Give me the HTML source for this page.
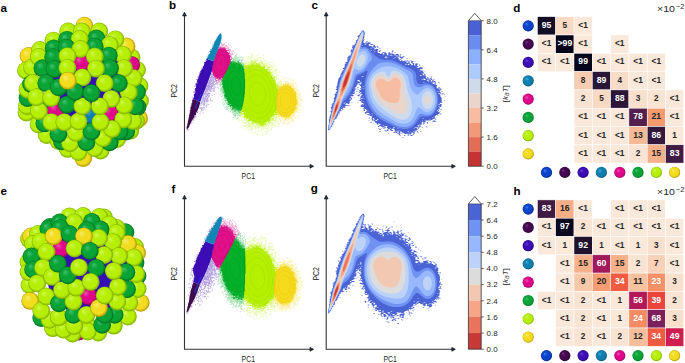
<!DOCTYPE html><html><head><meta charset="utf-8"><style>html,body{margin:0;padding:0;background:#fff;}svg{display:block;}</style></head><body><svg width="685" height="363" viewBox="0 0 685 363" font-family='"Liberation Sans", sans-serif'><defs><radialGradient id="gbl" cx="0.5" cy="0.5" r="0.5" fx="0.33" fy="0.3"><stop offset="0" stop-color="#4a78e8"/><stop offset="0.4" stop-color="#0a44cc"/><stop offset="0.78" stop-color="#0a44cc"/><stop offset="0.97" stop-color="#062a8a"/><stop offset="1" stop-color="#062a8a"/></radialGradient><radialGradient id="gdp" cx="0.5" cy="0.5" r="0.5" fx="0.33" fy="0.3"><stop offset="0" stop-color="#6a3078"/><stop offset="0.4" stop-color="#44074f"/><stop offset="0.78" stop-color="#44074f"/><stop offset="0.97" stop-color="#2a0432"/><stop offset="1" stop-color="#2a0432"/></radialGradient><radialGradient id="gin" cx="0.5" cy="0.5" r="0.5" fx="0.33" fy="0.3"><stop offset="0" stop-color="#6440d8"/><stop offset="0.4" stop-color="#3c0cb4"/><stop offset="0.78" stop-color="#3c0cb4"/><stop offset="0.97" stop-color="#24077a"/><stop offset="1" stop-color="#24077a"/></radialGradient><radialGradient id="gte" cx="0.5" cy="0.5" r="0.5" fx="0.33" fy="0.3"><stop offset="0" stop-color="#48a8d4"/><stop offset="0.4" stop-color="#0e80b0"/><stop offset="0.78" stop-color="#0e80b0"/><stop offset="0.97" stop-color="#0a5a80"/><stop offset="1" stop-color="#0a5a80"/></radialGradient><radialGradient id="gma" cx="0.5" cy="0.5" r="0.5" fx="0.33" fy="0.3"><stop offset="0" stop-color="#f050b0"/><stop offset="0.4" stop-color="#e0088a"/><stop offset="0.78" stop-color="#e0088a"/><stop offset="0.97" stop-color="#a00062"/><stop offset="1" stop-color="#a00062"/></radialGradient><radialGradient id="ggr" cx="0.5" cy="0.5" r="0.5" fx="0.33" fy="0.3"><stop offset="0" stop-color="#40c070"/><stop offset="0.4" stop-color="#0aa436"/><stop offset="0.78" stop-color="#0aa436"/><stop offset="0.97" stop-color="#067424"/><stop offset="1" stop-color="#067424"/></radialGradient><radialGradient id="gli" cx="0.5" cy="0.5" r="0.5" fx="0.33" fy="0.3"><stop offset="0" stop-color="#d0f850"/><stop offset="0.4" stop-color="#b6ee08"/><stop offset="0.78" stop-color="#b6ee08"/><stop offset="0.97" stop-color="#84b400"/><stop offset="1" stop-color="#84b400"/></radialGradient><radialGradient id="gye" cx="0.5" cy="0.5" r="0.5" fx="0.33" fy="0.3"><stop offset="0" stop-color="#f8ec70"/><stop offset="0.4" stop-color="#f2dc20"/><stop offset="0.78" stop-color="#f2dc20"/><stop offset="0.97" stop-color="#b89c00"/><stop offset="1" stop-color="#b89c00"/></radialGradient><marker id="arr" viewBox="0 0 10 10" refX="10" refY="5" markerWidth="4" markerHeight="4" orient="auto" markerUnits="userSpaceOnUse"><path d="M0,0 L10,5 L0,10 z" fill="#1d3a5c" stroke="#111" stroke-width="1.5"/></marker></defs><rect width="685" height="363" fill="#fff"/><path d="M184.5,13.3 L184.5,166.3 L312.6,166.3" fill="none" stroke="#333" stroke-width="1.1"/><path d="M182.6,15.9 L184.5,12.3 L186.4,15.9 z" fill="#1d3a5c" stroke="#111" stroke-width="0.7" stroke-linejoin="miter"/><path d="M310.0,164.4 L313.6,166.3 L310.0,168.20000000000002 z" fill="#1d3a5c" stroke="#111" stroke-width="0.7"/><path d="M326.2,13.3 L326.2,166.3 L454.4,166.3" fill="none" stroke="#333" stroke-width="1.1"/><path d="M324.3,15.9 L326.2,12.3 L328.09999999999997,15.9 z" fill="#1d3a5c" stroke="#111" stroke-width="0.7" stroke-linejoin="miter"/><path d="M451.79999999999995,164.4 L455.4,166.3 L451.79999999999995,168.20000000000002 z" fill="#1d3a5c" stroke="#111" stroke-width="0.7"/><text transform="translate(177.2,90.8) rotate(-90)" font-size="8.3" text-anchor="middle" fill="#262626" textLength="13.4" lengthAdjust="spacingAndGlyphs">PC2</text><text transform="translate(319.0,90.8) rotate(-90)" font-size="8.3" text-anchor="middle" fill="#262626" textLength="13.4" lengthAdjust="spacingAndGlyphs">PC2</text><text x="248.3" y="178.8" font-size="8.3" text-anchor="middle" fill="#262626" textLength="13.4" lengthAdjust="spacingAndGlyphs">PC1</text><text x="390.1" y="178.8" font-size="8.3" text-anchor="middle" fill="#262626" textLength="13.4" lengthAdjust="spacingAndGlyphs">PC1</text><text transform="translate(507.6,93.7) rotate(-90)" font-size="8" text-anchor="middle" fill="#262626">[<tspan font-style="italic">k</tspan><tspan font-style="italic" font-size="5.5" dy="1.5">B</tspan><tspan font-style="italic" dy="-1.5">T</tspan>]</text><text x="657" y="12" font-size="9.6" fill="#262626" textLength="18" lengthAdjust="spacingAndGlyphs">×10</text><text x="675.8" y="8.9" font-size="7" fill="#262626" textLength="8.6" lengthAdjust="spacingAndGlyphs">−2</text><path d="M184.5,196.3 L184.5,349.3 L312.6,349.3" fill="none" stroke="#333" stroke-width="1.1"/><path d="M182.6,198.9 L184.5,195.3 L186.4,198.9 z" fill="#1d3a5c" stroke="#111" stroke-width="0.7" stroke-linejoin="miter"/><path d="M310.0,347.40000000000003 L313.6,349.3 L310.0,351.2 z" fill="#1d3a5c" stroke="#111" stroke-width="0.7"/><path d="M326.2,196.3 L326.2,349.3 L454.4,349.3" fill="none" stroke="#333" stroke-width="1.1"/><path d="M324.3,198.9 L326.2,195.3 L328.09999999999997,198.9 z" fill="#1d3a5c" stroke="#111" stroke-width="0.7" stroke-linejoin="miter"/><path d="M451.79999999999995,347.40000000000003 L455.4,349.3 L451.79999999999995,351.2 z" fill="#1d3a5c" stroke="#111" stroke-width="0.7"/><text transform="translate(177.2,273.8) rotate(-90)" font-size="8.3" text-anchor="middle" fill="#262626" textLength="13.4" lengthAdjust="spacingAndGlyphs">PC2</text><text transform="translate(319.0,273.8) rotate(-90)" font-size="8.3" text-anchor="middle" fill="#262626" textLength="13.4" lengthAdjust="spacingAndGlyphs">PC2</text><text x="248.3" y="361.8" font-size="8.3" text-anchor="middle" fill="#262626" textLength="13.4" lengthAdjust="spacingAndGlyphs">PC1</text><text x="390.1" y="361.8" font-size="8.3" text-anchor="middle" fill="#262626" textLength="13.4" lengthAdjust="spacingAndGlyphs">PC1</text><text transform="translate(507.6,276.7) rotate(-90)" font-size="8" text-anchor="middle" fill="#262626">[<tspan font-style="italic">k</tspan><tspan font-style="italic" font-size="5.5" dy="1.5">B</tspan><tspan font-style="italic" dy="-1.5">T</tspan>]</text><text x="657" y="195" font-size="9.6" fill="#262626" textLength="18" lengthAdjust="spacingAndGlyphs">×10</text><text x="675.8" y="191.9" font-size="7" fill="#262626" textLength="8.6" lengthAdjust="spacingAndGlyphs">−2</text><rect x="468.4" y="20.70" width="12.800000000000011" height="14.60" fill="#4961d2"/><rect x="468.4" y="35.25" width="12.800000000000011" height="14.60" fill="#6a8bef"/><rect x="468.4" y="49.80" width="12.800000000000011" height="14.60" fill="#8db0fe"/><rect x="468.4" y="64.35" width="12.800000000000011" height="14.60" fill="#afcafc"/><rect x="468.4" y="78.90" width="12.800000000000011" height="14.60" fill="#cfdaea"/><rect x="468.4" y="93.45" width="12.800000000000011" height="14.60" fill="#e9d5cb"/><rect x="468.4" y="108.00" width="12.800000000000011" height="14.60" fill="#f6bda2"/><rect x="468.4" y="122.55" width="12.800000000000011" height="14.60" fill="#f4987a"/><rect x="468.4" y="137.10" width="12.800000000000011" height="14.60" fill="#e36c55"/><rect x="468.4" y="151.65" width="12.800000000000011" height="14.60" fill="#c53334"/><path d="M468.4,166.2 L468.4,20.7 L474.79999999999995,13.299999999999999 L481.2,20.7 L481.2,166.2 z" fill="none" stroke="#333" stroke-width="0.8"/><path d="M468.4,20.7 L481.2,20.7" stroke="#333" stroke-width="0.5"/><path d="M481.2,166.20 L483.7,166.20" stroke="#333" stroke-width="0.8"/><text x="486.59999999999997" y="169.00" font-size="8" fill="#262626" textLength="11" lengthAdjust="spacingAndGlyphs">0.0</text><path d="M481.2,137.10 L483.7,137.10" stroke="#333" stroke-width="0.8"/><text x="486.59999999999997" y="139.90" font-size="8" fill="#262626" textLength="11" lengthAdjust="spacingAndGlyphs">1.6</text><path d="M481.2,108.00 L483.7,108.00" stroke="#333" stroke-width="0.8"/><text x="486.59999999999997" y="110.80" font-size="8" fill="#262626" textLength="11" lengthAdjust="spacingAndGlyphs">3.2</text><path d="M481.2,78.90 L483.7,78.90" stroke="#333" stroke-width="0.8"/><text x="486.59999999999997" y="81.70" font-size="8" fill="#262626" textLength="11" lengthAdjust="spacingAndGlyphs">4.8</text><path d="M481.2,49.80 L483.7,49.80" stroke="#333" stroke-width="0.8"/><text x="486.59999999999997" y="52.60" font-size="8" fill="#262626" textLength="11" lengthAdjust="spacingAndGlyphs">6.4</text><path d="M481.2,20.70 L483.7,20.70" stroke="#333" stroke-width="0.8"/><text x="486.59999999999997" y="23.50" font-size="8" fill="#262626" textLength="11" lengthAdjust="spacingAndGlyphs">8.0</text><rect x="468.4" y="203.90" width="12.800000000000011" height="16.19" fill="#4b64d5"/><rect x="468.4" y="220.04" width="12.800000000000011" height="16.19" fill="#6f92f3"/><rect x="468.4" y="236.19" width="12.800000000000011" height="16.19" fill="#97b8ff"/><rect x="468.4" y="252.33" width="12.800000000000011" height="16.19" fill="#bcd2f7"/><rect x="468.4" y="268.48" width="12.800000000000011" height="16.19" fill="#dddcdc"/><rect x="468.4" y="284.62" width="12.800000000000011" height="16.19" fill="#f3c8b2"/><rect x="468.4" y="300.77" width="12.800000000000011" height="16.19" fill="#f6a586"/><rect x="468.4" y="316.91" width="12.800000000000011" height="16.19" fill="#e7745b"/><rect x="468.4" y="333.06" width="12.800000000000011" height="16.19" fill="#c83836"/><path d="M468.4,349.2 L468.4,203.9 L474.79999999999995,196.5 L481.2,203.9 L481.2,349.2 z" fill="none" stroke="#333" stroke-width="0.8"/><path d="M468.4,203.9 L481.2,203.9" stroke="#333" stroke-width="0.5"/><path d="M481.2,349.20 L483.7,349.20" stroke="#333" stroke-width="0.8"/><text x="486.59999999999997" y="352.00" font-size="8" fill="#262626" textLength="11" lengthAdjust="spacingAndGlyphs">0.0</text><path d="M481.2,333.06 L483.7,333.06" stroke="#333" stroke-width="0.8"/><text x="486.59999999999997" y="335.86" font-size="8" fill="#262626" textLength="11" lengthAdjust="spacingAndGlyphs">0.8</text><path d="M481.2,316.91 L483.7,316.91" stroke="#333" stroke-width="0.8"/><text x="486.59999999999997" y="319.71" font-size="8" fill="#262626" textLength="11" lengthAdjust="spacingAndGlyphs">1.6</text><path d="M481.2,300.77 L483.7,300.77" stroke="#333" stroke-width="0.8"/><text x="486.59999999999997" y="303.57" font-size="8" fill="#262626" textLength="11" lengthAdjust="spacingAndGlyphs">2.4</text><path d="M481.2,284.62 L483.7,284.62" stroke="#333" stroke-width="0.8"/><text x="486.59999999999997" y="287.42" font-size="8" fill="#262626" textLength="11" lengthAdjust="spacingAndGlyphs">3.2</text><path d="M481.2,268.48 L483.7,268.48" stroke="#333" stroke-width="0.8"/><text x="486.59999999999997" y="271.28" font-size="8" fill="#262626" textLength="11" lengthAdjust="spacingAndGlyphs">4.0</text><path d="M481.2,252.33 L483.7,252.33" stroke="#333" stroke-width="0.8"/><text x="486.59999999999997" y="255.13" font-size="8" fill="#262626" textLength="11" lengthAdjust="spacingAndGlyphs">4.8</text><path d="M481.2,236.19 L483.7,236.19" stroke="#333" stroke-width="0.8"/><text x="486.59999999999997" y="238.99" font-size="8" fill="#262626" textLength="11" lengthAdjust="spacingAndGlyphs">5.6</text><path d="M481.2,220.04 L483.7,220.04" stroke="#333" stroke-width="0.8"/><text x="486.59999999999997" y="222.84" font-size="8" fill="#262626" textLength="11" lengthAdjust="spacingAndGlyphs">6.4</text><path d="M481.2,203.90 L483.7,203.90" stroke="#333" stroke-width="0.8"/><text x="486.59999999999997" y="206.70" font-size="8" fill="#262626" textLength="11" lengthAdjust="spacingAndGlyphs">7.2</text><ellipse cx="88" cy="92" rx="42" ry="44" fill="#3410b4"/><circle cx="83.2" cy="158.0" r="8.9" fill="url(#gye)"/><circle cx="28.5" cy="56.0" r="8.9" fill="url(#gye)"/><circle cx="84.4" cy="25.7" r="8.9" fill="url(#gye)"/><circle cx="26.5" cy="112.5" r="8.9" fill="url(#gli)"/><circle cx="100.6" cy="150.5" r="8.9" fill="url(#gli)"/><circle cx="26.0" cy="70.5" r="8.9" fill="url(#gli)"/><circle cx="67.8" cy="148.9" r="8.9" fill="url(#gli)"/><circle cx="139.0" cy="118.5" r="8.9" fill="url(#gye)"/><circle cx="130.3" cy="130.7" r="8.9" fill="url(#gli)"/><circle cx="40.0" cy="50.0" r="8.9" fill="url(#gli)"/><circle cx="27.0" cy="106.0" r="8.9" fill="url(#gli)"/><circle cx="136.0" cy="121.0" r="8.9" fill="url(#gli)"/><circle cx="46.7" cy="135.0" r="8.9" fill="url(#gli)"/><circle cx="117.1" cy="139.0" r="8.9" fill="url(#gli)"/><circle cx="126.2" cy="131.5" r="8.9" fill="url(#ggr)"/><circle cx="27.5" cy="98.0" r="8.9" fill="url(#ggr)"/><circle cx="38.6" cy="124.5" r="8.9" fill="url(#gli)"/><circle cx="27.5" cy="89.5" r="8.9" fill="url(#gli)"/><circle cx="58.4" cy="140.9" r="8.9" fill="url(#gli)"/><circle cx="131.5" cy="57.5" r="8.9" fill="url(#gli)"/><circle cx="140.0" cy="101.0" r="8.9" fill="url(#gli)"/><circle cx="137.0" cy="70.0" r="8.9" fill="url(#gli)"/><circle cx="137.5" cy="107.0" r="8.9" fill="url(#ggr)"/><circle cx="139.5" cy="86.0" r="8.9" fill="url(#gli)"/><circle cx="31.0" cy="84.0" r="8.9" fill="url(#ggr)"/><circle cx="131.2" cy="64.9" r="8.9" fill="url(#gma)"/><circle cx="137.0" cy="92.0" r="8.9" fill="url(#ggr)"/><circle cx="45.5" cy="103.0" r="8.9" fill="url(#ggr)"/><circle cx="55.6" cy="110.2" r="8.9" fill="url(#gma)"/><circle cx="109.8" cy="113.0" r="8.9" fill="url(#gma)"/><circle cx="81.3" cy="63.0" r="8.9" fill="url(#gma)"/><circle cx="90.7" cy="115.0" r="8.9" fill="url(#gte)"/><circle cx="78.5" cy="152.0" r="8.9" fill="url(#gli)"/><circle cx="68.2" cy="31.5" r="8.9" fill="url(#gli)"/><circle cx="99.3" cy="31.5" r="8.9" fill="url(#gli)"/><circle cx="126.5" cy="46.5" r="8.9" fill="url(#gye)"/><circle cx="115.4" cy="39.4" r="8.9" fill="url(#gli)"/><circle cx="94.8" cy="148.1" r="8.9" fill="url(#gli)"/><circle cx="53.5" cy="40.6" r="8.9" fill="url(#gli)"/><circle cx="81.9" cy="31.5" r="8.9" fill="url(#gli)"/><circle cx="109.7" cy="142.3" r="8.9" fill="url(#ggr)"/><circle cx="32.0" cy="67.5" r="8.9" fill="url(#gli)"/><circle cx="133.0" cy="121.0" r="8.9" fill="url(#gli)"/><circle cx="38.8" cy="57.0" r="8.9" fill="url(#gli)"/><circle cx="62.0" cy="141.4" r="8.9" fill="url(#ggr)"/><circle cx="70.1" cy="143.2" r="8.9" fill="url(#gli)"/><circle cx="119.6" cy="131.5" r="8.9" fill="url(#ggr)"/><circle cx="67.0" cy="39.8" r="8.9" fill="url(#ggr)"/><circle cx="135.3" cy="106.3" r="8.9" fill="url(#ggr)"/><circle cx="96.4" cy="38.5" r="8.9" fill="url(#ggr)"/><circle cx="44.4" cy="123.4" r="8.9" fill="url(#ggr)"/><circle cx="33.0" cy="83.2" r="8.9" fill="url(#gli)"/><circle cx="86.5" cy="142.3" r="8.9" fill="url(#ggr)"/><circle cx="53.7" cy="48.4" r="8.9" fill="url(#ggr)"/><circle cx="122.9" cy="54.8" r="8.9" fill="url(#gli)"/><circle cx="103.0" cy="138.1" r="8.9" fill="url(#gli)"/><circle cx="58.4" cy="133.9" r="8.9" fill="url(#ggr)"/><circle cx="79.7" cy="39.0" r="8.9" fill="url(#gli)"/><circle cx="109.7" cy="45.1" r="8.9" fill="url(#gli)"/><circle cx="38.9" cy="111.1" r="8.9" fill="url(#gli)"/><circle cx="133.6" cy="78.2" r="8.9" fill="url(#gli)"/><circle cx="36.4" cy="97.2" r="8.9" fill="url(#gli)"/><circle cx="123.3" cy="119.5" r="8.9" fill="url(#gli)"/><circle cx="42.5" cy="68.2" r="8.9" fill="url(#ggr)"/><circle cx="112.1" cy="129.0" r="8.9" fill="url(#gli)"/><circle cx="51.4" cy="122.2" r="8.9" fill="url(#gli)"/><circle cx="66.7" cy="47.7" r="8.9" fill="url(#ggr)"/><circle cx="53.2" cy="57.2" r="8.9" fill="url(#ggr)"/><circle cx="124.1" cy="68.2" r="8.9" fill="url(#gli)"/><circle cx="94.8" cy="46.7" r="8.9" fill="url(#ggr)"/><circle cx="128.7" cy="92.3" r="8.9" fill="url(#gli)"/><circle cx="75.9" cy="132.7" r="8.9" fill="url(#gli)"/><circle cx="124.5" cy="105.5" r="8.9" fill="url(#gli)"/><circle cx="91.5" cy="131.5" r="8.9" fill="url(#ggr)"/><circle cx="108.8" cy="55.6" r="8.9" fill="url(#ggr)"/><circle cx="80.5" cy="49.0" r="8.9" fill="url(#gli)"/><circle cx="46.3" cy="83.2" r="8.9" fill="url(#ggr)"/><circle cx="64.3" cy="122.2" r="8.9" fill="url(#gli)"/><circle cx="67.5" cy="56.1" r="8.9" fill="url(#gli)"/><circle cx="54.5" cy="69.0" r="8.9" fill="url(#ggr)"/><circle cx="100.6" cy="122.0" r="8.9" fill="url(#gli)"/><circle cx="94.8" cy="56.5" r="8.9" fill="url(#gli)"/><circle cx="51.2" cy="98.0" r="8.9" fill="url(#gli)"/><circle cx="118.8" cy="83.2" r="8.9" fill="url(#ggr)"/><circle cx="110.0" cy="68.2" r="8.9" fill="url(#ggr)"/><circle cx="78.5" cy="121.5" r="8.9" fill="url(#gli)"/><circle cx="67.4" cy="67.8" r="8.9" fill="url(#gli)"/><circle cx="111.3" cy="98.9" r="8.9" fill="url(#gli)"/><circle cx="58.7" cy="87.3" r="8.9" fill="url(#ggr)"/><circle cx="96.0" cy="68.6" r="8.9" fill="url(#gli)"/><circle cx="67.0" cy="104.7" r="8.9" fill="url(#ggr)"/><circle cx="99.8" cy="106.3" r="8.9" fill="url(#gli)"/><circle cx="104.7" cy="83.2" r="8.9" fill="url(#gli)"/><circle cx="82.4" cy="106.3" r="8.9" fill="url(#gli)"/><circle cx="82.4" cy="77.4" r="8.9" fill="url(#gli)"/><circle cx="75.1" cy="91.8" r="8.9" fill="url(#ggr)"/><circle cx="91.5" cy="93.1" r="8.9" fill="url(#ggr)"/><circle cx="67.8" cy="80.7" r="8.9" fill="url(#gye)"/><ellipse cx="88" cy="272" rx="42" ry="44" fill="#3410b4"/><circle cx="29.0" cy="239.0" r="8.9" fill="url(#gli)"/><circle cx="52.9" cy="328.1" r="8.9" fill="url(#gli)"/><circle cx="31.0" cy="236.5" r="8.9" fill="url(#gye)"/><circle cx="41.3" cy="318.0" r="8.9" fill="url(#ggr)"/><circle cx="38.0" cy="234.0" r="8.9" fill="url(#gli)"/><circle cx="79.0" cy="331.5" r="8.9" fill="url(#gma)"/><circle cx="49.6" cy="319.8" r="8.9" fill="url(#gli)"/><circle cx="33.0" cy="244.0" r="8.9" fill="url(#gli)"/><circle cx="104.0" cy="217.5" r="8.9" fill="url(#gli)"/><circle cx="28.5" cy="262.0" r="8.9" fill="url(#gli)"/><circle cx="50.0" cy="227.0" r="8.9" fill="url(#ggr)"/><circle cx="29.5" cy="285.0" r="8.9" fill="url(#gli)"/><circle cx="125.4" cy="232.2" r="8.9" fill="url(#ggr)"/><circle cx="28.5" cy="272.0" r="8.9" fill="url(#gli)"/><circle cx="48.4" cy="229.0" r="8.9" fill="url(#ggr)"/><circle cx="135.0" cy="247.0" r="8.9" fill="url(#gli)"/><circle cx="137.0" cy="253.0" r="8.9" fill="url(#gye)"/><circle cx="116.6" cy="228.0" r="8.9" fill="url(#gli)"/><circle cx="87.4" cy="325.6" r="8.9" fill="url(#gli)"/><circle cx="137.5" cy="276.0" r="8.9" fill="url(#ggr)"/><circle cx="135.5" cy="263.0" r="8.9" fill="url(#ggr)"/><circle cx="38.8" cy="254.6" r="8.9" fill="url(#ggr)"/><circle cx="61.0" cy="248.8" r="8.9" fill="url(#gma)"/><circle cx="88.2" cy="296.0" r="8.9" fill="url(#gma)"/><circle cx="140.7" cy="302.8" r="8.9" fill="url(#gye)"/><circle cx="72.5" cy="333.5" r="8.9" fill="url(#gli)"/><circle cx="30.2" cy="300.9" r="8.9" fill="url(#gye)"/><circle cx="98.3" cy="332.5" r="8.9" fill="url(#gli)"/><circle cx="127.9" cy="316.5" r="8.9" fill="url(#gli)"/><circle cx="63.6" cy="329.7" r="8.9" fill="url(#gli)"/><circle cx="113.8" cy="325.6" r="8.9" fill="url(#gli)"/><circle cx="87.8" cy="331.5" r="8.9" fill="url(#gli)"/><circle cx="41.3" cy="310.7" r="8.9" fill="url(#gli)"/><circle cx="69.5" cy="216.5" r="8.9" fill="url(#gli)"/><circle cx="99.3" cy="217.0" r="8.9" fill="url(#gli)"/><circle cx="83.1" cy="216.0" r="8.9" fill="url(#gli)"/><circle cx="31.5" cy="256.5" r="8.9" fill="url(#ggr)"/><circle cx="59.6" cy="222.5" r="8.9" fill="url(#ggr)"/><circle cx="102.2" cy="324.8" r="8.9" fill="url(#ggr)"/><circle cx="137.6" cy="289.0" r="8.9" fill="url(#gli)"/><circle cx="74.2" cy="326.0" r="8.9" fill="url(#gli)"/><circle cx="40.5" cy="241.5" r="8.9" fill="url(#gli)"/><circle cx="129.3" cy="302.5" r="8.9" fill="url(#gli)"/><circle cx="109.2" cy="224.5" r="8.9" fill="url(#gli)"/><circle cx="58.7" cy="317.3" r="8.9" fill="url(#gli)"/><circle cx="114.6" cy="314.8" r="8.9" fill="url(#ggr)"/><circle cx="33.1" cy="269.5" r="8.9" fill="url(#ggr)"/><circle cx="128.0" cy="244.0" r="8.9" fill="url(#gye)"/><circle cx="136.2" cy="274.0" r="8.9" fill="url(#gli)"/><circle cx="134.0" cy="257.5" r="8.9" fill="url(#gli)"/><circle cx="91.8" cy="221.8" r="8.9" fill="url(#ggr)"/><circle cx="74.4" cy="222.5" r="8.9" fill="url(#gli)"/><circle cx="60.3" cy="228.1" r="8.9" fill="url(#ggr)"/><circle cx="116.6" cy="233.0" r="8.9" fill="url(#gli)"/><circle cx="37.2" cy="283.5" r="8.9" fill="url(#gli)"/><circle cx="53.7" cy="236.3" r="8.9" fill="url(#gye)"/><circle cx="104.7" cy="314.8" r="8.9" fill="url(#ggr)"/><circle cx="46.3" cy="296.5" r="8.9" fill="url(#gli)"/><circle cx="127.0" cy="289.3" r="8.9" fill="url(#ggr)"/><circle cx="100.5" cy="229.5" r="8.9" fill="url(#ggr)"/><circle cx="73.4" cy="314.8" r="8.9" fill="url(#ggr)"/><circle cx="117.3" cy="301.5" r="8.9" fill="url(#gli)"/><circle cx="46.5" cy="252.0" r="8.9" fill="url(#gli)"/><circle cx="86.5" cy="314.8" r="8.9" fill="url(#gli)"/><circle cx="43.0" cy="267.8" r="8.9" fill="url(#gli)"/><circle cx="86.8" cy="230.2" r="8.9" fill="url(#ggr)"/><circle cx="126.4" cy="272.2" r="8.9" fill="url(#ggr)"/><circle cx="69.5" cy="234.0" r="8.9" fill="url(#ggr)"/><circle cx="113.0" cy="242.1" r="8.9" fill="url(#gli)"/><circle cx="59.0" cy="303.3" r="8.9" fill="url(#ggr)"/><circle cx="98.9" cy="308.0" r="8.9" fill="url(#gye)"/><circle cx="119.0" cy="256.0" r="8.9" fill="url(#gli)"/><circle cx="98.9" cy="238.0" r="8.9" fill="url(#gli)"/><circle cx="117.9" cy="286.8" r="8.9" fill="url(#gli)"/><circle cx="84.0" cy="236.3" r="8.9" fill="url(#gye)"/><circle cx="52.1" cy="276.9" r="8.9" fill="url(#gli)"/><circle cx="73.5" cy="301.5" r="8.9" fill="url(#gli)"/><circle cx="104.7" cy="295.5" r="8.9" fill="url(#gli)"/><circle cx="62.0" cy="290.1" r="8.9" fill="url(#gli)"/><circle cx="113.8" cy="271.1" r="8.9" fill="url(#gli)"/><circle cx="57.9" cy="263.7" r="8.9" fill="url(#ggr)"/><circle cx="74.6" cy="248.5" r="8.9" fill="url(#gli)"/><circle cx="104.2" cy="255.0" r="8.9" fill="url(#gli)"/><circle cx="89.8" cy="250.8" r="8.9" fill="url(#ggr)"/><circle cx="76.3" cy="287.7" r="8.9" fill="url(#gli)"/><circle cx="67.8" cy="275.3" r="8.9" fill="url(#ggr)"/><circle cx="96.4" cy="267.8" r="8.9" fill="url(#ggr)"/><circle cx="90.7" cy="281.9" r="8.9" fill="url(#gli)"/><circle cx="79.0" cy="267.4" r="8.9" fill="url(#gli)"/><path d="M410.2,136l.9-.3.9.2.6-.3.3-.8.7-.1.6-.5.3-.4-.1-.9.3-.8.6-.1 0-.9.7-.4.5-.2.5-.5.4-.2.4-.8.7-.1.3-.6.6-.3 0-1 .7-.3.9-.1.4-.4 0-.1-.8 0-.5-.9.9-.3.6-.1 0-.9.2-.9 0-.9.6-.3.8-.1.2.9 0 .8-.2.8-.5.2.1.5.5-.1.4-.7.8-.2 0-.9 0-.9.5-.2.6-.3.4-.7.5-.1.3-.7.7.2.3.9.6-.4.2-.9.8.4.2.6.8-.1.2-.5.8-.2.8-.2.1-.5.9-.4.8 0 .5-.5.5.5.6.4.2.7.8-.3-.3-.6-.9-.2.1-1-.5-.1-.3-.7.2-1 .5 0 .3-.8.5-.5.1 0 .9.2.4.7.5 0 .1-.4-.6-.3 0-.7.5-.3.9-.1.4-.4.1-.5.1-.9.8-.4.1-.5-.6-.1-.1.6-.8.2-.9-.2 0-.5.5-.3.6-.2-.2-.5-.5-.3 0-1 .5-.2.7.2.1 1 .6 0 .2-.5-.2-.5-.8-.4-.1-.9.4-.8.9.1.6-.2-.1-.9.3-.9.1-.8 0-.1-.9-.1-.9-.1-.2-.7.7-.4.8 0 1 .2.3-.7-.8-.2-.3-.7.7-.4 0-1-.7-.4.2-.9-.2-.9-.2-.7-.7-.2 0-.9-.1-.9-.5-.3-.2-.6.5-.4.2-.5 0 .5.8 0 .4.8.6.2 0-.6.8-.3.9.3.1.5.8 0 .1-.5-.4 0-.1 0-.8-.4-.1-.6-.9-.1-.2.7-.7.3-.4-.8-.5-.4 0-.5-.9-.3-.3-.6.3-.7.6-.2.3-.7.6-.2.3-.9.5 0-.2-.4-.3 0-.5.8-.7-.4-.1-.9-.4-.5-.6-.1-.8-.1-.3.7-.7.3-.4.3-.4-.3-.2-.8-.1-.8.3-.7.5-.3-.1-.5-.9 0-.7-.3.1-.9 0-.9-.1-1-.2-.7-.4-.2-1-.2-.7-.2.3-.7.9 0 .1-.6-.6-.1-.6.1-.2.7-.9-.3-.4-.4-.3-.5-.1-.9-.1-.9.8-.3.1-.6-.5-.1-.1.5-.8.5-.1.5-.3.8-.5.1-.4-.1-.2.5-.8 0 0-.5-.2-.8-.2-.7-.8.2-.1.9.1.9-.6.2 0-.7-.8-.4-.1-.4.1-.8.6-.2-.2-.4-.9-.4-.1-.5.2-.5-.1-.5-.9-.1-.3-.7-.1-.5-.7-.4-.3-.9-.4-.5.6-.4-.2-.6-.6.2-.2.6-.9-.2-.1-.5-.8-.1-1-.3 0-.5.5-.1.9-.2.9.2.7-.3 0-.9-.2-.9-.5-.2-.4.6-.1 0-.4-.4-.9-.3-.6.3-.3.9-.9-.1-.9-.3-.4-.2 0-.4.8-.2.6-.1-.1-.6-.9-.2-.6-.2.2-.5.7-.3-.2-.9 0-.9-.5-.1-.4.5-.6 0-.4-.1-.3.6-.1.9.2.8-.7.2-.1-.6-.3-.9-.5-.3 0-.2.6-.4-.2-.6-.8-.1-.9-.2.4-.8.6-.1-.1-.5-1-.2-.8 0-.4-.7-.6 0-.1.5.6.2.2.7-.2.9.9.4.5.1-.5.2-.5.2.5 0 .9.5-.1.9-.8.3-.8-.3-.1-.9-.5-.1-.8-.4-.2-.4-.1-1 .1-.8-.2-1-.6 0-.3.5.1.9-.2.8-.5.1-.9.2-.6-.2.2-.8.9 0 0-.5.3-1-.8-.1-.5.1 0 1-.3.5-.6-.1-.2-.9-.2-.7-.6.2-.2.7-1 .2-.8-.1-.3-.8-.2-.8-.5-.4-.2.8 0 .9-.6.1-1 0-.1-.6.6-.1.4-.7-.4-.9-.7.4-.1.9-.5.1-.2-.5-.1-1-.2-.8-.9 0-.1-.5.5-.1.9-.4-.1-.8-.1-1-.1-.8-.6-.2-.8-.1-1 0-.7.3 0 .8-.1 1-.5 0-.1-.5-.2-.9-.2-.5-.8 0-1-.1-.1-.8-.3-.4-.5 0-.3.9 0 .9-.6.1 0-.5-.1-1-.7-.4-.2-.4-.8-.3-.5.3 0 .8-.2 1 0 .8-.1.5-.5 0-.5-.6-.6-.3.2-.9.5 0-.5-.3-.4-.4-.7-.2-.3-.6-.8 0-1 .1-.8-.3-.2.8-.8.2-.3.7-.5.2-.6-.2-.8-.4-.4-.3-1-.1-.6-.1.2-.9-.1-.9-.2-.9.7-.2.2-.7-.6-.2-.7-.2-.2 0-.9.3-.6.1-.3.6-.7-.2.1-.8.1-.8 1-.1.8-.1-.4-.4-.5-.4-.1-1-.4-.4-.4-.5-.8 0-.5-.9-.5 0-.8-.2-1 0-.6-.2-.1-.9.3-.9 0-.2-.4.4-1 .2-.8-.1-.9-.3-.1-.7-.8-.1-.5.6-.7.2.1.9-.7.4-1-.2-.4-.7.2-.8.2-.9.2-.5.4-.4-.1-.7-.7-.3.2-.4.5-.9 0-.5-.1-.4.1-.7 0-.7.3-.8.3-.5-.1-.7-.1-.6-.4-.9-.1-.5-.4-.4-.4-.5-.4.1-1 .3-.3.5-.5.4 0 .7-.5.7-.5.2-.4.5-.2.7-.2.6-.9.2-.2.5-.7.3-.2.6.6.3.5.1-.2.5-.3.9-.2.4-.3.5-.4.6-.9.3-.1.5.2.4-.1.5-.4.6-.2.7-.2.9-.6.4-.4.1 0 .6 0 .6-.4.2-.2-.5-.8-.1-.4.1-.1.8 0 1-.6.4.2.9-.2.9-.2.4-.9.5-.1.5.1.8 0 .2-.4.7-.4.5.5 0 .3-.8.7.4-.1.8-.2.5-.6.5-.1.8-.1 1-.5.3-.3-.8-.2-.5-.4.4-.2.6-.3.4-.4.8-.4.6-.1 0-.4-.6-.4.4 0 .2.7.4 0 .9-.1.9.1.9-.1.9-.6.3-1 0-.2.6.3.5-.1.4-.8.3-.2.6 0 .9-.1.9-.2.8-.4.5-.5.3-.7.2-.2.5 0 .5.9.1.8.2-.4.6-.8.2-.3.6-.6.4-.2.5-.3.5-.4.7-.5.2-.1.9-.1.8-.5.5-.2.5.4.3 0 .4-.4.3-.5.3-.1.9-.8.2-.2.7-.1.9-.1.5-.1.9-.3.5-.3.8 0 .9-.2.8-.2.6.4.4-.2.5-.7.4-.1.9.1.9.3.5-.1.4-.8.2-.3.7.7.3.9.1 0 .5-.5.2-.2.7-.2.6-.7.3-.2.8-.2.6-.7.2-.2.6.6.4.2.6-.2.5-.3.8-.4.5-.1.6-.6.2.1.7.6.3-.1.7-.3.6-.2.5-.2.9 0 .9-.7.2-.2.6-.7.4-.3.6.3.8 0 .5-.1.5-.4.6-.7.2.3.8.2.6.4.4-.1 1 0 .8-.5.2-.7.3.3.7.6.2-.2.9 0 .5-.4.8-.2.5-.2.9-.4.4-.2.6-.2.8.3.4-.1.5-.4.7-.4.6.2 1 .3.4-.1.5-.3.9.1.8-.2 1-.1.4-.4.9 0 .8-.1.5-.1 1 0 .9-.2.9.6.4.7 0 .4-.4.4-.5.2-.4.3-.9.3-.5.2-.5.4-.5.5.2.5-.3 0-.3-.6-.4.1-.6.2-.7.4 0 .2.8.3 0 .3-.4-.1-.8 0-.3 0-.3-.1-.8.5 0 .3 0 .3-.5.3-.9-.6-.4.3-.6.5-.4.3-.5.7-.3.3-.6.4-.8.4 0 .4-.9.3-.5 0-.8.7-.5.2-.5.1-.8.1-.7.8.2.2.8.4-.5 0-.4-.7-.4.2-.8.2-.5.6-.5.3 0 .3.6.5-.2.3-.8-.8-.3-.1-.6.1-.5.9 0 .1 0 .4 0 .2 1 .7 0 .1-.5-.1-.7-.7-.2.2-.7.9-.1.9-.1.9.1.2-.6-.6-.1-.2-.7.6-.3.9 0 .9 0 .6-.2.3 0 .9.2.6-.2-.2-.6-.8-.1-1 .2-.8-.3-1 .1-.6-.2.3-.4.3-.7.6-.3.4-.7.6.3.2.6 1 .1.8-.1.2-.6 0-.9 0-.9.7-.4.3-.5.3-.5.3-.8.5.5.5-.5 0-.1-.2-.9-.6-.4-.2-.6-.7-.3.3-.7.9 0 .9.1.9-.1.1-.6-.1-.7-.9-.1-.2-.6.6-.2 1 .1.6-.3.1-.9-.2-.9 0-1 .5-.4.3-.5.1-.9.8-.3.4-.5-.8-.5-.3.9-.7.1-.1-.5.1-1 .5-.1.8-.3.1-.4.4-1 .1-.4.8-.4.2-.5-.2-.4.1-.6.8-.1 1 .2.8-.1.3-.8.2-.6.7.1 0 1-.2.9-.5 0-.4.9-.5.3-.1-.8-.8-.4-.4.9.9.1.4.7.4.2.7.3 0 .9.3.4 0 .5-1 .4 0 .5.5.4.6 0-.1.7-1 0-.8.2-.3.5.5.4 0 1-.7.3-.1.6.6 0 .2-.5.6-.1 1-.2.2.8-.7.2-.2.7-.7.3-.2.5-.7.2-.9.2-.5.1 0 .9.5.1.9.3.7-.4 0-.9.6-.3.3-.6.7-.2.8.1.6.1-.1.5-.9.1-.3.8-.1.7-.7.1-.1 1-.2.6-.5.2.1.6.8.4-.4.7-.8.1.1 1 .7 0 1 .2.3.7-.2.9.7.2 1 0 .5.2 0 .9 0 .9-.5.3-.4-.7-.1-.6-.9.1 0 .4.2.5-.6.3-.6.1.1.8.2.6.7.1.9 0 .9 0 .4.5.5.3.2.9-.7.2-.2-.6-.6-.2-.3.6.7.1.2.8 0 .9.2.8 1-.2.5-.2-.1-.6-.6-.2.1-1 .5 0 .8 0 .1.5.5.8.8.1.2.4-.6.3-.7.2-.2.6-.9 0-.7.3.3.6.5.3.1.9.7.3.2-.7.3-.9.8.1 1 .2.8 0 .1.6-.1.5-.8.2-1 .1-.5 0 .3.5.7 0 .9.3.7.2.2.4.9.2.9.1.2.6.2.9-.2.9 0 .9.1.9.2.6.7-.1.1-.9.6.4.4.7.7.2.2.4.6.5.1.9.6.1.8.3.1.5.8.5.1.5.6-.1-.1-.9.4-.6.6.1.3.7.9.1.1.6-.6.1-.8.3 0 .8-1 .1-.5.1.1.4.9.4.5.3 0-.7-.6 0 .6 0 .4-.7.9 0 .4.7.5.2.9 0 .2.7.3.5.8.4 0 .6.7-.1.3-.7.8 0 .3-.7-.3-.7-.8 0-.2-.6.6-.2.9-.1.9 0 .7.3-.3.7-.6.1.2.6.5.4.4.6.5.3-.5 0-.3.9-.6.2-.1.6-.8.3-.1-.7-.8-.1-.6.1.2.6.8 0 .4.8.1.5.5-.1 0-.9.8-.4 1 .3.3-.8-.2-.9.7-.3.7.3.3.6.6.3.2.6 1 .1.8 0 .5-.3 0-.7-.9 0-.8-.1.4-.7.7-.2.1-.6.7.1.3.6.8.1.1.7.3.8-.1 1-.3.7-.8 0-.3.6.7.2.7-.2.2-.7.7.2.2.6.9 0 .8.4.1.5.9 0 .3.8.6.3.2.6.7.3.4-.7-.9-.4 0-.6.5 0 .3-.8-.8-.3 0-.7.5 0 .3-.8.2-.9.5.4 0 .9.8.4.5.3.8.1.5.5.5.1.4.6.9 0 .9-.2.4-.1.5.1.3.9 0 .9.2.6.4-.2.4-.8-.3-1 .3-.7.6.3.3.9.5.1.4.8-.8.4 0 .3.4-.3zM358.9,36.6l-.1-.4.3 0-.2.4zM363.4,40.2l-.5-.4.1-.5.6 0-.2.9zM367.4,43.2l-.8 0-.4-.8.8-.3.7.3-.3.8zM362.5,43.8l-.1-.4.2 0-.1.4zM365.2,44.8l-.6-.1.2-.8.7-.1.1-.6.7.2-.1.8-.6.2-.4.4zM372.4,47.4l-.7-.4 0-1-.7-.2-.8.1-1-.2-.4-.1 0-.9 0-.6.9 0 .7.1.2.8.9-.1.9.1.9-.2.3.8-.3.9-.2 0-.3 0-.4.9zM362.5,45.7l-.8-.1.3-.5.7.1-.2.5zM378.5,47.8l-.2-.8-.4-.5-.3-.5-.7 0-.2.5.2.6.8.3.1.7.7-.3zM354,47.9l-.2-.5.4 0-.2.5zM374.2,48.2l-.8-.4.4-.7.8.3-.4.8zM352.6,50.6l-.1-.5-.2-.9-.1-.9.8 0 0 .9-.2.9-.2.5zM371.5,48.8l-.8 0-.2-.5.5-.2.7.2-.2.5zM380.6,48.8l-.1-.7-.9-.1-.1.8.5 0 .6 0zM388.2,48.8l0-.6-.6.1.1.5.5 0zM371.5,51l-.5-.3-.4-.6.9-.1 0 .6 0 .4zM373.3,50.6l-.5-.4 0-.1.7 0-.2.5zM379.7,51.9l-.3-.5.6 0 .7-.4-.1-.9-.6-.1-.5.1-.1.9-.7.4-.3.5.8.1.5-.1zM393.2,51.9l.1-.9-.1-.9-.6-.1 0 .6-.4.8-.5 0 .1.8.8-.1.6-.2zM351.7,52.2l-.3-.8.8 0 0 .5-.5.3zM375.1,52.1l-.6-.2.1-.6.8.1-.3.7zM374.2,53l-.5-.2.1-.6.6.2-.2.6zM395.5,52.8l-.1-.7-.7.3.2.6.6-.2zM384.1,54.7l-.5-.1-.4-.6-.7-.3.3-.7.8-.1.9.3-.3 1-.1.5zM402.5,58.6l.1-.7.8-.1 0-.3 0-.3 1-.2.1-.6-.6-.2-.9.1-.6.1-.2.9-.3 0-.7-.2-.5-.3-.1-.8-.2-1 .8-.2.1-.6-.5-.2-.3.6-.7.3-.1.6-.2.9.1.9.2.8 1-.2.5.3.3.9.9-.5zM383.2,55.4l-.9-.3 0-.1.9 0 0 .4zM390.4,56l-.5 0-.2-1 .7 0 .1.5-.1.5zM392.2,56.2l-.7-.2 0-1 .7-.2.1.7-.1.7zM397.2,57l-.6-.2 0-.8-.1-1 .7-.1.2.6 0 .9-.2.6zM386.4,58.5l-.5-.3-.7-.4-.6-.1 0-.4.8 0 .4-.9.6-.3.3.7-.3 1 0 .7zM388.2,57.8l-.6 0 .1-.7.7.2-.2.5zM395.4,57.9l-.7-.1.2-.6.9.1-.4.6zM396.2,57.4l0-.1 0 .1zM349,58.7l-.6-.1.2-.7.7.3-.3.5zM394.4,58.7l-.8 0-.1-.5.5-.2.6.2-.2.5zM407.6,58.6l-.1-.5-.9 0-.2.5.6.2.6-.2zM410.3,58.6l-.1-.4-.5 0 .1.6.5-.2zM415.4,61.8l-.2-.5-.5.1 0 .5.7-.1zM347.6,62.5l0-.3 0 .3zM403.4,62.6l-.5-.4.5-.1 0 .5zM347.2,63.6l-.7 0 .3-.7.5.3-.1.4zM406.2,65.3l-.7-.3-.1-.9.8-.3.3.7-.3.8zM409.3,65l-.9 0-.6 0-.1-.9.7-.4.9.2.1.6-.1.5zM420.2,65.8l0-.8-.1-.7-.5-.3 0 .5-.1.9.1.7.6-.3zM416.5,66.8l-.5-.2-.4-.3.4-.1.6.1-.1.5zM345,67.3l0-.1 0 .1zM414.2,67.4l0-.2 0 .2zM424.2,67.6l-.2-.4-.3 0 0 .5.5-.1zM415.2,68.3l0-.2 0 .2zM420.1,71.8l-.6-.1.1-.6.8.1-.3.6zM425.5,71.7l-.5-.5-.5 0 .1.6.9-.1zM341.8,74l-.1-.5.1-.8.5.4-.2.4-.3.5zM424.2,75.8l-.5-.3-.5-.4-.5-.3-.1-.8 0-.9.6-.2.4.6.1.7.7.2-.1.9-.1.5zM341.4,76l-.8-.2.3-.9.7.4-.2.7zM421.4,76.1l-.8-.2-.6-.1.1-.5.9-.2.6.2-.2.8zM363.4,76.8l-.9-.1-.9 0 0-.5.4 0 1-.1.5.1-.1.6zM425.5,76.7l-.5-.4 0-.1.7 0-.2.5zM339.6,78.9l0-.5 0 .5zM425.5,80l-.9-.1-.9 0-.2-.5 0-1 .7-.2.3.7.5.1.6.4-.1.6zM422.4,80l-.7-.2.2-.7.8.3-.3.6zM429.1,81.8l-.7-.2-.6-.3-.4-.6-.6-.3 0-.2.7-.4.3-.6.6.2.1.8.1.8.7.2-.2.6zM430.4,80.1l-.8-.1-.2-.6.6-.4.7.4-.3.7zM360.2,81.7l-.8.1-.6-.2-.4-.7-.8 0-.3-.7.7-.3.9.2.6.1.3.7.5.3-.1.5zM431.4,81.7l-.7-.1.1-.9.1-.6.9-.2.8.3-.4.9-.5.1-.3.5zM424.2,83l-.5 0-.2-1 .7 0 .1.5-.1.5zM432.2,83.1l-.4-.3-.1-.8.5-.2.3.7-.3.6zM434.5,84.8l-.5-.5-.4-.2-.9 0-.4-.7.9-.4 0-.5.4-.7.9 0 .2.7 0 .9-.1.9-.1.5zM439.5,83l-.1-.5-.4-.5-.5 0-.1 1 .6 0 .5 0zM429.1,83.6l-.5-.2.5-.1 0 .3zM363.4,87l-.5 0-.1-.9.6 0 0 .5 0 .4zM358.6,87.9l-.2-.6-.8 0-.2.6.6.4.6-.4zM361.6,88.9l0-.5.4 0-.4.5zM363.4,88.9l-.8-.1.4-.7.5.3-.1.5zM364.8,88.9l-.1-.5.3 0-.2.5zM440.4,89.8l-.5-.5-.5.5-.4-.6-.4 0-.2-.8.6-.2.7.2.2.8.5 0 0 .6zM358.6,89.7l-.2-.8-.8.1-.1.7.5.1.6-.1zM357.3,92l.1-1-.8-.2-.1.7.1.6.7-.1zM438.1,92.1l-.5-.1 0-1 .5-.2.2.7-.2.6zM442.4,92l0-1-.7-.2-.1.7.1.6.7-.1zM353.5,93.1l-.7-.2.2-.5.6 0-.1.7zM336,93.9l-.4-.6.8 0 0 .4-.4.2zM439.4,94.2l-.8-.2-.3-.7.7-.3.9.3-.5.9zM351.2,94.8l-.6-.2.2-.6.7.2-.3.6zM356.5,94.6l-.3-.6-.6.2.2.8.7-.4zM438.1,95.5l0-.4 0 .4zM363.4,97l-.6-.1.2-.6.5.1-.1.6zM442.9,96.9l-.3-.5-.1.5.4 0zM445.4,96.9l-.1-.6-.6.1.1.6.6-.1zM354.5,97.8l-.1-.7-.6.3.2.4.5 0zM334.6,98.4l0-.2 0 .2zM350.4,100l-.6-.4-.2-.9.3-.7.7.2.1 1-.3.8zM362.5,98.8l-.9 0-.9.1-.2-.7.7-.1.8 0 .9.1-.4.6zM364.3,98.8l-.8-.1.3-.7.7.2-.2.6zM357.1,99.6l0-.5-.3.5.3 0zM358.5,101l.1-1-.4 0 .2 1 .1 0zM362,101l-.4 0 0-1 .2 0 .2.9 0 .1zM441.2,101l-.2-.5.2-.5.2.5-.2.5zM444.4,101l0-1-.4-.1-.2.6.2.6.4-.1zM363.4,102l-.7-.1.3-.6.5.1-.1.6zM345.4,103.1l-.7-.3.3-.5.5 0-.1.8zM352.2,102.8l0-.6-.8.1.3.6.5-.1zM358.6,102.8l-.2-.6-.8.1-.1.5.5 0 .6 0zM439.4,102.8l-.1-.5.3 0-.2.5zM445.1,102.8l-.3-.5 0 .5.3 0zM344.5,103.9l-.9-.1 0-.6.4-.2.8.2-.3.7zM345.4,103.7l0-.1 0 .1zM332.8,105.2l-.1-.6.1-.7.5.2-.1.5-.4.6zM439.4,105.2l-.8-.2.1-.9.7-.1.3.6-.3.6zM366.1,105.9l-.6 0 .1-.5.5.2 0 .3zM343.2,107.1l-.6-.3.1-.4.5 0 0 .7zM439.4,107.2l-.8-.3-.1-.5.5-.1.7.1-.3.8zM342.2,107.9l-.5-.2.2-.5.5 0-.2.7zM442.2,110l0-1-.5 0-.3.5.3.6.5-.1zM438.1,111.3l-.9-.3-.5-.2.3-.4.6-.1.8.1-.3.9zM362.5,111.3l-.1 0 .1 0zM368.4,111.8l-.7 0 .2-.6.5.1 0 .5zM372.4,114.2l-.6-.2.1-.9.1 0 .4.5 0 .6zM440.4,114.9l.4-.8.6-.1 0-.9-.6-.1-.2.6-.2.8-.6 0 .1.6.5-.1zM437.2,114l0-.1 0 .1zM370.2,115.1l-.6-.2.1-.6.5.1 0 .7zM372.4,115.9l-.6-.1.1-.9.2 0 .4.5-.1.5zM434.5,115l0-.2 0 .2zM434.5,115.9l0-.3 0 .3zM369.4,119l0-1 .8-.3 0-.5-.5-.1 0 .5-.9.3-.1.6.1.5.6 0zM433.2,117.9l-.9-.3.4-.7.6.3-.1.7zM437.2,117.6l0-.6-.6.2.2.5.4-.1zM336.9,119l.4-.7 0-.3-.8 0 .3 1 .1 0zM374.2,120.2l-.9-.4 0-.7-.6-.1.1-1 .4 0 .3 0 .3 0 .4.5.3.9-.3.8zM423.2,119l-.7 0 .3-1 .4 0 .1.5-.1.5zM429.1,119.1l-.5-.1.5-.3 0 .4zM329.6,119.9l-.1-.5.3 0-.2.5zM378.2,120.1l-.8.1-.6-.4.1-.5.9 0 .6.1-.2.7zM430.4,120l-.8-.1 0-.3.4-.2.5 0-.1.6zM369.4,120.8l-.2-.6-.6.1.2.6.6-.1zM377.4,120.8l-1 .3-.8 0-.3-.8.7-.2.9.2.5.4 0 .1zM422.4,120.9l-.5-.1.2-.5.3 0 0 .6zM425.5,120.8l-.9 0 0-.3.5-.2.4 0 0 .5zM432.3,122.1l.9-.4.8 0 1 0 .8 0 .5-.1 0-.5-.9 0-.8-.3-.1-.6-.9 0-.1.6-.8.2-.1.6-.8.5 0 .3.5-.3zM381.8,121.7l0-.2 0 .2zM371.6,123l.1-.9-.7-.2-.5.2 0 .9.5.2.6-.2zM428.2,123.9l0-.6-.7-.3.3-.6.4-.3-.4-.1-1-.1-.1.7.1.5.9.3.1.6.4-.1zM419.2,123l-.5 0 .4-.4.1 0 0 .4zM373.6,123.9l-.3-.7-.6.2.1.6.8-.1zM426.3,123.4l-.4 0 .4 0zM433.2,123.4l-.5 0 0 .5.5-.5zM377.8,124l0-.3 0 .3zM420.1,125.2l-.7-.4.2-.6.8.2-.3.8zM383.6,125.7l-.8.2-.2-.7.6-.1.4.6zM419.2,126.7l-.8-.1-.1-.6-.8-.3.3-.6 1 .1.6 0 0 1-.2.5zM422.9,126.2l-.1 0 .1 0zM427.1,128l.2-.5 0-.5-.8-.4-.1-.8-.6.4.2.5.8.3 0 1 .3 0zM384.1,128.3l-.8-.3.1-1 .7-.2.3.7-.3.8zM394.4,128.2l-.8.1-.2-.8.2-.5.8 0 .2.5-.2.7zM416.5,128.1l-.9-.1-.9 0 0-.3.5-.4.4.4.4-.5.5-.2.3.5-.3.6zM417.4,129.2l-.6-.3.2-.9.4-.3.1-.7.8-.3.1.8-.1.7-.7.2-.2.8zM422.4,128l.2-1-.7-.1-.2.6.2.5.5 0zM380.7,129.8l.3-.9.5 0-.1-.7-.5.2-.4.7-.9 0-.3-.7-.6-.3-.1.8.6.2.1.7.7.2.7-.2zM390.4,129.2l-.8-.3.4-.8.6.3-.2.8zM398.5,128.9l-.9 0-.1-.5.5 0 .5 0 0 .5zM414.2,129.2l-.6-.3.2-.7.7.2-.3.8zM420.8,128.4l-.3 0 .3 0zM420.8,129.8l.4-.5-.6-.4-.1.9.3 0zM396.7,129.8l0-.1 0 .1zM399.4,130.7l-.9-.1.5-.5.4.1 0 .5zM415.2,130.7l-.6-.1.1-.4.6 0-.1.5zM398.5,133.2l-.9 0-.3-.8.2-.8.1-1 .4 0 .5.4.1.6.1.8-.2.8zM380.5,132l.1-.9-.6-.1-.5.1.1.9.4 0 .5 0zM396.2,132.2l-.6-.2.1-.9.5-.3.2.8-.2.6zM408.4,132.2l-.7-.2.1-.9.6-.1.2.6-.2.6zM414.2,132.1l-.7-.1.2-.9.5-.1.2.6-.2.5zM418.3,132.9l0-.6-.7-.3.1-.9-.7-.3-.2.8.2.5.8.3 0 .6.5-.1zM420.8,132l.5-.4.2-.5-.5 0-.5 0 0 .9.3 0zM389.9,133.4l-.9-.1-.8-.4 0-.6-.5.1 0 .5.9.5.4.1.9-.1zM391.4,132.4l-.6 0 0 .3.6-.3zM410.2,133.1l-.6-.2.2-.6.5.1-.1.7zM412.4,135l-.8 0-1 0-.3-.8.8-.3.2-.5.2-1 .5 0 .6 0 .3.6.7.4-.2.8-.6 0-.4.8zM390.4,133.4l-.4 0 .4 0zM399.4,134l-.7-.2.3-.6.6.2-.2.6zM402.3,133.8l-.2-.8-.8.4.3.7.7-.3zM396.3,134.7l-.1-.5-.4 0 .4.5.1 0zM401.4,135.2l-.6 0 .6 0zM405.5,135.6l-.3-.7-.8.2-.8.1.3.5.9.1.7-.2zM403.5,137.9l-.1-.6-.8 0-.1.6.5 0 .5 0zM409.9,137.4l-.2 0 .2 0z" fill="#4961d2" fill-rule="evenodd"/><path d="M328.8,129.8l.6-.5.4-.4.3-.6.4-.8.3-.5.2-.4.4-.9.2-.5.3-.6.4-.7.2-.5.3-.7.3-.6.2-.5.4-.7.3-.6.2-.5.4-.7.3-.6.3-.5.3-.6.4-.7.2-.5.3-.5.4-.8.3-.5.2-.4.5-.8.2-.6.3-.4.3-.7.4-.7.2-.4.4-.6.3-.8.2-.4.3-.8.3-.6.2-.5.3-.8.2-.5.4-.8.2-.5.2-.5.5-.8.2-.5.3-.4.4-.6.4-.5.5-.5.5-.4.4-.4.4-.4.5-.5.5-.5.4-.5.4-.6.5-.6.3-.4.3-.4.3-.5.4-.7.4-.6.3-.5.3-.5.4-.8.2-.5.3-.5.4-.8.2-.5.3-.6.3-.7.2-.5.3-.9.2-.4.3-.9.2-.5.3-.8.1-.5.3-.9.1-.5.3-.9.2-.4.2-1 .2-.4.3-.9.1-.5.4-.8.2-.5.3-.5.4-.4.5-.5.5-.4.8-.4.5-.3.4-.2.9-.4.5-.2.6-.3.7-.4.5-.2.4-.3.8-.4.6-.4.4-.3.4-.3.8-.4.6-.2.4.6-.2 1-.2.9-.1.4-.2.9-.2.4-.2 1-.2.7-.2.6-.2.9-.1.4-.2 1-.2.8 0 .5-.2.9-.1.9-.1.9 0 .6-.1.8-.1.8 0 1 0 .8 0 1 .1.8 0 1 .1.6 0 .7.1.9.1.9.1.9.1.5.1.9.2.8.1.6.2.8.3.9.1.5.3.8.1.5.3.9.2.5.3.9.2.4.3.6.3.8.2.4.4.8.3.6.2.4.4.7.4.7.3.4.3.4.3.7.5.6.4.5.3.5.3.5.4.4.4.5.5.5.4.5.4.5.5.5.5.4.4.5.4.4.5.4.5.4.4.4.6.4.6.4.6.5.4.3.5.3.5.3.8.4.5.4.5.2.5.4.8.4.5.2.5.2.8.5.5.2.5.3.8.4.5.2.5.2.8.4.5.3.5.3.8.3.5.2.6.3.7.4.5.2.6.4.7.3.5.2.8.3.5.2.6.3.7.3.6.2.8.2.6.2.8.2.8.2.5.1.9.1.9.1.9 0 .9 0 .9-.1.8-.1.6-.2.8-.2.5-.2.9-.3.4-.3.5-.2.8-.5.5-.4.5-.3.5-.4.4-.4.4-.4.5-.5.5-.5.4-.5.4-.6.4-.4.3-.5.3-.5.4-.5.4-.7.4-.6.4-.4.3-.4.3-.5.4-.5.5-.4.5-.4.8-.5.5-.2.9-.1.9 0 .9.1.9.1.9 0 .9-.1.9-.1.8-.2.6-.1.6-.3.7-.3.5-.3.4-.3.6-.5.5-.4.4-.4.4-.5.4-.5.4-.5.5-.7.3-.6.2-.4.3-.6.4-.8.2-.4.3-.9.2-.5.2-.8.1-.5.2-.9.2-.9.1-.5.1-.8.1-.9 0-.9 0-1 0-.8 0-1-.1-.8-.1-1-.1-.4-.1-.9-.2-.9-.2-.4-.2-.9-.2-.5-.3-.9-.2-.5-.4-.8-.2-.5-.2-.5-.4-.6-.5-.7-.3-.5-.4-.4-.4-.4-.4-.5-.5-.5-.6-.4-.5-.4-.5-.3-.5-.2-.8-.4-.5-.1-.9-.2-.9-.1-.9 0-.9 0-.9.1-.9.2-.5.1-.8.1-1 .2-.8 0-1-.2-.5-.1-.8-.5-.5-.4-.4-.5-.3-.5-.2-.4-.3-.9-.1-.7-.1-.6 0-1-.1-.8 0-1-.1-.8-.1-1-.1-.4-.3-.9-.2-.4-.3-.9-.4-.5-.3-.5-.4-.4-.5-.4-.5-.5-.7-.4-.4-.3-.4-.2-1-.4-.4-.2-.7-.3-.7-.2-.6-.3-.7-.2-.6-.2-.7-.3-.5-.2-.9-.4-.4-.2-.6-.3-.8-.4-.4-.2-.5-.2-.8-.5-.5-.3-.5-.3-.6-.3-.7-.4-.5-.2-.5-.3-.8-.4-.5-.2-.6-.3-.7-.3-.5-.2-.9-.3-.4-.1-1-.3-.5-.2-.8-.1-.9-.2-.7-.1-.7-.1-.8-.1-1 0-.8-.1-1 0-.8 0-1-.1-.7 0-.6-.1-.9-.2-.9-.2-.5-.1-.7-.4-.6-.3-.5-.3-.4-.3-.5-.4-.6-.5-.6-.4-.5-.4-.5-.4-.5-.4-.4-.4-.4-.3-.5-.4-.5-.4-.5-.5-.4-.4-.4-.4-.5-.5-.4-.6-.4-.5-.5-.6-.4-.6-.4-.4-.5-.4-.5-.5-.5-.4-.4-.2-.5-.3-.9-.3-.8-.1-1 0-.8.1-1 .1-.6-.2-.3-.5.1-.5.1-.8.2-1 .1-.5.2-.8.2-.9.2-.4.2-.9.1-.5.3-.9.2-.7.1-.6.2-1 .1-.4.2-.9.2-.9 0-.6.1-.8.1-.8-.1-1-.2-.4-.7-.2-.5.2-.5.4-.4.6-.4.7-.3.5-.3.5-.4.6-.3.7-.3.5-.2.6-.4.7-.2.5-.4.8-.2.5-.2.6-.3.8-.2.5-.4.8-.2.5-.3.6-.3.8-.2.4-.3.9-.3.5-.2.5-.3.8-.2.5-.4.8-.2.5-.2.6-.4.7-.1.5-.4.9-.2.4-.3.8-.2.6-.2.5-.4.9-.2.4-.3.9-.2.5-.3.6-.3.7-.2.5-.3.8-.2.5-.4.8-.2.5-.2.5-.4.9-.2.4-.3.7-.3.7-.3.5-.3.7-.3.6-.2.4-.4.8-.3.6-.2.4-.4.8-.3.6-.2.4-.4.9-.3.5-.2.4-.4.9-.2.5-.2.5-.5.9-.2.4-.3.6-.3.8-.2.4-.3.9-.3.5-.2.5-.3.8-.2.5-.4.8-.1.5-.3.9-.1.4-.2 1-.2.6-.2.7-.2.9-.1.4-.1 1-.2.8-.1.6-.1.8-.2.9-.1.9-.1.4-.2 1-.2.8-.1.5-.2.9-.2.7-.1.7-.2.8-.2.5-.2.9-.2.4-.3 1-.2.4-.3.9-.2.5-.3.8-.2.5-.2.6-.3.7-.2.5-.3.9-.2.4-.3 1-.1.5-.2.8-.2.9-.1.4-.2 1-.1.8-.1.5-.2.9-.2.9-.1.5-.2.8-.2 1 0 .4-.2.9-.2.9-.1.4-.2 1-.2.8-.1.5-.2.9-.2.8-.1.6-.2.8-.1.5-.2.9-.2.9-.2.5-.1.8-.2.9 0 .5 0 .9.4.5.1 0z" fill="#6a8bef" fill-rule="evenodd"/><path d="M329,129.3l.6-.4.3-.5.3-.4.4-.8.2-.6.3-.4.3-.9.3-.5.2-.5.4-.9.2-.4.3-.6.4-.8.2-.4.3-.7.3-.7.2-.4.4-.7.3-.7.2-.4.4-.8.3-.6.2-.4.4-.8.3-.6.2-.4.4-.8.3-.6.2-.4.4-.7.3-.7.3-.4.3-.7.3-.7.2-.4.4-.9.1-.5.3-.8.2-.5.3-.8.2-.5.3-.8.2-.6.2-.6.3-.7.2-.5.4-.9.2-.5.3-.4.4-.8.4-.6.4-.4.4-.4.4-.5.4-.5.4-.4.5-.4.4-.5.3-.5.4-.5.5-.6.4-.6.3-.5.3-.4.3-.7.4-.7.3-.4.3-.6.3-.8.2-.4.3-.8.3-.6.2-.5.3-.9.2-.4.3-.9.1-.4.3-.9.1-.5.3-.9.2-.8.1-.6.2-.8.2-.5.2-.9.2-.8.1-.6.3-.8.3-.5.2-.5.5-.5.4-.3.9-.5.5-.1.8-.3.5-.2.9-.3.4-.2.6-.2.8-.5.4-.2.5-.4.5-.3.5-.4.5-.5.4-.5.5-.4.3-.4.4-.6.5-.6.4-.6.3-.5.3-.5.3-.5.5-.8.3-.4.3-.5.3-.5.4-.7.5-.6.4-.4.4-.5.4-.5.3-.4.3-.4.4-1 0-.8-.3-1-.2-.4-.4-.8-.2-.6-.3-.4-.3-.6-.4-.8-.3-.4-.3-.4-.4-.7-.4-.7-.4-.4-.4-.5-.5-.5-.5-.4-.5-.2-.5-.2-.8-.3-1 0-.8.1-.8.2-.6.1-.9.2-.3-.8.1-.9.1-.9.1-.5.3-.8.2-.8.1-.6.3-.9.1-.5.2-.8.2-.5.2-.9.2-.7.2-.7.2-.8.1-.5.2-.9.2-.8.1-.6.1-.8.2-1 0-.8-.2-1-.6-.3-.6.3-.4.5-.4.5-.4.7-.4.6-.2.5-.4.5-.3.8-.3.5-.2.6-.4.7-.2.5-.4.8-.1.5-.3.6-.3.8-.2.4-.4.9-.2.4-.3.7-.2.7-.2.4-.4 1-.2.4-.3.7-.3.7-.2.4-.3.9-.2.5-.3.8-.2.5-.3.7-.3.6-.2.5-.3.9-.2.4-.3 1-.2.4-.3.7-.3.7-.2.4-.3.9-.2.5-.3.8-.2.5-.3.7-.3.6-.2.5-.4.9-.2.4-.2.7-.4.7-.2.5-.4.8-.2.5-.2.5-.4.9-.2.4-.3.6-.4.8-.2.4-.3.7-.3.7-.2.4-.4.8-.3.6-.2.4-.4.8-.3.6-.2.4-.4.9-.2.5-.3.6-.3.7-.2.5-.3.8-.2.5-.3.6-.3.7-.2.6-.2.8-.2.8-.1.6-.2.9-.1.5-.2.8-.2.9-.1.5-.2.8-.2 1-.1.4-.2.9-.2.9-.1.4-.2 1-.1.7-.2.6-.2.9-.1.4-.3 1-.2.7-.1.6-.3.9-.1.4-.3 1-.2.4-.3.9-.2.5-.3.8-.2.5-.2.7-.3.6-.1.5-.4.9-.1.4-.3 1-.2.4-.2.9-.2.8-.1.5-.2 1-.1.7-.2.6-.2.9-.1.6-.2.8-.2.8-.1.5-.2.9-.2.9-.1.5-.2.8-.1.9-.2.5-.2.9-.1.5-.2.8-.2 1-.2.4-.2.9-.1.5-.2.8-.2 1-.1.4-.2.9-.1.9.3.9.3 0zM405.1,127l.6 0 .9-.1.9-.2.5-.2.8-.3.5-.2.7-.3.6-.4.5-.3.5-.3.4-.4.5-.4.5-.5.4-.4.4-.5.4-.5.5-.6.4-.6.3-.5.3-.5.3-.5.5-.7.3-.6.3-.4.3-.5.4-.8.4-.5.3-.4.4-.5.5-.5.7-.4.5-.1.8-.1 1 .1.4.1.9.3.6.1.7.2 1 .2.8.1 1-.1.8-.1.9-.3.5-.1.5-.3.8-.4.5-.4.4-.4.5-.5.5-.5.4-.5.3-.5.3-.4.3-.5.5-.8.2-.5.2-.5.3-.9.2-.4.2-.9.2-.6.2-.7.1-1 .2-.7 0-.6.1-.9 0-.9 0-.9 0-.9-.1-.9 0-.7-.1-.7-.2-.8-.2-.9-.1-.5-.3-.9-.1-.4-.4-.9-.2-.5-.2-.6-.5-.7-.2-.5-.3-.5-.4-.5-.4-.5-.5-.5-.5-.5-.4-.4-.4-.3-.7-.4-.7-.4-.4-.1-1-.3-.6-.1-.7 0-.9 0-.4 0-1 .2-.7.2-.6.3-.6.2-.7.3-.5.2-.9.4-.4.1-1 .2-.8.1-1-.1-.7-.3-.6-.3-.5-.3-.4-.4-.4-.4-.5-.6-.4-.7-.2-.4-.3-.9-.1-.5-.2-.9-.1-.9 0-.9-.1-.4 0-1 0-.8-.1-1-.2-.8-.1-.6-.3-.8-.2-.4-.4-.7-.4-.6-.5-.4-.5-.4-.4-.4-.4-.3-.8-.4-.6-.3-.4-.2-.8-.4-.6-.3-.4-.2-.9-.4-.5-.3-.4-.2-.8-.4-.6-.3-.4-.3-.7-.3-.7-.4-.4-.3-.5-.2-.8-.5-.5-.2-.5-.3-.8-.3-.5-.3-.5-.2-.9-.4-.4-.2-.8-.3-.6-.2-.8-.2-.6-.2-.8-.2-.5-.1-.9-.2-.9-.1-.9-.1-.7-.1-.7 0-.8 0-.8 0-.6.1-.9 0-.9.1-.9.2-.7.1-.6.1-1 .3-.4.1-.9.4-.5.2-.4.3-.6.4-.5.5-.5.4-.4.4-.4.5-.5.5-.4.4-.4.4-.4.5-.4.5-.5.4-.4.6-.4.5-.5.6-.4.5-.4.5-.3.5-.3.4-.4.7-.4.7-.2.4-.3.5-.4.9-.2.4-.3.8-.2.6-.3.7-.1.6-.3.9-.1.4-.2 1-.1.8-.1.5-.1.9-.1.9 0 .9 0 .9 0 .9 0 .9 0 .9.1.9.1.9.1.8 0 .6.1.9.1.9.2.8.1.5.2.9.1.9.2.5.2.8.1.5.3.9.2.4.3 1 .2.4.3.9.3.5.2.5.4.8.2.5.3.5.4.8.3.5.3.4.4.6.4.7.3.5.3.4.4.5.4.5.4.6.4.5.5.6.5.5.4.4.4.5.5.5.5.4.4.4.4.4.5.4.5.3.4.4.5.3.7.5.6.4.4.3.5.3.5.3.8.5.5.3.5.2.6.4.7.4.5.2.5.3.8.4.5.3.4.2.8.4.6.3.4.3.7.4.7.3.4.2.6.3.8.4.4.2.6.4.8.3.4.2.8.3.6.3.5.2.8.3.5.2.8.2.8.2.6.1.9.2.9.1.6 0 .8.1.7-.1z" fill="#8db0fe" fill-rule="evenodd"/><path d="M329.5,128.4l.3-.4.3-.5.5-.8.2-.5.2-.5.4-.8.3-.5.2-.5.4-.9.2-.4.3-.7.3-.7.3-.4.3-.8.3-.6.2-.4.4-.9.2-.5.2-.5.5-.9.2-.4.3-.6.3-.8.2-.4.3-.8.3-.6.2-.4.4-.9.3-.5.2-.5.4-.8.2-.5.3-.7.3-.6.2-.6.2-.7.2-.6.3-.8.2-.4.3-1 .2-.4.3-.9.2-.4.3-.9.2-.5.2-.7.3-.6.2-.5.5-.9.2-.4.2-.5.4-.9.3-.4.2-.5.5-.9.2-.4.3-.5.3-.7.4-.6.3-.5.3-.5.4-.7.4-.6.3-.5.2-.4.5-.8.3-.6.2-.4.3-.7.3-.7.2-.4.4-.9.2-.4.2-.9.2-.5.2-.9.1-.6.2-.8.2-.8.1-.5.2-.9.2-.9.1-.5.2-.8.1-1 .1-.4.2-.9.2-.9.1-.4.3-1 .1-.5.3-.8.2-.5.4-.6.9.1.5.3.4.4.7.3.7.2.8.1 1-.1.7-.2.6-.3.5-.2.6-.4.6-.4.5-.5.4-.5.4-.4.4-.4.3-.5.4-.5.4-.7.3-.6.3-.4.3-.7.3-.7.2-.5.4-.8.1-.5.3-.9.1-.4.2-1 .1-.8 0-1 0-.8-.2-1-.2-.4-.3-.9-.2-.5-.3-.5-.5-.5-.5-.4-.4-.4-.9-.3-.5-.1-.8 0-.5.1-.9.3-.4.2-.7.3-.7.4-.4.3-.5-.2 0-.5.2-.9.2-.9.1-.5.2-.8.2-.8.2-.6.2-.9.1-.5.3-.8.1-.5.3-.9.2-.7.1-.7.3-.8.1-.5.3-.9.1-.4.3-1 .1-.4.2-.9.2-.9.1-.4.2-1 .1-.8.1-.5 0-.9 0-.5-.4-.5-.5.1-.5.5-.4.5-.4.8-.3.5-.3.4-.4.8-.2.6-.3.4-.3.9-.2.5-.3.5-.3.8-.2.5-.4.9-.2.4-.2.7-.3.6-.2.5-.4.9-.2.4-.3.8-.2.6-.2.5-.4.9-.2.4-.3.9-.2.5-.3.7-.2.6-.2.5-.4.8-.2.5-.3.9-.2.4-.3.9-.2.5-.2.6-.4.8-.1.4-.4.9-.2.5-.3.8-.2.5-.2.7-.3.6-.2.5-.4.9-.2.4-.3.8-.3.6-.1.5-.4.9-.2.4-.4.8-.2.6-.2.4-.4.9-.2.5-.3.7-.3.6-.2.5-.4.8-.2.5-.2.6-.4.8-.2.4-.4.8-.2.5-.2.5-.4.9-.2.4-.3.8-.3.6-.2.4-.3 1-.2.4-.3.9-.2.5-.2.8-.2.5-.2.9-.2.6-.1.8-.3.8-.1.5-.2.9-.1.5-.3.9-.2.8-.1.5-.2.9-.2.5-.2.9-.2.8-.1.5-.3.9-.1.4-.2 1-.2.7-.2.6-.2.9-.2.4-.3 1-.1.4-.3.9-.2.5-.3.8-.2.5-.3.8-.2.5-.2.8-.2.6-.2.7-.3.7-.2.7-.2.6-.2.9-.1.4-.2 1-.2.7-.2.6-.2.9-.1.4-.2 1-.2.7-.2.6-.2.9-.1.4-.2 1-.2.7-.1.6-.3.9-.1.4-.2 1-.2.8-.1.5-.2.9-.2.4-.2 1-.2.8-.1.5-.2.9-.1.8-.1.6.1.4.7 0zM406.1,123.4l.5-.1.9-.3.5-.2.4-.2.8-.5.6-.4.4-.4.4-.4.5-.4.5-.5.4-.6.3-.4.3-.5.3-.5.5-.7.3-.6.2-.5.3-.7.3-.6.2-.5.3-.8.2-.5.4-.9.1-.4.3-.9.3-.5.2-.6.4-.8.3-.4.3-.4.5-.5.8-.2.6.2.7.4.5.4.4.3.4.4.5.4.5.4.5.4.6.4.7.4.4.3.6.3.8.2.8.2.5 0 .5 0 .8-.1 1-.3.4-.2.5-.3.6-.5.5-.4.5-.4.3-.5.4-.5.4-.5.4-.8.2-.5.2-.5.4-.8.1-.5.3-.8.2-.8.1-.6.1-.9.1-.9 0-.9 0-.9 0-.9-.1-.9-.1-.9-.1-.7-.2-.6-.3-1-.1-.4-.3-.9-.2-.4-.3-.6-.4-.8-.3-.5-.4-.4-.3-.4-.5-.5-.5-.5-.6-.4-.6-.4-.4-.2-1-.3-.4-.1-.9 0-.8.1-.5.1-.9.4-.5.2-.4.2-.7.4-.6.5-.5.5-.5.4-.4.4-.5.5-.4.5-.4.4-.4.5-.5.4-.4.5-.6.4-.5.3-.8.1-1-.2-.4-.3-.5-.3-.5-.5-.5-.4-.4-.5-.4-.4-.4-.6-.5-.6-.4-.6-.2-.5-.3-.5-.4-.8-.2-.5-.3-.5-.3-.8-.1-.5-.3-.9-.1-.7-.2-.6-.2-.9-.1-.8-.1-.6-.2-.9-.1-.9-.1-.4-.3-1-.1-.4-.3-.9-.2-.5-.4-.6-.4-.7-.3-.5-.4-.4-.4-.4-.5-.5-.4-.4-.6-.5-.5-.4-.6-.5-.4-.3-.4-.3-.5-.3-.7-.4-.6-.5-.5-.2-.5-.3-.8-.4-.5-.3-.5-.2-.8-.3-.5-.2-.9-.3-.4-.2-1-.3-.4-.1-.9-.2-.6-.1-.7-.2-1-.1-.8-.2-.6 0-.8 0-.9-.1-.9.1-.6 0-.8.1-.8.1-1 .2-.4.1-.9.3-.5.2-.8.3-.5.2-.5.3-.8.4-.5.3-.5.2-.6.4-.7.5-.5.4-.4.3-.4.3-.5.4-.5.4-.4.5-.5.4-.5.5-.4.4-.4.5-.4.6-.5.6-.4.6-.2.4-.3.5-.4.9-.3.4-.2.6-.3.8-.2.5-.2.8-.2.9-.1.4-.1 1-.1.9 0 .9 0 .8 0 1 .1.8.1 1 .1.8 0 .5.2.9.1.9.1.7.2.7.2.9.1.7.1.6.2.9.2.4.2 1 .2.5.3.8.1.5.4.8.2.5.4.7.3.7.2.4.3.7.4.6.3.5.3.5.4.6.4.6.4.6.3.4.4.4.3.5.4.5.5.6.5.5.4.5.4.4.5.5.5.4.4.4.4.4.5.4.5.3.5.5.6.5.7.4.4.3.4.3.5.3.7.5.6.3.5.3.5.3.6.4.7.4.5.3.4.2.7.4.7.4.4.3.4.3.8.4.6.4.4.2.6.3.8.5.4.2.5.2.8.4.5.3.5.2.9.4.4.2 1 .3.4.1.9.2.5.2.8.1 1 .1.8.1 1-.1.8-.1.9-.2z" fill="#afcafc" fill-rule="evenodd"/><path d="M329.7,127.5l.4-.5.5-.8.2-.5.2-.5.4-.8.2-.5.3-.5.4-.8.2-.5.3-.7.3-.6.2-.5.4-.8.3-.5.2-.5.4-.9.2-.4.2-.6.4-.8.2-.4.4-.9.2-.5.2-.5.4-.9.2-.4.3-.7.3-.7.2-.4.4-.9.2-.5.2-.6.3-.7.2-.5.3-.8.2-.5.3-.9.2-.4.3-1 .1-.4.4-.9.1-.4.3-.9.2-.5.3-.8.2-.5.2-.7.4-.7.2-.4.4-.9.2-.5.2-.4.4-1 .3-.4.2-.5.4-.8.2-.5.3-.7.3-.7.2-.4.4-.9.2-.5.3-.5.3-.8.2-.5.3-.7.3-.6.2-.5.4-.8.2-.5.3-.8.2-.5.2-.9.2-.5.3-.9.1-.5.3-.8.1-.5.2-.9.2-.7.2-.7.2-.8.1-.5.3-.9.1-.5.3-.8.2-.8.1-.6.3-.9.1-.4.3-1 .1-.4.3-.9.1-.5.3-.8.2-.6.2-.8.2-.6.3-.7.1-.7.3-.7.2-.7.3-.6.2-.7.2-.7.2-.7.2-.7.2-.8.2-.5.2-.9.2-.4.2-1 .2-.6.2-.7.2-.9.2-.4.2-1 .1-.4.3-.9.1-.5.3-.8.2-.6.2-.8.2-.7.2-.7.2-.8.2-.5.2-.9.1-.4.3-1 .2-.5.2-.8.2-.7.2-.6.2-1 .1-.4.3-.9.1-.5.2-.8.1-1 .2-.8 0-.5 0-.6-.5-.4-.5.4-.4.6-.3.5-.2.4-.4.6-.4.8-.2.4-.3.7-.3.7-.2.4-.4.9-.1.5-.4.7-.2.6-.2.5-.4.8-.2.5-.3.8-.2.5-.3.6-.3.8-.2.4-.3 1-.2.4-.3.7-.3.7-.2.4-.3.9-.2.5-.3.8-.2.5-.3.8-.2.5-.3.7-.2.7-.2.4-.4 1-.1.4-.4.9-.2.5-.3.7-.2.6-.2.5-.3.8-.2.5-.4.9-.2.4-.3.7-.2.7-.2.5-.4.9-.2.4-.3.7-.3.7-.2.4-.3.9-.2.5-.3.7-.3.6-.2.5-.4.8-.2.5-.3.8-.2.6-.2.5-.4.8-.2.4-.4.9-.2.5-.2.6-.3.8-.2.4-.4.9-.1.5-.4.8-.2.5-.2.8-.2.5-.2.9-.2.5-.2.9-.2.5-.2.8-.2.5-.2.9-.2.7-.2.7-.2.8-.1.5-.3.9-.1.5-.2.9-.3.8-.1.5-.2.9-.1.4-.2 1-.2.7-.2.6-.3.9-.2.4-.3.9-.1.5-.3.7-.2.7-.2.6-.3.7-.2.6-.3.7-.2.6-.2.8-.2.5-.3.9-.1.5-.3.8-.2.8-.2.5-.2 1-.1.4-.3.9-.1.6-.2.7-.2 1-.2.4-.2.9-.1.5-.3.8-.2.8-.1.6-.2.9-.1.5-.2.8-.2.8-.2.6-.2.9-.1.5-.2.8-.3.9 0 .5-.2.9-.2.7-.1.6.1.7.5-.2zM359.9,66.8l.8-.3.5-.2.6-.5.5-.4.4-.4.3-.5.4-.5.4-.8.3-.5.2-.5.4-.8.1-.5.2-.9.2-.9 0-.5.1-.8-.1-.7-.1-.7-.3-.8-.4-.6-.5-.4-.5-.3-.9-.1-.9.2-.5.2-.6.4-.5.5-.5.5-.3.4-.4.4-.4.6-.4.8-.2.4-.2.7-.3.7-.2.9-.1.5-.1.8 0 1 .1.9.1.4.4.9.3.4.4.5.7.4.5.1.5 0zM404.9,119.4l.8-.3.5-.2.7-.4.6-.4.5-.4.4-.4.4-.5.5-.6.3-.4.3-.4.3-.7.3-.7.2-.4.4-1 .1-.4.2-.9.2-.5.1-.8.2-1 0-.8.1-1 0-.4 0-.9 0-.5-.1-.8-.1-1-.1-.8-.1-.8-.2-.6-.2-.9-.2-.5-.2-.8-.2-.5-.3-.9-.2-.4-.3-1-.2-.4-.3-.7-.2-.7-.3-.5-.3-.8-.1-.4-.4-.9-.1-.5-.3-.9-.1-.4-.3-1-.2-.7-.1-.6-.1-.9-.2-.9 0-.5-.1-.8-.2-.9-.1-.9-.1-.5-.2-.9-.2-.9-.1-.5-.3-.8-.2-.5-.3-.8-.3-.5-.2-.5-.4-.6-.5-.7-.4-.5-.4-.5-.4-.4-.5-.4-.5-.5-.4-.3-.5-.3-.5-.3-.7-.4-.6-.3-.5-.2-.8-.4-.5-.1-.9-.2-.9-.2-.5 0-.8-.1-.7.1-.7.2-.6.2-.5.5-.3.5-.3.9-.1.4-.3.9-.1.5-.5.8-.4.5-.5.2-.9 0-.5-.4-.4-.6-.3-.6-.2-.4-.3-.9-.1-.4-.5-.9-.4-.4-.4-.3-1-.1-.8 0-1 .1-.7.2-.6.2-.8.3-.5.1-.7.3-.7.3-.4.3-.6.3-.7.5-.5.4-.5.3-.5.4-.4.5-.4.4-.5.6-.4.5-.3.5-.3.4-.3.7-.4.7-.1.4-.4.9-.1.5-.2.8-.1 1-.1.6 0 .7 0 .9 0 .7.1.7.1.8.2 1 0 .4.3.9.2.9.1.4.3 1 .1.4.3.9.1.5.2.8.2.8.2.6.3.8.2.6.3.6.3.7.2.5.3.6.4.7.3.5.3.4.4.6.4.6.5.6.4.4.4.5.3.5.4.4.5.4.4.5.4.5.5.4.4.4.5.5.5.5.5.4.6.4.5.5.4.3.5.4.5.3.4.4.6.4.6.5.6.3.4.3.5.4.5.3.7.5.6.4.5.3.4.3.5.3.7.5.6.3.4.3.5.3.7.4.6.4.5.2.5.3.8.4.5.3.6.2.7.3.5.2.9.3.5.1.9.2.8.1 1 0 .8 0 1-.2.5-.1zM429.4,108.6l.6-.4.4-.3.5-.5.5-.5.3-.5.3-.5.2-.5.4-.8.2-.5.2-.9.2-.7.1-.6 0-.9.1-1-.1-.8 0-1-.1-.7-.2-.6-.2-.9-.2-.4-.3-1-.3-.4-.2-.4-.4-.7-.5-.5-.5-.5-.4-.3-.4-.3-1-.4-.4-.1-.9 0-.5.1-.8.3-.5.3-.5.3-.4.4-.5.5-.4.5-.5.6-.3.6-.2.5-.3.8-.3.5-.2.9-.1.5-.1.9-.1.9 0 .9.1.9.1.9.1.5.2.8.3.6.3.8.2.4.3.6.5.7.5.5.4.5.4.3.5.3.5.3.8.3 1 .1.8-.1.8-.3z" fill="#cfdaea" fill-rule="evenodd"/><path d="M330.3,125.7l.3-.5.4-.6.3-.7.3-.5.3-.6.3-.7.2-.5.4-.7.3-.6.2-.5.4-.8.2-.5.3-.5.3-.8.2-.5.3-.7.3-.6.2-.5.4-.9.2-.4.3-.7.3-.7.2-.4.4-1 .2-.4.3-.6.3-.8.1-.4.4-.9.2-.5.3-.8.2-.5.3-.9.1-.4.3-.9.2-.5.2-.8.2-.5.3-.9.1-.5.3-.9.2-.4.3-.9.2-.5.2-.6.4-.8.2-.4.4-.7.3-.7.2-.4.3-.8.3-.5.2-.5.4-.9.2-.5.3-.5.3-.8.2-.5.4-.8.2-.5.3-.5.3-.8.2-.5.3-.9.2-.4.3-.8.2-.6.3-.6.2-.8.2-.6.2-.7.2-.8.2-.5.3-1 .1-.4.3-.9.1-.5.3-.8.1-.5.3-.9.1-.6.3-.7.2-.9.2-.5.2-.9.1-.4.3-1 .1-.4.3-.9.1-.5.3-.8.2-.8.2-.6.2-.9.2-.4.2-.9.2-.5.3-.9.1-.4.3-1 .1-.4.3-.9.2-.5.2-.8.2-.6.2-.8.2-.7.3-.7.2-.7.2-.6.2-.9.2-.4.3-1 .1-.4.3-.9.1-.5.3-.8.1-.5.3-.9.2-.5.2-.9.2-.7.2-.6.2-.9.1-.4.3-1 .1-.4.3-.9.2-.6.1-.7.3-1 .1-.4.2-.9.1-.7.1-.6.1-1-.2-.5-.4.4-.4.6-.3.5-.3.4-.4.8-.2.6-.2.4-.4.9-.2.5-.3.6-.3.7-.2.5-.4.8-.1.5-.3.7-.3.6-.2.5-.4.9-.2.4-.3.8-.2.6-.2.5-.4.9-.1.4-.4.9-.2.5-.3.8-.2.5-.2.7-.3.6-.2.5-.3.9-.2.4-.4 1-.1.4-.3.8-.3.6-.2.5-.3.8-.2.5-.3.8-.2.5-.3.8-.3.5-.2.6-.3.8-.2.5-.4.8-.2.5-.2.6-.4.8-.2.4-.3.9-.2.5-.3.6-.3.7-.2.5-.3.8-.2.5-.4.8-.2.6-.2.5-.3.8-.2.4-.4 1-.2.4-.3.7-.2.7-.2.4-.4.9-.1.5-.4.8-.2.5-.3.9-.1.4-.3 1-.1.4-.3.9-.1.5-.3.8-.1.5-.3.9-.2.6-.1.8-.3.8-.1.5-.2.9-.1.5-.3.9-.2.9-.1.4-.2.9-.2.5-.1.9-.3.8-.1.5-.3.9-.2.4-.3.8-.2.6-.3.6-.2.8-.2.4-.3.9-.2.5-.3.8-.2.5-.3.9-.2.4-.3 1-.1.4-.3.9-.1.5-.3.8-.1.5-.2.9-.3.8-.1.6-.3.8-.1.5-.2.9-.1.5-.3.9-.2.7-.1.6-.3.9-.1.4-.2 1-.2.8-.1.5-.2.9-.2.4-.1 1-.3.8-.1.5-.1.9-.1.9.5 0zM402.5,114l.5-.2.6-.2.7-.5.5-.4.4-.5.4-.4.3-.5.3-.6.3-.7.1-.5.2-.9.1-.9.1-.9 0-.9 0-.9-.1-.9-.2-.9-.1-.7-.1-.6-.2-.9-.2-.5-.2-.9-.2-.8-.2-.6-.2-.8-.1-.5-.3-.9-.1-.5-.2-.9-.2-.8-.1-.5-.2-.9-.1-.9-.1-.5-.1-.8 0-1 0-.8 0-1 0-.8 0-1-.1-.8 0-.9-.2-.9-.1-.6-.1-.8-.3-.9-.1-.5-.3-.7-.3-.6-.3-.5-.4-.6-.4-.6-.4-.5-.5-.4-.5-.4-.4-.4-.4-.3-.7-.4-.7-.3-.4-.1-1-.2-.8-.1-1 0-.8.2-.5.2-.5.3-.5.5-.4.5-.4.4-.5.6-.4.5-.4.4-.5.3-.9.4-.9 0-.9-.4-.4-.3-.5-.4-.5-.4-.4-.4-.4-.4-.5-.3-.9-.5-.4-.1-1-.1-.8 0-1 .2-.4.1-.9.2-.5.2-.7.4-.6.3-.5.4-.4.3-.4.4-.5.5-.5.6-.4.6-.3.5-.2.4-.4 1-.1.4-.2.9-.2.7 0 .7 0 .9 0 .8.1.5.2.9.2.9.1.5.3.8.2.5.3.7.3.6.2.5.3.9.2.5.4.8.1.5.3.8.2.6.2.6.4.7.2.5.4.7.3.6.3.5.4.4.3.4.5.5.4.5.4.5.5.4.5.4.5.5.6.4.6.4.5.4.4.4.5.3.5.3.6.4.7.5.5.3.4.3.4.3.7.4.6.5.5.4.5.3.5.3.4.4.6.4.6.5.6.4.4.3.5.3.5.3.7.5.6.3.5.3.4.2.9.5.5.2.6.3.7.2.8.2.5.1 1 .1.8-.1.9-.1zM428.7,103.6l.5-.4.4-.5.4-.8.1-.5.1-.9 0-.9-.1-.9-.1-.5-.4-.8-.3-.5-.5-.5-.6-.2-.9 0-.5.2-.5.5-.3.5-.4.8-.1.5-.1.9 0 .9.1.9.1.5.4.7.4.6.4.4.5.2.9 0 .5-.2z" fill="#e9d5cb" fill-rule="evenodd"/><path d="M331,123.4l.4-.6.4-.7.3-.5.3-.4.4-.9.2-.5.2-.5.4-.8.2-.5.4-.6.3-.7.2-.5.3-.8.2-.5.3-.6.3-.7.2-.5.4-.8.2-.5.2-.6.4-.8.2-.4.4-.9.2-.5.2-.6.3-.8.1-.5.3-.8.2-.5.3-.8.2-.6.2-.8.2-.7.2-.6.2-.9.1-.5.3-.9.1-.5.2-.9.3-.4.3-.9.2-.5.3-.6.4-.7.2-.5.4-.6.3-.7.2-.4.3-.7.4-.7.2-.5.4-.7.2-.6.2-.5.4-.8.2-.5.3-.6.3-.7.2-.5.4-.9.1-.4.3-.8.3-.6.2-.7.2-.7.3-.6.2-.7.2-.8.2-.5.2-.9.2-.5.3-.9.1-.5.3-.8.1-.5.2-.9.2-.5.2-.8.2-.8.2-.6.3-.9.1-.4.3-1 .1-.4.3-.9.1-.5.2-.8.2-.8.2-.6.3-.9.1-.4.3-.9.1-.5.3-.9.1-.5.3-.9.1-.5.3-.8.2-.7.2-.6.3-.8.1-.6.3-.8.1-.6.3-.8.2-.5.2-.9.2-.4.3-1 .1-.4.3-.9.1-.5.3-.8.1-.6.3-.8.2-.7.1-.7.3-.8.1-.5.2-.9.2-.6.2-.8.2-.8.1-.5.1-.9-.2-.7-.4.7-.2.5-.3.4-.4.8-.2.5-.3.5-.4.9-.1.4-.3.7-.4.7-.2.4-.3 1-.2.4-.3.7-.3.7-.2.4-.3.9-.2.5-.3.8-.2.5-.3.7-.2.6-.2.6-.4.8-.1.4-.4 1-.2.4-.3.8-.2.6-.2.6-.3.7-.2.5-.4.8-.2.5-.3.8-.2.5-.2.6-.4.8-.2.5-.4.8-.2.5-.2.6-.3.8-.2.4-.4.9-.2.5-.3.5-.3.8-.2.5-.3.8-.2.5-.3.7-.3.7-.2.4-.3.9-.2.4-.3.8-.3.6-.2.6-.3.8-.2.4-.3.9-.2.5-.3.8-.2.5-.3.8-.2.5-.3.9-.1.5-.3.9-.1.5-.3.8-.1.5-.2.9-.2.6-.2.8-.2.8-.1.5-.2.9-.2.7-.1.7-.2.9-.1.4-.2.9-.2.9-.1.5-.3.8-.2.7-.2.7-.2.5-.4.9-.2.4-.3.6-.3.8-.2.4-.4.9-.2.5-.2.7-.3.6-.2.6-.3.7-.2.6-.2.8-.2.5-.2.9-.2.7-.2.6-.3.9-.1.4-.2 1-.2.4-.2.9-.2.6-.2.7-.2 1-.2.4-.2.9-.1.5-.2.8-.2 1-.1.4-.2.9-.2.8-.1.5-.1 1 0 .8.2 0zM397,102.8l.6-.4.4-.4.5-.6.2-.4.3-.6.2-.8.2-.8.1-.6.1-.8.1-1 0-.8 0-1 0-.8 0-.9 0-.9.1-1 .1-.4.2-.9.1-.9.1-.4.2-1 .2-.8.1-.8 0-.6 0-.9 0-.7-.1-.6-.3-1-.1-.4-.4-.9-.2-.5-.3-.4-.4-.5-.5-.5-.5-.4-.8-.4-.5-.2-.9-.2-.9.1-.9.2-.4.2-.7.3-.5.5-.6.5-.4.4-.5.4-.5.5-.4.4-.5.4-.5.2-.8.3-1-.1-.5-.3-.7-.4-.6-.5-.4-.3-.4-.4-.5-.3-.6-.3-.7-.4-.5-.2-.9-.1-.9 0-.9.1-.4.2-.9.4-.5.3-.4.4-.5.5-.4.6-.3.4-.2.5-.3.9-.1.9 0 .9.1.8.2 1 .2.4.3.8.4.6.2.4.4.5.4.6.4.7.4.4.3.5.3.6.3.8.1.4.3.9.2.4.3 1 .2.4.4.6.4.7.4.5.4.4.4.5.5.5.5.3.5.3.5.3.6.4.7.3.5.2.8.4.5.1.9.3.4.2 1 .2.4.1.9.2.9.2.4.1 1 .2.8.1 1 0 .8-.1.8-.2z" fill="#f6bda2" fill-rule="evenodd"/><path d="M340.6,96.4l.4-.4.4-.4.4-.7.4-.7.3-.4.2-.5.5-.7.3-.6.2-.5.3-.6.4-.7.3-.5.3-.6.3-.7.2-.5.3-.8.3-.5.2-.5.4-.9.2-.4.3-.9.2-.5.2-.7.3-.7.2-.6.2-.7.3-.7.1-.6.3-.9.2-.5.2-.9.2-.5.2-.8.2-.5.2-.9.2-.5.2-.8.2-.8.2-.6.2-.9.1-.4.3-1 .1-.4.3-.9.2-.7.1-.6.3-1 .1-.4.2-.9.2-.4.2-.9.2-.8.1-.6.3-.9.1-.5.3-.8.1-.5.3-.9.2-.4.2-1 .2-.6.2-.7.3-.8.1-.5.3-1 .1-.4.2-.9.2-.5.2-.8.2-.8.1-.6-.1-.7-.4.7-.2.4-.3.6-.3.8-.2.4-.4.9-.2.5-.3.6-.3.8-.2.4-.3.9-.2.5-.3.6-.2.7-.3.5-.3.8-.2.5-.3.8-.2.5-.3.6-.3.8-.2.4-.4.8-.2.6-.2.5-.4.9-.2.4-.4.7-.2.7-.2.4-.4.9-.2.5-.3.6-.3.7-.2.5-.4.8-.2.5-.2.7-.3.7-.2.4-.4.9-.2.4-.3.8-.2.6-.2.5-.4.9-.2.4-.3.9-.2.5-.3.8-.2.5-.2.7-.3.6-.2.8-.2.6-.2.9-.2.5-.2.8-.1.5-.2.9-.2.8-.2.6-.2.8-.1.6-.1.8-.2.9-.2.9 0 .5-.1.9-.1.8-.1 1 .1.8.4 0zM332.2,120.3l.3-.5.3-.4.4-.9.3-.5.2-.4.5-.9.1-.5.3-.5.3-.8.2-.5.4-.8.2-.5.3-.5.3-.8.2-.5.3-.8.3-.5.2-.5.3-.9.2-.4.3-1 .2-.4.3-.9.1-.5.3-.8.1-.5.3-.9.2-.7.1-.6.1-.9.1-1 0-.8-.3-1-.1 0-.5.5-.4.5-.4.6-.4.7-.3.5-.2.4-.5.9-.1.5-.3.5-.3.8-.2.5-.3.8-.2.5-.3.9-.2.4-.3 1-.1.4-.2.9-.2.5-.2.8-.2.7-.2.7-.2.9-.1.5-.3.8-.1.5-.2.9-.2.8-.2.6-.2.8-.1.7-.1.7 0 .9.4 0z" fill="#f4987a" fill-rule="evenodd"/><path d="M342.5,91.5l.4-.5.4-.4.3-.4.4-.8.4-.6.2-.4.4-.6.3-.8.2-.4.3-.7.3-.7.2-.4.4-.9.2-.5.3-.7.2-.7.2-.7.2-.6.3-.8.2-.5.3-.9.1-.5.3-.9.1-.5.2-.8.2-.5.2-.9.2-.7.2-.6.2-.9.1-.5.2-.9.2-.6.2-.8.2-.8.1-.5.2-.9.2-.9.1-.5.1-.8 0-.9-.4 0-.4.4-.3.5-.4.8-.3.5-.2.5-.4.8-.2.5-.3.5-.4.8-.2.5-.3.7-.3.6-.2.5-.4.8-.2.6-.2.5-.4.8-.2.4-.4.9-.2.5-.2.6-.3.8-.2.4-.3.9-.2.5-.4.8-.1.5-.3.8-.2.5-.2.9-.2.5-.2.9-.1.5-.2.8-.3.9-.1.5-.1.9-.2.9 0 .4-.1 1 0 .8.1.5.7 0zM332.8,117.6l.5-.4.4-.6.4-.8.2-.4.3-.6.3-.8.2-.4.4-.8.2-.6.3-.4.3-1 .2-.4.3-.7.3-.7.2-.4.3-.9.2-.5.2-.8.2-.5.2-.9.2-.9.1-.5.1-.8 0-.9-.2-.6-.4.1-.4.5-.5.7-.3.6-.2.4-.4.8-.2.6-.2.5-.4.9-.2.4-.3.9-.1.5-.3.8-.1.5-.2.9-.2.7-.2.7-.2.8-.2.5-.2.9-.2.6-.1.8-.2.8-.1.5 0 .9z" fill="#e36c55" fill-rule="evenodd"/><path d="M343.9,87.4l.4-.4.3-.4.4-.6.4-.8.2-.4.3-.5.4-.9.2-.4.3-.8.2-.6.2-.7.2-.7.2-.7.2-.6.3-.9.1-.4.3-1 .1-.4.2-.9.2-.8.1-.5.1-.9.2-.9-.1-1-.3 0-.4.5-.5.8-.3.6-.2.4-.4.7-.3.6-.2.5-.4.8-.2.5-.3.6-.3.8-.2.4-.3 1-.2.4-.3.8-.2.6-.3.7-.1.6-.2.9-.1.5-.2.9-.1.8-.1 1-.1.4.2.4.6 0zM334.7,112.6l.4-.4.4-.7.3-.7.2-.4.4-.8.2-.6.2-.5.3-.8.2-.5.2-.8.1-1-.2-.8-.1 0-.5.4-.4.8-.2.6-.3.4-.3.9-.1.5-.3.8-.2.6-.1.8-.2.9-.1.5-.1.8.2 0z" fill="#c53334" fill-rule="evenodd"/><path d="M280.3 119.3h.9M288.6 78.0h.9M289.3 85.4h.9M279.2 119.5h.9M298.6 94.4h.9M284.5 79.9h.9M297.3 106.9h.9M287.0 78.5h.9M297.5 109.9h.9M277.4 114.0h.9M278.0 114.5h.9M287.8 121.4h.9M284.8 117.2h.9M285.1 81.6h.9M287.1 123.4h.9M280.1 120.5h.9M287.0 84.1h.9M282.5 123.9h.9M285.4 83.8h.9M300.1 109.9h.9M290.8 117.1h.9M300.3 100.6h.9M288.1 84.1h.9M289.6 85.1h.9M294.3 118.2h.9M299.2 91.1h.9M298.8 97.5h.9M290.9 87.5h.9M295.7 84.2h.9M291.2 84.9h.9M296.6 101.9h.9M296.8 109.5h.9M299.4 95.9h.9M300.0 104.2h.9M293.9 90.7h.9M291.8 88.3h.9M298.0 94.0h.9M283.6 122.6h.9M289.3 80.0h.9M299.5 103.0h.9M289.8 117.4h.9M297.4 107.5h.9M296.1 93.3h.9M296.9 96.5h.9M293.1 89.0h.9M284.3 119.0h.9M291.5 119.0h.9M291.3 116.4h.9M282.2 84.5h.9M293.9 87.0h.9M296.8 105.0h.9M295.4 82.9h.9M287.1 85.2h.9M292.7 85.6h.9M281.2 81.9h.9M283.2 117.7h.9M294.8 110.1h.9M288.7 82.7h.9M291.6 120.2h.9M278.7 116.4h.9M292.2 80.1h.9M281.3 85.6h.9M290.8 81.9h.9M300.9 100.7h.9M297.5 108.9h.9M285.0 118.3h.9M297.3 94.5h.9M280.6 84.7h.9M294.7 88.3h.9M286.3 84.0h.9M295.9 108.0h.9M295.9 96.9h.9M283.1 85.6h.9M284.1 121.1h.9M276.9 114.2h.9M285.7 119.1h.9M281.1 84.1h.9M298.0 91.4h.9M298.4 104.7h.9M283.3 117.4h.9M290.5 117.0h.9M294.6 88.9h.9M300.7 106.9h.9M295.8 94.0h.9M289.8 79.9h.9M298.4 104.9h.9M286.9 83.8h.9M298.5 101.1h.9M279.5 116.0h.9M284.5 120.2h.9M278.8 117.6h.9M280.0 116.1h.9M296.7 109.5h.9M278.5 115.1h.9M294.0 113.9h.9M292.3 118.9h.9M288.4 118.5h.9M296.1 105.3h.9M298.2 109.8h.9M281.8 116.4h.9M279.5 115.8h.9M285.2 84.4h.9M292.4 80.8h.9M283.0 121.1h.9M291.5 83.9h.9M291.7 120.8h.9M290.1 82.4h.9M280.6 86.3h.9M287.4 84.1h.9M294.9 90.2h.9M280.5 121.4h.9M295.3 92.3h.9M289.7 122.3h.9M279.9 116.3h.9M294.9 83.6h.9M296.9 107.5h.9M296.8 95.1h.9M281.7 119.8h.9M299.9 98.3h.9M296.4 109.2h.9M287.3 82.5h.9M288.0 83.2h.9M299.0 105.2h.9M293.1 88.8h.9M280.9 84.6h.9M296.6 103.8h.9M284.6 84.1h.9M299.1 106.9h.9M297.0 116.7h.9M293.8 85.9h.9M296.5 100.8h.9M293.1 114.5h.9M296.6 85.1h.9M293.9 116.8h.9M293.6 90.0h.9M288.1 122.5h.9M279.0 85.7h.9M296.6 90.1h.9M284.6 118.6h.9M286.9 82.0h.9M296.7 111.0h.9M292.9 86.7h.9M297.1 95.8h.9M299.6 105.5h.9M290.5 87.0h.9M291.1 117.5h.9M289.6 118.5h.9M289.2 84.5h.9M281.0 120.5h.9M290.6 84.4h.9M284.4 120.6h.9M287.4 123.9h.9M295.8 105.5h.9M280.1 83.1h.9M290.2 84.8h.9M296.4 102.3h.9M297.7 109.0h.9M282.2 118.0h.9M293.1 115.6h.9M292.7 83.4h.9M298.0 102.8h.9M285.3 82.1h.9M290.2 85.5h.9M296.5 94.3h.9M288.5 118.7h.9M298.5 98.7h.9M289.0 117.8h.9M297.7 90.0h.9M280.8 85.8h.9M295.9 90.8h.9M298.9 112.6h.9M296.3 104.0h.9M289.4 85.1h.9M279.8 86.4h.9M298.2 97.1h.9M299.7 92.6h.9M297.5 102.8h.9M294.8 112.7h.9M293.7 121.5h.9M278.5 115.5h.9M292.7 87.4h.9M291.2 87.0h.9M277.7 116.9h.9M285.7 118.8h.9M287.7 118.7h.9M295.8 108.8h.9M297.4 104.3h.9M300.5 96.6h.9M287.6 83.1h.9M297.5 105.5h.9M289.6 85.8h.9M295.4 88.4h.9M285.5 117.3h.9M292.7 84.9h.9M283.5 78.0h.9M279.6 117.5h.9M293.5 88.0h.9M296.5 92.0h.9M295.8 107.6h.9M279.7 120.4h.9M298.9 98.3h.9M292.7 87.7h.9M296.3 89.9h.9M301.6 99.9h.9M296.7 109.7h.9M297.4 102.1h.9M296.6 103.5h.9M292.6 85.6h.9M295.0 93.1h.9M287.2 117.9h.9M282.9 123.8h.9M297.6 95.0h.9M296.2 109.1h.9M297.7 94.1h.9M294.1 90.1h.9M286.9 118.1h.9M294.7 113.2h.9M292.5 121.0h.9M293.0 112.6h.9M296.3 87.7h.9M288.0 119.3h.9M284.6 123.0h.9M278.0 113.7h.9M297.1 97.8h.9M289.7 122.7h.9M291.6 116.9h.9M297.8 105.4h.9M287.7 123.2h.9M287.6 81.2h.9M296.4 99.5h.9M287.5 117.5h.9M290.7 118.9h.9M296.7 106.9h.9M281.2 86.4h.9M293.5 83.8h.9M295.8 109.2h.9M292.4 86.0h.9M292.9 120.6h.9M278.2 116.8h.9M298.2 99.0h.9M292.0 118.9h.9M287.7 119.5h.9M284.9 118.9h.9M292.9 85.9h.9M290.5 116.5h.9M297.7 108.2h.9M297.5 103.6h.9M286.4 120.4h.9M291.9 115.7h.9M283.9 85.2h.9M296.9 102.6h.9M293.5 89.0h.9M281.1 116.8h.9M280.4 122.5h.9M277.6 113.4h.9M282.1 83.9h.9M291.8 87.8h.9M292.2 88.0h.9M293.7 116.1h.9M280.9 81.6h.9M288.3 123.7h.9M298.4 115.6h.9M296.2 95.5h.9M294.1 86.6h.9M292.7 83.7h.9M279.3 116.3h.9M281.3 86.1h.9M296.2 110.6h.9M288.1 83.6h.9M296.6 106.8h.9M297.4 95.4h.9M284.8 78.6h.9M290.4 85.2h.9M281.8 117.6h.9M296.8 118.1h.9M285.0 78.6h.9M286.8 120.7h.9M294.2 88.3h.9M289.3 86.6h.9M290.3 121.5h.9M299.6 93.5h.9M291.3 120.7h.9M287.5 119.7h.9M283.4 85.0h.9M282.5 117.2h.9M284.2 85.1h.9M289.6 83.8h.9M292.9 80.8h.9M295.5 111.4h.9M298.0 97.8h.9M294.0 115.2h.9M284.1 123.7h.9M277.4 114.3h.9M291.0 86.1h.9M293.2 82.3h.9M282.8 84.3h.9M287.6 84.9h.9M298.9 95.3h.9M287.3 83.1h.9M299.2 95.2h.9M296.7 107.7h.9M284.1 85.4h.9M294.9 93.1h.9M285.1 117.7h.9M296.7 110.4h.9M300.1 92.8h.9M290.8 117.5h.9M282.0 118.7h.9M279.0 87.2h.9M281.1 85.5h.9M280.9 82.9h.9M284.2 78.1h.9M282.8 118.2h.9M284.2 123.1h.9M280.1 116.7h.9M299.2 102.4h.9M281.7 121.2h.9M285.4 117.7h.9M298.1 105.1h.9M300.6 109.4h.9M295.9 95.5h.9M287.2 83.2h.9M294.8 88.3h.9M289.3 117.3h.9M281.5 86.5h.9M290.9 120.7h.9M296.1 111.6h.9M292.1 120.2h.9M295.6 92.6h.9M278.4 116.9h.9M295.6 112.5h.9M292.2 115.3h.9M289.2 119.1h.9M280.2 85.7h.9M294.2 89.8h.9M299.3 99.9h.9M298.5 96.6h.9M292.1 118.6h.9M296.2 108.8h.9M290.0 84.7h.9M287.1 84.8h.9M297.8 98.9h.9M281.1 85.9h.9M286.1 84.5h.9M283.7 118.1h.9M286.7 123.9h.9M298.6 102.9h.9M281.9 117.5h.9M280.4 121.9h.9M288.5 116.7h.9M297.8 112.1h.9M281.0 84.3h.9M298.2 101.0h.9M280.8 85.6h.9M296.2 104.3h.9M280.9 83.3h.9M292.9 85.3h.9M290.6 79.1h.9M292.5 87.1h.9M279.6 118.6h.9M292.9 87.8h.9M297.3 109.0h.9M295.1 83.2h.9M300.6 99.5h.9M285.4 118.3h.9M279.6 87.0h.9M297.3 94.3h.9M297.5 94.0h.9M297.2 89.4h.9M284.7 119.1h.9M300.4 100.2h.9M295.7 117.7h.9M295.3 112.2h.9M295.4 90.9h.9" stroke="#f6da1c" stroke-width=".9" opacity="0.4"/><path d="M248.5 63.8h.9M248.4 56.5h.9M263.1 124.9h.9M262.3 125.5h.9M264.5 124.4h.9M270.7 74.3h.9M248.6 58.7h.9M243.9 122.6h.9M248.0 124.8h.9M274.8 125.5h.9M243.6 59.7h.9M261.1 62.7h.9M249.8 60.9h.9M273.6 71.4h.9M243.6 123.3h.9M255.0 128.9h.9M270.9 130.1h.9M254.0 124.0h.9M257.7 128.9h.9M245.8 125.2h.9M270.3 126.1h.9M246.4 57.5h.9M274.7 77.7h.9M276.1 85.4h.9M248.3 126.4h.9M265.2 67.2h.9M261.9 66.3h.9M272.3 75.4h.9M249.7 131.1h.9M258.3 131.2h.9M247.0 122.5h.9M267.2 122.8h.9M265.0 61.4h.9M251.3 126.8h.9M269.8 64.6h.9M275.0 114.9h.9M274.2 115.9h.9M256.5 58.3h.9M274.1 65.1h.9M275.9 118.7h.9M271.5 127.8h.9M254.0 57.9h.9M245.2 122.2h.9M256.2 134.6h.9M265.9 65.2h.9M250.5 59.5h.9M252.2 127.2h.9M272.7 78.9h.9M273.2 116.4h.9M265.8 64.7h.9M244.2 125.7h.9M245.9 65.4h.9M267.0 66.7h.9M275.8 126.2h.9M266.1 66.9h.9M278.1 123.8h.9M258.9 57.4h.9M271.0 73.2h.9M271.5 73.1h.9M264.9 66.1h.9M256.0 61.7h.9M264.9 123.5h.9M247.9 56.7h.9M268.2 122.2h.9M266.4 123.7h.9M258.9 127.2h.9M246.6 63.7h.9M264.5 64.2h.9M269.6 72.1h.9M273.9 122.6h.9M242.0 125.3h.9M265.0 126.1h.9M251.7 123.7h.9M276.1 78.7h.9M269.5 71.4h.9M265.3 63.0h.9M272.6 123.9h.9M275.0 80.9h.9M250.1 58.2h.9M270.4 72.2h.9M243.7 67.0h.9M266.1 62.9h.9M252.1 129.6h.9M238.7 120.6h.9M253.7 126.6h.9M266.0 68.5h.9M272.7 76.5h.9M243.4 114.7h.9M244.8 128.7h.9M279.8 81.5h.9M252.5 128.1h.9M255.0 60.4h.9M245.1 123.0h.9M244.6 115.7h.9M265.9 64.7h.9M259.8 59.6h.9M273.8 118.0h.9M266.4 128.8h.9M243.3 117.4h.9M277.8 86.6h.9M277.4 86.1h.9M271.6 68.4h.9M243.6 64.5h.9M258.5 62.6h.9M264.5 127.2h.9M249.4 125.5h.9M270.5 72.6h.9M251.4 122.4h.9M242.9 116.3h.9M242.3 121.6h.9M244.3 66.5h.9M254.2 127.7h.9M245.3 116.3h.9M245.3 117.8h.9M253.8 125.2h.9M260.2 130.7h.9M250.4 124.0h.9M264.1 66.4h.9M274.4 73.8h.9M256.8 60.0h.9M263.9 63.5h.9M238.5 119.4h.9M272.4 73.8h.9M258.2 54.5h.9M276.8 121.9h.9M272.3 125.1h.9M272.9 125.3h.9M250.9 65.0h.9M270.7 69.8h.9M253.9 60.3h.9M265.1 128.5h.9M265.0 124.7h.9M276.0 70.0h.9M247.0 64.1h.9M268.7 121.8h.9M274.2 116.5h.9M271.0 69.3h.9M272.1 119.8h.9M275.4 121.5h.9M245.5 117.0h.9M247.9 125.4h.9M273.2 71.2h.9M271.2 123.0h.9M240.8 117.3h.9M251.9 55.8h.9M251.4 57.9h.9M243.7 114.1h.9M273.4 118.1h.9M256.7 56.0h.9M272.2 74.4h.9M244.6 119.9h.9M272.3 124.3h.9M251.7 53.5h.9M242.9 114.5h.9M273.2 76.8h.9M276.1 84.0h.9M240.2 116.6h.9M266.8 61.8h.9M269.3 69.9h.9M269.8 66.6h.9M268.3 67.4h.9M272.4 119.7h.9M251.1 122.5h.9M272.5 120.4h.9M249.2 123.9h.9M257.8 63.1h.9M259.4 63.3h.9M272.6 118.6h.9M256.2 124.3h.9M274.1 116.4h.9M251.9 61.3h.9M271.3 65.7h.9M276.5 112.9h.9M272.0 127.7h.9M275.9 76.3h.9M250.9 61.1h.9M275.4 120.8h.9M249.2 63.1h.9M275.2 125.1h.9M269.0 120.9h.9M258.6 127.5h.9M248.5 58.1h.9M244.1 65.8h.9M272.8 117.6h.9M242.4 116.2h.9M253.0 60.7h.9M272.8 63.8h.9M243.1 114.0h.9M276.1 70.8h.9M262.7 134.8h.9M272.2 118.2h.9M255.7 125.5h.9M281.7 77.4h.9M270.6 69.5h.9M247.8 130.1h.9M252.6 125.2h.9M261.6 61.7h.9M261.2 128.2h.9M277.1 72.8h.9M272.3 120.5h.9M249.7 124.8h.9M277.0 113.8h.9M263.7 66.7h.9M245.2 126.2h.9M262.8 55.4h.9M264.7 134.3h.9M278.1 77.8h.9M261.5 130.1h.9M274.0 70.4h.9M263.5 58.2h.9M257.7 63.5h.9M256.7 64.3h.9M271.0 122.2h.9M263.1 128.0h.9M264.6 65.3h.9M243.2 57.3h.9M254.3 60.0h.9M241.7 114.6h.9M253.0 125.8h.9M267.8 125.9h.9M277.0 85.7h.9M238.1 121.8h.9M257.1 131.2h.9M273.1 117.0h.9M258.4 64.8h.9M244.1 126.1h.9M254.2 62.4h.9M266.5 63.9h.9M261.7 125.6h.9M264.2 64.7h.9M238.5 119.0h.9M240.3 112.9h.9M275.2 113.3h.9M263.8 64.5h.9M268.5 71.2h.9M255.7 125.8h.9M278.9 86.2h.9M246.8 59.9h.9M250.0 127.0h.9M248.7 127.1h.9M267.7 68.3h.9M262.6 65.5h.9M251.2 127.4h.9M270.6 65.8h.9M250.2 56.8h.9M269.2 127.2h.9M267.6 128.1h.9M256.6 63.7h.9M266.6 128.4h.9M271.5 70.2h.9M270.6 125.0h.9M252.3 128.8h.9M270.3 120.0h.9M264.6 125.1h.9M252.2 56.1h.9M255.8 62.7h.9M251.8 123.8h.9M272.7 116.6h.9M266.3 130.4h.9M273.4 123.6h.9M255.6 128.4h.9M249.1 125.4h.9M245.1 116.2h.9M241.4 120.5h.9M262.0 62.7h.9M275.0 120.6h.9M254.0 61.9h.9M266.0 132.2h.9M249.9 125.9h.9M274.9 120.1h.9M263.5 125.4h.9M263.1 65.9h.9M271.5 67.3h.9M256.7 60.5h.9M262.4 63.7h.9M248.5 62.1h.9M276.1 73.5h.9M269.9 71.8h.9M251.0 128.8h.9M262.8 128.2h.9M280.9 79.6h.9M277.8 75.6h.9M278.0 87.9h.9M264.6 124.2h.9M247.9 124.0h.9M278.1 84.3h.9M246.6 122.5h.9M248.3 122.0h.9M269.3 64.4h.9M274.0 120.5h.9M251.4 54.0h.9M246.2 67.5h.9M247.5 58.2h.9M271.6 61.3h.9M267.5 127.3h.9M250.3 57.8h.9M262.1 62.1h.9M260.8 60.8h.9M271.9 75.3h.9M266.9 65.6h.9M253.5 63.5h.9M271.5 66.4h.9M250.6 63.6h.9M243.3 120.9h.9M249.0 63.3h.9M268.8 64.9h.9M244.4 119.6h.9M267.3 68.6h.9M272.3 74.2h.9M267.3 124.8h.9M274.2 115.3h.9M246.8 61.3h.9M277.9 79.6h.9M275.0 69.8h.9M273.4 123.1h.9M254.8 64.0h.9M274.0 120.2h.9M264.0 66.7h.9M247.6 125.3h.9M272.9 72.5h.9M272.6 120.3h.9M252.8 60.0h.9M251.3 124.0h.9M267.5 131.8h.9M242.7 113.9h.9M274.6 70.6h.9M278.5 82.4h.9M276.2 86.0h.9M250.6 128.4h.9M261.0 125.3h.9M250.7 129.8h.9M252.1 61.3h.9M277.5 84.1h.9M261.8 62.3h.9M279.9 82.3h.9M245.8 124.0h.9M246.0 124.1h.9M271.5 123.0h.9M266.0 125.0h.9M276.6 69.9h.9M272.9 77.2h.9M248.4 123.3h.9M274.5 124.0h.9M251.1 126.4h.9M251.3 124.4h.9M240.7 120.5h.9M264.2 63.7h.9M258.0 127.5h.9M278.8 124.0h.9M246.2 62.2h.9M239.5 115.8h.9M261.8 65.5h.9M261.8 63.7h.9M260.6 62.6h.9M277.0 122.8h.9M262.0 61.5h.9M274.4 77.4h.9M244.1 63.0h.9M253.7 63.7h.9M275.7 77.4h.9M255.0 126.9h.9M272.4 72.4h.9M265.0 60.3h.9M272.1 122.9h.9M249.4 53.6h.9M270.4 119.5h.9M246.3 66.3h.9M258.9 65.2h.9M268.3 62.5h.9M261.3 128.6h.9M277.6 83.3h.9M263.7 60.6h.9M247.6 123.7h.9M269.4 122.8h.9M243.9 118.7h.9M273.7 77.2h.9M244.0 117.7h.9M266.1 131.6h.9M264.6 67.2h.9M274.5 122.2h.9M271.2 128.8h.9M247.0 67.0h.9M277.0 75.3h.9M244.3 66.1h.9M240.9 115.6h.9M244.9 67.1h.9M245.5 62.8h.9M248.4 126.9h.9M266.1 125.6h.9M276.5 121.8h.9M244.1 60.3h.9M244.0 67.5h.9M244.1 126.3h.9M251.5 132.7h.9M241.0 115.0h.9M272.8 77.1h.9M278.1 118.5h.9M262.3 66.6h.9M274.5 78.5h.9M246.6 117.8h.9M245.9 65.5h.9M244.3 66.3h.9M251.1 122.9h.9M244.1 115.8h.9M261.9 135.7h.9M253.1 125.1h.9M280.3 81.7h.9M254.8 126.6h.9M258.3 64.4h.9M240.8 113.2h.9M262.4 66.5h.9M267.7 70.8h.9M255.6 59.5h.9M262.9 65.9h.9M254.7 56.1h.9M245.1 66.9h.9M261.9 64.8h.9M250.7 64.9h.9M274.2 76.6h.9M264.8 132.6h.9M252.0 132.3h.9M258.5 62.4h.9M260.8 125.0h.9M263.5 63.8h.9M241.8 113.9h.9M249.7 126.8h.9M255.5 127.2h.9M262.3 125.4h.9M252.4 63.8h.9M275.9 118.4h.9M262.7 126.9h.9M243.1 113.5h.9M268.5 66.5h.9M251.8 55.9h.9M240.8 115.5h.9M248.3 123.4h.9M258.4 57.4h.9M246.5 121.5h.9M276.5 84.3h.9M275.8 117.3h.9M254.6 131.6h.9M249.1 129.2h.9M248.3 66.0h.9M263.3 125.7h.9M254.5 133.3h.9M269.1 70.2h.9M240.2 115.1h.9M264.5 126.1h.9M247.3 62.0h.9M273.9 117.9h.9M278.0 85.8h.9M245.2 61.3h.9M245.5 66.8h.9M269.3 122.5h.9M269.9 120.5h.9M245.1 63.3h.9M265.7 125.8h.9M253.6 123.5h.9M262.0 125.4h.9M272.1 71.0h.9M261.1 129.7h.9M247.4 124.5h.9M267.5 123.0h.9M270.4 73.6h.9M269.0 122.2h.9M268.2 66.1h.9M247.2 127.8h.9M272.4 76.8h.9M251.3 57.7h.9M241.3 119.1h.9M243.9 118.0h.9M275.0 117.9h.9M270.4 121.9h.9M241.0 114.1h.9M243.7 120.2h.9M279.6 81.1h.9M257.1 125.7h.9M245.9 119.1h.9M267.1 123.2h.9M277.0 86.6h.9M275.1 76.8h.9M276.9 119.4h.9M273.1 76.7h.9M266.1 123.8h.9M278.9 72.0h.9M261.2 63.3h.9M266.2 122.8h.9M252.5 54.3h.9M243.4 123.6h.9M263.1 64.9h.9M272.8 118.5h.9M251.3 62.5h.9M240.3 116.7h.9M256.2 60.9h.9M269.2 130.1h.9M267.6 66.4h.9M244.8 65.7h.9M244.2 114.7h.9M262.0 126.7h.9M278.0 86.4h.9M244.1 64.1h.9M266.4 122.7h.9M271.4 65.6h.9M273.2 66.5h.9M267.0 128.5h.9M277.5 78.9h.9M260.4 62.8h.9M255.4 127.1h.9M246.6 65.8h.9M272.4 75.9h.9M258.4 64.8h.9M259.6 61.4h.9M255.4 125.6h.9M255.0 126.6h.9M251.4 61.5h.9M249.8 132.1h.9M250.0 125.5h.9M272.1 68.0h.9M276.1 78.2h.9M274.1 126.8h.9M275.0 115.8h.9M268.3 130.1h.9M245.8 63.2h.9M277.2 120.5h.9M248.1 64.3h.9M264.9 126.3h.9M265.1 125.0h.9M262.9 65.5h.9M253.6 61.7h.9M254.0 133.5h.9M260.8 133.8h.9M275.8 69.6h.9M251.7 62.7h.9M264.5 124.3h.9M267.7 69.9h.9M275.5 118.7h.9M260.2 125.7h.9M274.4 72.9h.9M268.5 63.3h.9M263.1 127.1h.9M269.7 66.8h.9M267.8 67.0h.9M261.0 126.2h.9M258.8 60.9h.9M276.2 115.2h.9M279.0 83.0h.9M266.2 134.3h.9M244.8 122.5h.9M271.1 120.6h.9M269.7 125.3h.9M248.7 123.3h.9M273.9 120.2h.9M277.8 81.1h.9M258.2 126.6h.9M264.5 127.2h.9M246.3 63.9h.9M245.8 120.5h.9M244.3 125.5h.9M260.7 125.4h.9M244.6 118.0h.9M269.0 122.0h.9M257.0 134.7h.9M250.2 123.6h.9M270.4 121.0h.9M250.2 63.4h.9M242.8 122.6h.9M252.3 126.3h.9M260.3 57.4h.9M276.8 116.7h.9M258.3 125.0h.9M271.6 74.7h.9M249.0 62.7h.9M242.2 116.6h.9M255.0 63.4h.9M268.9 71.3h.9M254.3 133.0h.9M275.3 71.6h.9M245.0 63.3h.9M246.5 56.3h.9M264.6 126.4h.9M269.6 123.3h.9M246.9 118.6h.9M252.6 124.5h.9M280.0 80.9h.9M263.6 124.6h.9M246.7 65.0h.9M263.5 126.0h.9M257.7 63.5h.9M243.4 63.0h.9M274.3 77.8h.9M244.6 119.3h.9M244.0 67.7h.9M276.3 86.0h.9M275.8 74.9h.9M269.7 68.2h.9M245.5 65.7h.9M276.9 84.8h.9M246.6 65.8h.9M274.9 69.8h.9M250.2 64.2h.9" stroke="#b6f000" stroke-width=".9" opacity="0.4"/><path d="M220.5 82.7h.9M240.1 64.6h.9M224.5 94.3h.9M234.5 113.2h.9M238.3 60.0h.9M238.3 59.0h.9M237.9 117.3h.9M232.0 58.4h.9M228.6 104.0h.9M232.2 110.8h.9M221.4 94.3h.9M219.9 83.4h.9M230.1 105.6h.9M230.0 106.2h.9M221.8 89.8h.9M234.8 60.5h.9M222.4 89.2h.9M228.7 105.1h.9M223.8 91.5h.9M222.1 96.0h.9M226.2 109.1h.9M224.2 100.1h.9M241.0 62.9h.9M232.7 60.0h.9M241.0 64.7h.9M233.6 110.6h.9M235.7 112.3h.9M235.2 109.7h.9M236.1 118.8h.9M235.7 62.8h.9M235.7 114.0h.9M242.9 64.2h.9M234.7 58.8h.9M239.0 59.2h.9M236.3 57.1h.9M228.4 103.8h.9M236.9 57.9h.9M235.7 55.6h.9M220.9 88.0h.9M222.2 87.2h.9M233.8 110.5h.9M238.9 60.4h.9M220.3 83.2h.9M234.6 110.8h.9M240.2 113.2h.9M222.6 86.7h.9M233.2 111.6h.9M233.6 59.0h.9M233.3 109.0h.9M237.4 63.5h.9M231.3 59.6h.9M222.3 81.4h.9M226.9 102.9h.9M234.4 114.0h.9M241.7 66.1h.9M242.0 57.8h.9M239.0 115.4h.9M237.6 63.0h.9M237.2 111.3h.9M241.4 64.9h.9M220.8 81.6h.9M226.6 109.1h.9M235.2 60.6h.9M229.9 107.8h.9M224.4 95.4h.9M234.9 59.3h.9M235.1 117.9h.9M236.7 57.9h.9M235.9 112.9h.9M231.7 110.0h.9M243.6 65.7h.9M231.8 57.8h.9M220.6 93.4h.9M220.7 80.8h.9M220.8 88.9h.9M237.1 118.7h.9M241.9 66.3h.9M233.7 61.9h.9M242.0 63.9h.9M219.9 94.9h.9M233.4 112.8h.9M222.7 100.3h.9M225.3 97.3h.9M229.0 104.3h.9M223.1 98.6h.9M221.0 96.7h.9M221.6 89.9h.9M222.6 85.0h.9M231.7 61.2h.9M233.7 62.0h.9M226.3 99.6h.9M235.0 55.5h.9M234.6 57.6h.9M237.6 114.1h.9M227.8 106.4h.9M228.1 106.2h.9M238.3 114.0h.9M237.8 115.5h.9M234.8 115.7h.9M239.9 115.3h.9M240.2 63.9h.9M238.7 62.7h.9M228.2 110.9h.9M221.8 85.6h.9M223.8 96.9h.9M223.1 86.3h.9M220.3 89.0h.9M238.1 57.1h.9M241.7 65.3h.9M235.5 111.4h.9M242.4 60.0h.9M223.9 103.8h.9M224.1 96.9h.9M236.7 62.6h.9M230.9 110.6h.9M226.7 104.0h.9M225.7 103.1h.9M235.1 114.3h.9M235.4 56.7h.9M218.9 84.4h.9M233.2 117.5h.9M241.8 60.8h.9M234.6 110.2h.9M239.3 113.1h.9M222.3 86.1h.9M230.2 111.8h.9M235.5 115.0h.9M235.6 60.4h.9M224.5 104.2h.9M234.4 116.6h.9M223.0 92.4h.9M242.8 64.9h.9M237.1 59.0h.9M226.6 103.2h.9M241.9 64.0h.9M235.7 112.6h.9M240.1 64.4h.9M233.6 58.4h.9M233.4 111.8h.9M232.2 61.5h.9M224.3 100.8h.9M222.3 84.1h.9M218.8 84.2h.9M231.9 61.8h.9M221.8 89.6h.9M224.8 96.5h.9M234.3 61.1h.9M241.2 61.0h.9M233.2 109.1h.9M220.4 84.0h.9M222.0 92.0h.9M230.1 108.8h.9M220.6 91.0h.9M236.1 113.1h.9M237.0 57.8h.9M224.2 92.4h.9M238.3 112.7h.9M231.1 106.9h.9M233.4 59.7h.9M232.5 109.6h.9M232.6 60.0h.9M220.3 85.5h.9M232.9 114.3h.9M222.5 84.8h.9M235.5 60.9h.9M227.1 102.9h.9M232.6 58.8h.9M238.9 111.8h.9M222.1 103.1h.9M231.4 109.2h.9M221.1 91.0h.9M238.7 111.6h.9M230.6 109.0h.9M232.2 108.4h.9M236.5 60.3h.9M227.0 103.5h.9M225.0 98.7h.9M221.0 88.4h.9M236.4 112.4h.9M234.2 60.8h.9M240.7 60.7h.9M220.9 82.3h.9M239.8 63.0h.9M237.4 112.3h.9M220.6 88.8h.9M233.1 59.3h.9M225.4 97.2h.9M236.6 113.1h.9M221.9 99.0h.9M225.8 100.5h.9M222.6 87.8h.9M237.2 61.1h.9M243.1 64.5h.9M234.3 115.4h.9M222.5 91.1h.9M222.9 89.3h.9M224.5 93.1h.9M224.1 98.8h.9M219.9 84.3h.9M236.3 54.6h.9M219.9 86.2h.9M223.7 95.5h.9M219.3 85.4h.9M223.2 105.2h.9M239.1 63.0h.9M224.2 91.6h.9M227.6 106.2h.9M242.3 63.6h.9M237.6 113.1h.9M235.0 114.1h.9M243.2 66.8h.9M225.6 97.3h.9M237.1 113.7h.9M233.9 113.6h.9M220.3 90.2h.9M239.6 113.7h.9M238.3 113.7h.9M239.6 57.0h.9M220.4 84.3h.9M228.1 104.8h.9M240.8 61.6h.9M237.0 118.4h.9M227.0 107.9h.9M222.3 91.3h.9M231.7 62.1h.9M238.6 63.4h.9M233.0 54.7h.9M233.6 115.6h.9M223.4 104.9h.9M237.5 113.7h.9M226.3 108.0h.9M234.0 115.1h.9M224.5 96.3h.9M235.9 58.6h.9M231.9 109.0h.9M240.7 59.6h.9M234.8 61.3h.9M230.2 109.9h.9M234.3 57.0h.9M222.5 81.8h.9M234.5 114.5h.9M239.4 60.0h.9M241.3 64.9h.9M217.9 88.7h.9M223.0 92.0h.9M237.2 62.0h.9M232.2 112.0h.9M238.6 60.4h.9M232.5 112.0h.9M234.9 115.3h.9M225.9 106.6h.9M229.0 104.5h.9M234.8 110.9h.9M222.2 82.0h.9M231.1 109.3h.9M241.1 57.0h.9M230.1 112.0h.9M222.7 85.4h.9M235.9 111.8h.9M241.9 63.0h.9M226.5 104.1h.9M221.9 93.2h.9M230.9 106.8h.9M243.8 67.4h.9M238.0 111.9h.9M223.2 102.1h.9M233.1 61.3h.9M232.5 114.1h.9M239.7 64.3h.9M233.2 110.3h.9M237.9 62.0h.9M235.4 56.7h.9M223.6 92.8h.9M232.3 112.5h.9M234.6 60.9h.9M227.8 102.6h.9M228.2 108.2h.9M240.9 63.1h.9M220.3 90.7h.9M222.3 90.7h.9M234.4 52.6h.9M221.0 82.6h.9M225.0 100.7h.9M227.0 104.9h.9M224.7 102.2h.9M224.6 97.3h.9M224.9 107.1h.9M232.1 108.9h.9M238.9 115.8h.9M229.1 108.8h.9M224.6 98.0h.9M243.1 65.5h.9M229.0 105.3h.9M223.9 92.1h.9M226.7 109.5h.9M241.1 65.2h.9M232.9 59.3h.9M221.6 89.2h.9M239.5 57.2h.9M225.0 99.7h.9M226.6 103.4h.9M233.0 59.0h.9M228.8 104.9h.9M227.3 106.9h.9M221.6 92.3h.9M235.2 58.6h.9M238.0 111.4h.9M242.7 64.1h.9M234.6 112.7h.9M236.4 61.7h.9M232.9 108.1h.9M224.3 97.5h.9M237.3 115.3h.9M220.7 88.3h.9M242.4 63.0h.9M234.0 61.5h.9M236.4 62.6h.9M240.3 112.4h.9M241.6 60.1h.9M234.2 111.2h.9M239.4 112.7h.9M232.8 110.0h.9M233.6 59.7h.9M240.2 64.1h.9M224.0 93.1h.9M236.3 59.9h.9" stroke="#04b02a" stroke-width=".9" opacity="0.4"/><path d="M228.0 44.2h.9M229.2 49.6h.9M218.2 79.0h.9M216.7 83.8h.9M230.5 54.2h.9M218.9 80.0h.9M230.6 47.2h.9M227.4 50.4h.9M230.0 53.4h.9M232.4 50.9h.9M223.3 44.1h.9M226.4 45.9h.9M229.7 45.1h.9M219.5 48.7h.9M230.5 59.3h.9M228.1 47.9h.9M218.6 80.1h.9M225.5 48.3h.9M220.9 44.1h.9M217.2 83.9h.9M219.4 81.9h.9M223.7 44.4h.9M229.1 54.2h.9M221.7 45.3h.9M231.9 54.3h.9M223.3 44.8h.9M231.2 55.7h.9M225.0 45.5h.9M221.2 47.7h.9M223.9 47.0h.9M227.7 50.7h.9M231.1 57.3h.9M225.4 48.6h.9M227.4 49.3h.9M222.9 45.3h.9M224.2 49.1h.9M220.7 79.3h.9M218.4 80.2h.9M219.4 80.6h.9M220.1 47.1h.9M232.1 53.5h.9M225.5 47.2h.9M231.9 52.5h.9M230.7 56.5h.9M229.8 54.8h.9M230.8 57.3h.9M224.3 47.7h.9M218.6 80.1h.9M225.8 46.2h.9M230.1 55.7h.9M227.6 49.9h.9M230.5 54.3h.9M219.9 47.3h.9M219.4 48.7h.9M228.3 50.5h.9M222.1 44.3h.9M219.3 49.1h.9M230.8 51.9h.9M220.6 47.2h.9M215.1 79.6h.9M231.2 58.5h.9M233.3 50.9h.9M219.9 80.3h.9M230.4 58.9h.9M226.7 50.6h.9M231.1 59.5h.9M217.1 82.7h.9M230.4 57.0h.9M230.9 58.1h.9M218.1 82.7h.9M221.0 45.3h.9M230.1 50.8h.9M230.1 56.2h.9M220.8 47.3h.9M218.5 48.3h.9M217.9 81.6h.9M227.2 47.0h.9M225.3 46.9h.9M229.6 54.0h.9M225.8 42.6h.9M216.2 78.9h.9M219.8 48.3h.9M219.7 46.8h.9M219.8 46.8h.9M221.1 81.1h.9M218.9 79.5h.9M230.6 56.2h.9M218.8 80.3h.9M229.0 50.5h.9M231.6 54.3h.9M229.1 49.4h.9M220.2 47.9h.9M227.9 49.7h.9M231.8 53.5h.9M230.9 58.4h.9M222.6 45.2h.9M229.9 49.8h.9M230.4 57.7h.9M228.9 51.4h.9M218.8 81.4h.9M225.7 45.7h.9M219.9 47.3h.9M222.5 44.9h.9M228.2 50.6h.9M222.2 47.8h.9M219.5 82.4h.9M224.2 43.1h.9M222.7 44.0h.9M232.3 54.3h.9M228.8 52.0h.9M220.7 80.6h.9M229.0 53.5h.9M217.8 79.8h.9M218.9 80.6h.9M221.9 46.8h.9M221.2 47.2h.9M230.2 50.7h.9M218.5 78.9h.9M221.3 48.0h.9M218.5 78.9h.9M217.7 80.8h.9" stroke="#e0108a" stroke-width=".9" opacity="0.4"/><path d="M212.0 77.2h.9M209.7 91.8h.9M207.3 93.2h.9M205.1 93.1h.9M210.0 83.9h.9M202.2 101.9h.9M207.4 83.9h.9M201.6 107.5h.9M213.6 82.5h.9M202.7 104.7h.9M211.2 87.2h.9M203.6 100.2h.9M212.0 77.4h.9M216.5 84.0h.9M212.8 80.5h.9M201.5 100.8h.9M208.8 86.6h.9M195.5 89.2h.9M207.8 94.8h.9M204.4 100.8h.9M210.3 84.3h.9M212.1 71.8h.9M208.8 89.8h.9M214.4 86.4h.9M206.4 60.3h.9M212.8 75.4h.9M204.5 109.0h.9M210.1 80.1h.9M207.2 94.9h.9M209.2 80.5h.9M196.1 79.5h.9M194.4 92.5h.9M203.1 94.9h.9M211.1 87.1h.9M201.4 71.6h.9M210.1 79.1h.9M211.3 76.4h.9M208.0 83.4h.9M211.8 88.6h.9M203.7 107.1h.9M205.9 91.0h.9M206.8 89.6h.9M213.4 74.0h.9M200.8 101.1h.9M212.1 83.7h.9M197.7 79.9h.9M211.9 74.0h.9M205.3 88.9h.9M211.2 80.7h.9M211.8 74.8h.9M201.1 71.1h.9M211.1 78.4h.9M215.6 80.5h.9M204.0 101.4h.9M212.6 76.9h.9M206.0 88.2h.9M201.2 110.5h.9M206.8 101.4h.9M198.6 108.0h.9M193.0 92.0h.9M206.8 90.5h.9M208.6 85.9h.9M203.4 95.9h.9M212.6 84.5h.9M210.3 98.0h.9M210.2 79.1h.9M200.8 71.1h.9M199.6 104.1h.9M211.7 85.7h.9M200.2 108.6h.9M204.3 97.9h.9M212.8 91.5h.9M208.7 96.8h.9M201.4 102.5h.9M211.5 71.4h.9M208.4 93.9h.9M202.9 99.5h.9M197.2 112.7h.9M202.6 112.8h.9M211.1 74.9h.9M210.1 77.4h.9M208.7 87.0h.9M211.1 74.5h.9M207.4 97.4h.9M211.1 73.3h.9M202.5 98.1h.9M211.4 86.3h.9M212.8 75.2h.9M211.1 87.8h.9M213.7 90.8h.9M212.8 77.5h.9M215.9 81.8h.9M208.4 87.7h.9M192.4 98.7h.9M200.8 103.8h.9M213.1 88.4h.9M204.8 92.5h.9M194.0 86.4h.9M207.7 92.9h.9M198.6 76.5h.9M201.5 109.0h.9M209.1 84.1h.9M205.1 99.7h.9M210.1 79.8h.9M204.0 105.0h.9M212.9 75.6h.9M213.8 94.5h.9M213.8 76.9h.9M209.8 80.8h.9M209.7 82.6h.9M200.0 74.0h.9M210.0 90.8h.9M206.4 98.9h.9M204.6 96.3h.9M203.0 98.3h.9M206.1 62.3h.9M208.3 85.9h.9M209.7 83.2h.9M204.5 94.2h.9M202.5 110.7h.9M211.4 83.1h.9M210.7 101.1h.9M215.0 83.7h.9M207.7 86.9h.9M202.0 101.6h.9M206.0 91.7h.9M212.4 74.3h.9M212.7 81.5h.9M214.9 79.3h.9M207.6 89.5h.9M211.1 81.3h.9M207.1 85.4h.9M205.5 88.2h.9M214.2 78.8h.9M208.4 93.7h.9M207.8 94.9h.9M205.1 89.6h.9M208.7 80.4h.9M206.7 90.7h.9M216.1 82.9h.9M209.6 86.4h.9M213.1 83.1h.9M202.6 96.3h.9M211.6 75.3h.9M204.8 90.9h.9M212.6 80.6h.9M210.3 86.7h.9M211.7 100.6h.9M207.5 96.4h.9M210.5 86.5h.9M210.7 88.8h.9M204.8 97.1h.9M208.8 86.3h.9M202.8 99.2h.9M205.9 100.9h.9M209.9 99.4h.9M206.5 100.3h.9M211.2 80.7h.9M208.1 96.6h.9M206.3 86.4h.9M213.7 77.6h.9M207.8 84.3h.9M212.8 90.1h.9M206.5 86.5h.9M202.5 97.4h.9M214.7 81.5h.9M214.7 84.7h.9M210.5 76.1h.9M209.8 90.4h.9M206.0 89.5h.9M206.0 105.8h.9M205.9 96.9h.9M211.8 95.6h.9M212.9 75.5h.9M211.9 77.4h.9M211.2 83.2h.9M212.7 74.0h.9M213.3 85.1h.9M195.5 117.4h.9M208.8 81.1h.9M213.3 80.1h.9M203.6 103.8h.9M208.0 89.0h.9M200.6 105.3h.9M205.0 95.1h.9M205.3 93.2h.9M205.6 96.3h.9M210.1 88.0h.9M210.3 79.2h.9M204.6 91.0h.9M203.3 97.6h.9M207.2 86.6h.9M202.4 95.7h.9M204.1 104.5h.9M200.6 103.7h.9M206.2 99.8h.9M206.2 101.3h.9M203.9 99.9h.9M209.2 90.0h.9M208.9 88.3h.9M205.4 98.2h.9M206.1 91.8h.9M210.3 83.4h.9M207.4 98.2h.9M207.3 101.6h.9M208.6 84.9h.9M203.6 102.7h.9M211.9 86.2h.9M200.5 111.8h.9M206.5 91.3h.9M206.9 88.5h.9M208.0 89.3h.9M207.2 59.8h.9M214.9 80.4h.9M205.2 88.9h.9M209.4 83.2h.9M207.7 85.7h.9M196.9 77.2h.9M201.5 68.0h.9M215.3 87.6h.9M204.3 62.8h.9M209.0 95.7h.9M206.2 107.1h.9M204.0 101.0h.9M201.1 109.5h.9M193.3 92.4h.9M203.4 107.9h.9M203.1 93.2h.9M208.9 80.2h.9M212.5 77.7h.9M213.0 84.9h.9M206.6 100.5h.9M201.9 108.9h.9M207.8 100.9h.9M209.0 87.0h.9M203.3 99.9h.9M212.1 77.7h.9M195.2 84.0h.9M204.4 103.5h.9M200.9 69.1h.9M211.3 88.9h.9M214.1 81.4h.9M200.8 70.9h.9M201.5 108.2h.9M207.7 85.4h.9M206.4 93.5h.9M213.6 76.2h.9M207.6 87.9h.9M207.3 83.0h.9M212.9 75.2h.9M209.4 90.9h.9M205.9 89.3h.9M211.2 79.3h.9M213.2 83.1h.9M202.4 103.1h.9M204.5 93.7h.9M213.8 81.3h.9M199.5 75.2h.9M200.9 103.4h.9M207.8 93.8h.9M208.7 81.2h.9M208.4 87.0h.9M209.4 93.7h.9M212.6 79.3h.9M208.2 81.9h.9M209.7 100.3h.9M210.0 77.6h.9M208.7 85.2h.9M202.9 104.7h.9M212.2 84.0h.9M206.1 96.7h.9M205.7 98.9h.9M210.1 81.7h.9M207.6 87.9h.9M208.0 82.6h.9M203.2 98.5h.9M208.1 104.4h.9M212.0 82.4h.9M205.1 98.7h.9M212.6 81.0h.9M207.2 98.5h.9M205.0 96.7h.9M208.3 85.7h.9M194.2 92.2h.9M206.6 94.7h.9M203.9 102.4h.9M211.5 84.1h.9M194.4 96.6h.9M214.8 79.4h.9M210.8 91.5h.9M213.9 77.1h.9M211.9 77.1h.9M207.7 93.3h.9M206.1 90.8h.9M203.2 107.4h.9M208.0 85.9h.9M210.9 85.0h.9M200.6 108.2h.9M207.8 86.4h.9M209.6 84.9h.9M204.1 93.6h.9M209.5 89.6h.9M211.6 90.1h.9M204.4 93.5h.9M198.4 76.7h.9M208.0 86.9h.9M209.2 83.0h.9M209.1 82.1h.9M207.5 91.3h.9M213.2 80.0h.9M211.3 77.7h.9M213.5 82.2h.9M199.7 107.2h.9M211.5 83.5h.9M206.2 102.0h.9M207.1 95.4h.9M210.1 86.9h.9M212.9 86.0h.9M213.7 88.2h.9M207.0 86.0h.9M209.2 87.2h.9M206.7 104.0h.9M201.3 69.9h.9M209.0 83.0h.9M214.1 89.1h.9M208.7 89.2h.9M202.8 109.8h.9M209.5 85.4h.9M204.6 101.5h.9M212.2 76.9h.9M211.4 78.7h.9M212.0 79.7h.9M207.4 85.9h.9M206.4 87.1h.9M199.1 72.5h.9M211.1 76.5h.9M198.2 78.3h.9M203.9 93.7h.9M208.6 93.7h.9M210.7 86.7h.9M208.6 89.7h.9M206.8 87.2h.9M214.1 84.5h.9M207.3 89.9h.9M206.3 95.9h.9M214.1 91.1h.9M204.3 100.7h.9M206.8 105.0h.9M210.8 85.8h.9M207.3 98.5h.9M203.8 98.2h.9M204.4 103.0h.9M210.6 77.7h.9M203.0 100.1h.9M206.0 94.1h.9M208.0 84.9h.9M199.6 113.6h.9M210.0 86.1h.9M209.3 93.5h.9M198.3 78.1h.9M208.1 88.2h.9M208.2 87.1h.9M212.3 86.6h.9M199.3 108.3h.9M208.0 86.3h.9M202.4 100.2h.9M213.5 84.8h.9M201.4 102.3h.9M210.8 81.7h.9M210.1 88.6h.9M209.5 89.2h.9M213.8 87.9h.9M192.5 97.3h.9M203.5 101.3h.9M210.6 84.2h.9M202.8 104.0h.9M193.8 92.9h.9M203.4 94.8h.9M206.0 89.1h.9M212.4 74.8h.9M204.2 93.3h.9M213.3 78.0h.9M206.7 95.2h.9M205.2 106.2h.9M209.8 82.9h.9M207.3 95.3h.9M208.2 87.2h.9M212.0 82.2h.9M207.8 100.2h.9M205.0 91.3h.9M208.0 86.2h.9M217.5 87.4h.9M204.3 92.0h.9M211.5 85.2h.9M204.4 94.7h.9M207.0 99.3h.9M208.6 87.2h.9M208.1 83.9h.9M209.0 82.2h.9M208.3 93.1h.9M209.9 80.7h.9M216.3 82.1h.9M213.1 78.7h.9M204.8 99.5h.9M201.9 99.0h.9M201.4 98.2h.9M212.3 75.7h.9" stroke="#3c0cb4" stroke-width=".9" opacity="0.4"/><path d="M211.9 45.2h.9M220.4 34.2h.9M207.7 56.9h.9M213.2 45.7h.9M209.6 54.2h.9M212.7 48.2h.9M211.9 47.6h.9M219.3 34.2h.9M212.4 45.6h.9M214.3 43.7h.9M220.8 43.6h.9M210.8 48.8h.9M212.7 43.3h.9M206.8 59.2h.9M220.4 33.3h.9M219.7 34.1h.9M209.9 51.5h.9M206.0 58.3h.9M216.6 40.3h.9M215.8 39.5h.9M221.0 42.9h.9M207.9 53.0h.9M212.4 46.5h.9M211.4 50.1h.9M208.7 54.5h.9M213.4 45.6h.9M213.1 45.5h.9M211.1 51.0h.9M210.1 50.0h.9M216.2 39.8h.9M216.6 37.9h.9M214.6 42.9h.9M209.1 55.6h.9M208.2 54.7h.9M212.6 44.7h.9M209.6 51.9h.9M208.6 54.9h.9M207.6 55.1h.9M212.4 48.1h.9M213.6 41.8h.9M207.6 55.8h.9M209.6 51.9h.9M206.8 56.7h.9M205.8 58.9h.9M215.1 40.6h.9M221.6 40.1h.9M212.0 48.3h.9" stroke="#1186b6" stroke-width=".9" opacity="0.4"/><path d="M191.6 103.5h.9M188.1 122.1h.9M187.8 121.5h.9M187.2 129.4h.9M191.0 107.7h.9M195.1 116.3h.9M189.8 114.1h.9M189.6 116.5h.9M188.2 122.8h.9M193.7 118.7h.9M197.4 111.0h.9M193.9 117.5h.9M186.8 129.8h.9M190.8 123.1h.9M188.3 120.8h.9M190.3 107.3h.9M190.9 103.9h.9M193.5 99.5h.9M197.1 112.4h.9M191.4 103.9h.9M187.4 129.7h.9M188.3 118.1h.9M192.6 101.2h.9M190.7 108.9h.9M196.9 112.4h.9M193.1 119.6h.9M192.9 120.4h.9M194.3 115.8h.9M191.7 122.3h.9M188.2 122.1h.9M196.9 112.3h.9M193.6 118.0h.9M196.8 112.1h.9M190.8 106.5h.9M194.3 116.5h.9M186.5 130.2h.9M187.6 129.7h.9M193.9 117.3h.9M188.9 115.9h.9M194.4 116.2h.9M192.1 100.3h.9M190.7 105.8h.9M195.2 115.2h.9M187.5 123.8h.9" stroke="#3f0a50" stroke-width=".9" opacity="0.4"/><path d="M287.2,82.4l-.7 0-.5-.2.2-.5.5.1.5.2 0 .4zM287.9,119.5l-.2-.5-.1-.6-.8 0-.3-.3-.7 0-.5-.2.5-.2.2-.5-.6-.2-.5.2-.1.5-.6-.1-.3 0-.5.1-.2-.5-.2-.5-.5-.2-.4 0 0 .7-.5.2-.2-.6 0-.6-.5-.2-.5.2-.2.5-.5-.2 0-.7 0-.7-.5-.2-.6.2 0 .7-.5.2-.5-.2-.4-.4 0-.6-.2-.6 0-.3.6-.2-.2-.5-.5-.2 0-.7 0-.7-.4-.4 0-.6 0-.8-.3-.3 0-.7 0-.7 0-.7 0-.7 0-.7 0-.7-.4-.3 0-.8 0-.6 0-.8 0-.7 0-.7.2-.5.2-.5 0-.7 0-.7 0-.7 0-.7 0-.7.2-.5.1-.6 0-.7 0-.7.2-.5.2-.5 0-.7.1-.5.2-.6 0-.7.2-.5.2-.5 0-.7.3-.4 0-.7.2-.5.2-.5.3-.3 0-.8.2-.5.4-.3.5.2.1.5.4-.4.4.4.5-.2.3 0-.2.5-.6 0-.2.6.3 0 .5-.2.4-.4.7 0 .7 0 .2-.5-.2-.5-.7 0-.2-.6.5-.1.4-.4.4-.3.5.1 0 .7.5.2.5-.2 0-.7.2-.5.7 0 .2.5 0 .7 0 .8.5.1.2-.5 0-.7.1-.5.8 0 .1.5.5.2.8 0 .5.1.1.6.6.2 0 .6-.6.2-.1.6.5.1.2-.5.5-.2.5-.2 0-.6.6-.2.5.2.1.5 0 .3-.1.6-.5.1-.6.2.4.3.3.4.4 0 .3 0 0 .7.4 0 .2-.5.5.1.1.6.2.5 0 .7.2.5.4.4.6 0 .2.5.4.3 0 .8.5.1.7 0 .5.2-.1.5-.8 0-.6 0-.2.6.2.5.5.1-.2.6-.2.5.2.5.7 0 .5.2 0 .7-.5.2-.7 0-.2.5.5.2.6.1 0 .7-.6.2-.1.6.5.1.5.2 0 .7 0 .7 0 .7.2.5.2.5-.2.6-.2.5-.3.3 0 .8-.6.1-.1.5 0 .8.1.5 0 .3-.1.6 0 .6-.5.2-.2.6-.2.5-.2.5.4.4-.4.3-.2.5-.3.4-.3-.4-.2.6-.4 0-.2-.6-.6 0-.2.6.5.1.5.2 0 .7-.5.2-.5.2-.2.5-.5-.2-.2-.5-.5.2-.4.3.6.2.5.1-.2.6-.3.3-.6.2 0 .7-.5.2-.5.2-.2.5-.5.1 0 .8-.5.1-.6.2 0 .7-.2.5-.3.4zM280.4,89.6l0-.8-.6-.1-.1-.6-.5-.1-.6.1.2.6.7 0 .2.5.1.5.6-.1zM294.2,88.7l0-.4 0 .4zM294.9,89.7l0-.3 0 .3zM294.7,92.4l0-.8-.5-.1-.2.5.4.4.3 0zM296.6,94.3l0-.4 0 .4zM298,98.8l-.5-.2 0-.7.5-.1.2.5-.2.5zM298.8,102.3l-.2-.5.2-.5.1.5-.1.5zM296.5,103.2l-.2-.5-.2.5.4 0zM295.8,106.7l0-.7-.4 0-.2.5 0 .4.6-.2zM297.7,106.5l-.2-.5.4 0-.2.5zM295.8,107.4l-.4 0 .4 0zM294.9,113.9l-.2-.5.4 0-.2.5zM294.2,114.6l-.2-.6.4 0-.2.6zM292.4,116.3l-.1-.5 0-.7.5-.2.7 0 0 .4-.3.3-.4.4-.4.3zM283.5,115.8l-.3 0 .3 0zM291.8,116.3l-.6-.1.6-.2 0 .3zM291,117.7l-.6 0-.2-.5.2-.5.6 0 .2.5-.2.5zM287.7,117.6l-.1-.6-.4.4-.5.2.5.1.5-.1zM281.2,118.1l0-.4 0 .4zM283,118.1l-.5-.2.5-.2 0 .4zM290,118.8l-.5-.2 0-.7.5-.2.2.5-.2.6zM285.8,119.5l-.7 0-.2-.5.2-.6.7 0 .2.6-.2.5zM286.5,120.2l-.5-.2.2-.5.5.1-.2.6z" fill="#f9e560"/><path d="M285.8,84.5l-.7 0-.2-.6.5-.1.6.1-.2.6zM288.2,117.7l-.5-.1 0-.8 0-.6 0-.8-.1-.5-.8 0-.1.5 0 .8-.5.1-.4.4-.7 0-.7 0-.4-.4-.1.5-.2.6-.5-.2 0-.7.2-.5.5-.2 0-.7-.5-.2-.2.5-.2.6-.7 0-.2.5-.5.2-.2-.5.4-.4-.4-.4-.3-.3.5-.2 0-.3-.7 0-.3-.4-.4.4-.4-.4-.3-.3-.7 0-.2-.5-.5-.2-.7 0-.5-.2 0-.7.5-.2.2-.5-.6-.2-.5-.2 0-.6 0-.8-.3-.3 0-.7 0-.7 0-.7 0-.7 0-.7 0-.7-.4-.3 0-.8 0-.6 0-.8 0-.7 0-.7.2-.5.2-.5 0-.7 0-.7 0-.7 0-.7 0-.7.2-.5.1-.6 0-.7 0-.7.2-.5.2-.5 0-.7.1-.5.2-.6 0-.7.2-.5.2-.5 0-.7.3-.4.5-.1.8 0 .5.1 0 .8 0 .6.1.6.6-.2 0-.7 0-.7-.2-.5-.5-.2.1-.5.6.1.3 0-.3-.3 0-.7.5-.2.5-.1.2-.6.5.2.2.5.3-.3.6-.2 0-.7.2-.5.6 0 .8 0 .1.5.2.5.7 0 .7 0 .2-.5 0-.7.1-.5.8 0 .6 0 .8 0 .5.1-.2.6-.7 0-.7 0-.5.2.3.3.5.2.6.1.5.2.2.6.5.1.2-.5.5-.2.5.2 0 .7 0 .7.6.2.5.1.1.6.6.1.3.4.4.4 0 .6.3.4.2.5 0 .4-.7 0-.2.5.4.4.5.1.5-.1 0-.8.5-.1.6.1 0 .8-.6.1-.1.5.5.2.2.6.2.5.1.5-.5.2-.5.1 0 .7.5.2.2.6.3.3-.3.3.2.6.1.5.2.5.2.6.5.1.2.5.3.4-.5.2-.7 0-.2.5.5.2.6.1 0 .7-.4.4 0 .7.6.2 0 .3-.4.4-.5-.2 0-.7 0-.7-.5-.2-.2.5.2.6.1.5.4.3 0 .8 0 .6-.4.4-.1.5-.2-.5-.6-.2-.5.2 0 .7 0 .7.5.2.6-.2.2-.5.5.1 0 .8 0 .6-.5.2-.6.2-.2.5-.3.4-.3-.4-.4.4-.2.5.6.2.1.5-.1.5-.8 0-.6 0-.2.6.5.1.5.2 0 .7-.5.2-.7 0-.4.3-.3-.3-.7 0-.7 0-.3.3 0 .4.6 0 .2.5-.2.5-.3.4-.7 0-.4.3-.3.4-.7 0-.2.5.6.2.5.1-.5.2-.4.4-.4.3zM290,86.2l-.5-.2.5-.1 0 .3zM291.4,86.2l0-.3 0 .3zM280.2,86.9l-.5-.1.3-.4.4 0-.2.5zM278.4,88l-.5-.2.4-.4.1-.5.2.5-.2.6zM282.1,88.1l-.5-.1 0 .3.5-.2zM296,93.2l-.2-.5.3 0-.1.5zM296.6,93.2l-.1-.5.3 0-.2.5zM294.7,94.8l0-.7 0-.7-.5-.2 0 .4.2.5-.4.3.2.6.5-.2zM294.7,96.9l0-.7-.5-.2-.2.6.2.5.5-.2zM296.6,97.1l0-.4 0 .4zM294,99l-.3 0 .3 0zM295.8,100.4l0-.7-.4 0 0 .7.4 0zM277.9,110.2l-.3 0 .3 0zM280,112l-.3 0 .3 0zM292.4,115.3l0-.4 0 .4zM286,115.8l-.6-.2-.5.2.5.2.6-.2zM290,116.7l-.5-.2.1-.5.6.2-.2.5zM286.5,117.7l-.5-.1 0-.8.5-.1.2.5-.2.5zM290.4,117l0-.3 0 .3zM289.6,118.4l-.1-.5.5-.2 0 .4-.4.3zM285.8,119.5l-.7 0-.2-.5.2-.6.7 0 .2.6-.2.5z" fill="#f6da1c"/><path d="M286.9,109.2l.8-.4.6-.4.7-.6.3-.4.5-.7.4-.7.3-.7.3-.7.2-.9.2-.9.1-1 0-1 0-1.1-.2-1.1-.1-.7-.3-.8-.3-.9-.4-.6-.4-.6-.4-.6-.6-.6-.5-.4-.7-.4-.9-.3-.7 0-.7 0-1 .3-.6.4-.5.4-.7.6-.3.5-.4.6-.4.7-.3.7-.3 1-.2.7-.2 1.1 0 .7 0 1 0 .7.2 1.1.2.8.3 1 .2.6.4.8.5.6.3.5.6.6.5.4.6.4.8.3 1 .1 1-.1M287.2,113l1-.4.6-.3.6-.3.6-.6.5-.5.5-.6.4-.5.4-.6.4-.8.4-.6.3-.8.3-.8.2-.9.2-.7.1-1 .1-.9.1-.9 0-1 0-1.1-.1-.7-.1-1.1-.2-.8-.2-.9-.2-.7-.3-.7-.4-.8-.3-.7-.3-.6-.5-.7-.6-.7-.3-.4-.8-.6-.4-.4-.6-.3-.8-.4-1-.3-.6-.1-1.1 0-.7.2-.7.2-.8.4-.6.3-.7.5-.6.5-.4.5-.5.6-.5.7-.4.6-.4.6-.4.7-.3.7-.3.8-.3.8-.2.7-.2 1-.1.8-.1 1 0 1 .1.9.2.9.2.9.2.9.3.6.2.8.3.7.4.7.4.6.4.8.5.6.5.7.4.4.6.6.6.5.5.3.7.3.9.4.8.2 1.1 0 1-.2M287.8,115.8l.8-.3.7-.3.7-.4.4-.4.6-.5.4-.5.7-.6.4-.5.3-.7.6-.7.4-.7.3-.7.3-.7.3-.7.2-.7.3-1 .2-.8.2-1 .1-.7.1-1.1.1-1 0-1-.1-1.1-.1-1.1-.1-1-.1-.7-.2-1.1-.2-.7-.2-.7-.3-.9-.4-.8-.3-.7-.4-.7-.3-.6-.4-.5-.4-.6-.6-.8-.4-.3-.7-.7-.5-.4-.6-.3-.6-.4-.8-.3-1-.4-.7-.1-1.1 0-1 .1-.7.2-.7.2-.8.4-.6.3-.7.4-.7.5-.4.5-.8.3-.6.4-.7.4-.3 1 0 .7-.4 1 0 .7-.3 1.1 0 .7 0 1-.4.8 0 1 0 1 0 1.1 0 1.1-.3.6 0 1.1 0 1.1 0 1 .3.7 0 1.1 0 1 0 1 0 1.1.4.7.3.4.7.6.4.5.6.6.5.5.5.6.5.4.7.5.6.5.6.3.7.3.9.4.7.2 1 .1 1.1 0 1.1-.2M280.2,89.9l-.7-.7.7-.7.3 1.1" fill="none" stroke="#e4c410" stroke-width="0.45"/><path d="M251.5,61l-.7 0-.7 0 0-.3.3-.4.4.4.5-.2.4 0-.2.5zM255,61l-.5-.2.1-.5.6.2-.2.5zM257.8,61l-.7 0-.2-.5.5-.2.6.2-.2.5zM263,126.5l-.6 0-.8 0-.1-.5-.2-.6-.5.2-.6.2-.5-.2-.1-.5-.8 0-.1.5 0 .7-.4 0-.3-.3 0-.8.2-.5.5-.1 0-.8-.5-.1-.2.5-.2.5-.7 0-.7 0-.2-.5.6-.2 0-.3-.4-.4-.2.5-.5.2-.5-.2 0-.6-.6-.2-.1-.6-.5-.1-.6.1 0 .8 0 .6-.5.2-.5-.2 0-.6-.6-.2-.1-.6.5-.1.2-.5-.2-.6-.7 0-.7 0-.2.6-.2.5-.5-.2-.1-.5-.4-.4-.5.2-.4 0-.5-.2-.7 0-.2-.5.2-.5.7 0 .2-.6.3-.3-.3 0-.4 0-.3-.3-.4 0 0 .6-.3 0-.6-.1-.1-.5 0-.8-.4-.3-.3 0-.2.5-.4-.3-.3-.4-.7 0-.2-.5 0-.7.2-.5.5-.2 0-.7-.5-.2-.4-.3-.3-.4-.3-.3-.2.5 0 .7 0 .7-.4 0-.3-.4 0-.6 0-.8-.4-.3-.5-.2-.2.5 0 .8-.3 0-.4-.4-.3-.4.3-.3.2-.5.2-.6.1-.5.2-.5 0-.7.4-.3 0-.8.3-.3 0-.7.4-.4 0-.6.1-.6.2-.5 0-.7.2-.5.2-.5 0-.8.3-.3 0-.7 0-.7.2-.5.2-.6 0-.6 0-.8.3-.3 0-.7 0-.7 0-.7.4-.4 0-.6 0-.8 0-.7 0-.7.2-.5.1-.5 0-.7 0-.7 0-.7 0-.7 0-.7 0-.7.2-.5.2-.6 0-.7 0-.6 0-.8 0-.6 0-.8 0-.7 0-.7 0-.6 0-.8 0-.7 0-.7 0-.6 0-.8-.2-.5-.2-.5 0-.7 0-.7 0-.7 0-.7 0-.7 0-.7 0-.7-.1-.5-.2-.6 0-.6 0-.8 0-.7 0-.7-.2-.5-.2-.5 0-.7 0-.7.6-.2.1-.5 0-.7 0-.7 0-.7.2-.5.7 0 .2.5 0 .7 0 .7.5.2.3-.4.6-.2.3 0 .2.6.7 0 .2-.6.2-.5.6 0 .8 0 .3.4 0-.4-.2-.5 0-.7.2-.5.5.2 0 .6.6.2.6 0 .6-.2-.6-.1-.1-.5-.5-.2-.6-.2 0-.7.6-.2.5-.1.1-.6.8 0 .6 0 .2.6-.5.1-.5.2 0 .7.5.2.3-.4.4-.3.7 0 .3-.4.6-.1.2-.6.6 0 .2.6 0 .6-.2.6-.6 0-.2.5.2.5.6 0 .2-.5.2-.5.7 0 .7 0 .2.5-.6.2-.5.1 0 .8.5.1.8 0 .5-.1 0-.8 0-.6.5-.2.5.2 0 .6 0 .8.5.1.6-.1 0-.8 0-.6 0-.8 0-.6.2-.6.3.4.2.5 0 .7 0 .7 0 .7 0 .7.1.5 0 .4-.6 0-.2.5.5.2.7 0 .5.1.2.6.3.3.2-.5 0-.7.6-.2.3.4.2-.5-.5-.2-.6-.2 0-.7.6-.2.5.2.1.5.6.2.5.2.3.3.4-.3.7 0 .2.5-.5.2-.8 0-.6 0-.2.5 0 .7.3.3-.3.4 0 .7.5.2.5-.2.4 0 .5.2.2-.5.1-.6.6.2.3.4.4.3-.4.3.4.4.3.3 0 .7-.5.2 0 .4.3.3.2-.5.6-.2.3.4.3.3 0 .4-.5.1.2.6.7 0 .2-.6.5-.1.7 0 .2.5-.6.2-.1.5-.2.5-.5.2.2.5.5.2 0 .7.5.2.7 0 .7 0 .2.5-.6.2-.5.1 0 .7.4.4.1.5.4.4.2-.6 0-.7 0-.7.3 0 .4.4.3.3.6.2.1.5-.1.6-.8 0-.1.5-.5.2-.2.5.3.4.4 0 0-.8.5-.1.5.1 0 .8.5.1.2.5-.5.2-.2.5.2.6.5.1.2.6.4.3.1.5-.5.2-.2.5.2.6.7 0 .2-.6.1-.5.6.2 0 .7 0 .7-.6.2-.1.5.3.3.2.6.4.3.5.2-.2.5-.2.5 0 .7-.3.4 0 .7-.2.5-.2.5 0 .7-.2.6-.1.5 0 .7-.2.5-.2.5 0 .7 0 .7-.1.6-.2.5 0 .7 0 .7 0 .7 0 .7 0 .7-.2.5-.2.5 0 .7 0 .7 0 .8 0 .6 0 .8.4.3 0 .7 0 .7 0 .7 0 .7 0 .7 0 .7.3.3 0 .8 0 .6-.5.2-.2.6.6.1.5.2 0 .7 0 .7.1.5.2.6 0 .6-.3 0-.2-.5-.7 0-.7 0-.7 0-.5.2 0 .7-.4.4-.3.3-.6.2-.3.3-.2.6-.5.1-.5-.1-.4 0 .4.3.1.5.6.2-.4.4.2.5 0 .3-.4.4-.1-.6-.5-.1-.2-.5-.2-.6-.7 0-.2.6.2.5.7 0 .2.5.3.4-.3.3-.2.5-.4.4-.3.3-.3.4-.8 0-.6 0-.2-.5-.2-.6-.5-.2-.4 0 .4.4 0 .7-.5.2-.6.1 0 .8 0 .6 0 .8-.5.1-.7 0-.5.2 0 .7-.5.2-.6-.2 0-.7-.5-.2-.2.5.2.6.5.2-.2.5zM249.8,61.7l0-.3 0 .3zM248.7,62.8l-.5-.2 0-.7.5-.2.2.5-.2.6zM254.1,64.4l.4-.4-.2-.5-.7 0-.2.5.2.5.5-.1zM263,64.5l-.5-.1 0-.8.5-.1.2.5-.2.5zM256.2,65.4l0-.7-.5-.2-.5.2 0 .7.5.2.5-.2zM262.7,65.6l0-.4 0 .4zM250.6,66.1l-.2-.5-.5.2.2.5.5-.2zM253.8,66.1l.5-.2 0-.3-.7 0-.2.5.4 0zM246.1,67.2l0-.8-.5-.1-.2.5.2.5.5-.1zM268.6,68l-.6 0-.2-.5.5-.2.5.2-.2.5zM270.4,68l-.7 0-.2-.5.5-.2.6.2-.2.5zM246.1,68.9l0-.7-.5-.2-.2.6.2.5.5-.2zM269.4,69.8l-.6-.2 0-.7 0-.7.6-.2.1.6 0 .6-.1.6zM267.8,69.9l-.4 0 .4 0zM270.4,70.8l-.7 0-.2-.5.2-.5.7 0 .2.5-.2.5zM272.5,74.3l0-.3 0 .3zM276,78.2l-.2-.6.4 0-.2.6zM276.4,79.9l-.6-.1 0-.8.4 0 .3.4-.1.5zM276,81.7l-.2-.6.4 0-.2.6zM277.4,82.4l-.5-.2.1-.5.6.1-.2.6zM278.1,83.4l-.5-.2.2-.5.3.4 0 .3zM279.5,83.4l-.7 0-.2-.5.4 0 .5.2 0 .3zM278.4,86.2l-.6 0-.2-.5.2-.5.6 0 .6.2-.4.3-.2.5zM244.3,111.2l0-.6-.5-.2-.2.5.2.5.5-.2zM243.6,113l0-.7-.5-.2-.7 0-.5.2 0 .7.5.2.7 0 .5-.2zM275.1,113.7l0-.7-.3 0-.6.2-.1.5.5.2.5-.2zM276.7,117.7l-.7 0-.2-.5 0-.7.2-.5.7 0 0 .3-.5.2.5.2.2.5-.2.5zM273.9,117.7l-.5-.1 0-.8.5-.1.5.1-.3.4-.2.5zM248.9,118.2l-.2-.5-.5.2.2.5.5-.2zM273.2,119.5l-.7 0-.2-.5.2-.6.7 0 .2.6-.2.5zM272.5,121.2l-.2-.5.2-.5.7 0 0 .3-.4.4-.3.3zM270.8,121.6l0-.4 0 .4zM248.7,123l-.3-.4 0-.3.5.1-.2.6zM270.4,123l-.7 0-.2-.6.5-.1.6.1-.2.6zM269.4,124l-.6-.2 0-.6.6-.2.1.5-.1.5zM254.3,124.4l-.5-.2.5-.2 0 .4zM261.5,124.6l-.2-.6-.5.2.2.5.5-.1zM267.6,125.8l-.5-.2 0-.7 0-.7.5-.2.7 0 0 .4-.7 0 0 .3.2.5-.2.6zM257.8,127.5l-.7 0-.2-.5.2-.5.7 0 .2.5-.2.5zM261.3,127.2l-.7 0-.7 0-.2-.6.5-.1.8 0 .5.1-.2.6zM258.5,128.9l-.5-.1.5-.2 0 .3z" fill="#ccf44c"/><path d="M253.2,61.7l-.6 0 0-.3.6 0 0 .3zM256.8,64.5l-.6-.1 0-.8.2-.5.5.2 0 .7-.1.5zM258.8,63.5l0-.4 0 .4zM253.2,124l-.3-.3-.5-.2.2-.5.5-.2-.5-.2 0-.3.5-.2-.5-.2-.2-.5.5-.2.7 0 .5-.2-.5-.1-.5-.2-.5-.2-.2.5-.6.2-.1-.5.1-.5.6-.2-.2-.5-.5.1-.2.6-.7 0-.2-.6 0-.6-.2-.6-.3-.3-.2.5 0 .7 0 .7 0 .7-.3 0-.4-.3-.2-.6 0-.3 0-.4-.1-.5 0-.7 0-.7-.2-.5-.5.1 0 .8 0 .6-.6.2-.5-.2-.1-.5-.8 0-.1-.5-.2-.5-.5.1 0 .8-.6.1-.5-.1 0-.8-.3-.3-.4-.3.6-.2.6 0 0-.4-.3-.3-.2-.5 0-.8.4-.3-.4-.3 0-.8.2-.5 0-.3-.3.3-.8 0-.6 0-.8 0-.1.5-.2.6-.7 0-.2-.6 0-.6.2-.6.7 0 .2-.5.1-.5.6-.2-.2-.5-.5.1-.2.6-.3-.4 0-.3.1-.5.2-.6.2-.5 0-.7.3-.4 0-.6 0-.8.4-.3 0-.7.2-.5.1-.5 0-.8 0-.7.4-.3 0-.7 0-.7.1-.5.2-.5 0-.8 0-.7.2-.5.2-.5 0-.7 0-.7 0-.7 0-.7.3-.3 0-.8 0-.6 0-.8 0-.7 0-.7 0-.6 0-.8.4-.3 0-.7 0-.7 0-.7 0-.7 0-.7 0-.7 0-.7 0-.7 0-.7 0-.7 0-.7 0-.7 0-.7 0-.7-.4-.3 0-.8 0-.7 0-.7 0-.6 0-.8 0-.6 0-.8 0-.6-.3-.4 0-.7 0-.7 0-.7 0-.7 0-.7-.4-.3.6-.2.1.5.2.5.7 0 .4-.3.6 0 .8 0 .3-.4.3-.3.6-.2-.6-.2-.6 0-.8 0-.6 0-.8 0-.6 0-.6-.2.6-.1.1-.5 0-.8.2-.5.7 0 .4-.3.6 0 .8 0 .6 0 .6.2.3 0-.3-.4 0-.7.5-.2.2.5 0 .8-.2.5-.7 0-.7 0-.7 0-.7 0-.5.1 0 .8.5.1.7 0 .4-.3.3.3.7 0 .4-.3.5-.2.1-.5.8 0 .6 0 .2.5.2.5.4-.3.5-.2-.2-.5-.7 0-.2-.5 0-.8.2-.5.7 0 .3.4.6-.2 0-.7.2-.5.6 0 .2.5 0 .7.2.5.7 0 .2-.5 0-.7.5-.2.2.6 0 .6.2.6.6 0 .8 0 .3.3.7 0 .5.2.4 0 .3 0 .6.2.6 0 .6.1 0 .8.5.1.7 0 .5.2 0 .7.5.2.2-.6 0-.6.2-.6.5.2.4 0 .3 0 .4.4 0 .6-.6.2-.5.2.4.4.1.5.6.1.3.4.5.2.2-.6.6-.1.5.1.3.4-.3.3 0 .7-.4.4.4.4.3.3.6.2.6 0 .8 0 .1.5-.3.4.2.5.1-.5.5-.2.6.2.2.5 0 .3-.2.6-.6.1-.5-.1-.1-.6-.6.2.2.5.4.4.1.5 0 .7.5.2.6-.2 0-.7 0-.7.5-.2.2.5.1.6.4.3 0 .4-.2.5.4.3.3.4 0 .7 0 .7.5.2.4.3.2.6.5.1.5.2 0 .7.4.3-.2.6-.2.5.6.2.1.5.4.3.3.4 0 .7-.3.3.3.4.6.2.3.3.2.5-.5.2-.6.2 0 .7.4.3.2.6.5.1.1.6.8 0 0 .3-.2.6 0 .6-.4.4 0 .7 0 .7-.3.4 0 .6 0 .8-.4.3 0 .7 0 .7 0 .7-.3.4 0 .6 0 .7 0 .7 0 .8 0 .6 0 .8-.4.3 0 .7 0 .7 0 .7 0 .7 0 .7.2.5.2.5 0 .8 0 .6 0 .8 0 .6 0 .8.2.5.1.5 0 .7-.1.5-.6.2.2.5.7 0 .2.5-.2.6-.5.2-.4.3-.5.2-.2-.5 0-.8-.1-.5-.8 0-.1.5 0 .8.1.5.8 0 .1.5-.1.5-.8 0-.6 0-.2.5-.2.6-.7 0-.2-.6-.1-.5-.8 0-.3.4-.3.3 0 .4.6 0 .8 0 .1.5-.5.2-.7 0-.5-.2-.4 0 .4.3 0 .8-.4.3-.2.5-.5.2 0 .7.5.2.6.1-.2.6-.7 0-.3-.4 0 .4.1.5-.1.5-.6.2 0 .7-.5.2-.5-.2 0-.7-.6-.2-.1-.5-.2-.5-.7 0-.2.5.2.5.7 0 .2.6-.2.5-.7 0-.4-.4-.5.2.4.3-.5.2-.4-.3-.5.1-.2.6-.7 0-.7 0-.2-.6-.5-.1-.5-.2 0-.7-.5-.2-.2.6-.6.1-.5.2-.5.2-.7 0-.5-.2 0-.7-.6-.2-.5.2 0 .7-.5.2-.7 0-.5-.2 0-.7-.6-.2-.1.6-.2.5-.7 0-.2.5 0 .7-.2.5zM259.6,65.6l-.8 0-.6 0-.8 0-.5-.2 0-.7.5-.2.8 0 .5-.1.5-.2.5.2 0 .6-.1.6zM261,64.5l0-.3 0 .3zM245.2,65.6l-.7 0-.2-.6.5-.1.6.1-.2.6zM254.5,67.2l0-.8 0-.6-.5-.2-.6.2 0 .6 0 .8.6.1.5-.1zM256.2,67.2l0-.8-.5-.1-.5.1 0 .8.5.1.5-.1zM258.7,68.9l0-.7-.5-.2-.2-.5-.6-.2-.5.2.5.2.4.3.2.6.2.5.5-.2zM264.3,67.5l-.4 0 .4 0zM268.6,68l-.6 0-.2-.5.5-.2.5.2-.2.5zM270,68l-.5-.2.2-.5.3.4 0 .3zM253.1,68.6l.3-.4-.5-.2-.5.2.2.5.5-.1zM269.4,69.8l-.6-.2.2-.5.5.1-.1.6zM268,70.8l0-.3 0 .3zM269.7,70.8l0-.3 0 .3zM271.1,72.6l-.5-.2.2-.5.5.1-.2.6zM272.5,76.1l0-.4 0 .4zM273.9,78.9l-.5-.2 0-.7 0-.7.5-.2.2.5.3.4-.3.4-.2.5zM275.6,80.6l-.5-.2.2-.5.5.2-.2.5zM275.6,82.4l-.5-.2.2-.5.5.1-.2.6zM273.4,83.2l0-.6-.6-.2-.1.5.3.3.4 0zM274.1,82.9l-.2-.5-.2.5.4 0zM277,85.2l0-.4 0 .4zM278.4,86.2l-.6 0-.2-.5.2-.5.5.2.3.3-.2.5zM277.8,88l-.8 0 0-.4.6-.2.2-.5.5.2-.2.5-.3.4zM274.1,105.6l-.2-.5-.2.5.4 0zM275.8,110.2l-.2-.5-.5.1.2.6.5-.2zM244.3,111.2l0-.6-.5-.2-.2.5.2.5.5-.2zM273.4,112l-.4 0 .4 0zM275.8,113l-.3 0 .3 0zM243.4,113.9l-.6 0-.2-.5.5-.2.5.2-.2.5zM273.4,113.7l-.2-.5-.5.2-.4.3.5.2.6-.2zM276.7,114.9l-.7 0-.2-.5.2-.5.7 0 .2.5-.2.5zM251,117.6l-.4 0 .4 0zM253.4,118.2l-.2-.5-.6 0-.2.5.5.2.5-.2zM247,119.5l-.6-.2-.3-.3.1-.6.8 0 .1.6-.1.5zM270.8,119.1l-.2-.5.5-.2 0 .4-.3.3zM273.2,119.5l-.7 0-.2-.5.2-.6.7 0 .2.6-.2.5zM248.7,121.2l-.5-.2 0-.6.5-.2.2.5-.2.5zM255,123l-.5-.2.1-.5.6.1-.2.6zM257.8,123l-.7 0-.2-.6.5-.1.6.1-.2.6zM262.4,125.8l-.8 0-.1-.6 0-.6-.2-.6-.7 0-.7 0-.3-.3-.8 0-.1-.5.5-.2.5-.2.2-.5.7 0 .7 0 .2.5.5.2.5.2 0 .6.5.2.8 0 .5.2 0 .7-.5.2-.4.3-.2-.5-.5-.2-.2.5-.1.6zM269.7,122.6l0-.3 0 .3zM264.8,124l-.5-.2 0-.6.5-.2.2.5-.2.5zM269.4,124l-.6-.2 0-.6.6-.2.1.5-.1.5zM259.6,124.7l-.8 0-.1-.5.5-.2.5.2-.1.5zM265.8,124.7l-.6 0-.2-.5.5-.2.5.2-.2.5zM260.6,125.8l-.7 0-.2-.6.2-.5.7 0 .2.5-.2.6z" fill="#b6f000"/><path d="M259.5,105.6l.7-.2.8-.3.6-.4.5-.5.6-.5.4-.5.5-.7.4-.7.3-.7.3-.7.2-.7.3-1.1.1-.7.1-1 .1-1.1 0-1-.1-1-.1-1.1-.1-.7-.3-1.1-.2-.7-.2-.6-.3-.9-.3-.8-.4-.6-.4-.6-.3-.7-.6-.6-.5-.6-.4-.5-.6-.5-.7-.5-.7-.4-.7-.3-.7-.2-1-.2-1.1.1-.9.3-.8.3-.5.3-.6.5-.6.6-.5.5-.4.6-.4.6-.3.8-.3.6-.3.7-.3 1.1-.1.7-.2 1-.1 1.1 0 1 .1 1.1.1 1 .2.7.2 1.1.2.7.3.7.3.9.4.7.3.7.3.6.4.6.5.7.5.6.5.5.6.5.6.5.6.4.7.3.9.3.7.1 1 0M261.3,112.6l1-.3.7-.3.6-.4.5-.4.7-.5.6-.5.4-.5.5-.5.6-.8.3-.5.4-.6.4-.7.3-.7.3-.8.4-.9.2-.6.2-.8.3-1 .1-.7.2-1.1.1-.6.1-1.1.1-1.1 0-1-.1-1.1 0-1-.1-1.1-.1-.6-.2-1.1-.1-.7-.2-1-.2-.8-.3-1-.2-.7-.3-.7-.3-.7-.2-.7-.4-.8-.4-.7-.3-.6-.4-.7-.4-.7-.5-.7-.4-.6-.4-.4-.7-.8-.3-.4-.7-.6-.4-.4-.7-.5-.7-.4-.7-.5-.7-.3-.7-.3-.7-.2-.7-.2-1-.2-1.1 0-1.1.1-.6.2-1 .3-.8.3-.6.3-.6.4-.6.4-.6.5-.6.5-.5.4-.7.6-.4.4-.6.5-.8.4-1-.1-.4-.1 0 1 0 1.1 0 1 0 1.1 0 1.1 0 1 0 1 0 1.1-.3.7 0 1 0 1.1 0 1.1 0 1-.4.7 0 1 0 1.1 0 1-.3.7 0 1.1-.4 1 .4.2.7.3.7.6.4.4.4.6.5.7.4.8.4.5.3.6.4.6.5.7.5.7.4.5.4.6.6.6.4.5.6.6.4.4.8.6.4.4.6.4.7.4.7.4.7.3.9.2.8.2 1.1.2 1.1 0 1-.2.7-.2M261.6,117.9l.8-.2.6-.2.8-.3.7-.4.7-.3.6-.5.8-.5.4-.4.6-.6.5-.5.5-.6.4-.5.5-.6.4-.7.4-.7.4-.7.4-.7.3-.7.3-.7.3-.7.3-.7.2-.7.3-.9.3-.9.2-.6.3-1.1.1-.7.2-1 .1-.8.1-1 0-1.1 0-1-.1-1.1-.1-1-.1-.7-.1-1.1-.1-.7-.2-1-.2-.9-.2-.8-.2-.8-.2-1-.2-.7-.2-.9-.3-.8-.3-.8-.2-.7-.3-.7-.3-.7-.4-.8-.4-.7-.3-.7-.3-.6-.4-.7-.5-.6-.4-.8-.5-.6-.4-.5-.5-.6-.5-.6-.4-.5-.6-.6-.5-.4-.6-.6-.6-.4-.5-.4-.6-.4-.8-.5-.6-.3-.8-.3-.6-.3-.9-.3-.9-.2-.8-.2-1 0-1 0-.8 0-1 .2-.6.2-1.1.3-.7.4-.7.3-.7.4-.5.3-.6.4-.7.4-.6.4-.8.2-1 .1-.7-.1 0 .8 0 1 0 1 0 1.1 0 1.1.3.6 0 1.1 0 1 0 1.1 0 1 0 1.1 0 1.1 0 1 0 1 0 1.1-.3.7 0 1 0 1.1 0 1.1 0 1-.4.7 0 1 0 1.1 0 1-.3.7 0 1.1-.4 1 0 .8 0 1-.3.7 0 1.1-.4.6 0 1.1-.3.7.4.4.6.4.8.5.4.5.6.6.4.4.5.7.5.7.4.4.5.6.5.7.4.4.6.7.4.4.7.6.4.4.7.6.6.4.5.4.6.4.7.4.7.3.7.4.8.3 1 .2.6.2 1.1.1 1.1 0 1 0 1-.2M262.3,122.1l.7-.2.8-.2.8-.3.7-.4.7-.3.6-.3.6-.5.8-.5.5-.4.5-.5.6-.6.4-.5.5-.6.6-.6.3-.5.4-.6.5-.7.4-.7.5-.7.4-.6.3-.6.4-.6.5-.6.5-.4 1.1 0-.4-.7 0-1.1 0-1 0-1 0-1.1-.3-.7 0-1 0-1.1 0-1.1.3-.6 0-1.1 0-1.1 0-1 0-1 .4-.8 0-1 .3-1 0-.8.3-1 .1-.7.3-1 0-.7-.7-.4-.3-.4-.4-.7-.4-.7-.3-1-.2-.7-.3-.7-.2-.7-.4-.9-.3-.8-.2-.8-.3-.7-.3-.7-.3-.6-.4-.8-.3-.6-.4-.8-.4-.7-.4-.7-.5-.6-.4-.6-.3-.5-.5-.7-.5-.7-.4-.4-.5-.7-.6-.5-.4-.5-.6-.6-.5-.5-.5-.4-.8-.5-.5-.4-.5-.4-.7-.4-.7-.4-.7-.4-.7-.3-.7-.3-1.1-.3-.6-.1-1.1-.2-.7-.1-1 0-.8.1-.7.3-.7-.3-1 .2-.7.2-.7.2-.9.4-.8.4-.7.3-.6.3-.7.4-.9.3-.3.7-.7-.4-1-.2-.4 0 .3.6 0 1.1 0 1.1 0 1 .4.7 0 1.1 0 1 0 1 0 1.1 0 1.1.3.6 0 1.1 0 1 0 1.1 0 1 0 1.1 0 1.1 0 1 0 1 0 1.1-.3.7 0 1 0 1.1 0 1.1 0 1-.4.7 0 1 0 1.1 0 1-.3.7 0 1.1-.4 1 0 .8 0 1-.3.7 0 1.1-.4.6 0 1.1-.3.7 0 1-.4.8-.3 1 0 .7-.4.7.4.4.7.4.7.5.4.5.7.6.3.4.7.7.4.4.5.7.5.5.4.5.6.7.4.3.7.7.5.4.6.5.6.6.5.3.6.4.7.4.7.4.7.4.7.3.7.3.7.3 1.1.2.6.2 1.1.1 1.1.1 1-.1 1-.1M244.2,111.6l-.7-.7.7-.7.3 1" fill="none" stroke="#a0d800" stroke-width="0.45"/><path d="M231.6,60l-.6-.2.4-.4.3 0-.1.6zM236.1,60l-.5-.2.5-.2 0 .4zM239.6,111.8l-.4-.4-.6 0-.6-.2 0-.6-.5-.2-.2.5-.3 0-.6-.2-.1-.5-.2-.5-.5.1 0 .8 0 .6-.2.6-.4-.4-.5-.2 0-.6 0-.8-.3-.3-.4-.3-.3 0-.2.5-.7 0-.7 0-.2-.5.2-.6 0-.3-.2-.5 0-.8 0-.6-.3-.4-.4 0 0 .7 0 .7-.5.2-.3-.4-.2-.5-.4-.3-.3-.4 0-.7-.5-.2-.8 0-.5-.1-.1-.6 0-.3.6 0 .2-.5-.5-.2-.2-.6-.5-.1 0-.4.7 0 .5-.2 0-.7-.5-.1-.5-.2-.2-.5-.5-.2 0-.7.3-.3-.2-.6-.1.6-.4 0-.1-.6-.8 0-.5-.2 0-.7 0-.7 0-.6-.1-.6-.8 0-.1-.5 0-.7.1-.5.8 0 0-.4-.2-.5.3-.4-.1-.5-.8 0-.1.5 0 .8-.2.5-.3-.4-.2-.5.3-.4-.1-.5-.2-.5.2-.5.5-.2.1-.5 0-.4-.3.4-.5-.2 0-.7.3-.3-.1-.6-.4.4-.2-.6 0-.7-.2-.5-.1-.5-.4-.3.2-.6.7 0 .2-.5-.2-.5-.5-.2-.4 0-.5.2-.5-.2.1-.5.8 0 .1-.6 0-.7 0-.6.4-.4-.4 0-.3 0 .2-.5.1-.6-.1-.5-.6-.2 0-.6.4-.4.2-.5.3-.4.2-.5.3-.4.2-.5.4-.3.1-.6.4-.3.1-.5.2-.6.4-.3.3-.3.2-.6.2-.5.3-.3.2-.6.2-.5.3-.3.2-.6.2-.5.3-.4.2-.5.2-.5.3-.3.2-.6.2-.5.3-.3.2-.6.2-.5.2-.5.1-.6.4-.3.1-.5.2-.6.2-.5.2-.5.3-.4 0-.6.4-.4.3 0 .2.5.5-.1.2-.6.7 0 .2-.5.2-.5.3.3.2.5.1.6.8 0 .3.3.7 0 .2.5.5.2.3.4.8 0 .6 0 .2-.6-.2-.5-.5-.1.2-.6.5-.2.6-.1.3.3.2.6 0 .6.5.2.5.2.5.2.4.3.5.2-.5.2 0 .3.5.2.4.4.5.1.2.5.2.6.3.3.5.2 0 .7 0 .7 0 .7.2.5.2.5 0 .7 0 .7 0 .8 0 .6.2.6.1.5 0 .7 0 .7 0 .7 0 .7 0 .7 0 .7 0 .7.2.5.2.5 0 .8 0 .6 0 .7 0 .7 0 .8 0 .6 0 .7 0 .7 0 .8 0 .6 0 .8 0 .6 0 .7-.2.6-.2.5 0 .7 0 .7 0 .7 0 .7 0 .7 0 .7-.1.5-.2.5 0 .7 0 .7 0 .8 0 .6-.4.4 0 .7 0 .7 0 .7-.3.3 0 .8 0 .6-.2.6-.2.5 0 .7 0 .7-.3.3 0 .8-.2.5-.2.5 0 .7-.2.5-.1.6 0 .6-.4.4 0 .7-.3.3 0 .8-.4.3-.2.5-.6 0-.4.4zM232.8,63.3l-.2-.5-.7 0-.2.5.5.2.6-.2zM235.6,63.3l-.2-.5-.7 0-.2.5.5.2.6-.2zM239.8,63.3l-.2-.5-.5.2.1.5.6-.2zM223.3,82.2l-.1-.5-.2.5.3 0zM223.3,88.5l-.1-.5-.2.5.3 0zM222.8,91.5l-.5-.2.1-.5.6.1-.2.6zM226.1,97.6l-.1-.5-.6.1.2.6.5-.2zM226.3,101.3l-.7 0-.2-.5.6-.2.5.2-.2.5zM231,105l-.2-.6-.3-.3-.5.1 0 .8.5.1.5-.1zM230.8,109l0-.4 0 .4zM239.8,110.2l-.2-.5-.5.1.1.6.6-.2zM239.6,113.2l-.5-.2 0-.7.5-.2.7 0 .2.5-.5.2-.4.4zM240,113.9l-.2-.5.3 0-.1.5z" fill="#4fc86a"/><path d="M231.2,60l0-.4 0 .4zM241,110l-.2-.5 0-.7-.5-.2-.5.2 0 .7-.6.2-.6 0-.8 0-.5-.2 0-.7-.5-.2-.7 0-.5-.2 0-.6.5-.2.2-.6-.5-.1-.2.5-.6.2-.5.2 0 .6-.5.2-.7 0-.5-.2 0-.6.5-.2 0-.4-.3-.3-.2-.5-.4-.4-.5-.2-.7 0-.2.6-.2.5-.6 0-.2-.5 0-.8.2-.5.6 0 .6-.1-.4-.4-.2-.5-.6 0-.4.3-.4-.3-.1-.5.3-.4-.3 0-.5.2-.4-.4-.2-.5 0-.7-.2-.5-.6 0-.2-.5 0-.8 0-.6-.2-.6-.5-.2-.4-.3.2-.5.2-.6-.5-.1-.6.1-.2.6-.5-.2 0-.7 0-.7-.3-.4 0-.7 0-.7.3 0 .2.6.5-.2-.2-.5-.1-.5.1-.6 0-.3-.3-.4-.3-.3-.2-.6 0-.7.3-.3 0-.7-.5-.2-.5-.1 0-.8 0-.7-.5-.1-.2-.6-.2-.5-.2-.5.4-.4 0-.6.5-.2.2-.6-.5-.1-.8 0-.5-.2 0-.7.5-.2.2-.5.2-.5.7 0 .2-.6-.5-.1-.8 0-.5-.2 0-.7 0-.7.5-.2.6.2.2.5.1-.5-.3-.3-.2-.6 0-.3.2-.5-.6-.2 0-.4.2-.5.4-.4.3-.3.2-.5.2-.5.3-.4.2-.5.4-.4.1-.5.4-.4.1-.5.2-.5.4-.4.2-.5.1-.5.4-.4.1-.5.2-.5.4-.4.2-.5.1-.5.4-.4.1-.5.2-.5.4-.4 0-.6.3-.4.2-.5.2-.5.3-.4 0-.7.4-.3.2-.6.1-.5.2-.5.3-.4.2.6.6.1.6 0 .6.2 0 .7-.6.2-.5.2.2.5.7 0 .4-.4.5.2.5.2.7 0 .7 0 .2-.5.5-.2.7 0 .7 0 .7 0 .7 0 .2.5-.5.2-.8 0-.5.1 0 .8 0 .6-.1.6 0 .3.3-.3.5-.2 0-.7 0-.7.6-.2.3.4.2-.6.5-.1.4-.4.1.5.5.2.2.6-.5.1-.5.2.3.3.4.4.3 0 0-.7.6-.2.5.2 0 .7 0 .7.1.5.6-.2.5-.1.5.1 0 .8-.5.1-.5.2.2.5.6 0 .2.6.4.3 0 .7 0 .7 0 .7 0 .7 0 .7.3.4 0 .6 0 .8 0 .6 0 .8 0 .6 0 .7 0 .7 0 .8.4.3 0 .7 0 .7 0 .7 0 .7 0 .7 0 .7 0 .7 0 .7 0 .7 0 .7 0 .7 0 .7 0 .7 0 .7-.4.3 0 .8 0 .6 0 .7 0 .7 0 .8 0 .6 0 .8-.3.3 0 .7 0 .7 0 .7 0 .7-.2.5-.2.5 0 .7 0 .8-.2.5-.1.5 0 .7 0 .7-.4.3 0 .7 0 .8-.1.5-.2.5 0 .7-.4.3 0 .8 0 .6-.3.4 0 .7-.2.5-.2.6-.1.5-.4.3zM233.3,61.7l-.5-.1.2-.6.5.2-.2.5zM237.8,61.7l-.5-.1.2-.6.5.2-.2.5zM235.4,62.8l-.7 0-.7 0-.5-.2 0-.7.5-.2.7 0 .7 0 .2.5-.2.6zM237.3,67.2l0-.8-.5-.1-.5.1 0 .8.5.1.5-.1zM241.9,67.8l-.2-.5-.7 0 0 .4.4.3.5-.2zM221.8,79.9l-.6-.1.4-.4.2-.5.1.5-.1.5zM224.4,79.8l0-.8-.6-.1-.1.5.1.5.6-.1zM224,83.2l-.3 0 .3 0zM221.8,85.2l-.2-.6.3 0-.1.6zM223.5,92.2l-.2-.6.4 0-.2.6zM227.9,97.6l-.2-.5-.5.1.2.6.5-.2zM226.3,101.3l-.7 0-.2-.5.6-.2.5.2-.2.5zM229.1,105.1l-.7 0-.2-.5.2-.5.7 0 .2.5-.2.5zM232.6,107.6l-.4-.4 0-.3.6.1-.2.6zM238.7,108.4l-.5-.1 0 .3.5-.2zM232.6,109.7l-.5-.2-.4-.3.2-.6.7 0 .2.6-.2.5zM237.2,110.4l-.8 0-.1-.6.5-.1.5.1-.1.6zM235.4,111.4l-.7 0-.2-.5.2-.5.7 0 .2.5-.2.5zM238.9,111.4l-.5-.2-.4-.3.2-.5.7 0 .7 0 .7 0 .5.2-.2.5-.5-.2-.5-.2-.5.2-.2.5z" fill="#04b02a"/><path d="M238,94.8l.8-.4.4-.3.7-.7.4-.6.3-.7.4-.8.2-.7.2-1 0-.8 0-1 0-1-.1-.8-.2-1-.2-.7-.3-.9-.2-.8-.3-.8-.4-.7-.4-.7-.4-.6-.3-.5-.6-.6-.5-.5-.7-.5-.7-.3-.7-.2-.8.1-.8.3-.5.4-.6.7-.5.7-.3.7-.2.7-.2.7-.2 1.1-.1 1 0 .7 0 .9.1.8.1 1.1.2.7.2 1 .2.8.3.6.3.8.4.7.4.7.5.6.5.6.5.5.5.3.8.4 1 .1.8-.1M239.5,101.1l.8-.2.7-.2 1-.3.8-.2.6-.5.1-.7 0-1.1.3-.7 0-1 0-1.1 0-1 .4-.7 0-1 0-1.1 0-1.1 0-1 .3-.7 0-1.1 0-1 0-1 0-1.1 0-1.1 0-1 0-1.1 0-1-.3-.6-.4-.5-.6-.6-.4-.7-.4-.5-.5-.6-.5-.7-.4-.6-.4-.5-.6-.6-.4-.5-.6-.6-.4-.4-.8-.5-.6-.4-.8-.3-.6-.3-1.1-.1-1.1.1-.6.2-.8.3-.6.5-.6.6-.5.5-.4.5-.4.7-.4.7-.3.7-.2.8-.3.9-.2.8-.2 1-.1.7-.1 1-.1 1.1 0 1 0 1.1.1 1.1.1 1 0 .7.2 1 .2 1 .2.8.2.7.3 1 .2.8.3.6.3.8.3.6.3.7.4.7.4.8.5.6.4.6.4.5.7.7.4.4.7.5.6.4.8.4.6.3.8.1 1 .1 1-.1M242.1,106l.3-.7 0-1.1.4-.6 0-1.1.3-.7 0-1 .3-1.1.1-.7 0-1.1.3-.7 0-1 0-1.1 0-1 .4-.7 0-1 0-1.1 0-1.1 0-1 .3-.7 0-1.1 0-1 0-1 0-1.1 0-1.1 0-1 0-1.1 0-1 0-1.1-.3-.6 0-1.1 0-1.1 0-1 0-1 0-1-.7-.4-.4-.4-.7-.6-.5-.4-.5-.6-.5-.5-.6-.5-.6-.6-.5-.3-.6-.5-.8-.5-.6-.4-.8-.3-.6-.2-1.1-.2-.7 0-.7 0-1.1.3-.6.2-.8.3-.6.4-.8.4-.6.3-.9-.1-.2-.4-.4.7-.3.7-.4.7-.3.7-.4.7-.3.7.5.4 0 1-.1 1-.1.8-.1 1-.1 1-.1.9-.1.9 0 1-.1 1.1 0 1.1 0 1 .1 1 .1 1.1 0 .7.2 1 .1 1.1.2.7.2 1 .1.7.2.9.3.9.2.7.3.7.3.9.3.8.4.8.3.6.3.7.4.7.4.7.4.5.3.6.6.7.5.6.4.4.6.7.4.4.6.5.8.5.6.4.7.4.7.2.8.2 1 .2.7.1 1.1.1 1 .1.7.1M241,109.8l.4-.6.3-.8 0-1 .4-.7 0-1.1.3-.6.4-1.1 0-.7 0-1.1.3-.7 0-1 .4-.7 0-1.1 0-1 .3-.7 0-1.1 0-1 .4-1 0-.8 0-1 0-1.1 0-1 0-1.1.3-.7 0-1 0-1.1 0-1 0-1.1 0-1 0-1.1 0-1 0-1 0-1.1-.3-.7 0-1.1 0-1 0-1.1 0-1 0-1-.4-.8 0-1 0-1.1 0-1-.4-.6-.6-.4-.7-.4-.4-.3-.7-.6-.7-.5-.4-.3-.7-.5-.6-.5-.8-.4-.6-.3-.8-.3-.6-.2-1.1 0-.7-.3-1-.1-.8.4-.6-.5-.8-.3-.6-.2-.4.7 0 .7-.4.7-.3.7-.4.7-.3.7-.4.7-.3.7-.4.7-.3.7-.4.7-.3.7-.4.7-.3.7-.4.7-.3.7-.4.7-.3.7-.4.7-.3.7-.7.7 0 .7.3.7.2.7.1 1 0 1.1.1 1.1 0 .7.1 1 0 1.1.1 1 .1.9.2.8.1 1.1.2.7.2 1 .2.7.2 1 .2.8.2.7.3.9.3.8.3.8.2.6.3.7.4.7.3.8.3.6.4.8.4.6.5.7.4.7.4.5.4.6.6.4.4.8.6.5.4.5.8.6.4.3.6.5.7.4.7.4.7.3.7.3.8.3 1 .2.6.1.9.3.9.4" fill="none" stroke="#029a22" stroke-width="0.45"/><path d="M216.5,81.7l-.3-.4-.2-.5-.2-.5 0-.4.7 0 .7 0 .7 0 .5-.1-.2-.6-.6 0-.4-.3-.7 0-.7 0-.2.5-.3 0 0-.7-.4-.3-.1-.6-.2-.5-.2-.5-.2-.6-.3-.3 0-.7-.4-.4-.1-.5-.2-.5-.2-.5-.2-.5-.2-.6-.1-.5-.2-.5-.2-.6 0-.7 0-.7 0-.6.4-.4 0-.7 0-.7.1-.5.2-.5 0-.8.4-.3 0-.7 0-.7.3-.3 0-.8.4-.3 0-.7.1-.5.2-.5.2-.6.2-.5 0-.7.3-.4 0-.6.4-.4 0-.7.3-.3 0-.8.4-.3 0-.7.3-.4.2-.5.2-.5.1-.5.2-.5.2-.6.2-.5.3-.4 0-.7.4-.3.1-.5.4.3.5-.2-.1-.5-.6-.2.2-.5.2-.5.3 0 .5.2.6-.2.2-.5.6 0 .8 0 .1.5-.5.2-.5.2 0 .6.5.2.5-.2 0-.6.5-.2.6.2.2.5.5-.2-.2-.5-.5-.2.2-.5.6 0 .8 0 .1.5-.3.4.5.1.5.2 0 .7.6.2 0 .3 0 .4.3.3.5.2.4 0 .3 0 .5.2.8 0 .5.1-.2.6-.7 0-.7 0-.7 0-.5.1.3.4.4.4.5.1.5.2 0 .7.6.2.5-.2 0-.7.1-.5.4.3.2.5 0 .8-.2.5-.5.1 0 .8-.4.3.2.5.2-.5.5-.2.2.5.5.2.3.4.2.5 0 .7-.5.2-.5.2 0 .6 0 .8.2.5.6 0 .4-.4.2.5-.4.4-.3.4 0 .6-.2.6-.2.5-.1.5-.2.6-.4.3 0 .7-.3.4-.2.5-.2.5-.3.4 0 .6-.4.4-.2.5-.1.5-.4.4-.1.5-.2.5-.4.4-.2.5-.1.5-.4.4-.1.5-.2.5-.4.4-.2.5-.1.5-.4.4-.1.5-.4.4-.2.5-.3.4-.2.5-.2.5-.3.3-.4.4-.2.5-.1.6-.4 0-.5-.2-.5.2.1.5.6.1-.2.6-.4.3-.3-.3-.5.2-.6.1-.5.2-.5.2-.4.3-.6 0-.8 0-.1.5-.2.6zM228,48.4l-.6 0-.2-.5.2-.5.3.3.3.4 0 .3zM227,49.1l-.5-.2 0-.7.3 0 .2.6 0 .3zM228.8,49.1l-.6-.2.2-.5.5.2-.1.5zM231.2,58.2l-.2-.5.2-.5.2.5-.2.5zM214.9,75.9l-.3 0 .3 0zM221.9,75.9l-.5-.2-.5.2.5.2.5-.2zM216.7,78l-.5-.2-.6.2.6.2.5-.2zM219.1,78.7l-.5-.2 0 .4.5-.2z" fill="#e958ad"/><path d="M223.5,47.4l-.5-.2.5-.2 0 .4zM220.7,48.4l-.5-.2.2-.5.3-.3.2.5-.2.5zM219,48.4l-.6-.2.2-.5.5.2-.1.5zM220,79.2l-.7 0 0-.3.5-.2-.5-.2-.2-.5 0-.7.5-.2.6-.2-.2-.5-.7 0-.2.5-.5.2-.2.5 0 .8-.5.1-.5-.1-.6-.2-.1-.6-.2-.5-.7 0-.4-.3-.5-.2-.3 0-.4 0 .2-.5.7 0 .5-.2-.2-.5-.6 0-.4.3-.5-.1-.2-.6-.2-.5-.3-.3 0-.8-.4-.3 0-.7-.3-.4 0-.6-.4-.4 0-.7 0-.7 0-.7.2-.5.2-.6 0-.6 0-.8.3-.3 0-.7.2-.5.2-.5 0-.8.2-.5.1-.5.2-.5.2-.5 0-.8.3-.3 0-.7.4-.4 0-.6.2-.6.1-.5.2-.5.2-.6.1-.5.2-.5.2-.5.2-.5.2-.6.1-.5.4-.3 0-.8.3-.3 0-.7.4-.4.2-.5.1-.5.2-.5.2.5.3 0 0-.7.6-.2.3-.3.5-.2.4 0 .2.5.3-.3.3-.4.8 0 .6 0 .6.2.5.2.3-.4.8 0 .6 0 .2.5 0 .7.2.6.7 0 .7 0 .2.5-.6.2-.1.5.1.5.8 0 .5.2.3.3.2.6.7 0 .2.5-.5.2-.2.5-.2.5-.2.5.6.2.5-.2.3 0 .4.4.2.5.1.5-.1.6-.2.5 0 .7 0 .7.5.2.5.1-.2.6-.6 0-.2.5.2.5.5.2-.4.4 0 .6-.3.4-.2.5-.2.5-.2.6-.1.5-.4.3-.1.6-.2.5-.2.5-.2.6-.3.3-.2.5-.2.6-.3.3-.2.5-.2.5-.3.4-.2.5-.2.6-.3.3-.2.5-.2.6-.3.3-.2.5-.2.6-.3.3-.4.3-.2.6-.1.5-.4.3-.1.6-.4.3-.2.5-.3.4-.5.2-.8 0-.1-.6-.5-.1-.2.5.5.2.2.5-.5.2-.4.3zM218.2,49.1l0-.3 0 .3zM224.7,49.3l-.5-.2-.5.2.5.2.5-.2zM228.4,50.9l0-.4 0 .4zM229.4,53l0-.4 0 .4zM221.9,75.9l-.1-.5-.8 0-.1.5.5.2.5-.2zM221.9,76.9l-.1-.5-.8 0-.1.5.5.2.5-.2zM215.4,78.5l-.5-.1.5-.2 0 .3zM221,79.9l-.1-.5.1-.5.6.1-.2.6-.4.3zM216.5,81l-.5-.2.5-.2 0 .4z" fill="#e0108a"/><path d="M221.1,65l.6-.6.3-.8.1-.6 0-.9-.3-.9-.5-.4-.6.1-.7.6-.4.7-.1.8 0 1 .3.7.6.5.7-.2M220.7,71.4l.7-.3.7-.4.5-.4.6-.5.4-.6.5-.6.4-.8.3-.6.3-.8.3-.6.2-1 .2-.8.1-1 .1-.8 0-1-.1-.7-.1-1.1-.2-.8-.3-.9-.3-.7-.4-.7-.4-.5-.6-.6-.5-.3-1-.3-1.1.1-.6.2-.8.4-.6.6-.5.4-.6.7-.3.6-.4.6-.4.7-.3.8-.3.8-.2.7-.2 1-.1.8-.1 1 0 1 .1 1.1.1.8.2.9.3.8.3.6.5.7.5.6.6.5.8.3.6.1 1.1 0M221.3,74.5l.8-.3.7-.3.7-.4.7-.4.7-.3.4-.4.3-.7.4-.7.3-.7.4-.7.3-.7.4-.7.3-.7.2-1.1 0-1 .1-1 .1-.8 0-1 0-1-.1-1 0-.8-.1-1-.2-1-.2-.8-.2-.7-.3-.9-.4-.8-.3-.6-.3-.5-.6-.7-.5-.5-.7-.4-.7-.4-.7-.1-1-.1-.8.1-.8.4-.7.3-.6.3-.7.6-.5.5-.5.4-.5.3-.6 0-.3 1 0 .8-.4.6-.3.8-.3 1-.1.7-.3.7-.4 1 0 .8-.3.6-.3 1.1-.1.7-.3 1 0 .8-.4.6 0 .8.5 0 .3.9.2.8.2.7.2.8.4.7.4.7.4.6.6.7.4.4.6.5.8.4.6.2 1.1.2 1.1-.1.9-.2M222.5,77.6l.3-.7.4-.7.3-.6.4-.8.7-.6.3-.7.3-.7.4-.7.4-.7.3-.7.3-.7.4-.7.4-.7.3-.7.3-.7.4-.7 0-.7.4-.8.3-.6.4-.8.3-.6.4-.8 0-.8-.3-.9-.1-.8-.2-.9-.1-1.1-.2-.7-.2-1-.3-.8-.1-.6-.3-.8-.4-.7-.3-.7-.7-.6-.4-.4-.3-.9-.5-.5-.6-.4-.6-.4-.8-.3-1-.1-1 0-.8.1-1 .4-.7.3-.7.2-.7-.2 0 .7-.4.7-.3.8-.4.6-.3 1.1-.3.7-.1.7-.3.7-.4.7-.3 1 0 .7-.4.8-.3 1 0 .7-.4.7-.3 1 0 .8-.4.6 0 1.1-.3.7-.4 1 0 .8 0 1-.3.7 0 1 0 1.1.3.7.4.7 0 .7.3 1.1.4.6.3.8.4.6.7.2.7.3.8.2 1 .3.6.1 1.1.1 1.1 0 1 0 1 .2M221.8,76.2l-1.1-.3 1.1-.3" fill="none" stroke="#c00c76" stroke-width="0.45"/><path d="M200.4,101.6l-.7 0-.3-.3-.8 0-.3-.4-.7 0-.4-.3-.5-.2-.5-.2-.5-.2-.5-.1-.6-.2-.5-.2-.5-.1-.4-.4 0-.7.2-.5.5-.2 0-.7.4-.3-.2-.6-.2-.5-.1-.5-.2-.6.5-.1.3-.4.2-.5.4 0 .3 0-.3-.4.2-.5.3-.3.2-.6-.5-.1-.8 0-.1-.6.5-.1.2-.6.2-.5.1-.5-.1-.5-.2-.6.5-.1.5-.2 0-.7-.3-.3.1-.6.4-.3.2-.5-.6-.2-.1-.6 0-.7.1-.5.6-.2.3 0 .5.2.2-.5.4-.3-.6-.2-.5-.2 0-.7.4-.4 0-.7.3-.3-.3-.3.3-.4.2-.5.4.3.1-.5.2-.5.2-.6.1-.5.2-.5-.2-.5 0-.4.4-.3.5-.2 0-.7-.3-.3.2-.6.5-.2.1-.5.4-.3.2-.6-.4-.3.2-.5.4-.4.3-.3.2-.6.5-.1.2-.6.3-.3.2-.5.2-.6.3-.3-.3-.3.1-.6.4-.3.5-.2 0-.7.4-.4 0-.6 0-.8.5-.1.2-.5-.6-.2 0-.4.2-.5.4 0 .3 0 .5-.2.2-.5.6-.2.1-.5.4-.3-.5-.2-.2-.6.3-.3.5-.2.6.2.5.2.5.1.6.2.5.2.5.2.4.3.6 0 .4.4.7 0 .3.3.8 0 .3.4.2.5-.4.3 0 .8-.3.3 0 .7 0 .7-.4.3 0 .8-.2.5-.1.5 0 .7 0 .7-.4.4 0 .6 0 .7 0 .7-.3.4 0 .7-.4.3 0 .8-.3.3 0 .7-.4.4 0 .6-.3.4-.2.5-.2.5-.2.6-.1.5-.2.5-.2.6-.1.5-.2.5-.4.4 0 .6-.3.4-.2.5-.2.5-.1.6-.2.5-.4.3 0 .7-.3.4 0 .7-.4.4-.1.5-.2.5-.2.5-.2.5-.2.6-.1.5-.4.3-.1.6-.2.5-.2.5-.2.5-.3.4 0 .7-.4.4-.1.5-.2.5-.2.5-.2.5-.3.4 0 .7-.4.3-.1.6-.2.5-.2.5-.2.5-.2.6-.1.5-.2.5-.2.5-.1.6-.2.5-.2.5zM205.6,61l-.5-.2.4-.3.1-.5.2.5-.2.5zM201.8,69.1l-.2-.5.4 0-.2.5zM195.5,86.2l-.5-.2.3-.3.2-.5.2.5-.2.5zM194.8,89.7l-.2-.5.2-.5.2.5-.2.5zM196,90.2l-.2-.5-.1.5.3 0zM194.8,92.5l0-.3 0 .3zM193,96l-.1-.5.3 0-.2.5z" fill="#3c0cb4"/><path d="M213.7,61.4l-.3-.4-.8 0-.3-.3-.7 0-.4-.4-.6 0-.4-.3-.5-.2-.5-.2-.6-.2-.5-.1-.5-.2-.6-.2-.5-.1.4-.4.3-.4.2-.5.2-.5.2-.5.5-.2 0-.7.1-.5.4-.4.5-.1 0-.8.5-.1.2-.5.2-.6.2-.5-.6-.2-.5-.1.4-.4.1-.5.8 0 .1-.6-.3-.3 0-.7.5-.2.2.5 0 .7.1.6.2-.6 0-.7.4-.3.2-.5 0-.4 0-.3.5-.2 0-.7.3-.4.4-.3.2-.5 0-.4 0-.3.1-.5.4-.4 0-.7.3-.4 0-.7.4-.3 0-.7.3-.4.4-.3.3-.3.2-.6.2-.5.3-.3.4-.4 0-.7.3-.3.4-.4 0-.7.3-.4.4-.3.3-.4.2-.5.4-.3.3-.4.3-.3.4-.4.4-.3.5.2.3.3-.3.3.3.4.4.4 0 .6 0 .7 0 .7 0 .8 0 .6-.2.6-.2.5 0 .7-.3.4 0 .6-.2.6 0 .3.3.4 0 .3-.6 0-.2.5 0 .7-.2.6-.2.5-.2.5-.1.6-.4.3-.1.5-.2.6-.4.3 0 .7-.3.3-.2.6-.2.5-.1.5-.2.5-.4.4 0 .7-.3.3 0 .8-.4.3-.1.5-.2.6-.2.5-.2.5-.2.5-.1.5-.2.6-.2.5-.1.5-.2.6 0 .6-.4.4 0 .7-.3.3-.2.6zM212.6,46.7l0-.4 0 .4z" fill="#1186b6"/><path d="M187.4,128.9l-.6 0-.2-.5 0-.7 0-.7.2-.5.1-.5.4-.4 0-.7 0-.7.3-.4 0-.6.2-.6.2-.5 0-.7 0-.7.3-.3-.3-.4.3-.4.4-.3 0-.7 0-.7.1-.5.2-.6.4-.3-.2-.5-.5-.2.3-.4.2-.5.2-.5.2-.5.1-.5 0-.8.4-.3 0-.7-.4-.4 0-.6.4-.4.1-.5.2.5.4 0-.2-.5-.2-.5 0-.8 0-.6.4-.4.2-.5.1-.5.2-.6.2-.5 0-.7 0-.7.1-.5.6-.2 0-.7 0-.7 0-.7 0-.7.2-.5.3-.4.3-.3.6.2.5.1.5.2.6.2.5.1.5.2.5.2.5.2.4.3.7 0 .3.4.8 0 .3.3.5.2 0 .7-.2.5-.1.6 0 .6-.4.4 0 .7-.1.5-.2.6-.2.5-.2.5-.2.5-.1.5-.4.4 0 .7-.3.3-.2.6-.4.3-.1.5-.2.6-.3.3-.4.4-.2.5.4.4-.4.3 0 .7-.2.5-.6 0-.6.2-.2.5-.1.6-.2.5-.2.5 0 .7-.3.3-.4.4-.3.4-.2.5-.2.5-.3.4-.4.3-.2.5-.1.6-.4.3-.1.5-.2.6-.4.3 0 .7-.3.4-.4.3-.1.5-.2.6-.2.5-.2.5-.3.4-.2.5-.3.3-.4.4-.4.3zM195.7,113.7l-.4 0 .4 0z" fill="#3f0a50"/><path d="M201.2,93.5 L195.2,108.5" stroke="#1a3cc8" stroke-width="1.1" fill="none"/><path d="M387.5,320l0-1 .7-.2.1-.6 0-1 .7-.4.6 0 .1-.9.2-.9.5-.2.1.6 0 1 0 .8.2 1 .1.5.6-.1.1-.9.1-.9.2-.7.7.3 0 .8.1.8.9.2.5.3.5-.3-.5-.5-.5 0 .5 0 .8-.5-.8 0-.7-.4.3-.6.8 0 .5-.8.5-.1.8-.1.5.3.5.4.8.3.7-.3-.2-.6-.9-.1-.9.2-.1-.8.1-.7.7-.3-.2-.7-.8-.1.3-.5.8 0 .5.1.6.4.8.2.4-.7.5-.1.3.6.6.2.9.1.5.3.4-.2.5 0-.1.6-.8-.1-1 .1-.8-.1-1 .2-.2.7-.1.8.1 1 .2.6.9.2.1.6.8 0 1 .2.8 0 .5-.8-.3-.8 0-1 .8-.2.1-.6.1-1-.2-.7-.9-.1.4-.5.7-.5.2-.5.9-.3.7 0 .4-.5.7-.4.1.9.8.1.4.7-.1 1 .6.3.3.5-.8.1-.1.9.1.5.9.3.3 0-.6-.4 0-.9.8-.4 0-.5.9-.4.4.8.5.1.4-.3.6-.2-.6-.1-.8-.3 0-.3 0-.2-1-.1 0 .6-.8.3-.3-.8-.1-.9-.6-.2 0-.7-.3-.9.4-.4.7 0 .3 0 .4 0 .3.6.5-.2.5-.8.8-.1.5-.5.5 0 .8 0 .3-.8-.7-.3-.9-.2-.3.9-.6.3-.7-.3.2-.9.1-.5.8 0 .5.1.5-.2 0-.7 0-1 .4-.6.9-.1.5-.4.1.7-.1.6-.6.3 0 .9.6.1.1-.5.3-.8.9-.1.2-.5.7-.3.7-.1.2-.5.9-.4.9.2.1.7.8.2.9.1.6.1.3.6.6.3.1.9.7.2.4-.3.4.1.5 0 .1-.9.1-.9.7-.4.9.3.1.5-.6.3 0 .7 0 .5 1 .1.8-.1.7.3-.2.9-.5.1-.4.6-.8.2.4.9.6-.4.2-.9.6 0 .4-.5.8 0 1-.4 0-.5.7-.4.2-.4-.1-.6-.7-.4 0-.8.3-.7.8.2.1.5.5-.3.4.3.7 0 .2-.5-.5-.1-.7-.4.3-.5.9 0 .9-.3.2.8.7.2.2-.6-.1-.9-.1-.6-.9-.1-.9-.1-.9-.1 0-.4.4-.2.9.2.2 0-.2-.5.1-.5.8 0 .6 0 .4.7.5-.2.3-.9.9.4.1.5.4-.2 0-.3-.9-.4.5-.6.8-.2.3.8.7.2.1-.6-.6-.3-.3-.7-.6-.1-.7-.3.1-.9.6-.3.5-.2.1-.8-.2-.8 0-.6.2-.4.1-1 .4-.4-.2-.5-.3-.9-.6-.2-.5-.2.1-.6.8-.2.3-.6.7-.1.1.6.7.3.3-.8-.7-.3-.1-.5.1-.6.6-.4-.2-.6-.8.2 0 .5-.7.4 0 .9-.7.3-.7-.3 0-.9.7-.4.1-.5.8 0-.3-.4.1-1 .2-.5.8.1.1.5.9.2.6-.3-.1-.7-1 .3-.6-.4 0-1 .6-.3.1-.5-.3-.5-.2-.5 0 .5-.1.9-.8.1-.7-.1.2-.8.1-.6.3-.8.3-.5-.2-.6-.1-.7.1-.9 0-.5-.1-.4.1-.7.5-.3 0-.4-.5-.9-.1 0-.1.9-.3.7-.6-.3.2-.6.3-.7-.3-.5-.9-.2-.3-.6.8-.4 0-.6-.5-.2-.6-.2.1-.6.7-.3 0-.9-.1-.9.3-.9-.9-.4 0-.5-.8-.2-.3-.7 0-.9.3-.9-.5-.6-.9-.3 0-.5-.8-.4-.1-.5-.9 0-.4-.9-.5-.1-.2.6.7.1.3.8.5.2.8.2.2.7.5.3-.1.5-.9.3-.1 0-.8-.1-.4-.7-.5-.2-.9 0-.2-.8 0-.8-.1-1-.6-.1-.9-.2-.7.3.3.7.8 0 .3.7-.7.4-.7 0-.2.5-.5 0 0-.9-.4-.7-.6-.2.2-.6.6-.3 0-.9-.6-.3-.2.8-.3.6-.8-.2-.1-.9-.4 0-.3.5-.2.4-.9.1-.9 0-.5-.4-.4.3.4.1.1.8.2.9-.7.2-.2-.6-.7-.4-.3.8-.2.5-.8 0-.2-.5-.2-.9-.1-.5-.8 0-.4 0-.2-.4 0-.9-.9-.3-.8.1-1-.1-.8-.2-.2-.4.6-.4-.2-1 .2-.6.9-.2.9.2.3.6-.2 1 .8.1.9-.1 0-.2-.4-.4-.2-.8-.8-.2-.1-.7-.3-.8-.5-.1-.3-.9-.1-.5-.9-.1-.9 0-.2-.7-.7-.3-.2-.7.6-.2 1 .1.8-.2.9.3.1.6.5-.1-.1-.5-.8-.4-.1-.6-.5-.3-.8-.2-.8-.3-.2-.6-.6.2 0 .9-.1.9-.6.1-.9.2-.6-.3-.1-.9.7-.3.7-.2-.3-.8-.4-.1-.4-.4-.7-.5-.3-.4.5-.1.2-.8-.2-.5-.8-.4.1-.9 0-.9.2-.8 1 .1.8 0 .8-.2-.3-.5.5 0 .1-.8-.1-.7-.7-.3-.3-.5-.8-.1-.2.6.6.2.8.3 0 .9-.8.2-.9.2-.6 0-.3.7-.6-.2-.3-.7-.9-.2-.2-.4-.3-.5-.9-.4-.5-.1-.3-.8-.5-.2 0-.3.9-.4.9 0 .3.9.6.1.9 0 .2-.6.7-.3.8-.2-.4-.4-.2-.9-.2-.6-.9-.3 0-.5-.5.1-.1.8-.1 1 .7.1.3.7-.8.3-.8-.1-.5-.6-.5 0-.8-.2-.6-.2-.1-1-.7-.3-.3.8.2.9-.2.9-.1.7-.5-.2-.5-.9-.8 0-.3-.5.7-.1.7-.3 0-1-.7-.1-.9-.1-.7-.2.2-.7.6-.2.4-.7.8 0 .3-.6-.2-1 .9-.4 0-.4 0-.5-.6 0-.2.9-.6.1-.5-.1-.2-.9-.2-.7-.5-.2 0 .4-.4 1-.2 0-.3 0-.4.6-.9 0-.7-.2-.1-.9.3-.9-.3-.9-.1-.9-.5 0-.6 0-.1.9-.1.6-.5-.2-.3.5-.6.2-.4.3-.6-.1-.1-.8-.3-.6-.8 0-.3-.8-.7-.2-.1.6.6.4.1.6 0 .8.3 1-.4.7-.7.1-.2.7-.5-.2 0-.9 0-.9-.2-.9-.7-.1-.8 0-.5.4-.9 0-.9 0 0-.3.7-.4.2-.6.9 0 .4-.8-.9-.4-.5 0-.1-1 .6-.2.6-.2.4-.8.5-.1-.1-.5-.7 0-.2.8-.9 0-.2.6-.7.2-.3.7-.2.5-.8.2-.9.2-.5.2-.5.2.5.1.9.2.9 0 .6.2-.2.5-.8.2-1 0-.8 0-.2.6-.8.3-.4-.7.4-.9-.3-.9-.5-.1-.4-.8 0-.9-.6-.2 0 .6-.1 1 .6.1.4.7-.4 1 .4.8.5.5 0 .1-.5.4-.4.6-.7-.2-.1-.9-.5-.1-1-.1-.7-.3-.1-.8-.5-.1-.5-.5-.5.1-.3.6-.6-.1-.4-.9-.4-.2-.5.1-.9.4-.2-.8-.6-.3-.5-.6-.5-.4-.4-.3-.5-.2-.4-.6-.9-.1-.3-.7.7-.2.7-.2-.2-.9-.5 0-.5-.5-.8 0-.5.1-.4-.1-.3-.8-.1-.6-.6.1 0 .9.6.2.3.7-.1.9-.1.9-.1.9.8.4 0 .4-.5.1-.3.5-.5 0-.2-1-.1-.8-.6-.2-.6-.3-.3-.6-.7-.3-.1-.9.3-.9.5 0-.5-.4-.1-.5-.7-.1-.4.6.2.8 0 1 0 .8 0 1-.3.6-.9.2-.4.1-1 .2-.4-.3.1-.4-.1-.4.4-.1 1-.2.6-.2 0-.9-.2-.8-.9.4-.1-1-.1-.8.2-.6.1.6.4.8.8-.4 0-.9-.8-.4 0-.1.4-.8 0-.5-.2-.5.2-.6.2-.7.2-.9.1-.4.2-1-.3-.4.1-.4.6-.5-.1-.9 0-.9-.4-.5 0-.8-.6-.1-.5.1-.4.5-.5.4-.4.4-.7.5-.2.4-.5.7-.4.5-.4.3 0 .4.4.3-.3.5-.6.3-.3.6.1.9-.3.5-.8.3-.2.5.4.5-.2.5-1 .3-.2.5-.3.5-.3.7 0 .3.7.3-.5.5-.5.5-.3.4-.3.9-.5.5-.2.4-.6.4-.1.9-.5.1-.6.4.2.8.6.1-.2.5.5.1.1.7-.6.4-.5.1-.2.9-.6.2-.1.7-.2.9.1.9-.7.3-.2.6-.3.4-.4.8-.6.2-.5.4-.2.5-.2.9.6.2.6.2-.3.4-.7.2-1 .1-.3.7.3.8-.4.7-.7.3.3.8 0 .5-.5.2-.6.3.1.8-.1 1-.7.4-.3.4.6.5.1.6.2.7-.6.3-.4-.7-.5 0-.2.4.6.2.2.8-.2.5-.8.3-.1.5.2.5-.6.2-.5.3-.9.3-.1.5.5.4.6.1-.6 0 0 .8-.4 1-.3-1-.1-.6-.3.6-.2.5-.5.7-.8.2-.3.4.7.2.8.3 0 .9-.2.9-.2.7-.4.6-.2.5-.4 0-.1-.9-.1-.9-.4 0-.2.5 0 .6.1.7.8.5-.4.8-.5.4 0 .6-.4.7-.4.5-.1.6.5.3 0 .5.2 1-.6.1-.2-.6-.8-.2-.4.7-.4.1-.2.7.6.2.2-.6.7-.2.2.6-.3.5-.2.9-.5.4-.1.7-.8-.2-.1-.5-.2.5.6.5.1.4.6.4-.2.6-.7.4.3.6.6.2 0 1 0 .8.1 1-.3.4-.4.6-.4.8-.1.7-.3.6.5.5-.2.5-.9.3-.1.5-.3.9 0 .5-.4.9-.1 0-.2-1-.1-.8-.4 0-.2.5-.1.8.1.5.8.4-.2.9-.2.5-.4.5 0 .4.2.9-.2.5-.5.3.1.9 0 .2-.5.6-.2.6.1.9-.8.2-.5.2 0 1 .1.4-.1.4.3.5.2.7.1.6-.5.3-.3.7.2.8-.4 1 0 .4-.5.4 0 .6.3.8-.4.4 0 1 .1.8.1.5-.1.5-.7.4.3.5.2.9-.2.7-.3.6-.1.9 0 .5-.3.9-.2.8-.1.5-.2.9.3.9.1.5-.6.3 0 .5.5.2.3-.6.6-.4.4-.3.3-.7.3-.4.6-.4.3-.5.2-.9.2-.4.4-1 .1-.4.4-.5.8-.3.2-.6-.5-.4.3-.6.5-.6.5-.2.4.1.3-.5.1-.8 0-.1-.1-.9.1-.9.4-.5.3 0 .3.6.3-.6.2-.4.3-.7.7-.2-.2-.7 0-.6.5-.4.4-.5.3-.5.1-.9.5-.2.2-.7.1-.9.6-.2.7-.3 0-.8.2-1 .5-.2.4.7.4 0 .1-.5.9-.2.8-.1.5-.1 0-.6-.9-.1-.9-.2 0-.4 0-.2 0-.6.5-.3.4.2 0-.1-.3-.9.7-.3.7.3-.1 1 .4.5.8 0 1-.1.4-.2 0-.5 0-.4.1-.7.1-.9.2-.9 0-.9.5-.3.9 0 .7.3.2.6.5-.1 0-.6-.9-.4.4-.8.5 0 .1-1 .7-.1.5-.7.5-.3.8 0 1 0 .6-.2-.2-.8-.9.2-.9-.1-.9.1-.3-.7.8-.4.8-.1.5-.4.5-.2.7-.3 0-.9-.7-.3-.3-.6.6-.4.1 0 .9 0 .3-.5.6-.3.1-.6.1-.9 0-.9-.2-.6-.7-.3.3-.8.4-.1.4-.7.9-.2.1-.7.4-.2.4-.7.7.3.4.4-.6.1-.1.8.6.3.8-.2.3.8.3.4.4.6.3.8-.8.3-.3-.7-.6-.1-.9-.1-.3-.8-.6-.2-.8.2.4.6.8 0 .4.8.6.2.8 0 .3.7-.3.6-.7.3.3.6.9.2.5.5.1.5-.1.6-.7.3 0 .9-.7.4-.1.5-.8.3-.1.6.6.1.1-.5.7-.4.5.8.5.1.6.3.2.5.7.5-.2.7-.9.1-.9-.2-.9.2 0 .5 0 .5.9.1.9.1.7.2.2.6 0-.6.9-.2.2.6.1 1-.7.2-.2.6-.2 1-.1.5-.9.1-.1.7-.4.5.1 0 .8-.3.9.3.1.5.5-.1-.1-.7-.6-.2.2-.7.8.2.2.5.8.2.4.3.2.8-.2.6-.9-.1 0-.5 0 .5.2.5.2.8.2.5-.1.5-.2.8.6.5 0 .5.9.3.9-.2.7-.1.2-.8.5.3 0 .8 0 .4 0 .2-.2.9.2.4-.5.1-.9.3-.2.5.6.1.3.8.7.3.1.6.1.9-.7.2-.1.7.1.5.7 0 0-1 .6-.1 1-.1.3.7-.3.6-.7.3.2.7.9 0 .9 0 .2.7-.1.8.8.5 0 .5.3.8.1.7.7.3.3.6.8-.2-.4-.8-.7-.1.3-.8.6-.1.1-.9.6-.1.9-.2.7.3 0 .9-.2.9-.5.1-.9.4.1.8-.1.9-.6.1.1.4.7.4.1 1 .6.1.8-.1.1-1 .2 0 .3 0 .8-.1.4.6-.2.9.3.6.9 0 .9 0 .5.3.4.5-.4 0-.3.8-.2 1 .3.8.2.6.6.4.2.7.8-.3-.3-.7-.7-.2.1-.9 0-.9.6-.2.9 0 .2.7.2.8-.1 1 .1.4 1 .1.8.1.1-.6.9-.3.3.7.5.4.1.5-.5.1-.1.8-.2.9.3.6.7-.1zM394.5,221.8l-.1-.4-.8 0-.1.4.5.1.5-.1zM372.5,225l-.1-.9.1-.9-.5-.1-.2.5.1 1 .1.5.5-.1zM378.4,225.9l-.2-.5-.5 0 .1.6.6-.1zM383.3,226.8l.3-.9.5 0 0-.5-.5 0-.4.9-.6.1.2.4.5 0zM370.2,226.7l-.5-.3.5-.1 0 .4zM386.6,227.7l.2-.6.7-.3-.3-.6-.8.2 0 .4-.7.4.2.7.7-.2zM392.3,227.7l.2-.9-.3-.6-.6.2.1.8.1.6.5-.1zM397.3,226.8l-.1-.5-.6.1.1.5.6-.1zM378.4,228.6l-.2-.6-.8-.3 0-.5-.5 0 0 .5.8.5.1.7.6-.3zM402.1,227.7l-.2-.5-.3 0 0 .5.5 0zM375.1,227.7l-.5-.2 0 .2.5 0zM370.2,228.7l-.5-.1 0-.5.5.1 0 .5zM400.4,228.6l-.1-.5-.6.1.1.4.6 0zM399.3,228.6l-.4 0 .4 0zM354.8,229.2l0-.2 0 .2zM366.1,229.2l-.5-.2.5 0 0 .2zM376.8,230l0-1-.8-.1-.7.1 0 1 .7.4.8-.4zM380.6,230l0-1-.6 0-.6 0-.2.9-.6.1.6 0 .8.2.6-.2zM354,230.9l-.1-.5.2 0-.1.5zM371.5,231.8l-.9 0-.2-.5.6-.4 0-.1-.4-.4.4 0 1 0 .8-.3.6.3-.1.7-.9-.3-.4-.3-.2.8-.3.5zM400.4,231.8l.4-.9.8.1.6-.2-.1-.5-.9 0-.7.1-.2.6-.6.3.1.6.6-.1zM374.2,231.8l-.6 0 .2-.6.6.1-.2.5zM408.7,232.6l-.3-.5-.7.1.3.6.7-.2zM372.4,233.5l-.5-.4.5 0 0 .4zM379.2,234.3l-.7-.3-.1-.9.8-.3.2.8-.2.7zM387.2,233.7l-.4-.1 0-.6.5.1-.1.6zM390.4,234.4l-.7-.4-.1-.9.8-.2.2.7-.2.8zM394.4,233.3l-.5-.2.5 0 0 .2zM397.2,234.3l-1 .1-.7-.4 0-.9.7-.4 1 0 .2.9-.2.7zM350.4,234l-.2 0 .2 0zM381.4,235.1l-.8-.2-.6-.2-.4-.3.4 0 1-.2.6.2-.2.7zM383.2,236.7l-.5 0 0-.9-.1-.9.2-.8.8.3 0 .7.6.3-.1.4-.9.4 0 .5zM386.4,234.6l-.5-.2.5 0 0 .2zM388.2,235.2l-.8-.3.3-.7.8.2-.3.8zM398.5,235.1l-.9 0-.3-.7.7-.2.7.2-.2.7zM401.2,235.2l-.7-.3.3-.9.8.4-.4.8zM399.4,236.1l-.7-.3.3-.7.6.3-.2.7zM402.1,236l-.6-.2.1-.6.6.2-.1.6zM407.8,236.7l-.3-.5-.9 0-.3-.8-.6-.2-.5.4-.4-.3-.1.5.5 0 .5.9.5 0 .8.1.8-.1zM397.2,236.9l-.7-.2.2-.7.8.2-.3.7zM401.2,236.8l-.5-.1.1-.6.6.1-.2.6zM349.5,237.6l-.1-.7-.4.7.5 0zM394.4,237.3l0-.2 0 .2zM350.8,238.3l0-.3 0 .3zM400.3,240l-.6-.2 0-.8-.2-1 .8-.1.2.6 0 .9-.2.6zM401.2,240.8l-.4-.3 0-.2.5 0-.1.5zM405.2,241.9l-.7-.3.3-.6.7.2-.3.7zM349,243.9l-.7 0 .3-.7.6.2-.2.5zM404.4,243.7l0-.3 0 .3zM408.4,245.8l-.7-.1.3-.9 0-.4-.5-.3-.9 0-.9-.1-.3-.6.8-.1.8-.1 1-.1.6.3-.1 1 .2.8-.3.6zM347.6,244.8l0-.4.3 0-.3.4zM404.4,245l-.6-.2.1-.8.7.4-.2.6zM415.4,244.8l-.2-.6-.7.2.2.7.7-.3zM414.3,245.7l-.1-.5-.8-.1-1 .1-.8 0-.1.5.5 0 .9.2.9 0 .5-.2zM344.6,246.6l-.1-.5-.4.5.5 0zM346.8,247.9l-.2-.9-.1-.8.7-.3.1.7-.2.4-.3.9zM406.2,246.8l-.7-.2.2-.5.7.1-.2.6zM416.5,248l0-1-.1-.4-.4-.5-.4.1-.1.8-.1 1 .6 0 .5 0zM343.2,248.8l0-.4-.3.4.3 0zM419.2,249.8l0-.5-.9-.5-.1-.4-.4 0 0 .5.9.4.1.5.4 0zM345.8,250l-.4-.7.9-.1 0 .4-.5.4zM410.2,249.9l-.7-.1.3-.6.7.1-.3.6zM343.2,249.8l-.2 0 .2 0zM421.5,250.6l-.1-.4-.8-.2-.4.6.8.1.5-.1zM419.7,250.6l-.1 0 .1 0zM343.3,252l-.1-.9-.5 0-.2.5.2.5.6-.1zM410.2,253l-.5-.1.1-.5.5 0-.1.6zM342.3,252.9l-.2 0 .2 0zM412.4,253.9l-.8-.1-.5 0 0-.5.9-.1.6.2-.2.5zM414.2,254.8l-.5-.1.1-.6.8.1-.4.6zM412.4,255.9l-.7-.3-.2-.4.5-.1.6.1-.2.7zM419.2,255.6l0-.5-.5.1.1.6.4-.2zM415.2,257.2l-.6-.2-.1-1 .7-.3.2.8-.2.7zM416.5,256.8l-.3-.8.3 0 0 .8zM421.7,257l-.1-1-.6-.3-.6.3 0 1 .6.3.7-.3zM341.4,258.1l-.7-.3.2-.8.7.4-.2.7zM425.6,258.8l.4-.8.6-.2-.2-.6-.9.2-.5 0-.4 0-.3.4.2 1 .5 0 .6 0zM414.2,258.8l-.2-.5.3 0-.1.5zM423.4,259.6l0-.8-.2-.7-.6.2.1.9.1.8.6-.4zM432.3,258.8l-.1-.6-.4.1 0 .6.5-.1zM417.4,262.9l-.9.1-.9 0-.2-.6 0-1 .6-.1 1 0 .8.1.9 0-.4.9-.5-.4-.1.5-.3.5zM426,261.5l0-.1 0 .1zM361.2,264.9l-.7-.3-.1-.9 0-.9.3-.7.7.3 0 .8-.2 1 0 .7zM418.3,263.6l-.5-.4.5-.1 0 .5zM427.3,263.8l-.6-.1.1-.6.6.1-.1.6zM340,264.6l-.7 0 .3-.7.6.3-.2.4zM358.4,264.8l-.8-.2.4-.5.7.1-.3.6zM419.2,264.8l-.5-.2.1-.5.6.1-.2.6zM360.7,266l0-.5.1 0-.1.5zM359.4,266.9l-.5-.1.3-.4.2 0 0 .5zM362,266.9l-.5-.1.1-.6.7.2-.3.5zM435.4,267.1l-.4-.5 0-.2.5 0-.1.7zM438.6,266.8l-.1 0 .1 0zM358.4,267.8l-.4 0 .2-.5.3 0-.1.5zM361.2,268.8l-1 0-.8-.2.4-.5.8-.3.1-.5.3.5.4.4-.2.6zM436.3,268l-.8-.2.3-.7.7.2-.2.7zM435.4,269l-.6-.4.2-.7.6.3-.2.8zM357.1,270.2l-.7-.2.1-.9.6-.2.3.7-.3.6zM361.2,271.1l-.9-.2.4-.7.6.2-.1.7zM437.2,270.9l-.4-.5.5 0-.1.5zM336.8,271.9l-.2-.5.7-.1 0 .3-.5.3zM440.4,273.6l.2-.9-.2-.6-.8.1.1 1 .2.8.5-.4zM337.8,273.6l-.1-.4.2 0-.1.4zM355.3,273.8l-.7-.2.2-.5.7.1-.2.6zM353.5,276.9l-.1-.6.1-.5.1.5-.1.6zM335.6,276.8l-.1-.7-.4.7.5 0zM438.1,276.8l-.3-.5.4 0-.1.5zM358.5,277.6l-.1-.6-.8.1-.2.5.6.2.5-.2zM356.7,279.4l-.4-.4 0-.9-.5-.1-.2.6.2.5.8.3.1 0zM336,280.1l-.4-.7.6 0-.2.7zM362,279.9l-.8.4-.9-.4.4-.7.9-.1.7.3-.3.5zM442.2,279.9l0-.5-.6 0 .1.6.5-.1zM351.2,281.9l-.8.1-.6-.3.1-.5.9-.2.7.2-.3.7zM332.6,285.8l-.2-.8-.5.6 0 .2.7 0zM353.6,285.8l-.1-.6-.9-.1-.3.7.7 0 .6 0zM361.2,287.1l.1-.9-.6-.1-.1.5.4.5.2 0zM442.6,286.6l0-.4 0 .4zM345.4,288.1l-.7-.1.3-.8.4-.6.1 1-.1.5zM349.6,288.9l-.2-.9 0-.2.1-.7-.5-.1-.6.1.1.9-.2.9.7.3.6-.3zM364.3,288.4l-.8-.4 0-.9.8-.3.2.8-.2.8zM346.3,289.3l-.7-.4.2-.7.9.2-.4.9zM341.4,290.9l-.1-.7.1 0 0 .7zM347.3,291.6l-.1-.6-.9.1-.6.1.1.4 1 .1.5-.1zM366.1,291.7l-.5-.1 0-.6.5.2 0 .5zM441.1,291.6l-.3-.6-.3.6.6 0zM437.2,291.6l0-.1 0 .1zM347.2,293.4l-.5 0 .5 0zM367,294l-.9 0-.7-.2.2-.8 1 0 .5.4-.1.6zM438.1,294.2l-.6-.4.1-.6.8.2-.3.8zM362.6,295.6l-.1-.6-.9.1-.1.5.5.1.6-.1zM438.1,295.7l0-.3 0 .3zM436.3,297.1l0-.5 0 .5zM437.2,299l-.6-.2 0-.9.2-.6.4-.4.1.5.2 1-.3.6zM340.5,297.9l-.1-.6-.8 0-.2.6.6.1.5-.1zM366.4,297.9l-.3-.5-.5 0 .2.5.6 0zM369.7,297.9l0-.2 0 .2zM369.2,299l-.7-.2.3-.7.7.3-.3.6zM418.3,298.9l-.7-.1.2-.6.6.2-.1.5zM434.5,298.9l0-.5 0 .5zM360.3,300.6l-.1-.5 0 .5.1 0zM371.5,300.8l-.9.1-.2-.7.6-.3.6.3-.1.6zM366.2,302.8l0-.8.1-1-.7-.2-.8 0-.1.7.1.6.7.3.1.5.6-.1zM414.2,302.1l-.5-.1.1-1 .4 0 .3.5-.3.6zM418.3,302.3l-.7-.3.1-1 .6-.1.3.6-.3.8zM433.2,302.2l-.6-.2.1-1 .5 0 0 .5 0 .7zM437.8,301l-.2 0 .2 0zM421,302l-.6 0 .6-.2 0 .2zM372.8,302.9l-.8.1-.2-.6.6-.2.4.3 0 .4zM374.2,304.8l-.6-.2 0-.8-.2-1 .4-.5.4.2.4.6.7.2-.2.7-.8.2-.1.6zM417.4,303.2l-.9-.4.5-.7.8.3-.4.8zM425.5,303l-.9 0-.9.2 0-.8.3 0 .2 0 .8 0 .5.1 0 .5zM334.2,304.1l-.1-.8.2 0-.1.8zM416.5,303.9l-.9-.1.5-.5.5 0-.1.6zM424.2,303.8l-1 0-.5 0 .1-.5.4.2 1 .2 0 .1zM430.4,304l-.8 0-.2-.7.6-.1.6.1-.2.7zM368.5,306l.1-.9-.2-.9-.5 0 0 .5-.1.9.1.6.6-.2zM370.3,304.6l-.1-.6-.6.2.1.5.6-.1zM429.1,305l-.7-.4.2-.6.8.2-.3.8zM435.5,306l0-.9-.5-.3-.2.8.2.5.5-.1zM417.6,306.9l-.2-.5-.7 0 .3.6.6-.1zM368.7,307.8l-.3-.7-.7.3.2.5.8-.1zM377.4,308l-.7-.2.2-.6.7.2-.2.6zM379.2,307.8l-.6 0 .1-.5.5.1 0 .4zM410.2,307.8l-.9.1-.5-.1.1-.4.8 0 .1 0 .5 0-.1.4zM424.4,307.8l-.2-.6-1 0-.6.2.2.5.9 0 .7-.1zM426.5,308.2l-.5 0 0 .4.5-.4zM432.3,308.2l-.5 0 0 .4.5-.4zM368.4,309.6l0-.5-.5.1 0 .4.5 0zM373.5,309.6l-.2-.6-.5.2 0 .5.7-.1zM376.4,309.9l-.8 0-.4-.7.8-.2.8.2-.4.7zM414,309.2l-.3 0 .3 0zM415.3,309.6l-.1-.6-.9.2.4.5.6-.1zM380.5,311.2l-.9 0-.4-.7.4-.8.9.1.3.7-.3.7zM413.5,311l0-1-.6-.3-.2.8.2.7.6-.2zM429.2,310.5l-.1-.5-.5 0 0 .9.6-.4zM383.2,312.9l-.6-.1-.2-1 .3-.8.1-.9.4.4.3.9-.2.9-.1.6zM386.4,311l-.6 0 .6-.2 0 .2zM392.2,311.9l-.9 0-.6-.1.1-.6 1 .2.4 0 0 .5zM402.1,311.9l-.6-.1.6-.1 0 .2zM389.5,313.8l-.9 0-.1-.6-.8-.4-.1-.5.6 0 .8-.1.7.1 0 .9-.2.6zM406.6,312.8l.8-.5-.8-.1 0 .6zM375.1,313.6l0-.5-.9-.2-.8.3.4.7.8-.2.5-.1zM379.2,313.2l-.4 0 .4 0zM385.4,314l-.8.1-1-.2-.2-.7.7-.2.9-.2.7.4-.3.8zM391.3,313.8l-.6-.2.1-.5.7.1-.2.6zM379.4,315l.1-.9-.8-.4-.1.9.1.5.7-.1zM388.2,317.1l-.8-.3-.2-.6-.6-.3-.2-.7-.9-.2.1-.9.8-.1.8-.3.2.9.3.6.7.2.2 1-.4.7zM394.4,315.2l-.8 0-1 0-.1-.6.1-.5 1-.2.8 0 .4.7-.4.6zM418.8,314.1l-.1 0 .1 0zM402.1,317.1l-.9.1-.7-.4.3-.8.6-.1.2-.8.7.3.1 1-.3.7zM410.9,316.4l.2-.5 0-.5-.8 0 .3 1 .3 0zM396.3,316.8l-.1-.5-.5.1.1.5.5-.1zM377.5,318.6l-.1-.6-.6.2.1.5.6-.1zM385.5,318.6l-.1-.7-.8 0-.1.7.5.1.5-.1zM396.4,320.8l-.2-.4-.8-.4.1-1 .7-.3.3-.5-.7-.3-.3.7-.6.2-.9-.1-.9.2-.6.1.1 1-.8.1-.2.7.6.5.9-.2.2-.7.3-.8.8-.1.4.9.1.6.9-.1.6-.1zM399.5,318.6l-.1-.5-.9-.1-.9 0-.2.6.6.1 1 0 .5-.1zM405.3,318.6l-.1-.5-.6.1.2.4.5 0zM407.5,318.6l0-.5-.9 0 0 .5.4 0 .5 0zM402.7,320.8l.7-.3 0-.1-.8-.1-.3-.8-.2-.6-.7.1 0 1 .7.1.4.7.2 0zM390.4,320.8l0-.4-.5 0 .1.6.4-.2zM386.5,321.8l-.1-.7-.6.2.1.6.6-.1zM389.5,322.6l0-.5-.9.1-.3-.9-.6-.1 0 .6-.2.8.7.2.4-.2.4.1.5-.1zM398.5,324l.5-.7.4-.2-.4 0-1-.1-.5.1.1.9.4 0 .5 0zM396.3,327.6l-.1-.5-.4.1 0 .4.5 0z" fill="#4b64d5" fill-rule="evenodd"/><path d="M329.5,311.8l.3-.4.3-.4.5-.9.2-.5.2-.4.4-1 .3-.4.2-.5.4-.9.2-.4.3-.6.4-.8.2-.4.3-.7.3-.7.3-.4.3-.7.4-.7.2-.4.3-.6.4-.8.2-.4.3-.6.4-.8.2-.4.3-.5.4-.9.3-.4.2-.4.4-.8.4-.6.2-.4.4-.7.3-.7.2-.4.3-1 .2-.4.3-.9.2-.5.3-.7.2-.6.2-.6.3-.7.2-.5.4-.9.2-.4.3-.5.4-.5.6-.4.8-.4.4-.3.4-.3.5-.4.5-.4.5-.4.4-.5.4-.5.5-.4.4-.6.4-.6.5-.6.3-.4.2-.5.4-.6.4-.7.3-.5.2-.5.5-.8.2-.5.2-.5.4-.8.2-.5.3-.8.2-.5.3-.7.2-.7.2-.6.2-.8.2-.6.3-.7.2-.8.2-.5.2-1 .2-.4.3-.9.1-.5.3-.8.2-.5.3-.5.5-.7.4-.5.4-.5.5-.3.5-.4.4-.2.8-.5.6-.3.4-.3.6-.3.7-.4.5-.3.4-.3.6-.4.7-.4.5-.4.5-.3.5-.2.4 0 0 .5-.3.8-.1.6-.3.8-.2.5-.3.9-.2.5-.2.8-.2.6-.2.7-.2 1-.1.4-.2.9-.2.9-.1.4-.1 1-.1.8-.1 1-.1.4-.1.9 0 .9-.1.9 0 .9 0 .9 0 .9.1.9 0 .9.1.9.1.5.1.8.1 1 .2.8.1.5.2.9.2.8.1.6.3.8.1.5.3.9.2.4.3.9.2.5.3.5.3.9.3.4.2.6.5.8.2.4.3.4.4.7.4.7.3.4.3.5.4.5.4.6.4.6.5.5.4.5.4.4.4.5.4.5.4.4.4.4.4.5.5.5.4.4.5.4.5.5.5.5.5.4.5.4.5.5.5.4.5.4.4.3.4.4.5.3.6.5.6.4.6.4.5.3.4.3.7.4.7.3.4.3.6.2.8.4.4.2.8.4.6.1.8.3.5.2.9.2.4.1 1 .2.8.2.5 0 .9.1.9.1.9 0 .9 0 .9 0 .9 0 .9-.1.5-.1.9-.2.8-.2.5-.1.9-.3.4-.1 1-.4.4-.2.5-.3.8-.5.5-.3.4-.3.5-.3.5-.4.4-.5.5-.4.4-.4.5-.5.4-.6.4-.5.5-.7.3-.5.3-.4.3-.4.4-.7.5-.7.3-.4.2-.5.4-.5.4-.7.5-.5.5-.5.4-.3.4-.3 1-.3.8.1.6.3.8.4.4.4.5.4.5.4.4.4.4.4.5.4.5.4.5.4.6.4.7.5.4.2.4.3 1 .3.4.1.9.2.9 0 .9-.2.5-.1.7-.3.6-.4.5-.3.4-.4.4-.4.5-.4.5-.6.4-.6.3-.5.3-.5.3-.6.4-.7.2-.5.3-.9.2-.4.2-1 .2-.4.2-.9.1-.6.1-.7.2-1 0-.8.1-1 0-.8.1-.5 0-.5-.1-.8 0-1-.1-.8-.1-1-.2-.8-.1-.5-.2-.9-.2-.6-.2-.8-.2-.6-.3-.7-.1-.5-.5-.8-.2-.5-.3-.5-.4-.6-.4-.7-.4-.5-.5-.4-.4-.4-.5-.5-.5-.3-.5-.3-.6-.3-.7-.2-.9-.2-.4-.1-1 0-.4.1-.9.2-.6.2-.7.3-.5.2-.7.4-.6.4-.5.2-.5.3-.6.4-.7.4-.5.3-.6.3-.7.2-.9.1-.9-.2-.5-.2-.6-.4-.4-.5-.4-.4-.4-.4-.4-.8-.3-.6-.2-.4-.4-1-.1-.4-.3-.9-.2-.5-.2-.8-.2-.5-.3-.9-.1-.4-.3-1-.2-.4-.3-.9-.2-.5-.3-.8-.2-.5-.2-.5-.4-.8-.3-.5-.3-.5-.4-.8-.3-.5-.3-.5-.3-.5-.5-.7-.4-.6-.3-.4-.3-.4-.4-.5-.4-.5-.4-.5-.4-.5-.5-.5-.5-.4-.4-.5-.4-.4-.5-.4-.5-.4-.4-.4-.6-.4-.6-.5-.6-.5-.4-.3-.5-.3-.5-.2-.8-.5-.5-.3-.5-.2-.8-.4-.5-.2-.8-.2-.5-.2-1-.3-.4-.1-.9-.2-.9-.1-.4-.1-1 0-.8-.1-1 0-.8.1-1 0-.6 0-.7.1-.9 0-.9.1-.9 0-.9-.1-.5-.1-.8-.2-.6-.2-.8-.4-.4-.2-.5-.3-.6-.5-.7-.4-.5-.4-.5-.3-.4-.3-.5-.4-.7-.4-.6-.4-.4-.4-.5-.3-.5-.4-.4-.3-.5-.4-.5-.5-.5-.5-.5-.4-.6-.4-.6-.5-.4-.3-.4-.2-.9-.4-.5-.2-.9-.1-.9-.1-.9.1-.9.2-.9.1-.4-.9.1-.9.2-.9.1-.6.2-.7.2-1 .1-.4.2-.9.2-.6.2-.7.2-1 .2-.4.2-.9.1-.5.3-.8.2-.8.1-.6.2-.9.1-.5.1-.8.2-1 0-.8-.3-.8-.4-.2-.5.1-.5.4-.4.6-.4.7-.3.5-.2.5-.5.8-.2.5-.2.5-.4.8-.2.5-.3.6-.3.7-.2.5-.4.9-.2.4-.2.7-.4.7-.2.4-.3 1-.2.4-.3.6-.3.8-.2.4-.4.9-.2.5-.3.6-.2.7-.2.5-.4.8-.2.5-.3.8-.2.5-.3.6-.3.8-.2.4-.3 1-.2.4-.3.7-.3.7-.2.4-.3.9-.2.5-.3.8-.2.5-.3.7-.3.6-.2.5-.3.9-.2.4-.3.8-.3.6-.2.4-.4 1-.2.4-.3.7-.3.7-.2.4-.4.9-.2.5-.3.5-.3.8-.2.5-.3.8-.3.5-.2.5-.4.8-.2.5-.3.8-.2.5-.2.6-.4.8-.2.4-.3 1-.2.4-.3.9-.2.5-.2.7-.3.6-.2.8-.2.5-.3.9-.1.5-.3.9-.1.5-.3.8-.1.5-.2.9-.2.7-.2.7-.2.8-.1.5-.2.9-.2.9-.1.5-.2.8-.1.5-.3.9-.2.9-.1.5-.3.8-.1.5-.3.9-.2.4-.3 1-.2.4-.3.7-.3.7-.2.4-.3.9-.2.5-.3.8-.3.5-.2.7-.3.6-.2.6-.2.8-.2.9-.1.5-.2.8-.1 1-.1.4-.2.9-.2.9-.1.4-.2 1-.1.8-.1.5-.2.9-.2.8-.1.6-.2.8-.1.8-.2.6-.2.9-.1.5-.2.8-.2 1-.1.4-.2.9-.2.6-.2.7-.2 1-.1.4-.1.9-.1.9.3.9.7-.5z" fill="#6f92f3" fill-rule="evenodd"/><path d="M329.6,311.4l.3-.4.3-.5.4-.7.3-.6.2-.5.3-.8.3-.5.2-.5.5-.9.2-.4.2-.5.4-.9.2-.4.3-.6.4-.8.2-.4.3-.7.4-.7.2-.4.3-.7.3-.7.3-.4.3-.8.3-.6.2-.4.4-.8.3-.6.2-.4.4-.8.3-.6.2-.4.4-.8.3-.6.2-.5.3-.9.1-.4.4-.9.1-.5.3-.8.2-.5.3-.9.1-.4.3-1 .2-.4.3-.9.2-.5.3-.8.3-.5.2-.5.4-.7.4-.6.3-.5.4-.4.4-.4.6-.5.5-.5.6-.4.4-.4.4-.4.5-.5.4-.5.3-.4.3-.5.3-.5.5-.7.3-.6.3-.5.3-.6.3-.7.2-.5.4-.8.2-.5.3-.7.2-.6.2-.7.2-.7.2-.8.2-.6.2-.8.1-.5.2-.9.2-.9.1-.5.2-.8.2-1 .1-.4.2-.9.2-.5.4-.8.5-.5.4-.4.4-.2.7-.3.7-.3.5-.1.9-.4.4-.2.8-.4.6-.3.4-.2.5-.3.6-.5.5-.5.5-.4.4-.4.4-.5.4-.5.3-.4.4-.6.5-.7.3-.5.3-.4.3-.6.4-.8.3-.4.3-.5.4-.7.3-.6.3-.5.2-.5.5-.8.1-.5.2-.9 0-.9-.3-.9-.2-.4-.3-.6-.4-.8-.3-.4-.3-.5-.4-.5-.4-.4-.4-.4-.5-.5-.7-.5-.6-.3-.4-.2-1-.2-.8 0-1 .1-.8.2-.5.2-.9.2-.4-.8.1-1 .2-.8.1-.5.2-.9.2-.9.2-.5.2-.8.1-.5.2-.9.3-.8.1-.6.2-.8.2-.5.2-.9.1-.5.3-.9.2-.7.1-.6.2-.9.2-.4.1-1 .2-.8.1-.7 0-.7-.1-.4-.8-.4-.5.4-.4.6-.4.7-.2.5-.3.4-.4.9-.2.5-.3.5-.4.8-.2.5-.3.7-.2.6-.3.5-.3.8-.2.5-.3.8-.3.5-.2.5-.4.9-.2.4-.3.8-.2.6-.2.5-.4.9-.2.4-.4.9-.1.5-.3.6-.3.7-.2.5-.3.8-.2.5-.4.9-.2.4-.2.7-.3.7-.2.4-.3 1-.2.4-.4.8-.2.6-.2.6-.3.7-.2.5-.3.8-.2.5-.4.8-.2.5-.2.6-.4.8-.1.4-.4.9-.2.5-.3.6-.3.8-.2.4-.3.9-.3.5-.2.5-.3.8-.2.5-.4.8-.2.5-.2.7-.3.6-.2.5-.4.9-.2.4-.3.9-.2.5-.2.7-.3.7-.2.5-.3.8-.2.5-.3.8-.1.5-.4.9-.1.4-.3 1-.1.4-.3.9-.2.5-.2.8-.2.6-.2.8-.2.8-.2.6-.2.8-.1.5-.3.9-.2.7-.1.7-.3.8-.1.5-.2.9-.1.5-.3.9-.2.8-.2.5-.3.8-.2.5-.2.7-.3.7-.2.4-.3 1-.2.4-.3.9-.2.5-.3.7-.2.6-.2.6-.3.7-.2.6-.3.8-.2.8-.1.6-.2.8-.1.6-.2.8-.2.9-.1.5-.2.8-.2 1-.1.4-.2.9-.2.6-.1.7-.2 1-.1.4-.2.9-.2.9-.1.4-.2 1-.2.6-.2.7-.2.9-.1.4-.2 1-.2.7-.1.6-.2.9-.1.6-.1.8.1.6.8-.2zM400.2,303.8l.6-.2.8-.2.5-.1.9-.3.4-.2.9-.4.5-.3.4-.3.5-.3.6-.5.5-.4.5-.4.4-.5.4-.5.4-.4.3-.5.5-.7.4-.6.2-.4.3-.5.4-.9.3-.4.2-.5.4-.9.2-.4.3-.7.3-.7.2-.4.4-.8.3-.6.2-.4.4-.7.4-.7.4-.4.4-.5.6-.4.4-.1.6 0 .8.5.4.4.5.5.4.4.3.5.4.5.3.4.4.5.5.6.4.6.4.5.4.5.4.5.4.4.4.4.5.5.5.5.6.4.4.3.5.2.9.3.4.1 1 .1.8-.1.5-.1.8-.4.5-.3.5-.3.5-.4.4-.5.4-.5.5-.6.3-.5.2-.5.4-.7.2-.6.2-.6.3-.7.2-.7.2-.7.1-.9.2-.8 0-.5.1-1 0-.8 0-1 0-.8-.1-1 0-.7-.1-.6-.2-.9-.2-.8-.1-.6-.3-.8-.2-.5-.3-.7-.3-.6-.2-.5-.4-.6-.5-.7-.4-.5-.4-.5-.5-.4-.5-.3-.4-.3-.6-.3-.8-.3-.8-.1-1 0-.8.2-.6.2-.8.4-.4.2-.5.3-.6.4-.5.5-.6.5-.4.4-.5.4-.4.5-.5.5-.4.4-.4.4-.4.5-.5.5-.5.4-.6.4-.4.3-1 .2-.8-.3-.5-.4-.5-.4-.4-.7-.3-.5-.2-.4-.4-.7-.2-.7-.3-.5-.2-.8-.2-.6-.2-.7-.2-1-.1-.4-.2-.9-.2-.7-.1-.6-.2-1-.2-.5-.1-.8-.2-.9-.1-.4-.3-1-.1-.6-.3-.7-.2-.7-.2-.6-.3-.7-.3-.7-.1-.4-.4-.9-.3-.5-.3-.4-.4-.7-.4-.7-.3-.4-.3-.5-.3-.5-.5-.5-.4-.6-.4-.5-.5-.5-.5-.5-.4-.5-.4-.4-.5-.4-.5-.4-.4-.4-.4-.4-.5-.4-.5-.3-.6-.4-.6-.5-.6-.3-.4-.3-.6-.3-.8-.4-.4-.2-.6-.3-.8-.3-.4-.2-.9-.2-.6-.2-.7-.2-1-.2-.6 0-.7-.1-.9-.1-.9 0-.9 0-.9 0-.9.1-.4.1-1 .1-.8.2-.7.1-.7.2-.9.2-.5.2-.8.3-.5.2-.5.3-.7.4-.6.4-.5.3-.4.4-.4.3-.5.4-.5.4-.5.5-.5.5-.4.4-.5.4-.5.5-.4.5-.4.4-.5.4-.4.5-.4.5-.4.5-.5.6-.4.6-.3.5-.3.4-.3.6-.4.8-.2.4-.3.6-.3.8-.2.4-.3 1-.1.4-.3.9-.2.7-.1.6-.2 1-.1.8-.1.5-.1.9 0 .9-.1.9 0 .9-.1.9 0 .9.1.9 0 .9.1.9 0 .9.2.9 0 .4.2 1 .1.8.1.6.3.8.2.9.1.5.3.8.2.5.3.9.2.4.2.7.4.7.2.4.4.8.3.6.2.4.3.6.5.7.4.5.3.5.3.5.3.4.5.6.5.6.4.5.4.5.5.5.4.5.5.4.4.4.5.5.5.4.4.4.4.3.5.4.5.3.5.5.6.4.7.4.4.3.4.3.6.4.8.4.4.3.5.2.7.4.6.3.5.2.8.4.5.3.5.2.9.4.4.1.9.4.5.2.7.2.7.2.7.2.6.2.9.2.4.2 1 .1.8.2.5.1.9.1.9 0 .9 0 .9 0 .9 0 .8-.1z" fill="#97b8ff" fill-rule="evenodd"/><path d="M329.2,311l.6-.5.3-.5.5-.7.2-.6.2-.5.4-.8.3-.5.2-.5.4-.8.2-.5.3-.5.4-.8.2-.5.3-.6.4-.7.2-.5.3-.7.3-.6.2-.5.4-.8.2-.5.3-.5.3-.9.3-.4.2-.7.4-.7.2-.4.4-.8.2-.6.2-.4.4-1 .2-.4.3-.7.3-.7.2-.5.3-.8.1-.5.3-.8.2-.5.3-.9.1-.4.3-1 .2-.5.2-.8.2-.6.2-.7.2-.6.4-.8.2-.4.4-.9.2-.5.2-.4.4-1 .3-.4.2-.5.4-.9.3-.4.2-.5.4-.9.3-.4.2-.5.4-.9.2-.4.3-.7.3-.7.2-.4.4-.9.2-.5.3-.7.2-.6.2-.6.3-.7.1-.6.3-.8.2-.7.2-.7.3-.8.1-.5.3-.9.1-.4.2-1 .1-.4.3-.9.2-.8.2-.5.2-1 .2-.4.2-.9.2-.5.2-.8.1-.5.3-.9.2-.6.3-.8.2-.5.3-.8.2-.5.3-.7.5-.2.2.5.3.5.3.9.4.4.4.4.7.4.4.2.9.1.9-.2.4-.1.7-.4.7-.4.4-.4.5-.4.5-.5.4-.5.3-.4.3-.5.3-.6.4-.7.2-.5.3-.8.2-.5.2-1 .1-.4.1-.9.1-.9-.1-.9-.2-.5-.3-.8-.2-.5-.3-.5-.5-.4-.8-.4-.5-.2-1-.1-.8.2-.5.2-.6.3-.7.4-.5.5-.5.4-.4.3-.4-.7.2-.9.1-.9.1-.5.2-.8.2-1 .2-.4.2-.9.1-.5.3-.8.2-.7.1-.7.3-.9.1-.5.2-.8.2-.5.2-.9.2-.7.2-.7.2-.8.1-.5.3-.9.1-.4.2-1 .2-.7.2-.6.2-.9.1-.4.2-1 .1-.8-.1-1-.6 0-.3.5-.3.5-.3.5-.5.8-.2.5-.3.5-.3.8-.2.5-.3.7-.3.6-.2.5-.4.8-.2.5-.3.8-.2.5-.3.5-.3.9-.2.4-.4.8-.2.6-.2.4-.4 1-.2.4-.3.8-.2.6-.3.6-.2.7-.2.5-.4.8-.2.5-.3.8-.2.5-.3.7-.2.7-.2.4-.4 1-.2.4-.3.9-.2.5-.3.6-.2.7-.2.5-.4.8-.2.5-.3.8-.2.5-.3.6-.3.8-.2.4-.3 1-.2.4-.3.6-.3.8-.2.4-.4.9-.2.5-.2.7-.3.6-.2.5-.4.8-.1.5-.4.9-.2.4-.2.8-.3.6-.2.5-.3.9-.2.4-.3.9-.2.5-.3.8-.2.5-.3.9-.2.4-.3.9-.1.5-.3.8-.2.6-.2.7-.2.6-.3.8-.2.5-.2 1-.2.4-.2.9-.2.5-.2.8-.1.6-.3.8-.2.9-.1.5-.2.8-.2.5-.2.9-.2.7-.2.7-.2.8-.2.5-.3.9-.2.4-.3.7-.3.7-.1.4-.4 1-.2.4-.3.8-.2.6-.3.7-.2.6-.2.7-.3.6-.1.7-.3.7-.2.8-.2.6-.2.8-.1.5-.2.9-.2.8-.1.6-.3.8-.1.5-.2.9-.2.8-.2.6-.2.8-.1.5-.2.9-.2.9-.1.5-.2.8-.1.6-.2.8-.3.9-.1.5-.2.8-.2.8-.1.6-.2.9-.1.5-.1.8.1 1zM400.4,298.4l.8-.3.4-.2.9-.5.5-.3.4-.3.5-.4.5-.4.4-.5.4-.6.5-.6.2-.5.3-.4.4-.9.2-.5.2-.8.2-.5.3-.9.1-.4.2-1 .1-.8.1-.5.1-.9.2-.9.1-.9 0-.5.1-.9.1-.8 0-1 .1-.8 0-1 .1-.8 0-1 0-.8 0-1 0-.8 0-1-.1-.8 0-1-.1-.8-.1-1 0-.8-.1-.7-.1-.7-.1-.9-.1-.9-.1-.9-.1-.5-.2-.8-.2-.9-.1-.5-.3-.9-.1-.5-.4-.8-.2-.5-.2-.6-.4-.7-.3-.5-.3-.5-.4-.7-.4-.6-.3-.5-.4-.4-.4-.4-.4-.5-.4-.5-.4-.4-.5-.4-.5-.5-.5-.5-.6-.4-.6-.4-.4-.4-.5-.3-.5-.3-.7-.4-.6-.4-.5-.2-.6-.3-.7-.3-.5-.2-.8-.3-.5-.2-.9-.2-.4-.2-1-.1-.8-.2-1-.1-.5 0-.8 0-.9 0-.4 0-1 .1-.8.1-1 .2-.4.1-.9.2-.7.2-.6.2-.6.2-.8.4-.4.2-.7.4-.7.4-.4.2-.5.3-.6.4-.6.5-.6.4-.5.3-.4.4-.4.4-.5.4-.5.4-.4.4-.4.5-.5.5-.5.5-.4.6-.4.6-.3.4-.3.4-.4.7-.3.7-.2.4-.3.9-.2.5-.3.8-.2.6-.2.8-.1.5-.1.9-.2.9-.1.9 0 .5-.1.9 0 .8 0 1 0 .8 0 1 .1.8 0 .6.1.8.1.9.1.9.1.9.1.5.2.8.2.8.2.6.2.9.2.5.3.8.2.5.2.6.4.7.2.5.4.7.3.6.3.5.3.5.4.6.5.7.3.5.3.4.4.4.4.5.4.5.4.4.4.5.5.4.5.5.5.4.5.4.6.5.6.4.4.3.5.3.5.3.7.5.6.3.5.2.7.4.6.3.5.2.8.3.5.2.9.3.4.2 1 .2.4.1.9.3.8.1.5.2 1 .2.6.1.7.1.9.2.9.1.5.1.8.1 1 .1.8.1 1 0 .8 0 1-.1.8-.1.6-.1zM428.6,290.2l.5-.2.5-.3.4-.5.4-.6.4-.6.2-.4.3-1 .2-.4.1-.9.2-.9 0-.9 0-.9-.1-.9-.2-.9-.1-.6-.3-.8-.2-.4-.5-.8-.3-.6-.4-.4-.6-.4-.5-.3-.7-.2-.6 0-.5 0-.8.4-.5.3-.5.4-.4.6-.4.6-.3.4-.2.5-.3.9-.2.4-.1.9-.1.9 0 .9.1.9.1.9.1.5.3.8.2.5.4.6.4.7.3.5.4.5.6.4.5.3.4.2 1 .1.8-.2z" fill="#bcd2f7" fill-rule="evenodd"/><path d="M330.2,309.2l.4-.7.3-.7.3-.4.2-.6.4-.8.3-.4.3-.6.3-.8.2-.4.3-.7.4-.7.2-.4.4-.8.2-.6.3-.4.3-.9.3-.5.2-.5.4-.9.2-.4.3-.8.3-.6.2-.4.4-.9.2-.5.3-.6.3-.7.2-.5.3-.8.2-.5.3-.8.2-.5.3-.7.2-.7.2-.6.2-.8.2-.7.2-.6.3-.9.1-.4.2-1 .2-.4.2-.9.2-.5.3-.8.2-.5.4-.8.2-.5.3-.5.4-.9.2-.4.2-.7.4-.7.2-.4.4-.8.2-.6.2-.4.4-1 .2-.4.3-.7.3-.7.2-.4.3-.9.2-.5.3-.8.2-.5.3-.9.2-.4.3-.9.1-.5.3-.8.2-.6.2-.8.2-.5.3-.8.2-.5.3-.9.1-.5.3-.9.1-.5.3-.8.1-.5.3-.9.1-.4.3-1 .2-.5.2-.8.2-.7.2-.6.2-1 .2-.4.3-.9.1-.5.3-.8.1-.5.3-.9.1-.4.3-1 .1-.5.3-.8.2-.7.2-.6.3-.9.1-.5.3-.9.1-.5.3-.8.1-.5.2-.9.2-.6.2-.8.3-.7.1-.6.3-.9.1-.4.3-1 .1-.4.2-.9.2-.5.2-.8.3-.9.1-.5.2-.9.1-.5.3-.8.1-.7.2-.7.2-.9.2-.5.2-.8.2-.7.1-.7.1-.9-.2-.7-.5.6-.2.6-.3.4-.4.8-.2.6-.3.4-.4.9-.2.5-.3.6-.3.7-.2.5-.3.8-.3.5-.2.5-.4.8-.2.5-.3.8-.2.5-.2.6-.4.8-.2.4-.3 1-.2.4-.3.7-.2.7-.2.5-.4.8-.2.5-.3.8-.2.5-.3.7-.2.6-.2.6-.4.8-.2.4-.3 1-.2.4-.3.7-.2.7-.2.4-.4.9-.2.5-.4.8-.2.5-.2.5-.3.8-.2.5-.4.9-.2.4-.3.6-.3.8-.2.4-.3 1-.2.4-.3.7-.2.7-.3.5-.3.8-.2.5-.3.8-.2.5-.3.9-.2.4-.3.8-.2.6-.2.6-.3.8-.1.5-.3.8-.2.5-.3.8-.2.5-.3.9-.1.4-.3 1-.1.4-.3.9-.2.6-.2.7-.3.9-.1.5-.2.9-.1.5-.3.8-.1.7-.2.7-.2.9-.2.5-.2.8-.2.6-.2.8-.2.7-.2.7-.2.5-.4.8-.2.5-.4.7-.2.6-.2.5-.4.8-.2.5-.3.9-.2.4-.3.9-.1.5-.3.8-.2.6-.2.8-.2.5-.2.9-.2.4-.2 1-.2.6-.1.7-.3.9-.1.4-.2 1-.2.4-.2.9-.2.8-.1.5-.2 1-.2.4-.2.9-.2.9-.1.4-.2 1-.1.6-.2.7-.2.9-.1.4-.2 1-.1.8-.2.6 0 .5.6-.1zM394.8,293.4l.6-.1.8-.2.7-.1.7-.3.5-.2.9-.4.4-.3.4-.3.5-.4.5-.5.4-.5.4-.6.5-.6.2-.5.3-.4.4-.9.1-.5.3-.8.2-.5.3-.9.1-.4.3-1 .1-.4.2-.9.1-.9.1-.4.2-1 .1-.8.1-1 .1-.4 0-.9.1-.9.1-.9 0-.9 0-.9 0-.9 0-.9 0-.9 0-.9 0-.9-.1-.9 0-.9-.1-.9-.1-.5-.2-.8-.2-1-.1-.4-.3-.9-.1-.5-.4-.8-.2-.5-.3-.5-.4-.7-.4-.6-.4-.5-.3-.4-.4-.4-.5-.5-.4-.5-.5-.4-.6-.4-.5-.5-.5-.3-.5-.3-.5-.3-.8-.4-.5-.3-.4-.2-.9-.4-.5-.1-.8-.3-.5-.1-.9-.2-.9 0-.9 0-.9.1-.9.1-.4 0-.5 0-.9-.2-.9-.1-.9-.1-.4-.1-.5.1-.9 0-.9.2-.8.2-.5.2-.8.2-.6.3-.4.2-1 .4-.4.3-.4.2-.7.4-.7.5-.4.3-.5.4-.5.3-.4.4-.4.4-.5.5-.5.5-.4.6-.4.6-.4.5-.2.4-.4.6-.3.8-.2.4-.3 1-.1.4-.2.9-.2.9 0 .4-.1 1-.1.8 0 1 0 .8.1 1 0 .8.1 1 0 .4.1.9.1.9.2.9.1.5.1.8.2 1 .1.4.3.9.1.6.3.7.2.5.4.9.2.4.3.7.3.7.3.4.3.6.5.7.4.5.3.5.3.5.4.4.4.4.4.5.5.5.4.4.5.4.6.5.5.5.7.4.4.3.4.3.6.3.8.4.4.3.6.2.8.4.4.1 1 .3.4.2.9.2.6.2.7.1 1 .2.8.1.5 0 .9.1.9 0 .9.1.9-.1.9 0 .8-.1z" fill="#dddcdc" fill-rule="evenodd"/><path d="M330.7,306.9l.4-.5.4-.4.4-.8.2-.6.3-.4.4-.8.3-.6.2-.4.4-.8.2-.6.3-.4.4-.9.2-.5.2-.5.4-.8.2-.5.4-.8.2-.5.2-.5.4-.8.2-.5.3-.7.3-.6.2-.5.3-.9.2-.4.3-.9.2-.5.3-.8.2-.6.3-.8.1-.5.3-.9.1-.4.2-1 .1-.4.2-.9.2-.9.1-.6.2-.8.3-.7.2-.6.2-.5.4-.8.2-.5.3-.6.4-.7.2-.5.3-.7.3-.6.3-.5.3-.7.3-.6.2-.5.4-.9.2-.4.2-.7.3-.7.2-.4.4-1 .1-.4.4-.9.2-.5.2-.7.2-.6.3-.7.2-.6.3-.7.2-.7.2-.7.2-.7.2-.6.3-.7.2-.7.2-.6.3-.9.1-.5.3-.9.1-.5.3-.8.1-.5.3-.9.1-.4.3-1 .2-.6.1-.7.3-.9.1-.4.3-1 .1-.4.3-.9.1-.5.2-.8.3-.8.1-.6.3-.9.1-.5.3-.8.1-.5.3-.9.1-.4.3-1 .2-.6.1-.7.3-.8.1-.5.3-1 .1-.4.3-.9.1-.5.2-.8.3-.8.1-.6.2-.9.2-.5.1-.8.2-1 .1-.4-.5 0-.2.4-.3.5-.4.7-.3.6-.2.5-.4.9-.2.4-.2.6-.4.8-.2.4-.4.9-.1.5-.3.6-.3.8-.2.4-.4.9-.1.5-.4.7-.2.6-.2.5-.3.8-.2.5-.4.9-.2.4-.3.7-.2.7-.2.4-.4 1-.2.4-.3.6-.3.8-.2.4-.4.9-.2.5-.2.5-.4.8-.2.5-.4.8-.1.5-.3.6-.3.7-.2.5-.3.9-.2.4-.4.9-.1.5-.3.7-.3.7-.1.4-.4.9-.1.5-.4.8-.1.5-.3.9-.2.4-.3 1-.2.4-.3.9-.1.5-.3.8-.2.5-.2.9-.2.4-.3 1-.1.4-.2.9-.2.6-.2.7-.2 1-.1.4-.2.9-.2.8-.1.5-.2 1-.1.4-.3.9-.2.9-.1.4-.4.9-.1.5-.3.5-.4.8-.3.5-.2.4-.5.9-.2.5-.2.5-.4.9-.1.4-.4.9-.1.5-.4.8-.1.5-.3.8-.2.5-.2 1-.2.4-.2.9-.1.5-.3.8-.2.8-.1.6-.3.9-.1.5-.2.8-.1.5-.3.9-.2.9-.1.5-.2.8-.2.7-.1.7-.2.9-.1.5-.2.8-.1 1-.1.5-.1.8.2 0zM393.4,287.1l.6-.2.6-.3.8-.4.4-.3.4-.3.5-.4.5-.5.4-.6.4-.6.3-.5.2-.4.4-.9.2-.5.3-.8.2-.5.2-.9.1-.4.2-1 .1-.8.1-.5.1-.9.2-.9.1-.9.1-.4.1-1 .1-.8.2-.9.1-.5.1-.9.2-.9 0-.7.1-.7 0-.8 0-1-.1-.4-.1-.9-.2-.9-.2-.4-.3-.9-.3-.5-.3-.4-.4-.5-.4-.6-.4-.4-.5-.4-.5-.4-.6-.5-.7-.3-.5-.2-.7-.3-.6-.2-.9-.1-.9 0-.7.3-.6.3-.5.4-.5.4-.4.4-.4.4-.5.3-.9.4-.4.2-1-.1-.4-.1-.6-.4-.6-.4-.5-.5-.5-.5-.5-.4-.5-.3-.4-.3-.9-.2-.9 0-.9.1-.9.2-.4.2-.8.3-.6.3-.4.3-.5.3-.6.5-.5.4-.5.4-.4.5-.3.5-.4.6-.3.7-.2.5-.3.8-.1.6-.1.8 0 .9 0 .9.1.7.1.7.2.8.2.5.2.9.2.5.3.9.2.4.3.9.2.5.3.8.1.5.3.9.2.4.3 1 .2.4.3.7.3.7.2.4.4.8.3.6.3.4.3.4.5.6.4.6.4.5.5.5.5.4.4.4.4.3.5.4.6.4.7.4.5.3.5.2.8.4.5.1.9.3.4.1 1 .2.8.1 1 .1.8 0 1-.1.8-.1.8-.2z" fill="#f3c8b2" fill-rule="evenodd"/><path d="M341.1,277.6l.5-.4.3-.4.4-.5.4-.7.4-.6.2-.5.3-.5.4-.8.3-.5.2-.5.4-.8.2-.5.3-.6.3-.7.2-.5.3-.9.2-.4.4-.9.1-.5.3-.7.2-.7.2-.5.3-.8.2-.5.3-.8.2-.6.2-.8.2-.5.2-.9.2-.6.3-.7.2-.8.2-.5.2-1 .2-.4.2-.9.1-.5.3-.8.1-.6.2-.8.3-.9.1-.5.2-.8.2-.6.1-.8.2-.9.1-.5.2-.8.2-1 .1-.4.1-.9.1-.9-.3 0-.4.5-.4.8-.3.5-.2.4-.5.9-.2.5-.2.4-.4.9-.3.5-.2.5-.4.9-.2.4-.3.6-.3.8-.2.4-.4.8-.2.6-.3.5-.3.8-.2.5-.3.8-.2.5-.3.7-.3.6-.2.5-.3.9-.2.4-.3 1-.2.4-.3.9-.2.5-.3.7-.1.6-.3.7-.2.6-.2.8-.2.6-.3.9-.1.5-.3.8-.1.5-.3.9-.1.4-.2 1-.2.8-.1.5-.1.9-.2.9-.1.7-.1.6 0 1 0 .8.3 0zM332.1,303.8l.3-.5.4-.7.3-.6.3-.5.3-.6.4-.7.2-.5.3-.7.3-.6.2-.5.4-.9.2-.4.3-.6.3-.8.2-.4.3-.9.3-.5.2-.5.4-.9.1-.4.4-.9.1-.5.3-.8.2-.5.3-.9.1-.4.2-1 .2-.4.1-.9.2-.9.1-.9 0-.5 0-.4-.3-.9-.6 0-.5.4-.4.5-.3.4-.3.5-.3.5-.4.8-.2.5-.3.6-.3.7-.2.5-.4.9-.1.4-.4.9-.1.5-.3.9-.1.5-.3.8-.1.5-.2.9-.2.6-.2.8-.3.8-.1.5-.2.9-.1.4-.2 1-.2.7-.2.6-.2.9-.1.5-.1.9-.2.8-.1 1 .6 0z" fill="#f6a586" fill-rule="evenodd"/><path d="M343.4,271.8l.4-.4.3-.5.4-.7.3-.6.2-.5.4-.8.2-.5.3-.5.3-.9.2-.4.4-.9.1-.5.3-.8.2-.6.2-.8.2-.5.3-.8.1-.5.3-1 .2-.4.2-.9.1-.5.3-.8.1-.7.2-.7.2-.9.1-.5.1-.8.1-1-.2-.4-.5.4-.2.5-.3.5-.3.6-.4.7-.2.5-.4.7-.2.6-.2.5-.4.8-.2.5-.3.7-.2.6-.3.5-.3.9-.1.4-.4 1-.1.4-.4.9-.1.5-.3.8-.1.5-.3.9-.1.4-.3 1-.1.7-.2.6-.2.9-.1.9 0 .5 0 .4.7 0zM333,301l.3-.4.4-.6.3-.8.3-.4.3-.7.3-.7.2-.4.4-.8.2-.6.3-.4.3-.9.2-.5.3-.7.3-.6.2-.5.4-.8.1-.5.3-.9.2-.4.2-1 .1-.4.2-.9.2-.9.1-.6 0-.8-.1-.4-.4-.5-.4.2-.4.5-.5.6-.3.6-.2.4-.4.7-.3.7-.2.4-.3.9-.2.5-.3.8-.2.5-.2.9-.2.4-.2 1-.1.5-.2.8-.3.9-.1.4-.2 1-.2.4-.2.9-.2.9-.1.4-.1 1 0 .8.4 0z" fill="#e7745b" fill-rule="evenodd"/><path d="M334.2,297.4l.4-.6.3-.7.3-.5.3-.6.3-.7.3-.5.3-.7.3-.6.2-.5.3-.8.2-.5.2-.9.2-.4.1-1 .2-.8-.2-1-.4 0-.4.5-.3.5-.4.6-.3.7-.2.5-.4.8-.1.5-.3.9-.1.4-.3 1-.1.5-.2.8-.2.9-.1.4-.1 1 .1.8.1 0z" fill="#c83836" fill-rule="evenodd"/><path d="M297.2 298.1h.9M278.5 265.0h.9M279.5 307.0h.9M282.7 263.6h.9M278.4 265.2h.9M300.6 290.0h.9M289.8 303.2h.9M298.3 292.1h.9M295.6 300.5h.9M279.9 305.7h.9M296.3 282.7h.9M295.5 280.3h.9M296.8 297.9h.9M280.1 309.0h.9M297.2 283.8h.9M291.9 264.7h.9M277.0 268.6h.9M292.5 268.1h.9M289.4 262.7h.9M278.9 267.7h.9M283.0 259.6h.9M297.5 296.1h.9M294.7 293.4h.9M299.6 297.1h.9M290.1 268.6h.9M299.4 274.6h.9M284.4 264.5h.9M276.7 268.4h.9M285.1 264.3h.9M295.2 274.0h.9M295.8 288.4h.9M296.9 282.7h.9M285.8 263.6h.9M298.8 271.2h.9M287.9 305.8h.9M296.2 299.9h.9M296.1 291.3h.9M278.0 301.8h.9M292.4 260.3h.9M289.2 303.6h.9M294.2 272.9h.9M280.9 304.0h.9M284.6 264.0h.9M281.9 265.6h.9M281.9 308.0h.9M292.1 300.7h.9M288.0 265.1h.9M293.3 304.2h.9M287.5 265.7h.9M294.0 269.3h.9M278.2 304.6h.9M299.0 287.9h.9M298.1 301.2h.9M287.8 305.0h.9M287.1 306.7h.9M298.5 286.2h.9M297.5 303.5h.9M295.6 282.6h.9M293.5 270.7h.9M289.2 265.5h.9M282.9 262.7h.9M292.4 272.2h.9M295.3 273.0h.9M280.0 265.0h.9M285.4 309.4h.9M296.4 290.8h.9M281.7 307.5h.9M298.0 273.3h.9M299.2 297.1h.9M294.9 304.1h.9M296.3 267.6h.9M275.4 298.6h.9M297.4 276.6h.9M295.7 278.3h.9M296.5 287.1h.9M292.1 300.6h.9M296.8 297.4h.9M296.3 278.6h.9M296.2 289.6h.9M281.8 305.4h.9M290.5 308.9h.9M291.0 265.8h.9M285.8 307.7h.9M296.5 289.6h.9M278.9 301.8h.9M294.9 296.3h.9M283.6 308.1h.9M297.3 286.0h.9M297.6 274.6h.9M277.8 268.6h.9M287.3 304.5h.9M293.6 309.2h.9M279.9 265.3h.9M294.3 299.1h.9M279.1 302.5h.9M298.1 285.9h.9M300.0 288.2h.9M277.6 301.2h.9M277.3 267.1h.9M291.2 266.3h.9M288.2 264.6h.9M295.6 275.9h.9M295.9 292.7h.9M284.7 265.1h.9M297.4 278.7h.9M292.8 298.8h.9M275.8 303.2h.9M291.7 306.2h.9M295.0 276.0h.9M289.0 304.5h.9M297.6 300.7h.9M295.7 268.4h.9M294.2 302.6h.9M294.9 292.2h.9M281.1 307.6h.9M278.3 304.1h.9M283.3 262.7h.9M295.8 278.5h.9M294.5 295.5h.9M293.7 300.8h.9M294.9 295.9h.9M283.3 305.3h.9M277.2 303.4h.9M297.2 295.3h.9M287.6 266.7h.9M287.6 307.0h.9M286.6 266.4h.9M281.0 264.7h.9M294.2 297.5h.9M292.2 301.2h.9M291.7 269.3h.9M299.4 277.3h.9M294.7 264.1h.9M281.4 310.0h.9M297.0 289.4h.9M298.1 288.0h.9M286.1 305.1h.9M295.4 267.6h.9M297.8 285.8h.9M295.7 264.2h.9M284.6 266.1h.9M280.7 304.4h.9M283.4 307.4h.9M279.6 264.1h.9M292.7 269.6h.9M294.3 298.3h.9M292.5 269.1h.9M280.1 262.4h.9M275.7 300.7h.9M287.4 264.6h.9M297.5 272.9h.9M279.9 266.0h.9M287.8 264.0h.9M298.0 278.0h.9M279.2 302.2h.9M287.0 264.1h.9M285.7 263.5h.9M278.0 263.6h.9M286.0 305.8h.9M275.2 303.0h.9M281.2 267.0h.9M298.2 290.5h.9M285.9 308.7h.9M283.6 308.2h.9M282.7 263.2h.9M279.6 302.8h.9M289.9 260.4h.9M294.0 273.3h.9M283.1 264.6h.9M289.1 304.3h.9M289.2 311.7h.9M276.8 300.2h.9M281.9 304.3h.9M295.1 276.1h.9M284.8 306.4h.9M275.8 300.2h.9M291.3 270.0h.9M301.2 283.4h.9M296.9 280.1h.9M295.4 276.7h.9M296.0 278.9h.9M291.0 268.7h.9M297.6 282.3h.9M279.6 303.3h.9M276.9 303.8h.9M281.2 304.5h.9M286.8 304.7h.9M294.2 302.5h.9M294.4 295.3h.9M289.2 264.5h.9M296.2 280.6h.9M283.4 266.1h.9M294.3 298.8h.9M294.5 264.2h.9M293.7 306.8h.9M296.7 304.8h.9M299.9 278.3h.9M279.4 302.5h.9M296.4 300.2h.9M296.1 274.8h.9M287.9 264.1h.9M291.0 302.5h.9M297.0 288.5h.9M290.8 301.9h.9M293.7 271.0h.9M282.7 304.2h.9M278.1 269.0h.9M295.4 293.0h.9M285.1 305.6h.9M296.2 280.2h.9M281.8 263.1h.9M298.0 285.2h.9M285.3 261.4h.9M294.4 299.9h.9M278.8 266.9h.9M293.5 301.1h.9M296.5 294.5h.9M288.3 258.8h.9M286.6 261.9h.9M294.6 302.3h.9M298.5 277.9h.9M297.8 278.5h.9M278.6 262.3h.9M286.3 309.4h.9M290.1 265.8h.9M280.9 262.8h.9M290.4 308.6h.9M282.2 264.6h.9M277.2 302.5h.9M295.8 294.9h.9M283.7 310.3h.9M281.4 266.7h.9M278.9 306.7h.9M287.3 266.0h.9M297.6 271.1h.9M299.5 287.5h.9M287.6 263.3h.9M290.2 265.7h.9M291.3 264.2h.9M281.0 304.0h.9M287.0 307.0h.9M290.0 268.5h.9M283.7 305.2h.9M283.0 304.5h.9M291.4 300.8h.9M295.5 293.7h.9M295.5 270.9h.9M298.7 279.0h.9M294.0 300.3h.9M296.0 291.2h.9M295.9 299.4h.9M282.4 265.5h.9M296.2 294.6h.9M282.8 306.3h.9M281.9 309.5h.9M276.7 302.5h.9M301.8 281.8h.9M292.9 267.2h.9M292.7 268.0h.9M298.7 298.9h.9M287.9 262.1h.9M294.6 273.1h.9M292.0 264.5h.9M283.2 261.5h.9M292.3 302.5h.9M289.8 307.4h.9M295.3 270.6h.9M294.4 295.4h.9M293.9 298.3h.9M288.4 305.2h.9M277.7 301.8h.9M290.6 304.2h.9M296.4 304.2h.9M279.3 308.9h.9M277.1 267.9h.9M290.8 267.6h.9M290.4 266.5h.9M288.8 307.2h.9M283.8 263.5h.9M277.1 302.6h.9M284.5 304.0h.9M285.1 261.2h.9M293.9 303.2h.9M278.9 262.3h.9M300.1 284.6h.9M300.6 282.2h.9M286.2 263.6h.9M289.8 265.4h.9M277.7 262.4h.9M294.8 274.1h.9M284.2 306.2h.9M286.7 305.6h.9M287.3 261.7h.9M288.5 266.7h.9M285.7 267.2h.9M283.7 261.5h.9M276.1 307.0h.9M289.8 261.4h.9M299.6 289.4h.9M300.3 282.4h.9M279.8 304.8h.9M296.4 289.9h.9M296.7 275.6h.9M295.6 294.9h.9M282.5 306.4h.9M275.3 300.7h.9M296.6 278.5h.9M285.2 309.8h.9M282.7 263.5h.9M290.0 267.8h.9M294.6 272.5h.9M296.9 276.2h.9M295.6 280.3h.9M292.9 265.1h.9M298.0 285.9h.9M286.5 257.5h.9M289.8 304.2h.9M286.2 307.1h.9M284.2 263.1h.9M282.2 264.1h.9M301.0 286.1h.9M287.6 264.7h.9M276.0 269.0h.9M292.4 271.4h.9M296.0 300.0h.9M275.1 299.0h.9M284.3 305.8h.9M278.3 265.1h.9M296.1 271.5h.9M297.0 286.6h.9M277.1 307.0h.9M294.1 303.7h.9M298.2 299.7h.9M290.6 266.1h.9M276.1 303.4h.9M277.1 305.6h.9M276.3 303.3h.9M295.4 294.1h.9M287.7 307.7h.9M280.3 266.1h.9M293.2 268.0h.9M291.8 270.0h.9M293.1 299.7h.9M280.3 267.8h.9M292.4 303.6h.9M275.7 301.4h.9M286.0 263.6h.9M298.8 282.4h.9M294.8 296.4h.9M292.8 271.0h.9M294.6 296.5h.9M283.4 305.4h.9M281.9 264.7h.9M280.1 268.2h.9M283.8 266.8h.9M285.3 305.3h.9M277.1 305.1h.9M277.5 310.1h.9M297.3 278.9h.9M293.9 305.2h.9M278.7 306.1h.9M298.0 281.6h.9M297.2 273.7h.9M297.9 297.5h.9M295.7 277.8h.9M285.0 305.7h.9M296.1 286.2h.9M295.3 293.7h.9M288.8 265.9h.9M278.7 305.6h.9M296.2 298.6h.9M299.8 281.8h.9M295.6 301.1h.9M295.4 292.7h.9M285.0 265.6h.9M291.5 262.6h.9M278.3 302.0h.9M278.8 266.6h.9M299.6 298.4h.9M284.4 266.5h.9M292.1 265.9h.9M291.8 269.6h.9M292.3 300.1h.9M299.1 300.4h.9M275.0 301.0h.9M281.4 266.9h.9M275.0 300.6h.9M281.6 310.2h.9M277.3 265.4h.9M294.1 272.4h.9M285.2 305.0h.9M281.0 306.7h.9M286.1 305.4h.9M283.8 306.2h.9M289.9 305.9h.9M292.2 265.6h.9M295.8 294.8h.9M290.3 268.9h.9M288.6 264.3h.9M281.2 264.4h.9M294.5 273.9h.9M279.8 266.5h.9M277.0 268.7h.9M289.5 303.7h.9M280.5 267.3h.9M295.1 278.3h.9M295.6 299.8h.9M296.6 281.6h.9M285.0 304.9h.9M285.7 305.5h.9M290.8 267.8h.9M277.9 268.0h.9M284.2 266.5h.9M294.1 297.6h.9M295.5 269.1h.9M289.4 305.9h.9M296.1 285.3h.9M285.5 304.3h.9M293.8 299.2h.9M287.7 307.3h.9M284.2 266.2h.9M292.1 265.9h.9M294.7 304.3h.9M295.7 268.6h.9M300.1 278.4h.9M293.2 302.4h.9M297.6 286.1h.9M276.5 268.2h.9M286.8 305.4h.9M296.7 281.0h.9M293.1 307.1h.9M282.4 305.9h.9M283.8 263.1h.9M294.7 274.9h.9M289.1 307.5h.9M298.9 297.6h.9M293.5 303.3h.9M296.5 298.1h.9M275.1 298.2h.9M282.3 265.5h.9M291.5 301.8h.9M277.9 267.0h.9M291.8 261.4h.9M297.7 283.0h.9M300.9 284.2h.9M292.9 269.7h.9M286.3 305.7h.9M287.5 304.4h.9M291.7 261.6h.9M294.6 298.3h.9M285.6 264.0h.9M286.3 308.9h.9M295.9 290.8h.9M288.3 304.1h.9M297.1 278.2h.9M300.4 278.2h.9M291.6 266.8h.9M295.9 296.2h.9M282.5 262.6h.9M283.7 304.9h.9M283.1 305.6h.9M296.6 297.5h.9M286.1 305.6h.9M297.1 295.3h.9M296.2 275.6h.9M297.0 302.3h.9M295.5 296.1h.9M279.3 268.0h.9M278.0 268.9h.9M295.7 291.3h.9M276.1 302.9h.9M280.4 308.0h.9M295.2 303.8h.9M279.5 308.8h.9M280.9 311.2h.9M297.1 292.0h.9M277.8 303.0h.9M289.0 261.3h.9M297.1 290.3h.9M297.7 284.5h.9M276.2 302.5h.9M298.5 298.7h.9M293.2 300.9h.9M291.0 270.3h.9M297.1 281.5h.9M280.5 304.6h.9M286.0 263.2h.9M283.6 263.1h.9M290.0 258.7h.9M296.2 288.6h.9M294.3 294.5h.9M286.4 305.9h.9M291.4 302.0h.9M289.3 261.4h.9M301.5 285.6h.9M296.1 296.2h.9M276.6 304.4h.9M292.5 299.5h.9M295.9 294.6h.9M293.4 297.2h.9M296.4 270.7h.9M297.1 281.4h.9M290.3 262.9h.9M281.3 306.4h.9M285.2 311.2h.9M276.7 302.6h.9M296.3 279.3h.9M275.7 302.7h.9M299.5 280.0h.9M280.0 262.1h.9M279.5 303.6h.9M294.6 269.8h.9M296.9 276.7h.9M296.0 300.0h.9M296.4 283.4h.9M279.2 264.8h.9M281.2 304.0h.9M291.4 302.6h.9M283.0 264.2h.9M296.8 265.6h.9M295.6 278.0h.9M284.6 261.4h.9M299.2 293.4h.9M289.3 265.7h.9M278.5 303.1h.9M282.8 308.2h.9M277.0 269.2h.9M288.5 308.9h.9M291.3 270.0h.9M278.9 304.0h.9M296.9 288.9h.9M286.9 264.2h.9M294.4 301.4h.9M275.8 299.8h.9M282.1 305.4h.9M299.0 277.4h.9M295.8 273.4h.9M290.2 303.8h.9M287.6 264.5h.9M279.7 261.9h.9M292.6 265.6h.9M300.6 285.8h.9M275.4 302.4h.9M279.9 307.8h.9M286.7 307.6h.9M298.5 285.0h.9M287.4 306.1h.9M283.4 304.3h.9M295.7 274.4h.9M298.8 290.1h.9M293.2 265.8h.9M292.4 300.2h.9M284.2 264.0h.9M277.4 269.3h.9M284.6 308.7h.9M276.0 299.2h.9M296.1 288.0h.9M288.9 303.1h.9M289.9 261.0h.9M296.5 285.4h.9M285.2 305.8h.9M294.8 277.7h.9M280.3 264.9h.9M284.1 265.2h.9M294.4 302.0h.9M297.7 271.1h.9M280.7 265.9h.9M287.1 258.6h.9M284.2 307.4h.9M294.4 272.7h.9M296.9 299.2h.9M299.3 294.0h.9M285.3 305.0h.9M279.8 303.1h.9M299.0 297.1h.9M296.8 275.3h.9M296.1 301.2h.9M290.8 261.4h.9M288.5 260.5h.9M296.6 293.2h.9M299.0 280.1h.9M278.1 308.7h.9M280.6 267.5h.9M275.0 303.6h.9M281.5 308.2h.9M295.4 273.7h.9M277.1 303.0h.9M280.7 303.5h.9M294.1 302.9h.9M297.8 281.1h.9M282.1 304.4h.9M297.6 286.7h.9M291.3 267.8h.9M287.8 265.3h.9M296.4 278.0h.9M289.8 264.9h.9M282.5 266.2h.9M285.9 305.4h.9M296.3 278.4h.9M281.3 308.9h.9" stroke="#f6da1c" stroke-width=".9" opacity="0.4"/><path d="M267.8 254.3h.9M270.7 247.8h.9M256.9 242.4h.9M264.8 248.3h.9M258.0 247.0h.9M248.8 248.3h.9M266.7 306.5h.9M272.6 298.4h.9M272.7 260.0h.9M254.7 310.9h.9M246.2 301.7h.9M260.9 242.2h.9M274.1 266.9h.9M274.7 305.6h.9M272.8 258.5h.9M251.1 247.1h.9M250.6 308.5h.9M267.2 252.9h.9M275.9 269.4h.9M262.4 237.6h.9M261.3 310.2h.9M245.2 299.6h.9M270.2 242.9h.9M260.2 242.2h.9M261.7 308.6h.9M260.8 237.0h.9M259.3 244.0h.9M249.2 312.6h.9M255.1 314.0h.9M261.7 309.4h.9M268.8 255.6h.9M269.9 254.2h.9M274.0 306.0h.9M271.4 246.1h.9M274.8 262.0h.9M274.5 258.5h.9M271.0 303.6h.9M250.0 316.3h.9M248.4 244.4h.9M250.3 237.8h.9M255.7 315.4h.9M260.1 310.5h.9M275.0 303.3h.9M252.7 245.4h.9M246.9 308.2h.9M271.4 260.8h.9M247.8 246.7h.9M245.7 299.3h.9M246.1 241.7h.9M270.9 258.0h.9M270.2 303.0h.9M245.4 245.4h.9M246.9 314.7h.9M249.9 312.1h.9M249.6 303.8h.9M265.4 250.2h.9M274.6 265.6h.9M276.8 266.0h.9M250.3 305.1h.9M271.1 304.9h.9M260.7 309.5h.9M248.2 239.8h.9M243.1 309.3h.9M272.4 301.5h.9M273.9 309.9h.9M275.3 311.6h.9M243.6 310.0h.9M271.2 299.9h.9M269.8 306.8h.9M268.0 249.1h.9M267.9 307.7h.9M275.0 255.2h.9M262.5 307.9h.9M274.7 265.9h.9M266.1 313.6h.9M267.1 309.1h.9M251.2 240.4h.9M261.1 246.0h.9M260.5 308.6h.9M254.1 314.0h.9M259.1 244.0h.9M260.1 245.4h.9M260.1 239.2h.9M278.5 258.7h.9M250.9 246.6h.9M248.0 305.8h.9M269.7 247.0h.9M265.5 240.7h.9M262.3 310.0h.9M246.1 307.1h.9M256.1 244.3h.9M248.3 245.0h.9M273.8 264.5h.9M253.7 308.0h.9M263.0 248.8h.9M265.3 307.6h.9M268.0 305.5h.9M269.6 302.1h.9M270.2 305.5h.9M258.2 309.5h.9M243.8 300.3h.9M274.2 301.3h.9M269.1 249.7h.9M245.6 305.1h.9M271.5 303.8h.9M273.7 256.7h.9M253.4 311.2h.9M271.4 252.6h.9M256.0 245.7h.9M248.3 247.6h.9M274.6 252.6h.9M254.4 308.9h.9M245.9 249.8h.9M253.2 310.4h.9M266.2 247.9h.9M249.4 242.7h.9M267.4 307.5h.9M274.3 310.8h.9M270.0 302.8h.9M265.1 248.3h.9M273.5 261.8h.9M262.1 315.9h.9M256.5 308.4h.9M256.9 245.7h.9M269.2 254.5h.9M272.0 309.0h.9M274.8 254.0h.9M270.2 303.9h.9M275.4 266.4h.9M251.0 305.1h.9M270.8 309.5h.9M244.6 300.4h.9M261.9 308.6h.9M245.1 298.8h.9M267.8 251.2h.9M262.1 310.3h.9M252.0 240.4h.9M271.3 300.9h.9M265.0 248.4h.9M255.1 245.7h.9M274.5 262.5h.9M247.2 303.2h.9M272.4 303.2h.9M264.7 238.3h.9M261.1 308.8h.9M263.7 250.2h.9M267.6 252.2h.9M252.1 244.8h.9M265.8 312.9h.9M248.7 242.2h.9M247.7 302.4h.9M272.6 297.4h.9M257.1 311.6h.9M262.6 248.3h.9M270.3 307.3h.9M273.5 263.7h.9M274.1 250.0h.9M243.7 308.8h.9M258.9 311.8h.9M245.6 303.1h.9M268.4 255.3h.9M271.1 304.6h.9M246.6 302.1h.9M254.9 314.6h.9M275.4 268.8h.9M256.3 239.3h.9M249.5 244.3h.9M258.9 247.1h.9M254.8 246.1h.9M265.3 315.4h.9M264.9 244.1h.9M273.5 298.2h.9M268.2 243.7h.9M272.1 258.4h.9M260.5 315.0h.9M274.4 299.0h.9M265.8 307.6h.9M270.4 257.2h.9M264.7 237.5h.9M248.7 307.6h.9M252.6 241.1h.9M252.5 308.3h.9M275.1 266.3h.9M251.8 246.7h.9M253.8 244.5h.9M258.1 243.7h.9M246.2 303.5h.9M262.0 310.0h.9M254.7 241.6h.9M272.4 306.5h.9M249.7 315.1h.9M267.5 250.3h.9M269.8 249.9h.9M247.5 303.7h.9M260.4 317.3h.9M275.8 310.7h.9M263.5 319.6h.9M245.6 241.6h.9M258.3 245.3h.9M264.4 245.6h.9M273.2 259.9h.9M260.3 308.6h.9M258.5 313.1h.9M264.2 248.0h.9M265.5 306.7h.9M273.9 305.0h.9M255.8 313.0h.9M248.6 303.1h.9M277.5 264.6h.9M258.9 312.2h.9M268.2 309.5h.9M249.2 311.8h.9M268.9 244.0h.9M267.5 304.3h.9M253.3 239.1h.9M267.5 253.8h.9M244.3 301.5h.9M275.7 256.8h.9M273.0 247.2h.9M262.4 246.6h.9M271.1 303.5h.9M253.9 240.9h.9M257.2 312.2h.9M262.7 311.3h.9M248.1 305.3h.9M275.4 306.4h.9M250.0 307.5h.9M266.6 307.6h.9M267.3 306.2h.9M247.4 305.3h.9M261.7 247.9h.9M259.3 246.4h.9M276.0 269.0h.9M265.8 245.4h.9M268.1 252.6h.9M244.9 246.0h.9M258.8 242.4h.9M270.6 300.6h.9M261.3 242.8h.9M252.5 246.0h.9M255.9 311.7h.9M263.9 246.4h.9M255.8 309.8h.9M254.8 238.1h.9M261.4 310.4h.9M266.2 305.9h.9M263.0 237.3h.9M254.6 312.9h.9M262.2 309.7h.9M251.7 311.9h.9M272.9 260.8h.9M252.9 313.0h.9M249.5 246.5h.9M274.6 303.5h.9M262.4 317.4h.9M254.3 319.3h.9M274.4 257.2h.9M269.6 303.1h.9M247.6 302.5h.9M256.8 312.4h.9M257.8 241.2h.9M247.6 309.0h.9M271.5 256.8h.9M265.1 312.9h.9M245.6 304.3h.9M267.5 306.1h.9M247.8 301.8h.9M259.6 247.0h.9M253.5 309.5h.9M272.5 306.1h.9M258.7 238.7h.9M272.3 259.3h.9M253.5 240.3h.9M261.4 243.0h.9M272.1 245.3h.9M247.0 250.3h.9M271.4 255.5h.9M246.9 309.9h.9M264.5 312.7h.9M271.9 304.5h.9M244.6 300.1h.9M264.2 244.8h.9M245.4 300.2h.9M273.3 300.7h.9M269.8 256.0h.9M256.0 310.4h.9M255.9 243.6h.9M267.4 249.0h.9M249.1 241.7h.9M271.2 306.2h.9M255.6 314.6h.9M272.5 305.8h.9M246.9 249.1h.9M273.5 249.9h.9M271.8 249.6h.9M254.7 312.4h.9M249.1 307.9h.9M250.1 304.4h.9M269.6 302.6h.9M245.0 303.6h.9M260.7 312.9h.9M254.4 233.9h.9M247.2 243.1h.9M273.1 297.9h.9M244.1 304.5h.9M269.6 246.5h.9M268.2 247.5h.9M246.7 304.7h.9M274.5 268.6h.9M260.6 246.4h.9M246.4 248.7h.9M256.0 315.2h.9M262.3 247.3h.9M267.3 253.3h.9M263.0 245.8h.9M273.0 302.5h.9M265.2 307.2h.9M267.5 253.3h.9M261.8 248.2h.9M260.9 238.7h.9M255.3 308.3h.9M272.0 255.9h.9M261.2 314.3h.9M274.8 258.2h.9M251.6 246.1h.9M264.2 312.2h.9M262.3 247.9h.9M243.7 304.8h.9M256.5 246.3h.9M262.6 313.5h.9M245.2 299.5h.9M255.8 313.3h.9M273.9 300.0h.9M249.6 304.2h.9M269.8 249.6h.9M251.6 305.2h.9M274.3 266.1h.9M268.8 254.2h.9M275.2 252.2h.9M271.4 248.2h.9M259.8 246.3h.9M266.7 249.7h.9M274.3 262.8h.9M254.3 307.4h.9M258.6 245.6h.9M248.0 306.5h.9M267.4 306.1h.9M247.6 304.2h.9M248.4 312.8h.9M247.6 309.4h.9M246.1 304.9h.9M246.4 247.7h.9M253.1 241.2h.9M249.7 241.5h.9M265.0 308.6h.9M263.3 239.8h.9M273.2 257.4h.9M265.7 241.1h.9M261.0 235.6h.9M249.9 313.2h.9M271.1 259.5h.9M256.4 314.8h.9M252.7 243.3h.9M270.4 304.5h.9M255.9 246.4h.9M250.3 242.1h.9M272.9 302.6h.9M263.7 307.8h.9M270.8 314.0h.9M270.3 257.4h.9M274.5 266.6h.9M261.5 238.0h.9M246.0 300.3h.9M276.7 262.8h.9M254.7 312.5h.9M256.8 239.8h.9M259.5 243.7h.9M247.0 303.4h.9M247.9 305.1h.9M246.1 300.5h.9M250.4 308.0h.9M275.7 261.4h.9M259.6 311.3h.9M273.7 306.2h.9M274.7 268.5h.9M248.4 315.4h.9M263.9 245.7h.9M253.9 238.9h.9M270.0 303.1h.9M271.4 306.7h.9M272.8 305.9h.9M276.8 265.9h.9M259.0 309.0h.9M269.9 314.1h.9M265.8 250.4h.9M272.3 259.0h.9M268.3 248.9h.9M260.2 312.0h.9M259.9 314.4h.9M264.9 310.8h.9M264.8 310.2h.9M249.3 303.3h.9M250.5 305.8h.9M255.8 315.7h.9M274.2 261.7h.9M247.0 250.0h.9M252.5 310.2h.9M271.1 258.8h.9M273.9 257.2h.9M248.0 302.2h.9M247.9 246.7h.9M270.0 309.2h.9M248.5 305.5h.9M273.1 298.8h.9M277.1 264.1h.9M273.4 261.1h.9M249.9 308.4h.9M255.8 241.4h.9M250.7 246.1h.9M248.6 307.4h.9M269.8 309.9h.9M273.5 308.1h.9M276.1 257.2h.9M251.4 247.0h.9M274.2 308.0h.9M261.4 247.8h.9M251.5 246.6h.9M273.5 308.3h.9M258.6 309.2h.9M247.5 242.3h.9M246.9 248.6h.9M272.1 250.5h.9M265.9 313.5h.9M252.6 307.9h.9M252.2 239.5h.9M276.7 263.0h.9M264.7 307.4h.9M247.6 305.6h.9M261.0 308.2h.9M261.7 309.6h.9M273.8 303.8h.9M275.3 268.6h.9M257.2 247.2h.9M255.9 310.3h.9M252.9 238.0h.9M271.9 301.2h.9M267.4 305.2h.9M249.2 310.2h.9M268.8 248.3h.9M268.6 308.9h.9M272.5 301.6h.9M269.7 311.9h.9M262.3 316.1h.9M246.7 248.1h.9M270.5 306.4h.9M273.6 265.7h.9M271.0 259.8h.9M246.5 310.4h.9M253.3 245.1h.9M258.1 246.8h.9M245.9 304.0h.9M256.4 317.1h.9M247.9 237.7h.9M268.0 303.8h.9M260.7 244.7h.9M272.0 259.2h.9M264.6 248.2h.9M279.0 258.4h.9M250.5 243.0h.9M271.9 300.0h.9M254.6 240.8h.9M269.4 255.2h.9M273.2 258.5h.9M275.7 267.5h.9M273.6 266.3h.9M257.7 309.2h.9M252.8 238.8h.9M246.0 310.7h.9M255.0 308.8h.9M269.5 304.2h.9M271.4 259.9h.9M259.5 244.8h.9M268.5 253.6h.9M264.3 311.6h.9M258.0 311.4h.9M258.7 239.4h.9M254.0 308.2h.9M272.3 303.4h.9M263.6 308.9h.9M250.0 245.1h.9M256.2 246.4h.9M264.3 248.7h.9M271.1 256.4h.9M255.1 312.4h.9M263.7 314.4h.9M266.9 309.4h.9M264.1 307.8h.9M245.9 302.4h.9M274.1 265.4h.9M249.6 305.3h.9M267.5 309.8h.9M272.6 298.6h.9M275.4 267.4h.9M268.8 245.9h.9M270.3 250.1h.9M246.0 248.0h.9M275.4 262.7h.9M252.4 240.3h.9M249.4 246.4h.9M274.2 259.0h.9M259.1 245.7h.9M259.2 244.2h.9M270.6 256.4h.9M267.0 305.1h.9M270.4 243.9h.9M253.4 316.4h.9M251.0 244.7h.9M266.4 318.2h.9M258.3 308.8h.9M257.5 245.7h.9M261.4 311.9h.9M258.6 318.8h.9M273.8 264.0h.9M246.6 248.1h.9M256.0 315.1h.9M251.0 245.5h.9M272.5 264.2h.9M256.0 246.1h.9M268.2 308.7h.9M262.0 309.7h.9M273.3 249.3h.9M253.8 238.0h.9M264.2 310.2h.9M273.0 301.9h.9M270.1 305.1h.9M268.4 247.1h.9M270.3 307.2h.9M275.8 264.0h.9M262.2 244.4h.9M265.5 243.3h.9M270.6 306.9h.9M268.8 249.8h.9M271.7 302.2h.9M261.0 308.7h.9M273.6 298.0h.9M268.0 247.0h.9M244.1 301.1h.9M247.0 312.1h.9M269.0 249.2h.9M246.6 303.3h.9M272.9 261.5h.9M268.0 315.0h.9M253.6 246.4h.9M268.3 247.0h.9M253.3 308.9h.9M272.6 259.1h.9M274.3 307.1h.9M263.0 309.1h.9M266.5 239.7h.9M264.6 246.4h.9M275.0 253.3h.9M244.4 305.3h.9M265.2 316.4h.9M264.4 238.6h.9M250.1 308.7h.9M276.6 267.6h.9M257.5 309.8h.9M266.5 317.8h.9M270.5 310.8h.9M273.1 264.5h.9M266.6 250.0h.9M269.8 250.8h.9M263.8 246.6h.9M256.4 246.5h.9M254.7 237.3h.9M262.6 307.6h.9M267.6 248.4h.9M246.0 247.6h.9M252.6 306.7h.9M260.3 244.6h.9M252.2 318.3h.9M246.9 310.2h.9M271.3 307.7h.9M252.7 246.8h.9M247.5 243.8h.9M249.4 310.4h.9M263.0 310.1h.9M264.5 307.7h.9M248.4 311.1h.9M272.5 300.9h.9M246.9 308.0h.9M249.1 236.7h.9M265.6 313.2h.9M263.8 247.9h.9M267.7 250.9h.9M265.6 250.2h.9M251.8 311.1h.9M249.0 308.8h.9M255.0 308.2h.9M272.3 253.6h.9" stroke="#b6f000" stroke-width=".9" opacity="0.4"/><path d="M237.8 300.0h.9M219.1 271.2h.9M241.1 309.7h.9M219.8 275.8h.9M239.0 242.2h.9M219.3 272.8h.9M243.0 303.0h.9M238.7 301.9h.9M239.9 299.4h.9M227.4 293.8h.9M220.0 269.7h.9M220.9 273.9h.9M240.0 242.7h.9M237.2 239.3h.9M219.7 279.9h.9M244.1 248.9h.9M233.9 297.6h.9M222.9 279.3h.9M230.2 302.0h.9M233.7 298.9h.9M224.4 288.5h.9M243.3 243.3h.9M221.9 286.5h.9M231.8 296.0h.9M240.1 304.1h.9M241.1 243.1h.9M239.3 300.3h.9M238.8 303.6h.9M220.9 272.4h.9M223.6 285.3h.9M235.9 301.2h.9M230.0 295.3h.9M221.6 283.2h.9M241.7 243.6h.9M236.4 302.3h.9M220.8 282.6h.9M223.3 283.3h.9M230.0 300.9h.9M240.3 243.6h.9M219.8 275.4h.9M238.1 299.5h.9M232.6 298.5h.9M236.4 302.9h.9M219.9 279.3h.9M239.4 240.8h.9M221.8 277.5h.9M232.8 296.6h.9M225.4 289.9h.9M221.7 286.9h.9M239.5 303.7h.9M228.8 300.0h.9M234.5 299.7h.9M220.7 285.4h.9M218.3 279.7h.9M239.2 234.7h.9M220.1 273.5h.9M222.9 281.2h.9M234.3 306.8h.9M244.0 249.1h.9M238.3 301.4h.9M242.5 242.8h.9M224.2 287.5h.9M222.0 279.7h.9M241.7 243.5h.9M227.5 291.2h.9M240.6 242.9h.9M224.7 290.4h.9M233.2 304.1h.9M241.1 298.5h.9M241.3 243.4h.9M241.1 302.5h.9M231.1 295.5h.9M241.7 245.1h.9M240.2 306.5h.9M221.3 276.2h.9M236.2 238.3h.9M239.6 300.4h.9M235.2 299.2h.9M236.7 303.4h.9M222.4 292.3h.9M237.4 239.9h.9M221.8 276.4h.9M226.3 288.4h.9M218.9 278.8h.9M228.2 298.0h.9M238.1 233.4h.9M228.7 294.9h.9M236.3 299.3h.9M222.0 283.6h.9M223.3 280.6h.9M240.0 236.4h.9M220.5 283.9h.9M238.3 306.8h.9M240.2 300.5h.9M218.2 280.6h.9M237.1 299.2h.9M236.0 304.6h.9M222.5 282.4h.9M238.4 300.0h.9M231.0 298.7h.9M241.6 298.9h.9M235.1 299.6h.9M236.6 299.8h.9M238.1 237.3h.9M230.9 300.3h.9M224.4 287.9h.9M221.3 286.5h.9M220.6 274.5h.9M225.2 290.8h.9M221.9 276.1h.9M241.3 299.6h.9M238.5 300.0h.9M219.7 274.0h.9M242.5 298.3h.9M243.1 302.4h.9M239.8 237.3h.9M245.1 243.9h.9M222.1 279.7h.9M226.2 286.9h.9M244.2 249.3h.9M223.4 280.1h.9M238.7 233.6h.9M239.1 237.9h.9M230.2 301.0h.9M230.7 298.9h.9M234.9 306.0h.9M241.7 246.3h.9M237.5 301.3h.9M236.3 238.5h.9M228.3 294.0h.9M222.0 279.0h.9M228.0 301.0h.9M241.2 308.3h.9M239.5 243.8h.9M228.2 295.0h.9M231.4 299.7h.9M242.3 244.2h.9M219.2 268.7h.9M239.7 243.9h.9M226.9 297.7h.9M235.4 299.3h.9M221.2 277.3h.9M241.1 305.7h.9M218.6 274.4h.9M238.9 240.9h.9M234.4 301.1h.9M220.6 272.9h.9M244.3 247.2h.9M240.3 308.0h.9M239.3 237.9h.9M231.6 300.9h.9M227.3 299.3h.9M224.4 284.4h.9M236.1 238.8h.9M223.8 289.1h.9M244.6 249.3h.9M220.0 279.4h.9M236.8 310.1h.9M222.4 278.6h.9M221.9 278.0h.9M222.9 281.0h.9M228.2 298.7h.9M239.6 300.6h.9M241.9 300.4h.9M233.0 298.1h.9M240.4 238.6h.9M231.7 298.0h.9M233.2 298.0h.9M230.9 297.1h.9M227.4 293.1h.9M243.0 300.2h.9M239.7 235.6h.9M230.9 301.4h.9M237.6 241.4h.9M224.8 289.6h.9M243.8 245.7h.9M223.3 294.3h.9M236.4 238.1h.9M241.5 298.3h.9M239.2 305.5h.9M232.4 297.2h.9M237.0 239.1h.9M240.6 301.7h.9M240.1 236.5h.9M236.3 299.5h.9M236.8 302.5h.9M231.1 296.7h.9M221.9 283.0h.9M225.6 294.7h.9M243.6 298.2h.9M239.8 298.1h.9M227.0 289.0h.9M238.9 232.1h.9M236.8 303.2h.9M218.0 278.2h.9M240.4 301.0h.9M240.7 308.7h.9M232.6 307.4h.9M225.2 286.9h.9M219.6 274.1h.9M222.1 278.4h.9M240.1 304.0h.9M233.4 301.9h.9M241.8 246.3h.9M237.7 298.9h.9M243.4 299.4h.9M221.1 275.6h.9M242.4 302.4h.9M219.0 274.8h.9M234.5 301.7h.9M237.9 235.8h.9M242.8 241.8h.9M242.7 303.4h.9M242.7 300.9h.9M244.3 246.9h.9M239.7 242.2h.9M237.7 240.2h.9M239.7 311.8h.9M243.8 246.0h.9M229.5 294.9h.9M220.9 273.3h.9M241.3 245.3h.9M220.2 281.8h.9M242.8 302.0h.9M228.4 295.6h.9M243.3 237.5h.9M230.6 298.5h.9M223.0 280.2h.9M225.9 291.6h.9M227.0 290.5h.9M242.2 299.0h.9M229.3 292.8h.9M224.3 281.7h.9M230.2 304.5h.9M221.9 279.8h.9M241.4 240.3h.9M240.8 302.7h.9M231.3 295.0h.9M242.0 239.1h.9M236.5 238.7h.9M222.1 283.9h.9M221.9 273.9h.9M229.7 296.6h.9M225.6 288.8h.9M229.4 297.7h.9M242.5 247.7h.9M217.6 284.8h.9M218.9 282.8h.9M230.5 297.2h.9M237.2 300.1h.9M231.8 301.5h.9M225.3 285.0h.9M222.1 292.8h.9M220.9 281.8h.9M242.2 298.5h.9M228.7 294.5h.9M218.4 274.4h.9M228.1 292.4h.9M237.4 240.0h.9M221.6 273.5h.9M222.7 276.8h.9M225.8 294.5h.9M239.4 303.0h.9M226.4 295.7h.9M240.2 241.9h.9M219.8 268.9h.9M239.0 234.8h.9M233.7 303.0h.9M240.2 303.1h.9M231.8 295.8h.9M242.7 297.7h.9M219.1 276.8h.9M236.1 237.6h.9M230.8 297.3h.9M222.4 282.5h.9M236.3 239.6h.9M237.7 234.3h.9M243.9 245.4h.9M220.4 282.2h.9M238.1 234.5h.9M228.0 295.9h.9M235.2 305.6h.9M227.0 300.7h.9M219.3 270.6h.9M242.1 298.2h.9M240.1 244.2h.9M225.2 297.1h.9M226.9 292.5h.9M243.0 246.3h.9M242.0 300.5h.9M241.8 242.4h.9M220.5 288.1h.9M225.8 287.2h.9M240.6 240.1h.9M241.2 301.4h.9M235.0 307.2h.9M235.8 237.8h.9M219.7 269.0h.9M240.8 246.1h.9M242.0 300.5h.9M222.9 283.6h.9M229.4 297.4h.9M225.9 289.8h.9M245.0 239.4h.9M236.3 238.2h.9M238.0 235.1h.9M235.5 301.6h.9M231.1 294.8h.9M223.1 278.2h.9M238.8 299.2h.9M231.2 296.6h.9M239.3 302.8h.9M239.1 302.3h.9M239.7 239.8h.9M230.9 302.6h.9M220.6 271.2h.9M239.2 300.4h.9M232.1 295.7h.9M244.3 246.6h.9M243.2 240.5h.9M235.5 299.0h.9M226.8 291.8h.9M240.0 235.9h.9M229.0 299.0h.9M236.2 239.1h.9M230.9 297.6h.9M225.0 286.2h.9M224.1 291.5h.9M223.3 280.2h.9M222.1 292.4h.9M242.4 245.7h.9M238.5 239.8h.9M229.3 298.0h.9M222.1 284.9h.9M240.4 235.9h.9M233.1 297.7h.9M220.8 277.1h.9M241.0 298.5h.9M241.1 303.6h.9M242.4 247.2h.9M220.6 272.8h.9M242.3 238.8h.9M245.1 241.8h.9M242.1 302.4h.9M225.1 289.7h.9M221.0 269.9h.9M243.1 248.8h.9M217.8 284.2h.9M220.7 280.4h.9M237.2 236.0h.9M242.6 243.6h.9M232.1 299.2h.9M222.6 286.8h.9M241.6 302.9h.9M218.7 283.2h.9M243.0 299.3h.9M238.1 241.9h.9M224.4 286.0h.9M224.0 284.0h.9M240.1 300.2h.9M220.6 271.4h.9M240.8 244.0h.9M230.6 295.8h.9M228.4 292.0h.9M222.9 286.4h.9M224.2 284.7h.9M218.2 270.1h.9M235.5 300.2h.9M237.4 240.3h.9M238.2 240.3h.9M238.7 242.3h.9M225.6 290.5h.9M227.9 293.7h.9M226.9 291.6h.9M232.6 295.9h.9M240.6 238.7h.9M219.5 269.9h.9M221.5 276.8h.9M243.0 237.5h.9M219.3 270.7h.9M227.5 289.0h.9M227.4 298.5h.9M235.2 300.9h.9M230.4 302.0h.9M234.0 297.4h.9M244.3 249.3h.9M223.4 284.5h.9M227.3 294.7h.9M220.4 272.8h.9M243.1 243.8h.9M239.8 234.5h.9M227.5 295.3h.9M220.0 281.7h.9M240.4 242.1h.9M241.4 232.9h.9M221.7 274.8h.9M221.7 273.1h.9M236.3 236.5h.9M223.5 285.7h.9M221.9 286.5h.9M243.6 247.1h.9M221.5 284.1h.9M236.6 307.0h.9M243.0 298.5h.9M225.7 285.6h.9M222.3 280.6h.9M232.7 298.6h.9M233.2 297.1h.9M238.9 237.8h.9M238.8 241.2h.9M241.2 244.9h.9M220.9 277.7h.9M220.2 286.7h.9M231.0 294.8h.9M220.9 278.7h.9M244.5 240.6h.9M239.8 242.6h.9M232.3 298.9h.9M243.8 248.2h.9M224.5 290.7h.9M221.5 275.1h.9M221.4 272.1h.9M219.1 275.1h.9M221.4 270.8h.9M221.0 287.1h.9M234.0 299.9h.9M242.2 238.7h.9M231.4 295.4h.9M222.3 280.8h.9M230.3 302.3h.9M226.6 289.5h.9M239.6 300.8h.9M238.0 239.8h.9M237.4 238.9h.9M237.7 241.6h.9M243.5 244.1h.9M225.9 296.4h.9M220.0 270.7h.9M222.1 277.7h.9M224.8 288.6h.9M242.3 241.5h.9M237.8 302.4h.9M239.5 240.6h.9M239.6 240.5h.9M231.0 303.8h.9M226.0 287.6h.9M218.4 275.0h.9M232.9 304.7h.9M233.7 299.7h.9M238.5 306.2h.9M232.1 301.6h.9M233.8 299.2h.9M240.4 301.3h.9M219.1 273.8h.9M227.7 297.3h.9M239.6 238.3h.9M225.2 293.6h.9M225.3 289.8h.9M238.9 305.5h.9M243.3 299.1h.9M243.5 244.3h.9M239.3 242.4h.9M224.8 287.9h.9M236.5 306.2h.9M233.2 305.1h.9M240.0 233.4h.9M223.4 283.8h.9M220.9 280.9h.9M228.1 293.0h.9M237.8 300.0h.9M243.2 303.6h.9M235.7 302.3h.9M240.3 302.7h.9M238.8 242.0h.9M245.3 249.1h.9M232.0 303.4h.9M222.8 285.5h.9M233.1 299.9h.9M238.8 306.1h.9M219.9 279.1h.9M225.5 287.1h.9M228.2 297.9h.9M240.0 242.8h.9M237.6 241.4h.9M220.8 280.2h.9M220.3 269.6h.9M241.2 306.1h.9M240.3 243.1h.9M238.7 304.7h.9M237.0 238.2h.9M225.4 285.8h.9M244.1 236.0h.9M230.5 296.1h.9M229.7 302.4h.9M239.9 243.4h.9M241.9 236.0h.9M237.0 300.8h.9M233.1 299.0h.9M223.2 278.7h.9M239.7 241.1h.9M239.9 298.8h.9M240.7 243.2h.9M233.2 301.2h.9M225.0 287.7h.9M239.0 298.8h.9M229.7 299.8h.9M240.1 303.9h.9M226.7 288.3h.9M236.8 300.7h.9M242.9 244.8h.9M231.7 301.9h.9M228.2 298.3h.9M229.1 297.0h.9M228.6 299.0h.9M226.5 294.6h.9M225.6 287.3h.9M241.5 245.3h.9M236.6 301.6h.9M224.2 283.9h.9M239.3 299.6h.9M225.2 289.3h.9" stroke="#04b02a" stroke-width=".9" opacity="0.4"/><path d="M232.3 220.1h.9M237.3 234.6h.9M225.1 225.5h.9M211.8 226.2h.9M218.5 268.8h.9M235.0 234.9h.9M235.3 236.8h.9M235.4 234.7h.9M237.2 230.6h.9M222.6 218.3h.9M234.4 235.9h.9M223.5 226.7h.9M237.8 230.4h.9M232.2 229.5h.9M231.8 230.3h.9M233.8 233.3h.9M217.2 267.8h.9M236.3 237.1h.9M235.1 226.4h.9M234.9 237.3h.9M234.0 233.7h.9M233.7 232.4h.9M233.8 221.5h.9M235.2 229.6h.9M236.1 228.4h.9M225.6 223.5h.9M236.7 233.7h.9M232.7 229.6h.9M236.0 231.4h.9M226.6 227.2h.9M222.6 225.8h.9M232.6 232.3h.9M229.1 223.6h.9M227.5 227.0h.9M218.9 269.6h.9M217.6 267.2h.9M233.9 233.0h.9M226.1 224.7h.9M236.4 235.7h.9M226.8 226.6h.9M225.9 226.7h.9M231.1 225.8h.9M232.2 226.5h.9M216.8 267.7h.9M232.3 230.8h.9M222.9 226.8h.9M232.4 230.5h.9M217.6 269.2h.9M220.4 225.6h.9M224.0 222.8h.9M229.7 224.1h.9M227.0 225.9h.9M212.5 223.6h.9M226.3 221.6h.9M221.5 224.4h.9M220.7 225.9h.9M224.1 226.9h.9M237.0 229.5h.9M223.9 226.1h.9M223.6 226.6h.9M220.7 226.0h.9M235.6 224.8h.9M221.8 226.0h.9M235.3 232.3h.9M235.9 235.6h.9M229.5 228.3h.9M210.0 229.3h.9M232.7 231.3h.9M230.9 228.4h.9M229.5 220.5h.9M230.9 221.6h.9M232.6 230.4h.9M231.1 228.5h.9M235.8 238.2h.9M213.8 222.0h.9M231.1 229.8h.9M228.3 224.1h.9M237.2 231.0h.9M232.6 232.1h.9M218.0 269.2h.9M237.9 234.6h.9M221.7 224.4h.9M229.4 224.9h.9M209.1 230.1h.9M224.3 221.9h.9M222.3 225.0h.9M234.7 225.9h.9M224.1 226.9h.9M235.4 229.5h.9M237.7 232.7h.9M227.5 219.7h.9M217.9 268.9h.9M218.3 268.4h.9M233.4 231.4h.9M223.4 220.5h.9M221.7 223.7h.9M227.5 225.4h.9M231.6 223.2h.9M218.0 267.6h.9M224.8 224.8h.9M227.8 227.1h.9M228.5 226.1h.9M222.3 221.6h.9M230.5 227.3h.9M232.4 227.5h.9M236.1 227.9h.9M231.9 223.2h.9M218.7 268.3h.9M225.6 225.2h.9M233.1 230.1h.9M230.9 228.5h.9M231.9 224.1h.9M224.0 226.5h.9M234.0 230.9h.9M235.2 231.4h.9M235.3 223.2h.9M225.7 226.9h.9M209.1 231.1h.9M233.6 230.2h.9M219.0 268.0h.9M230.3 227.0h.9M225.6 223.7h.9M230.3 225.9h.9M218.2 269.4h.9M206.4 235.6h.9M222.1 225.5h.9M233.1 228.6h.9M233.8 232.0h.9M232.6 229.0h.9M233.9 228.9h.9M209.1 229.2h.9M228.9 224.1h.9M222.8 224.8h.9M232.8 233.1h.9M231.1 229.9h.9M235.9 237.1h.9M234.9 234.6h.9M224.2 226.5h.9M221.9 225.7h.9M220.1 267.9h.9M236.5 234.7h.9M235.1 226.6h.9M222.9 223.5h.9M228.8 223.3h.9M227.2 226.2h.9M229.3 221.7h.9M223.1 225.1h.9M232.3 229.7h.9M229.2 222.3h.9M222.9 225.0h.9M237.3 231.3h.9M235.6 234.8h.9M227.2 225.7h.9M221.7 225.6h.9M206.7 234.8h.9M207.7 231.6h.9M224.3 227.0h.9M222.7 225.9h.9M232.3 227.4h.9M232.0 227.2h.9M233.8 227.3h.9M233.6 228.6h.9M233.2 232.2h.9M223.2 225.3h.9M230.7 230.4h.9M232.5 226.3h.9M226.3 226.4h.9M224.8 224.3h.9M220.7 225.8h.9M224.3 226.7h.9M232.9 229.9h.9M208.9 230.8h.9M230.1 220.2h.9M222.4 225.3h.9M236.1 226.9h.9M234.9 233.4h.9M233.1 228.0h.9M231.2 228.1h.9M230.8 224.7h.9M229.0 226.1h.9M223.7 226.6h.9M222.9 219.1h.9M231.9 231.8h.9M232.2 229.4h.9M232.7 233.5h.9M225.1 225.2h.9M226.3 227.6h.9M235.8 226.7h.9M229.7 226.7h.9M230.5 228.1h.9M235.1 225.6h.9M211.5 226.7h.9M231.6 227.3h.9M238.6 232.6h.9M231.8 225.5h.9M224.9 220.2h.9M219.3 268.2h.9M222.7 221.7h.9M218.0 268.4h.9M229.3 227.1h.9M226.0 226.4h.9M225.2 222.7h.9M223.9 222.3h.9M226.6 222.4h.9M220.7 226.2h.9M233.3 228.1h.9M233.6 225.6h.9M224.3 223.2h.9M234.9 235.8h.9M224.1 222.7h.9M225.2 223.9h.9M226.5 224.3h.9M218.0 268.3h.9M234.8 234.8h.9M218.1 267.4h.9M228.3 228.1h.9M207.8 232.0h.9M235.7 238.3h.9M217.9 267.6h.9M224.3 224.1h.9M233.2 228.7h.9M234.5 232.5h.9M230.5 227.9h.9M227.6 222.6h.9M232.3 224.8h.9M238.0 232.2h.9M219.1 268.3h.9M223.4 222.3h.9M231.1 229.5h.9M232.9 230.3h.9M234.1 228.5h.9M235.1 232.1h.9M224.4 221.1h.9M222.1 227.5h.9" stroke="#e0108a" stroke-width=".9" opacity="0.4"/><path d="M209.9 278.9h.9M205.3 277.1h.9M209.9 277.2h.9M212.4 269.5h.9M201.2 286.0h.9M210.7 266.4h.9M204.4 290.8h.9M211.0 266.3h.9M199.3 290.1h.9M210.4 273.9h.9M206.8 277.2h.9M210.9 273.6h.9M192.0 276.8h.9M202.8 245.5h.9M203.8 290.1h.9M205.1 281.9h.9M206.2 293.6h.9M192.1 275.5h.9M207.5 292.5h.9M193.8 261.4h.9M199.5 286.3h.9M206.5 277.3h.9M205.1 276.3h.9M199.9 295.5h.9M200.4 292.0h.9M193.2 278.9h.9M208.2 277.7h.9M202.6 281.0h.9M207.3 271.6h.9M204.0 286.6h.9M198.5 293.8h.9M198.1 292.0h.9M200.1 293.3h.9M216.2 266.0h.9M213.7 277.6h.9M212.6 266.7h.9M216.9 267.0h.9M212.2 266.4h.9M209.2 269.9h.9M200.1 290.3h.9M204.6 277.7h.9M210.9 268.2h.9M206.3 282.2h.9M213.5 280.6h.9M207.5 269.9h.9M193.9 278.9h.9M205.1 284.9h.9M205.8 294.5h.9M213.4 262.1h.9M188.8 292.7h.9M210.4 269.1h.9M195.9 261.9h.9M212.0 263.2h.9M211.9 269.3h.9M204.3 284.3h.9M211.1 278.8h.9M206.8 272.8h.9M204.2 278.4h.9M215.4 265.1h.9M200.6 286.6h.9M208.8 264.9h.9M209.4 264.4h.9M207.5 277.9h.9M196.6 254.4h.9M200.3 286.9h.9M211.8 290.7h.9M215.8 268.0h.9M204.3 275.6h.9M211.4 263.2h.9M207.9 276.3h.9M206.3 277.2h.9M208.1 291.8h.9M194.5 261.6h.9M188.6 287.7h.9M212.8 277.6h.9M211.4 263.8h.9M190.4 287.7h.9M206.9 273.8h.9M204.5 288.2h.9M203.8 284.5h.9M207.5 270.6h.9M208.2 271.9h.9M211.4 260.7h.9M199.1 305.2h.9M204.0 282.5h.9M191.0 270.0h.9M210.8 273.8h.9M209.5 266.7h.9M210.6 274.9h.9M216.5 277.2h.9M204.7 287.2h.9M210.4 287.5h.9M211.7 259.8h.9M213.0 263.1h.9M215.8 269.8h.9M209.2 280.9h.9M215.8 277.2h.9M208.6 273.4h.9M208.5 274.1h.9M216.6 269.2h.9M210.5 262.5h.9M211.2 272.6h.9M191.5 274.9h.9M201.5 287.7h.9M204.9 279.4h.9M196.0 294.7h.9M207.6 268.8h.9M209.6 275.1h.9M206.7 270.8h.9M198.6 296.5h.9M204.4 277.6h.9M202.7 281.8h.9M217.3 269.4h.9M212.0 266.9h.9M209.8 277.9h.9M208.8 277.2h.9M212.2 260.0h.9M207.3 279.9h.9M218.0 274.4h.9M209.7 263.3h.9M212.6 262.2h.9M209.3 281.9h.9M214.8 273.1h.9M203.8 296.8h.9M207.2 273.2h.9M197.0 292.7h.9M209.5 266.4h.9M216.5 279.7h.9M212.4 261.2h.9M196.6 295.5h.9M213.9 265.8h.9M210.0 266.6h.9M213.9 268.3h.9M201.0 282.7h.9M212.6 262.3h.9M208.7 275.6h.9M207.7 290.3h.9M214.5 271.4h.9M200.1 287.5h.9M213.8 271.0h.9M208.6 282.1h.9M204.2 282.6h.9M204.7 287.0h.9M201.3 289.6h.9M209.3 273.0h.9M208.2 271.9h.9M207.8 278.9h.9M198.5 296.0h.9M202.3 283.7h.9M202.8 282.9h.9M204.2 292.4h.9M200.3 294.8h.9M208.1 277.5h.9M196.9 300.5h.9M204.2 284.0h.9M199.8 298.1h.9M203.6 288.4h.9M207.7 276.5h.9M208.1 270.0h.9M202.1 247.4h.9M212.8 270.7h.9M206.1 291.7h.9M215.2 270.7h.9M206.7 279.6h.9M209.6 283.2h.9M204.9 286.0h.9M210.5 266.5h.9M208.6 268.0h.9M208.5 284.8h.9M207.6 291.8h.9M207.3 278.2h.9M206.4 272.0h.9M212.9 265.4h.9M201.1 249.8h.9M209.6 288.5h.9M205.0 285.5h.9M211.1 280.4h.9M207.6 278.7h.9M207.8 275.8h.9M211.5 265.5h.9M211.5 259.4h.9M196.4 258.8h.9M201.2 289.2h.9M211.6 263.9h.9M209.5 267.9h.9M188.0 295.1h.9M213.5 261.9h.9M205.0 286.5h.9M210.5 260.1h.9M209.8 276.8h.9M216.3 268.5h.9M207.2 288.0h.9M201.7 295.0h.9M210.7 263.4h.9M205.5 273.1h.9M204.4 276.4h.9M200.0 284.4h.9M204.3 284.1h.9M209.5 266.5h.9M201.5 281.9h.9M209.7 264.6h.9M198.1 296.9h.9M205.0 275.5h.9M213.8 266.8h.9M204.2 278.7h.9M202.1 296.9h.9M209.8 275.7h.9M200.2 290.5h.9M214.7 263.9h.9M211.1 285.6h.9M207.7 271.6h.9M205.5 279.9h.9M211.3 283.2h.9M207.2 270.9h.9M210.6 265.0h.9M203.8 283.3h.9M213.6 262.0h.9M189.4 280.0h.9M191.0 271.8h.9M197.7 292.0h.9M192.6 281.6h.9M211.5 275.9h.9M213.5 270.0h.9M196.4 297.6h.9M210.0 265.7h.9M215.0 273.7h.9M212.5 277.8h.9M206.8 285.6h.9M208.3 283.0h.9M199.4 286.8h.9M212.6 273.9h.9M207.7 282.8h.9M207.6 278.2h.9M211.5 274.8h.9M203.1 282.1h.9M214.5 272.2h.9M215.3 274.2h.9M198.2 292.2h.9M209.8 291.9h.9M211.6 264.5h.9M201.4 289.5h.9M208.7 264.9h.9M208.9 282.2h.9M210.5 267.8h.9M198.0 297.7h.9M204.0 276.8h.9M208.8 273.6h.9M203.1 279.8h.9M211.9 261.7h.9M197.6 256.9h.9M208.7 267.9h.9M211.9 260.1h.9M198.4 299.1h.9M210.4 267.7h.9M209.2 273.8h.9M214.3 269.2h.9M211.7 262.8h.9M202.3 284.0h.9M203.4 281.2h.9M208.0 287.9h.9M193.3 274.5h.9M213.0 260.8h.9M217.7 273.9h.9M208.5 268.3h.9M214.5 274.3h.9M204.5 284.6h.9M209.7 280.9h.9M215.0 270.8h.9M208.8 284.8h.9M211.6 263.7h.9M206.8 275.1h.9M210.1 261.3h.9M207.1 275.9h.9M211.4 265.8h.9M208.9 274.8h.9M202.4 280.7h.9M208.7 279.3h.9M205.9 279.0h.9M206.1 298.5h.9M212.5 265.0h.9M210.7 268.4h.9M208.8 265.6h.9M205.4 283.9h.9M211.2 282.0h.9M213.9 264.6h.9M206.6 275.6h.9M215.3 276.0h.9M212.2 270.0h.9M207.5 277.3h.9M210.7 267.4h.9M210.2 262.0h.9M210.6 265.5h.9M209.5 265.0h.9M193.1 269.0h.9M208.3 283.3h.9M207.9 268.9h.9M201.0 292.5h.9M201.6 301.2h.9M209.4 274.7h.9M196.3 298.9h.9M211.3 270.6h.9M210.0 278.7h.9M203.0 278.9h.9M205.5 284.4h.9M209.4 275.1h.9M209.4 269.5h.9M209.8 286.6h.9M204.8 278.6h.9M210.3 261.8h.9M211.8 261.9h.9M201.9 284.1h.9M204.6 279.0h.9M199.1 289.4h.9M205.5 280.3h.9M208.2 280.9h.9M213.7 283.4h.9M212.5 277.1h.9M207.0 276.9h.9M203.9 277.0h.9M190.4 274.4h.9M217.4 276.9h.9M209.8 274.0h.9M217.9 276.6h.9M206.9 273.3h.9M190.4 287.2h.9M215.8 275.1h.9M211.2 261.5h.9M211.0 267.7h.9M215.3 265.3h.9M190.8 284.6h.9M210.2 273.5h.9M213.8 269.2h.9M206.1 278.7h.9M204.3 243.1h.9M211.8 274.8h.9M204.1 283.6h.9M204.2 281.8h.9M210.8 270.2h.9M208.0 268.4h.9M208.1 289.0h.9M208.5 280.0h.9M211.3 268.4h.9M202.9 280.6h.9M209.2 276.4h.9M210.9 281.3h.9M209.0 275.6h.9M206.6 281.9h.9M206.3 273.4h.9M212.0 265.5h.9M209.9 263.2h.9M211.4 265.5h.9M194.1 301.7h.9M212.2 261.5h.9M198.5 255.5h.9M208.0 288.5h.9M208.7 283.2h.9M192.9 278.3h.9M213.6 284.4h.9M202.0 283.0h.9M208.0 280.1h.9M211.1 265.7h.9M211.8 263.6h.9M207.1 273.7h.9M206.0 280.0h.9M210.9 273.6h.9M206.7 281.0h.9M212.2 261.0h.9M202.3 291.0h.9M205.3 278.8h.9M207.2 272.7h.9M197.7 255.7h.9M211.7 263.5h.9M210.5 279.3h.9M211.3 261.5h.9M205.9 278.8h.9M209.7 264.0h.9M210.4 268.7h.9M207.0 276.7h.9M209.3 264.8h.9M195.3 261.3h.9M201.0 289.1h.9M202.9 292.5h.9M210.7 268.5h.9M204.2 284.4h.9M211.0 272.2h.9M205.4 277.7h.9M195.6 297.7h.9M204.0 288.3h.9M207.8 268.8h.9M207.1 282.5h.9M213.0 269.1h.9M208.0 267.4h.9M211.1 265.3h.9M214.0 268.6h.9M212.5 272.9h.9M213.9 270.7h.9M211.6 273.2h.9M206.5 283.9h.9M206.3 276.5h.9M210.7 264.2h.9M213.1 280.7h.9M210.1 279.6h.9M197.5 291.9h.9M207.5 274.1h.9M192.5 268.8h.9M208.7 291.9h.9M204.9 285.9h.9M213.3 263.5h.9M190.6 273.0h.9M209.2 269.6h.9M217.5 281.5h.9M193.8 280.7h.9M210.6 278.1h.9M211.4 270.3h.9M210.3 274.2h.9M209.6 271.3h.9M206.3 271.1h.9M209.3 267.3h.9M205.5 283.6h.9M204.4 282.1h.9M203.5 296.9h.9M209.0 268.3h.9M192.8 280.0h.9M203.8 288.3h.9M205.2 282.2h.9M210.3 284.7h.9M214.7 263.8h.9M205.7 279.0h.9M199.9 251.1h.9M212.2 265.8h.9M212.8 269.3h.9M192.1 287.9h.9M206.0 274.6h.9M216.6 273.6h.9M212.0 259.5h.9M212.7 269.9h.9M202.8 289.5h.9M202.9 292.7h.9M207.2 285.3h.9M212.3 272.4h.9M213.9 267.7h.9M211.8 260.4h.9M213.4 262.4h.9M212.9 268.3h.9M214.2 278.2h.9M204.7 278.0h.9M210.6 265.6h.9M210.0 271.8h.9M198.6 301.0h.9M189.2 283.6h.9M195.8 258.3h.9M215.7 273.0h.9M214.5 269.4h.9M210.3 264.4h.9M211.7 272.3h.9M188.3 284.1h.9M208.8 270.3h.9M204.2 279.0h.9M205.0 281.9h.9M200.7 249.5h.9M195.7 256.0h.9M210.9 268.0h.9M209.7 280.7h.9M206.7 291.6h.9M205.4 277.5h.9M210.6 268.3h.9M211.2 265.9h.9M190.6 277.8h.9M212.3 264.3h.9M206.0 282.5h.9M209.3 270.2h.9M211.8 289.3h.9M204.5 293.6h.9M207.5 292.0h.9M205.9 283.4h.9M205.3 275.2h.9M210.2 283.1h.9M203.7 279.0h.9M212.2 262.5h.9M211.1 261.5h.9M217.1 268.9h.9M191.9 280.6h.9M208.0 268.9h.9M201.2 292.5h.9M211.5 281.8h.9M211.7 270.9h.9M207.1 279.5h.9M205.9 273.6h.9M211.8 272.0h.9M206.0 278.8h.9M209.0 269.4h.9M212.2 264.1h.9M210.6 270.0h.9M208.3 283.8h.9M204.2 283.8h.9M207.3 279.7h.9M205.1 296.5h.9M207.4 275.9h.9M189.9 278.6h.9M197.2 294.8h.9M211.3 267.9h.9M200.7 285.0h.9M200.5 304.8h.9M209.1 272.8h.9M209.0 281.1h.9M203.1 294.7h.9M208.0 278.0h.9M200.8 287.0h.9M204.1 279.5h.9M215.2 273.4h.9M203.1 242.3h.9M215.6 266.7h.9M214.5 271.9h.9M213.9 275.5h.9M210.1 267.4h.9M200.3 300.9h.9M213.2 285.3h.9M210.0 269.9h.9M204.0 293.4h.9M199.8 291.8h.9M191.6 282.7h.9M195.0 304.5h.9M202.4 285.5h.9M218.2 271.7h.9M208.4 286.3h.9M209.3 270.7h.9M211.7 277.8h.9M212.0 268.1h.9M211.3 271.6h.9M207.6 296.8h.9M204.4 277.9h.9M215.7 269.2h.9M208.2 284.1h.9M208.8 282.4h.9M206.8 276.5h.9M212.0 260.0h.9M208.8 283.4h.9M211.7 266.5h.9M207.6 273.6h.9M214.9 266.3h.9M211.7 274.9h.9M214.1 273.9h.9M210.9 277.0h.9M209.7 286.2h.9M204.4 241.9h.9M200.7 299.2h.9M209.9 265.5h.9M204.0 277.9h.9M194.2 268.8h.9M209.7 277.4h.9M199.5 290.1h.9M205.9 272.1h.9M213.1 263.6h.9M208.5 269.7h.9M198.9 289.1h.9M212.0 282.8h.9M214.3 265.6h.9M206.6 271.4h.9M204.5 281.5h.9M204.5 296.4h.9M213.0 274.6h.9M209.2 268.4h.9M203.5 279.6h.9M209.7 264.0h.9M210.5 273.5h.9M211.9 260.1h.9M210.5 273.3h.9M211.3 266.6h.9M216.2 274.7h.9M196.6 293.5h.9M200.9 289.0h.9M211.6 259.6h.9M202.7 285.2h.9M208.1 275.2h.9M210.2 266.1h.9M207.1 269.7h.9M192.1 276.3h.9M194.1 276.1h.9M211.9 281.7h.9M198.4 291.4h.9M210.8 267.8h.9M209.4 276.1h.9M197.5 303.2h.9M200.4 247.8h.9M190.7 275.0h.9M203.2 280.2h.9M208.1 285.5h.9M215.4 279.2h.9M209.4 263.6h.9M212.2 277.7h.9M209.7 266.4h.9M205.9 278.4h.9M198.0 301.3h.9M190.8 268.8h.9M212.0 263.4h.9M206.2 284.7h.9M206.2 290.6h.9M214.2 264.6h.9M192.3 285.0h.9M212.2 258.6h.9" stroke="#3c0cb4" stroke-width=".9" opacity="0.4"/><path d="M221.1 217.0h.9M206.9 237.0h.9M207.5 237.9h.9M213.1 228.0h.9M222.1 217.3h.9M204.7 239.8h.9M208.1 235.5h.9M207.5 238.6h.9M207.8 236.1h.9M213.5 226.1h.9M203.9 238.2h.9M209.2 231.3h.9M205.1 238.7h.9M211.1 228.6h.9M213.6 226.4h.9M222.2 219.0h.9M219.3 217.5h.9M213.2 224.0h.9M204.8 240.7h.9M213.3 226.4h.9M213.7 225.9h.9M205.6 239.7h.9M214.6 223.4h.9M221.4 218.0h.9M206.0 237.9h.9M208.9 233.8h.9M210.0 231.5h.9M216.1 220.6h.9M205.7 238.4h.9M206.6 239.4h.9M204.1 239.3h.9M205.6 237.5h.9M205.2 240.4h.9M215.8 222.5h.9M209.1 233.0h.9M205.9 237.8h.9M213.0 226.5h.9M204.5 238.8h.9M212.3 227.8h.9M208.9 235.3h.9M210.7 231.8h.9M206.7 236.2h.9M205.7 240.1h.9M222.6 218.9h.9M208.3 235.3h.9M221.3 219.4h.9M209.2 231.7h.9M208.0 235.6h.9M210.1 229.9h.9M207.3 236.7h.9M207.6 236.4h.9M210.5 230.4h.9M214.8 223.6h.9M215.8 220.6h.9M210.3 230.3h.9M207.8 234.3h.9M217.0 219.3h.9M205.2 239.9h.9" stroke="#1186b6" stroke-width=".9" opacity="0.4"/><path d="M187.5 307.0h.9M191.5 305.2h.9M188.7 298.3h.9M188.3 303.4h.9M190.0 296.4h.9M190.6 307.1h.9M191.1 291.0h.9M190.0 294.6h.9M187.9 311.7h.9M191.1 305.8h.9M186.8 313.6h.9M191.4 306.8h.9M188.1 304.8h.9M186.7 310.6h.9M193.9 300.2h.9M188.6 302.8h.9M188.2 305.9h.9M192.2 303.3h.9M188.9 296.8h.9M189.5 309.2h.9M190.4 294.6h.9M187.2 309.8h.9M187.6 302.4h.9M187.4 312.8h.9M190.5 306.6h.9M187.9 303.7h.9M190.5 291.5h.9M186.3 312.4h.9M187.7 306.6h.9" stroke="#3f0a50" stroke-width=".9" opacity="0.4"/><path d="M284.8,264.7l-.8 0-.6 0-.8 0-.5-.2.2-.5.7 0 .4-.4.5.2.1.5.8 0 0 .4zM281.2,264.7l-.6 0 0-.4.3-.3.5.2-.2.5zM282,265.4l-.6-.2.2-.5.5.1-.1.6zM283.7,306l-.7 0-.7 0-.2-.6.4-.3-.4-.3-.1-.6-.4-.3-.2.5-.3 0-.5-.2-.6-.2-.3-.3.1-.5 0-.4-.3.4-.7 0-.2-.6-.2-.5-.5-.1-.3 0-.4 0-.3-.4.5-.2.2-.5-.6-.2-.6 0-.4-.3-.2-.6-.2-.5-.3-.3-.2.5 0 .7-.1.5-.6-.1 0-.8.4-.3-.4-.3-.2-.6-.1-.5.5-.2.5-.1-.1-.6-.4-.3-.5-.2 0-.7 0-.7 0-.7 0-.7 0-.7-.4-.4 0-.6 0-.8 0-.6 0-.8 0-.6 0-.8 0-.6 0-.8.2-.5.2-.5 0-.7 0-.7 0-.7 0-.7 0-.7 0-.7 0-.7.3-.3 0-.8 0-.6 0-.8 0-.6.2-.6.2-.5 0-.7 0-.7.2-.5.1-.6 0-.6 0-.8.4-.3 0-.7 0-.7.3-.3 0-.8 0-.6.4-.4 0-.7 0-.7.3-.4.4-.3.5-.2.7 0 .3-.3.4-.4.7 0 .2.6-.2.5-.7 0-.7 0-.5.1-.2.6-.5.2 0 .6.3 0 .4 0 .3 0 .4-.3.3-.3.6-.2.5-.2.1-.5.6-.2 0-.7-.6-.2-.1-.5.5-.2.4-.3.6 0 .2.5.2.5.5-.2.2-.5.7 0 .4-.3.6 0 .8 0 .1-.6.5-.1.8 0 .6 0 .8 0 .1.5-.5.2-.7 0-.5.2.2.5.5-.2.3 0 .6.2.3.3.7 0 .7 0 .2.6.1.5.6.1.2.6.6 0 .2-.6.6-.1.5.1 0 .8 0 .6-.5.2-.6.2-.2.5 0 .4.4.3.4.4.6 0 .2.5.6.2.6 0 .2.5.2.5.5.2 0 .7-.5.2-.2.5.6.2.5.1 0 .8-.5.1-.2.5 0 .8.2.5.6 0 .8 0 .5.1-.2.6-.5.2 0 .6.5.2.2.6.3.3-.3.3.1.6.8 0 .5.2.1.5 0 .3-.6 0-.2.6-.4.3 0 .7.6.2.1.5-.5.2-.2.5-.2.5-.1-.5-.2-.5-.5.1 0 .8.3.3 0 .7-.3.4.2.5.5.1 0 .8 0 .6 0 .8-.2.5-.5.1 0 .8 0 .6.3.4-.3.4.2.5.1.5-.3.4-.4.3-.2.5-.1.6-.2.5-.3-.4-.4.4-.2.5.6.2.1.5-.5.2-.2.5-.2.5-.1.5-.4.4.4.4-.4.3-.5.2-.5.1 0 .8-.2.5-.3.3-.6.2-.2.5-.1.5-.4.4-.3.4 0 .6-.6.2-.1-.5-.2-.5-.7 0-.2.5 0 .7-.2.5-.3.4-.7 0-.5-.2 0-.7 0-.7-.4 0-.3.3 0 .8-.6.1-.5-.1-.5-.2-.5.2-.5.1 0 .4.5.1-.2.6zM280.2,265.4l-.5-.2.5-.2 0 .4zM290.7,267.5l-.5-.2.2-.5.3.3 0 .4zM283.5,269.8l.4-.4-.5-.2-.2.6.3 0zM294.6,271.7l-.6-.2.2-.5.5.2-.1.5zM296.3,276.2l-.5-.2.2-.5.5.2-.2.5zM296.6,279l-.1-.5.1-.5.2.5-.2.5zM296.5,283.4l0-.7-.5-.2-.2-.5-.6-.2-.5.2.2.5.7 0 .2.5.2.6.5-.2zM297.7,283.6l-.2-.6.2-.5.2.5-.2.6zM297.4,287.1l-.8 0-.1-.5.5-.2.5.2-.1.5zM296.6,292.7l-.1-.5.1-.6.2.6-.2.5zM294.7,294.2l0-.6-.3 0 0 .6.3 0zM294,295l-.2-.6-.6 0-.2.6.5.1.5-.1zM276.9,298.8l-.4-.4-.3-.3-.4 0 0 .7.6.2.5-.2zM291.2,299.5l-.3 0 .3 0zM275.6,302.8l-.5-.2.5-.1 0 .3zM277.4,304.2l-.5-.2 0-.6 0-.8.5-.1.2.5 0 .7-.2.5zM287.7,303l-.1-.5-.6.1-.3.4.5.2.5-.2zM283.9,304l0-.6-.5-.2-.2.5.2.5.5-.2zM278.4,305.3l-.5-.2-.3-.3.2-.6.6 0 .2.6-.2.5zM281.2,306l-.5-.2-.3-.4.5-.1.5.1-.2.6zM282,307l-.6-.2 0-.6.6-.2.1.5-.1.5zM284.8,306.7l-.8 0-.1-.5.5-.2.5.2-.1.5zM288.6,307l-.2-.5.2-.5.7 0 .2.5-.5.2-.4.3z" fill="#f9e560"/><path d="M286.5,265.4l-.7 0-.7 0-.2-.6.5-.1.6.1.5.2 0 .4zM281.2,266.4l-.6 0-.2-.5.2-.5.6 0 .2.5-.2.5zM283,304.2l-.7 0-.2-.5-.1-.5-.6.2 0 .6-.5.2-.3-.3-.2-.5 0-.8.3-.3-.3 0-.6.2-.6 0-.4-.4-.2-.5.6-.2.6 0 0-.3-.5-.2.4-.3-.2-.6-.5-.2-.4 0 0 .8 0 .6-.5.2-.5-.2.2-.5 0-.3-.6-.2-.3-.4.5-.1.2-.5-.6-.2-.1-.6-.2-.5-.3-.3-.4-.4-.2.6-.2.5-.3-.4-.2-.5-.1-.5-.8 0-.1-.5.5-.2.5-.2 0-.7-.3-.3.2-.6 0-.3-.4-.4-.4-.3-.3-.4-.2-.5 0-.7 0-.7 0-.7 0-.7 0-.7 0-.7 0-.7 0-.7.4-.3 0-.8 0-.6 0-.8 0-.6 0-.8 0-.6 0-.8.1-.5.2-.5 0-.7 0-.7 0-.7 0-.7.4-.4 0-.6 0-.8 0-.6.3-.4 0-.7.2-.5.5-.2 0-.7-.3-.3 0-.8.1-.5.2-.5 0-.7.2-.5.2-.6 0-.6.5-.2.2.5 0 .7.1.5.6-.1.5-.2.3-.4.2-.5.2-.5.7 0 .7 0 .2-.6.3-.3.5-.2.2-.5.6-.2.1.6.2.5.7 0 .2-.5.5-.2.7 0 .5-.2-.5-.2-.7 0-.5-.2 0-.6.5-.2.2.5.3 0 .6-.2.3.4.7 0 .4.3.6 0 .6.2.3 0 .4 0 .3 0 .6-.2.5.2 0 .7-.5.2-.6.1.2.6.4.3.5.2.1.5.4.4.2-.6 0-.6.3 0 .4.3.5.2 0 .3-.2.6-.5.1-.5.2 0 .7.5.2.7 0 .7 0 .2.5.5.2.7 0 .5.1 0 .8.6.1.1.5-.1.6-.8 0-.6 0-.2-.6-.2-.5-.7 0-.2.5.4.4 0 .7.5.2.2.5.2.5.6 0 .2.5 0 .8 0 .6.2.6.5-.2.4 0 .3.4 0 .6 0 .8.4 0 .2-.6.3.4.2.5-.4.3.4.4.3.4 0 .6-.5.2-.7 0-.7 0-.2-.5-.1-.5-.6.2 0 .6.6.2.1.6.5.1.6.2 0 .7.3.4-.1.5-.2.5-.2.5-.5.2 0 .7.5.2.2.5.5.2.2.5 0 .7-.2.5-.7 0-.2.6-.2.5-.5.1.2.6.7 0 .2.5-.2.5-.2.6.2.5.2.5-.6.2-.5-.2-.1-.5-.2.5-.6.2-.1.5-.4.3-.3.4.2.5.1.5-.3.4-.4.4.2.5.7 0 0 .3-.2.6-.3 0-.4 0 .4.3 0 .7-.6.2-.6 0-.8 0-.6 0-.2.5.5.2.7 0 .7 0 .2.5-.2.5-.7 0-.2.5-.5.2-.5.2-.4.4-.5.1 0 .4.2.5-.5.2-.6-.2-.5-.2 0-.3.5-.2 0-.7-.3 0-.4.4-.1.5-.8 0-.1.5-.5.2-.6.2-.5.1-.3-.3-.8 0-.1-.6-.5-.1-.2.5 0 .7-.2.5zM279.5,267.5l-.5-.2.3-.3.4 0-.2.5zM287.7,268l-.1-.5-.8 0-.6 0 0 .3.6 0 .4.4.5-.2zM291.8,268.2l-.6-.2.2-.5.4.3 0 .4zM289.6,268.2l0-.4 0 .4zM286,269l0-.6-.6-.2-.5.2.2.5.3.3.6-.2zM283.9,269.8l-.2-.6-.5.2.2.5.5-.1zM286.7,269.4l-.4 0 .4 0zM294.6,275.5l-.6-.1 0-.8.6-.1.1.5-.1.5zM296,276.2l0-.3 0 .3zM296,282.5l0-.3 0 .3zM296.6,284.3l-.1-.5.3 0-.2.5zM296.6,287.1l-.1-.5.3 0-.2.5zM294,290.4l-.3 0 .3 0zM276.9,296.7l-.4-.3-.5-.2-.2.5.6.2.5-.2zM292.3,296.7l-.2-.5-.7 0-.2.5.6.2.5-.2zM294.2,296.5l0-.3 0 .3zM276.7,299.7l-.7 0-.2-.5.6-.2.5.2-.2.5zM289.5,299.5l-.2-.5-.3.3-.6.2.6.2.5-.2zM277.4,303.2l-.4-.4 0-.3.6.1-.2.6zM288.2,303.5l-.6 0-.8 0 0-.3.8 0 .6 0 0 .3zM286.8,304.9l-.1-.5.5-.2.5.2-.5.2-.4.3zM283,306l-.7 0-.2-.6.5-.1.6.1-.2.6z" fill="#f6da1c"/><path d="M285.6,294.6l.8-.4.5-.3.7-.5.4-.6.5-.6.5-.7.3-.7.3-.8.2-.6.2-.8.2-1 .2-.9 0-.9 0-1 0-1-.1-.8-.2-1-.1-.7-.3-1.1-.3-.6-.3-.8-.4-.6-.4-.8-.4-.4-.6-.6-.5-.4-.6-.4-.8-.2-1-.2-.8.2-.9.3-.6.3-.5.5-.6.6-.4.6-.4.5-.4.6-.3.8-.3 1-.3.7-.1.7-.2 1-.1 1.1 0 1.1 0 1 .2 1 .1.8.2 1 .3.7.2.7.3.7.4.7.5.7.5.7.4.4.7.5.7.3.7.3 1.1.1.8-.2M285.8,299.2l1-.4.7-.4.5-.3.6-.5.6-.6.4-.5.5-.5.4-.7.5-.7.3-.7.3-.7.3-.7.3-.7.2-1 .2-.8.2-.7.2-1 .1-1.1.1-.6 0-1.1 0-1.1 0-1-.1-.7-.1-1.1-.2-.9-.2-.8-.2-.7-.3-1-.2-.8-.3-.6-.3-.8-.4-.6-.4-.8-.5-.6-.4-.5-.5-.6-.5-.5-.7-.6-.5-.3-.7-.3-.9-.4-.7-.1-1.1 0-.6.1-1.1.3-.7.4-.6.3-.5.4-.7.6-.4.4-.6.8-.4.4-.3.6-.5.7-.4.7-.3.7-.3.7-.3.7-.3.7-.3 1-.2.8-.2.9-.1.8-.1 1.1 0 1 .1 1 .1 1 .1.8.2 1 .2.8.2.6.4 1.1.2.7.3.7.3.7.4.7.3.7.5.7.4.6.4.5.6.6.4.5.7.5.6.4.7.4.8.3.7.2 1.1 0 1-.1M285.5,302.6l1-.2.7-.2.7-.4.7-.4.7-.5.4-.3.7-.7.3-.4.6-.7.5-.7.3-.5.3-.6.4-.7.4-.7-.4-.6.7-.7.3-.5.4-1 .2-.6.2-.8.2-1 .1-.7.1-1.1.2-1 0-1 .1-.8 0-1 0-1-.1-.8-.6-.6.5-.8-.2-1-.1-.7-.2-1.1-.2-.6-.2-.9-.3-.9-.2-.7-.3-.7-.3-.7-.3-.7-.4-.7-.4-.7-.5-.7-.5-.6-.3-.5-.7-.6-.4-.4-.6-.5-.8-.5-.6-.4-.8-.3-.6-.2-1.1-.2-.7 0-.7 0-1.1.2-.6.2-.8.3-.6.4-.8.5-.6.5-.5.4-.6.4-.7.6-.4.4-.6.4-.8.3 0 1-.3.7 0 1-.4.8 0 1 0 1-.3.8 0 1 0 1-.4 1.1 0 .7 0 1 0 1.1 0 1.1 0 1-.3.7 0 1.1 0 1 0 1 0 1.1 0 1.1 0 .7.3 1 0 .8.7.6.4.5.4.6.5.6.5.7.3.5.6.6.5.6.4.4.7.7.5.4.5.4.7.4.7.4.7.3 1.1.2.6.1 1.1 0M283.4,270.1l0-1 .3.6" fill="none" stroke="#e4c410" stroke-width="0.45"/><path d="M252.2,243l-.5-.2.1-.5.6.1-.2.6zM253.2,244l-.6 0-.2-.5.2-.5.6 0 .2.5-.2.5zM257.8,244l-.7 0-.2-.5.2-.5.7 0 .2.5-.2.5zM255,244.7l-.7 0-.7 0-.2-.5.6-.2.5.2.3 0-.3-.4.5-.1.2.5-.2.5zM259.6,309.5l-.8 0-.6 0-.8 0-.5-.2 0-.7 0-.7-.5-.2-.2.5 0 .8-.2.5-.6 0-.2-.5-.6-.2-.1-.6 0-.6-.2-.6-.7 0-.2.6-.5.1-.5-.1-.2-.6-.4-.3-.1-.5-.5-.2-.8 0-.6 0-.6-.2-.3-.4.5-.1.7 0 .7 0 .7 0 .7 0 .2-.5-.2-.6-.5-.2-.4-.3-.3-.3-.4 0 0 .6-.5.2-.3.4-.4-.4-.5-.2 0-.6 0-.8-.5-.1-.2.5-.6.2-.5-.2-.3-.4-.2-.5-.4-.3 0-.4.8 0 .1-.5-.5-.2-.5-.1-.4-.4-.3-.4-.2-.5-.4-.3-.5.2-.1.5-.6-.2 0-.7 0-.7.4-.3-.4-.4 0-.7.4-.3.3-.4 0-.7-.3-.3 0-.8 0-.6 0-.8 0-.6 0-.8.3-.3 0-.7 0-.7 0-.7 0-.7 0-.7 0-.7 0-.7 0-.7 0-.7.2-.5.2-.5 0-.8 0-.6 0-.8 0-.6 0-.8 0-.6 0-.8 0-.6 0-.8 0-.6 0-.8 0-.6 0-.8 0-.6.3-.4 0-.7 0-.7 0-.7 0-.7 0-.7 0-.7 0-.7 0-.7 0-.7 0-.7 0-.7 0-.7 0-.7 0-.7 0-.7 0-.7 0-.7 0-.7 0-.7 0-.7 0-.7 0-.7 0-.7 0-.7 0-.7 0-.7 0-.7 0-.7 0-.7 0-.7 0-.7 0-.7 0-.7 0-.7 0-.7.2-.5.7 0 .7 0 .5.2-.1.5-.8 0-.1.5.1.5.8 0 .1-.5.5-.2.4-.3.7 0 .2.5.1.5.4-.3.4-.4 0-.3-.8 0-.1-.5-.5-.2-.8 0-.5-.2 0-.7.5-.2.6-.1 0-.8.5-.1.7 0 .5.1.2.6.5.2 0 .6.2.6.7 0 .2-.6 0-.6 0-.8-.5-.1-.8 0-.5-.2.2-.5.5-.2.2-.5.5-.2-.5-.2 0-.3.5-.2.4 0 .3 0 .4 0-.2.5-.5.2.1.5.6.2 0 .7.5.2.5-.2.2-.5.7 0 .7 0 .2-.6.2-.5.6 0 .8 0 .3.4.7 0 .2.5.2.5.5-.1.5-.2.5-.2.5-.2.4.4.2.5 0 .7.2.5.5.2.1.5.4.4.5.2.2.5.5-.2.2-.5.7 0 .2-.6.1-.5.6.2 0 .7.5.2.3.3 0 .4-.6 0-.2.5-.2.5-.5.2.5.2 0 .3-.5.2 0 .7.5.2.2-.5.2-.6.6 0 .8 0 .5-.2.3 0 .2.6.4.3 0 .4-.2.5 0 .7.2.5.6 0 .2.6 0 .6.2.6.4.3.1-.5 0-.7 0-.7.5-.2.6.2 0 .7-.4.3-.2.6 0 .3.2.5.6.2.3.4 0 .3-.5.2 0 .7.3.4.2.5.2.5.1.5.8 0 .1.5.2.6.2.5 0 .7.3.4-.5.1-.2.5.5.2.8 0 .5.2 0 .7 0 .7 0 .7.1.5.8 0 .1.6.4.3.5.2.5.1-.3.4 0 .7 0 .7-.4.4-.5.1-.2.5.2.6.5.2-.3.3 0 .7 0 .7-.4.3 0 .8 0 .6-.1.6-.2.5 0 .7 0 .7-.2.5-.2.6 0 .6 0 .8 0 .6 0 .8-.3.3 0 .7 0 .7 0 .7 0 .7 0 .7 0 .7 0 .7-.2.5-.2.5 0 .8 0 .6 0 .8 0 .6 0 .8 0 .6 0 .8 0 .6.4.4 0 .7 0 .7 0 .7 0 .7 0 .7 0 .7 0 .7.1.5.2.6-.3.3-.5.2-.8 0-.5-.2-.3 0 .3.3-.1.6-.4.3-.5.2-.2.5-.2.6-.3 0 0-.8-.2-.5-.7 0-.2.5 0 .8.2.5.7 0 .7 0 .7 0 .5.1-.1.6-.8 0-.6 0-.8 0-.5-.2-.3 0-.4.4 0 .6-.5.2-.7 0-.4.4-.3-.4-.7 0-.2.6.2.5.7 0 .7 0 .2.5-.6.2-.6 0-.8 0-.6 0-.2.5-.6.2-.3.3-.7 0-.7 0-.2-.5-.1-.5-.8 0-.1.5.1.5.8 0 .1.6-.5.1-.5.2-.5.2-.2.5-.6.2-.5-.2 0-.7-.5-.2-.7 0-.5.2 0 .7.5.2.7 0 .5.2-.1.5zM259.6,244.7l-.8 0-.1-.5.5-.2.5.2-.1.5zM248,244.7l-.7 0 0-.3.7 0 0 .3zM262,244.7l-.5-.1.5-.2 0 .3zM249.8,245.8l-.8 0-.1-.6.1-.5.8 0 .1.5-.1.6zM262,245.8l-.7 0-.5-.2 0-.7.5-.2.3.4.4.3 0 .4zM263,246.5l-.5-.2.2-.5.5.2-.2.5zM256.2,247l-.2-.5-.6 0-.2.5.5.2.5-.2zM259.7,247.4l0-.8-.5-.1-.5.1 0 .8.5.1.5-.1zM245.2,247.5l0-.3 0 .3zM247,247.5l0-.3 0 .3zM263,248.6l-.5-.2 0-.7.5-.2.2.5-.2.6zM253.1,249.8l.3-.4-.5-.1-.5.1.2.6.5-.2zM267.6,250.3l-.5-.1 0-.8.3 0 .4.4-.2.5zM267.1,253l-.4 0 .4 0zM272.2,254.9l-.8 0-.1-.5.1-.6.8 0 .1.6-.1.5zM271.1,255.6l-.5-.2.2-.5.5.1-.2.6zM272.2,259.1l-.8 0-.1-.5 0-.8.1-.5.6.2.3.3 0 .8-.1.5zM273.9,259.1l-.5-.2.2-.5.5.2-.2.5zM273.2,260.1l-.7 0-.2-.5.2-.5.7 0 .2.5-.2.5zM273.9,261.9l-.5-.2 0-.7 0-.7.5-.2.7 0 .5.2 0 .7-.5.2-.5.2-.2.5zM271.3,261.4l-.4 0 .4 0zM275.3,262.9l-.2-.5.4 0-.2.5zM273.6,262.9l0-.3 0 .3zM277,263.6l0-.3 0 .3zM276.4,265.4l-.6-.2.2-.5.4.3 0 .4zM275.8,269l0-.6-.5-.2-.7 0-.5.2 0 .6.5.2.7 0 .5-.2zM271.3,299.5l-.2-.5-.5.2.2.5.5-.2zM274.2,300.7l-.1-.5.1-.5.2.5-.2.5zM245.9,301.4l-.5-.2.2-.5.5.2-.2.5zM271.4,301.8l0-.4 0 .4zM248.7,304.9l-.3-.3 0-.4.5.2-.2.5zM251.5,304.6l0-.4 0 .4zM254.5,305.1l0-.7-.5-.2-.6.2 0 .7.6.2.5-.2zM269,304.9l-.2-.5.6-.2 0 .4-.4.3zM259.7,305.8l-.5-.2-.5.2.5.2.5-.2zM256.9,306.8l0-.6-.5-.2-.2.5.2.5.5-.2zM250.4,307.7l-.5-.1.2-.6.5.2-.2.5zM265.8,307.7l-.6 0-.8 0-.1-.5.5-.2.7 0 .5.2-.2.5zM255.9,307.6l-.5-.2 0 .3.5-.1zM263,309.1l-.5-.1 0-.8.2-.5.7 0 .7 0 .2.5-.2.6-.7 0-.4.3zM261.3,309.8l-.5-.2 0-.6.5-.2.2.5-.2.5zM255,309.8l-.5-.2.5-.1 0 .3zM263,310.5l-.5-.1 0-.8.5-.1.2.5-.2.5zM261.3,310.9l-.5-.2.5-.2 0 .4zM263.4,310.9l0-.4 0 .4z" fill="#ccf44c"/><path d="M253.2,244l-.5-.2.5-.1 0 .3zM256,245.8l-.6 0-.2-.6.2-.5.6 0 .2.5-.2.6zM252.2,246.5l-.5-.2.1-.5.6.2-.2.5zM261.3,307.7l-.5-.1 0-.8-.2-.5-.7 0-.3.4-.8 0-.1-.5.5-.2.5-.2-.1-.5-.8 0-.1.5-.5.2-.2-.6 0-.6-.2-.6-.7 0-.2.6 0 .6-.5.2-.2-.5 0-.7-.5-.2-.5.2 0 .7 0 .7.5.2.5.2 0 .6-.5.2-.5-.2-.2-.5-.4-.3-.1-.6 0-.6-.2-.6-.7 0-.2.6-.2.5-.6 0-.2-.5-.2-.6-.5-.2 0-.6.5-.2.2-.6.3-.3-.3 0-.6.2-.3.3-.3-.3-.6-.2-.2-.5-.3-.4-.2.6-.1.5-.8 0-.6 0-.2-.5-.4-.4.4-.4.2-.5.5-.1 0-.8-.5-.1-.4-.4 0-.3.2-.6-.4-.3-.5-.2-.2.5-.1.6-.8 0-.6 0-.8 0-.5.2-.5.1-.2-.5 0-.7.6-.2.1-.5 0-.7.2-.5.7 0 .2-.6-.2-.5-.7 0-.5-.1 0-.8 0-.6 0-.8 0-.6 0-.8.3-.3 0-.7 0-.7 0-.7 0-.7 0-.7 0-.7 0-.7 0-.7 0-.7.2-.5.2-.5 0-.8 0-.6 0-.8 0-.6 0-.8 0-.6 0-.8 0-.6 0-.8 0-.6 0-.8 0-.6 0-.8 0-.6.3-.4 0-.7 0-.7 0-.7 0-.7 0-.7 0-.7 0-.7 0-.7 0-.7 0-.7 0-.7 0-.7 0-.7 0-.7 0-.7 0-.7 0-.7 0-.7 0-.7 0-.7 0-.7 0-.7 0-.7 0-.7 0-.7 0-.7 0-.7 0-.7 0-.7 0-.7 0-.7 0-.7.4-.4-.2-.5-.2-.5 0-.7.2-.5.7 0 .3.3.6-.1.3 0-.1.5-.8 0-.6 0-.2.5.5.2.3.3.8 0 .6 0 .6.2.2.5.3-.3.3-.4.8 0 .1-.5-.1-.5-.8 0-.1-.5-.5-.2-.8 0-.5-.2.2-.5.5-.2.4 0 .2.5.5-.2.1-.5.8 0 .1.5.2.6.5.2.2.5.7 0 .7 0 .2.5.2.5.6 0 .2-.5.2-.5.7 0 .2-.5-.5-.2-.6-.2 0-.7.6-.2.6 0 .6.2.5.2.5-.2 0-.7 0-.7.2-.5.5.2.2.5.7 0 .7 0 .2.5.1.5.8 0 .1.5.2.6.7 0 .7 0 .2.5.5.2.7 0 .5.1 0 .8 0 .6.6.2.5.2 0 .7.5.2.2-.5.2-.6.6 0 .2.6 0 .6-.2.6-.6 0 0 .3.3.4 0 .3 0 .4.3.3.2-.5.6-.2.5.2 0 .7.5.2.2.5.5.2.5.2 0 .6.6.2.6 0 .6.2-.2.5-.5.2.1.5.4.4.2.5.5.2.2.5.1.5.8 0 .1.5-.1.6-.6.2.4.3 0 .7-.2.5-.5.2.1.5.8 0 .1.6.2.5.7 0 .2.5-.6.2 0 .3.2.5-.5.2-.2.6.2.5.7 0 .4.3 0 .4-.2.5.2.5.6 0 .8 0 .6 0 .2-.5.2-.5.2.5 0 .7-.4.4-.5.1-.5.2.3.3-.1.6-.8 0-.1.5.5.2.5-.2.2-.5.5.2-.3.3 0 .7-.2.5-.2.5 0 .8 0 .6-.1.6-.2.5 0 .7 0 .7-.2.5-.2.6 0 .6 0 .8 0 .6 0 .8-.3.3 0 .7 0 .7 0 .7 0 .7 0 .7 0 .7 0 .7-.2.5-.2.5 0 .8 0 .6 0 .8 0 .6 0 .8 0 .6 0 .8 0 .6.4.4 0 .7 0 .7 0 .7 0 .7-.5.2-.2-.6-.2-.5-.7 0-.2.5.2.6.7 0 .2.5.5.2.2.5 0 .7-.5.2-.2-.5-.2-.6-.4.4-.3.3-.3.4-.2.5-.6.2-.6 0-.2.5-.6.2-.6 0-.6.1 0 .8.6.1.1.5-.5.2-.2.6-.3.3-.5.2-.2.5-.4.4-.3.3-.2.5-.7 0-.4-.3 0 .3.2.6.2.5.7 0 0 .3-.5.2-.4 0-.5-.2-.3.4-.8 0-.1-.6-.2-.5-.5.2-.4 0 0-.7-.5-.2-.2.6.2.5.5.1.2.6.7 0 .2.5-.2.5-.7 0-.7 0-.2-.5-.1-.5-.8 0-.1.5 0 .7-.2.5zM260.6,246.5l-.7 0-.2-.5.5-.2.6.2-.2.5zM255,246.5l-.5-.2.5-.2 0 .4zM248.7,247.5l-.5-.1 0-.8.5-.1.2.5-.2.5zM253.2,247.5l-.6 0-.8 0 0-.3.4-.4.7 0 .5.2-.2.5zM264.8,248.6l-.5-.2 0-.7.5-.2.2.5-.2.6zM253.2,249.3l-.6 0-.2-.5.5-.2.5.2-.2.5zM248.7,250.3l-.5-.1 0-.8.5-.1.2.5-.2.5zM259.7,250.2l0-.8-.5-.1-.5.1 0 .8.5.1.5-.1zM260.8,249.4l-.4 0 .4 0zM248.2,252.6l-.2-.5-.7 0-.2-.5-.1-.6-.8 0-.1.6-.2.5-.5.1.2.6.5-.2.1-.5.8 0 .1.5.5.2.6-.2zM250.6,251.9l0-.7-.5-.2-.2.6.2.5.5-.2zM258.7,251.2l-.4 0 .4 0zM267.2,253.8l0-.3 0 .3zM268.3,254.9l-.5-.2.2-.5.3.3 0 .4zM271.4,254.9l0-.4 0 .4zM271.1,255.6l-.5-.2.2-.5.5.1-.2.6zM246.1,256.4l0-.6-.5-.2-.2.5.2.5.5-.2zM267.8,258.9l-.2-.5-.2.5.4 0zM269.5,258.9l-.1-.5-.6.2.2.5.5-.2zM272.2,259.1l-.8 0-.1-.5.5-.2.5.2-.1.5zM272.5,260.1l-.2-.5.2-.5.2.5-.2.5zM274.2,261.2l-.6 0-.2-.6.2-.5.1.5.4 0 .3 0-.2.6zM271.3,261.7l-.2-.5-.5.2.2.5.5-.2zM273.6,264.7l0-.4 0 .4zM275.6,268.2l-.6 0-.8 0-.1-.6-.5-.1-.2-.5 0-.8 0-.6.5-.2.2.5 0 .7.3.4.2.5.7 0 .5.1-.2.6zM273.4,270.8l0-.7-.6-.2-.1.5.1.6.6-.2zM274.1,274l-.4 0 .4 0zM273.4,277.1l0-.7-.6-.2-.5.2.4.4.1.5.6-.2zM273.4,293.2l-.2-.5-.7 0-.2.5.5.2.6-.2zM271.3,296l-.2-.5-.2.5.4 0zM271.3,296.7l-.4 0 .4 0zM270.6,297.8l0-.8-.4 0-.3.4.1.5.6-.1zM273.9,299.7l-.5-.2.2-.5.5.2-.2.5zM247,300.7l-.8 0-.1-.5.1-.5.8 0 .1.5-.1.5zM248,300.4l-.4-.4 0-.3.6.1-.2.6zM271.1,301.4l-.5-.2 0-.6 0-.8.5-.1.2.5 0 .7-.2.5zM267.1,300.6l-.4 0 .4 0zM245.9,301.4l-.5-.2.2-.5.5.2-.2.5zM252.4,301.2l-.4-.3-.3 0 .1.5.6-.2zM250.4,302.8l-.5-.2.5-.1 0 .3zM269.7,303.2l-.2-.6.5-.1 0 .3-.3.4zM271.1,303.2l-.5-.2.2-.5.6 0 0 .3-.3.4zM250.4,304.2l-.5-.2 0-.6.5-.2.2.5-.2.5zM268,303.5l0-.3 0 .3zM261.5,305.1l0-.7-.5-.2-.2-.5-.4 0-.5.2 0 .3.7 0 .2.6.2.5.5-.2zM265,304l-.6-.1 0 .3.6-.2zM250.4,306l-.5-.2.2-.5.5.1-.2.6zM252.2,306l-.5-.2.1-.5.6.1-.2.6zM254.3,306.7l-.5-.2-.6-.2-.5-.1.5-.2.8 0 .5.2-.2.5zM257.8,307l-.7 0-.2-.5.2-.5.7 0 .2.5-.2.5zM250.4,307.4l0-.4 0 .4zM256.8,307.7l-.6-.1.2-.6.5.2-.1.5zM259.6,307.7l-.8 0-.6 0-.2-.5.5-.2.7 0 .5.2-.1.5zM255,308.8l-.5-.2 0-.7.5-.2.2.5-.2.6zM257.8,308.1l-.5-.2.5-.2 0 .4zM264.1,308.8l-.7 0-.2-.6.2-.5.7 0 .2.5-.2.6zM256,309.1l-.5-.1.5-.2 0 .3zM259.6,309.5l-.8 0-.1-.5.5-.2.5.2-.1.5zM261,309.5l-.2-.5.5-.2 0 .3-.3.4zM263,310.2l-.5-.2.2-.5.5.1-.2.6z" fill="#b6f000"/><path d="M259.8,288.6l.7-.3.5-.3.6-.6.4-.5.5-.7.5-.7.3-.7.3-.7.2-.7.3-1 .1-.8.2-1 .1-.7.1-1.1 0-1-.1-1-.1-.8-.1-1-.2-1-.1-.8-.2-.7-.4-1-.2-.7-.3-.7-.4-.7-.4-.7-.5-.7-.3-.4-.5-.6-.6-.5-.6-.6-.7-.3-.7-.4-.8-.1-1-.1-.8.2-.9.4-.5.3-.6.5-.5.6-.5.6-.4.6-.4.6-.3.8-.3.8-.2.8-.2.6-.2 1.1-.2.8 0 .9-.1 1.1.1 1.1 0 1 .1.7.2 1.1.1.6.3 1.1.2.7.3.7.3.7.3.7.4.7.4.7.5.7.5.5.4.5.6.6.7.4.7.4.7.3 1.1.1 1-.1M259.3,296.4l.9-.2.8-.2.7-.4.7-.3.6-.5.7-.6.4-.4.6-.6.5-.6.3-.5.4-.7.4-.6.4-.8.3-.6.3-.8.3-.9.3-.8.1-.7.3-1 .1-.8.2-1 .1-.7.1-1.1.1-1 0-1 0-1.1 0-1.1-.1-1-.1-1-.1-.8-.1-1-.2-1-.1-.8-.2-.9-.3-.8-.2-.7-.3-.8-.3-1-.3-.6-.3-.8-.3-.6-.3-.8-.4-.6-.4-.8-.5-.6-.3-.5-.5-.6-.6-.6-.3-.5-.7-.6-.5-.4-.5-.4-.8-.5-.6-.3-.8-.3-.6-.3-1.1-.2-1.1 0-1 .2-.7.1-.7.3-.7.4-.7.4-.7.5-.5.5-.6.5-.4.5-.6.7-.4.5-.3.6-.5.6-.5.8-.4.4-.5.6-.6.5-.6.2-.4 0 0 1.1 0 1 0 1 0 1.1 0 1.1 0 1 0 1-.4.8 0 1 0 1 0 1.1 0 1.1 0 1 0 1 0 1.1 0 1 .6.4.5.5.4.6.4.6.3.8.4.6.4.8.3.6.4.8.4.6.4.8.4.6.4.6.3.5.6.7.5.7.3.4.7.7.4.3.7.6.6.5.6.3.7.3.8.4.8.2.8.2.9 0M259.9,301.6l1.1-.2.6-.2.8-.3.7-.3.7-.4.6-.5.7-.5.4-.4.7-.7.4-.4.5-.7.5-.6.4-.6.3-.6.4-.6.3-.7.4-.7.3-.7.3-.8.4-.9.3-.8.2-.6.2-.8.3-1 .2-.7.2-.7.3-1 .1-.8.1-1 .1-1 .1-1.1 0-1.1-.1-1-.1-1-.1-1.1-.1-.7-.1-1-.2-1.1-.1-.7-.2-1-.1-.8-.2-1-.2-.7-.2-1-.2-.7-.3-.8-.3-.9-.2-.8-.3-.7-.3-.7-.2-.7-.4-.7-.3-.7-.3-.7-.4-.7-.4-.7-.5-.7-.4-.7-.5-.6-.3-.5-.6-.6-.5-.6-.4-.5-.6-.5-.6-.6-.4-.3-.8-.5-.6-.5-.8-.3-.6-.4-.8-.2-.6-.2-1.1-.2-1.1-.1-1 .1-1 .2-.8.2-.6.3-.8.3-.6.4-.8.5-.5.4-.5.4-.7.6-.5.4-.6.4-.6.5-.8.3-1-.1 0 1 0 1 0 1.1 0 1.1 0 1 0 1 0 1.1 0 1.1 0 1 0 1 0 1.1 0 1.1 0 1 0 1 0 1.1-.4 1 0 .7 0 1.1 0 1.1 0 1 0 1 0 1.1 0 1.1 0 1 0 1 0 1.1-.3.7 0 1 0 1.1 0 1.1 0 1 0 1 0 .9.7.4.6.5.4.4.6.6.5.7.3.5.5.6.6.7.3.5.5.6.6.6.4.4.7.7.4.3.6.6.7.5.5.3.6.4.6.4.8.3.9.3.8.3.8.1.9.1 1.1-.1M261.1,305.8l.9-.2.7-.3.7-.2.7-.4.7-.4.7-.5.6-.4.5-.4.6-.7.4-.4.6-.7.4-.5.4-.5.5-.7.5-.7.4-.6.4-.6.3-.6.5-.6.4-.8.5-.6.5-.4.9-.1 0-.9-.3-.8 0-1 0-1 0-1.1 0-1.1 0-1 .3-1 0-.8 0-1 0-1 0-1.1 0-1.1.4-.6 0-1.1 0-1.1 0-1 .3-.7 0-1.1.4-1 0-.7 0-1.1.3-.6 0-.8-.7-.5-.4-.6-.3-.9-.3-.8-.2-.6-.2-.8-.4-1-.2-.7-.2-.7-.3-.7-.3-.9-.3-.8-.3-.8-.4-.6-.2-.8-.3-.6-.4-.8-.4-.6-.3-.8-.5-.6-.4-.8-.3-.5-.4-.5-.5-.7-.5-.7-.4-.4-.6-.6-.4-.5-.8-.3-.3-.7-.7-.6-.5-.4-.5-.4-.8-.4-.6-.4-.8-.3-.6-.3-1-.3-.8-.2-1-.1-.8-.1-1 0-.7.1-1.1.3-.6.2-.8.2-.6.3-.8.4-.6.4-.8.6-.6.3-.7.4-.7.4-.8.2-1-.2 0 1 0 1 0 1.1 0 1.1 0 1 0 1 0 1.1 0 1.1 0 1 0 1 0 1.1 0 1.1 0 1 0 1 0 1.1 0 1.1 0 1 0 1 0 1.1 0 1.1 0 1-.4.7 0 1.1 0 1 0 1 0 1.1 0 1.1 0 1 0 1 0 1.1 0 1.1-.3.6 0 1.1 0 1.1 0 1 0 1 0 1.1 0 1.1-.4.6 0 1.1 0 1.1 0 1 .4.7-.2 1.1.6.3.7.5.6.6.4.4.6.6.4.5.6.5.5.6.4.5.7.6.4.5.6.5.7.5.4.4.7.4.6.4 1.1-.1.3.9.8.3.6.2 1.1.3.7.1.7-.1 1.1-.3.6.4.9-.1M252.9,250.1l-.7-.7 1-.3 0 .7" fill="none" stroke="#a0d800" stroke-width="0.45"/><path d="M236.8,237.7l-.5-.1 0-.8.3 0 .2.6 0 .3zM237.8,237.7l-.5-.1 0-.8.5-.1.2.5-.2.5zM237.8,300.7l-.5-.1 0-.8-.3-.3-.6-.2-.1-.5 0-.7-.5-.2-.2.5-.2.6-.7 0-.7 0-.7 0-.5-.2 0-.7.5-.2.2-.5.1-.5.8 0 .6 0 0-.4-.5-.1-.5-.2-.5.2-.2.5-.3-.4-.2-.5 0-.7-.6-.2-.5.2 0 .7-.3 0-.4-.4.2-.5 0-.3-.4.3-.5-.1-.3-.4-.4-.4-.2-.5-.3.4-.3-.4 0-.3.5-.2.1-.5.6.1.2.6.6 0 0-.4-.3-.3-.5-.2 0-.7-.6-.2-.1.6-.2.5-.5-.2-.4-.3-.3-.4-.5-.2-.2-.5.2-.5.5-.2-.4-.4-.5-.1-.5-.2 0-.7-.4-.4-.1-.5-.4-.3-.4-.4 0-.3.8 0 .5.1 0 .8.5.1.2-.5-.4-.4-.3-.3-.2-.5-.7 0-.2-.6-.2-.5-.6 0-.2-.5-.4-.4.6-.1 0-.4-.4-.3-.5-.2 0-.7.5-.2 0-.3-.4-.4-.1.6-.4 0-.1-.6-.2-.5-.4-.3.4-.4-.4-.4-.2-.5-.1-.5.3-.4-.3-.3 0-.7.1-.5.2-.5-.2-.6-.6 0-.6-.2.2-.5.5-.1 0-.8 0-.6.5-.2.2-.6-.3-.3-.4-.3 0-.8-.5-.1-.2-.5-.3 0 0 .6 0 .8 0 .6-.2.6-.5-.2 0-.7 0-.7 0-.7 0-.7 0-.7 0-.7.5-.2.2-.5-.2-.5-.5.2-.2.5-.2-.5-.3-.4.3-.4.2-.5.2-.5.3-.4.2-.5.2-.5.3-.4.2-.5.2-.5.3-.4.4-.3.1-.5.2-.6.4-.3.2-.5.1-.6.4-.3.1-.5.2-.6.4-.3.2-.5.3-.4.2-.5.3-.3.2-.6.2-.5.3-.3.2-.6.2-.5.3-.3.2-.6.2-.5.3-.3.2-.6.3-.3.2-.5.4-.4.2-.5.1-.5.4-.4.1-.5.2-.5.4-.4.2-.5.1-.5.4-.4.1-.5.2-.5.4-.4.3-.4.2-.5.2-.5.3-.4.2-.5.2-.5.3-.4.2-.5.2-.5.3-.4.2-.5.2-.5.3-.4.2-.5.2-.5.5-.2.2-.5.5-.2.2.5.1.6.4.3.4.4.6 0 .4-.4.4.4.3.3 0 .4-.5.2.3.3.4.3 0 .8.1.5.6-.2.2-.5.3.3.3.4.2.5 0 .7-.2.5-.5.2.4.4.3 0 .2-.6.5.2-.1.5 0 .4.1.5.4 0 .1-.5.4.3.2-.5.5-.2.5.2 0 .7 0 .7 0 .7-.2.5-.1.5.3 0 .2-.5.5.2.2.5.5.2 0 .7 0 .7 0 .7 0 .7 0 .7 0 .7 0 .7 0 .7 0 .7 0 .7 0 .7 0 .7 0 .7 0 .7 0 .7 0 .7 0 .7 0 .7 0 .7 0 .7 0 .7 0 .7 0 .7 0 .7 0 .7 0 .7 0 .7 0 .7 0 .7 0 .7 0 .7 0 .7 0 .7 0 .7 0 .7 0 .7-.3.4 0 .6 0 .8 0 .6 0 .8 0 .6 0 .8 0 .6 0 .8 0 .6 0 .8 0 .6 0 .8 0 .6 0 .8-.2.5-.2.5 0 .7 0 .7 0 .7 0 .7 0 .7 0 .7 0 .7 0 .7 0 .7-.3.3 0 .8 0 .6 0 .8 0 .6 0 .8-.4.3 0 .7.4.4-.4.3 0 .7 0 .7-.2.5-.6 0-.2-.5-.6-.2-.1.5.1.6.6.2 0 .6-.6.2-.3-.3-.7 0-.4-.4-.6 0-.4.4-.7 0-.7 0-.2.5-.2.5zM238,240.7l-.2-.5-.1.5.3 0zM241.4,242.3l-.6-.2.2-.5.4.3 0 .4zM242.4,244.7l-.5-.1.1-.6.6.2-.2.5zM241.9,247l-.2-.5-.5.1.3.4.4 0zM244.8,247.5l-.5-.1.2-.6.3.4 0 .3zM223.3,276l-.1-.5-.2.5.3 0zM221.8,278.7l-.2-.5.3 0-.1.5zM223.5,285l-.2-.6.4 0-.2.6zM225.2,289.2l0-.4 0 .4zM228.6,290.4l-.4 0 .4 0zM229.8,296.2l-.5-.2 0-.7.5-.2.2.5-.2.6zM238,296.7l-.2-.5-.5.2.2.5.5-.2zM232.6,297.9l-.7 0-.2-.5.2-.5.7 0 .2.5-.2.5zM238,298.8l0-.7-.5-.2-.2.5.2.6.5-.2zM237.2,301.4l-.8 0-.1-.5.5-.2.5.2-.1.5zM239.6,301.1l-.5-.2.5-.2 0 .4zM241.7,302.5l-.7 0-.2-.5-.5-.2-.5-.2.5-.2.7 0 .7 0 .7 0 .2.6-.6.1-.3.4z" fill="#4fc86a"/><path d="M242.4,299.7l-.7 0-.7 0-.2-.5 0-.8 0-.6 0-.8 0-.6-.5-.2-.5.2 0 .6-.2.6-.7 0-.7 0-.4-.4-.5.2-.1.5-.8 0-.1-.5.1-.5.8 0 .6 0 .8 0 .5-.2 0-.7-.2-.5-.7 0-.4-.4-.5.2 0 .7-.5.2-.7 0-.5-.2-.2-.5-.4-.4-.5.2 0 .7-.5.2-.5-.2-.2-.5-.2-.5-.3 0-.6.1-.5-.1.2-.6.7 0 0-.3-.4-.4-.5-.1.5-.2.6-.2.2-.5.5-.2-.5-.2-.4.4-.5-.2-.4 0-.5.2-.7 0-.3-.4-.2-.5.5-.2.5-.2-.3-.3-.4-.3-.3-.4-.2-.5-.7 0-.7 0-.2-.5-.3-.4-.4-.4-.3 0-.6.2-.1-.5.5-.2.2-.5-.2-.5-.5-.2-.2-.5-.7 0-.2-.6.2-.5.5-.1-.1-.6-.4-.3-.2.5-.3 0-.2-.5-.2-.5.5-.2.8 0 .1-.6-.1-.5-.2-.5-.4 0-.3 0-.5-.2-.6-.2-.3 0-.4 0 0-.6 0-.8.5-.1 0-.4-.5-.1.2-.6.5-.2-.3-.3-.4-.3-.3-.4 0-.7 0-.7.5-.2.2-.5-.5-.2-.8 0-.1-.5.1-.5.6-.2-.4-.3.4-.4 0-.7-.6-.2-.5-.1 0-.8 0-.6-.5-.2-.2-.6 0-.6-.3-.4 0-.7 0-.7-.2-.5-.5.1-.2.6-.5-.2.3-.4.2-.5.2-.5.3-.4.2-.5.2-.5.3-.4.2-.5.2-.5.3-.4.4-.3.1-.5.2-.6.4-.3.2-.5.1-.6.4-.3.1-.5.2-.6.4-.3.2-.5.3-.4.2-.5.3-.3.2-.6.2-.5.3-.3.2-.6.2-.5.3-.3.2-.6.2-.5.3-.3.2-.6.3-.3.2-.5.4-.4.2-.5.1-.5.4-.4.1-.5.2-.5.4-.4.2-.5.1-.5.4-.4.1-.5.2-.5.4-.4.3-.4.2-.5.2-.5.3-.4.2-.5.2-.5.3-.4.2-.5.2-.5.3-.4.2-.5.2-.5.3-.4.2-.5.2-.5.3 0 .2.5 0 .4-.5.1-.2.6-.2.5.2.5.7 0 .2-.5.3 0 .4 0 .3 0 .4.3.5.2.5.2.2.5.4.4.5.1 0 .8.1.5.4.3.2.6-.4.3.4.3.2.6.6 0 .8 0 .5.2-.2.5-.7 0-.7 0-.5.1.2.6.3.3.7 0 .7 0 .3.4.2.5.4.4.2.5.6 0 .2-.5 0-.8.2-.5.5.2 0 .7.5.2.2.5 0 .7-.2.5-.5.2.2.5.5.2 0 .7 0 .7 0 .7 0 .7 0 .7 0 .7 0 .7 0 .7 0 .7 0 .7 0 .7 0 .7 0 .7 0 .7 0 .7 0 .7 0 .7 0 .7 0 .7 0 .7 0 .7 0 .7 0 .7 0 .7 0 .7 0 .7 0 .7 0 .7 0 .7 0 .7 0 .7 0 .7-.3.4 0 .6 0 .8 0 .6 0 .8 0 .6 0 .8 0 .6 0 .8 0 .6 0 .8 0 .6 0 .8 0 .6 0 .8-.2.5-.2.5 0 .7 0 .7 0 .7 0 .7 0 .7 0 .7 0 .7 0 .7 0 .7-.3.3 0 .8 0 .6 0 .8 0 .6 0 .8-.4.3 0 .7 0 .7 0 .7-.2.5-.6 0-.8 0-.1.5.1.6.6.2-.2.5zM237.2,240.2l-.8 0-.6 0-.2-.6.5-.1.7 0 .5.1-.1.6zM235.6,242.4l-.4 0 .4 0zM240.3,243l-.5-.2.2-.5.3.3 0 .4zM238,243.8l0-.6-.5-.2-.2.5.4.3.3 0zM240,244l0-.3 0 .3zM239.1,244.6l-.2-.6-.5.2.3.4.4 0zM242.4,244.7l-.5-.1.1-.6.4.4 0 .3zM238,245.6l0-.7-.5-.2-.2.5.2.6.5-.2zM243.4,246.5l-.6 0-.2-.5.5-.2.5.2-.2.5zM242.8,247.5l0-.3 0 .3zM220.7,271l-.5-.2 0-.7.5-.2.2.5-.2.6zM220.7,273.4l-.2-.5-.3-.3 0-.8.5-.1.2.5 0 .7-.2.5zM224,277.1l-.2-.5-.1.5.3 0zM224.6,283.2l-.2-.5.3 0-.1.5zM225.2,282.9l0-.4 0 .4zM226.8,285.2l-.3 0 .3 0zM228,291.3l-.3-.4 0-.3.5.2-.2.5zM229.8,291.6l-.5-.2-.4-.3-.3-.3.5-.2.7 0 .2.5-.2.5zM243.6,292.5l-.2-.5-.6 0-.2.5.5.2.5-.2zM230.8,294.4l-.3-.3-.2-.5.5-.2.2.5-.2.5zM240.8,294.2l0-.6-.5-.2-.5.2 0 .6.5.2.5-.2zM242.6,296.7l0-.7 0-.7 0-.7-.6-.2-.1.6 0 .6 0 .8.1.5.6-.2zM232.6,297.2l-.5-.2.5-.1 0 .3zM234.4,299l-.6-.2-.3-.4 0-.6 0-.8.5-.1.7 0 .7 0 .2.5-.4 0-.5-.2-.2.6 0 .6-.1.6zM239.6,299l-.7 0-.7 0-.2-.6.2-.5.7 0 .7 0 .2.5-.2.6zM237.8,299.7l-.5-.2.2-.5.5.2-.2.5z" fill="#04b02a"/><path d="M237.5,278.8l.7-.5.5-.5.4-.7.4-.7.2-.7.3-.7.2-1 .1-1 .1-.8 0-1 0-1.1-.1-1-.1-.7-.2-1.1-.1-.7-.3-1-.2-.8-.2-.6-.3-.9-.3-.8-.4-.8-.4-.6-.3-.6-.4-.5-.6-.8-.4-.3-.7-.6-.7-.3-.7-.2-.7.1-.8.3-.6.4-.5.6-.4.8-.3.6-.3.8-.2 1-.2.7-.1 1.1-.1 1 0 1 .1 1.1 0 1.1.2 1 .1.7.2 1.1.2.6.2 1 .3.8.3.7.3.7.4.7.4.7.5.7.3.4.6.7.5.3.6.4 1.1.3 1.1-.2M238.5,286.6l.7-.3.8-.4.5-.4.5-.4.7-.6.4-.4.7-.7.4-.4.6-.4.7-.3 0-1 0-1.1 0-1 0-1 0-1.1 0-1.1 0-1 0-1 .4-.8 0-1 0-1 0-1.1 0-1.1 0-1 0-1 0-1.1-.3-.7-.4-.6-.4-.7-.4-.7-.3-.8-.3-.7-.3-.7-.3-.7-.4-.7-.3-.7-.3-.7-.4-.7-.4-.7-.4-.7-.4-.7-.4-.6-.3-.5-.5-.7-.6-.6-.3-.4-.7-.7-.5-.3-.5-.5-.8-.5-.6-.4-.8-.3-.6-.4-.8-.4-.4-.3-.6-.7-.4-.6-.3-.1-.4.6-.3.8-.4.6-.3.8-.4.6-.3.8-.4.6-.3.8-.4.6-.3.8-.4.6-.3.8-.4.6-.3.8-.4.6-.3.7.3.5.4 1 .1.6.1 1.1.1 1.1.1.6 0 1.1.1 1.1.1 1 .1 1 .1.8.1 1 .1 1 .2.8.2 1 .1.7.3.9.2.8.2.8.2.8.4.9.2.7.3.7.3.7.3.7.4.7.4.7.4.7.5.7.4.5.4.6.6.6.4.4.6.6.7.4.6.4.9.3.6.2 1.1 0 1-.1M239.6,291.8l1-.3.8-.3.6-.2 1-.2.8-.1.4.1 0-1.1 0-1.1 0-1 0-1 0-1.1 0-1.1.3-.6 0-1.1 0-1.1 0-1 0-1 0-1.1 0-1.1 0-1 0-1 0-1.1.4-.7 0-1 0-1.1 0-1.1 0-1 0-1 0-1.1 0-1.1 0-1 0-1 0-1.1 0-1.1 0-1 0-1 0-1.1 0-1.1-.1-.8-.5-.6-.5-.5-.4-.5-.4-.7-.5-.7-.4-.7-.4-.6-.3-.5-.5-.6-.4-.8-.5-.6-.4-.5-.5-.6-.5-.7-.4-.4-.6-.6-.4-.5-.7-.6-.4-.4-.7-.6-.4-.4-.6-.7-.4-.6-.4-.5-.3-.7-.4.4-.3.7-.4.7-.3.7-.4.7-.3.7-.4.7-.3.7-.4.7-.3.7-.4.7-.3.7-.4.7-.3.7-.7.7-.3.7-.4.7-.4.7-.3.7-.3.7-.4.7-.4.7-.3.7-.4.4-.3.6-.4.8-.3.6-.4.8-.3.6-.4.8 0 .7.4.7.4.9.1.8.2.7.2 1 .1 1.1.2.7.1 1 .2.8.1 1 .2.7.2 1.1.2.6.2 1.1.2.7.2.7.4 1 .2.7.2.8.3.6.3.8.4.8.3.8.3.7.4.7.4.7.3.6.4.5.4.8.5.6.4.6.5.5.6.7.3.4.8.6.5.4.5.4.7.4.7.3.9.3.9.2 1 0 1-.1M243.5,296l.3-1 0-.8 0-1 0-1 .4-1.1 0-.7 0-1 0-1.1 0-1.1 0-1 0-1 .3-1.1 0-.7 0-1 0-1.1 0-1.1 0-1 0-1 0-1.1 0-1.1 0-1 0-1 .4-.8 0-1 0-1 0-1.1 0-1.1 0-1 0-1 0-1.1 0-1.1 0-1 0-1 0-1.1 0-1.1 0-1 0-1 0-1.1 0-1.1 0-1 0-1 0-1.1 0-1.1-.1-.7-.6-.6-.5-.4-.6-.7-.3-.5-.5-.5-.5-.8-.4-.6-.4-.5-.5-.6-.5-.7-.4-.4-.5-.6-.5-.7-.4-.4-.7-.7-.3-.4-.6-.6-.5-.8-.3-.5-.4-.5-.4-.7-.3.3-.4.8-.3.6-.4.8-.3.6-.4.8-.3.6-.4.8-.3.6-.7.7-.4.7-.3.7-.3.7-.4.7-.4.7-.3.7-.3.7-.4.7-.4.7-.3.4-.4.7-.3.7-.4.7-.3.7-.4.7-.3.7-.4.7-.3.7-.4.7-.3.7-.4.7-.3.7-.4.7-.3.7-.4.7-.6.7-.4.7-.4.7-.3.7-.1.7.4.7.3.7.3.7.2.7.2 1 .1.8.3 1 .1.7.2 1.1.2.6.3.8.1 1 .2.7.3 1.1.2.6.2.8.3 1 .3.7.2.7.3.7.3.7.4.8.3.8.3.8.4.6.4.7.3.6.3.6.5.7.4.7.5.7.4.5.4.5.6.8.4.4.6.6.4.4.8.6.5.4.5.4.7.3.7.4 1 .3.8.2 1 .1 1 0 1.1-.1 1.1-.1.6-.1 1.1 0 .4 0" fill="none" stroke="#029a22" stroke-width="0.45"/><path d="M223.5,225.1l-.5-.1.2-.6.5.2-.2.5zM219.3,268.2l-.2-.6-.5-.1-.2.5-.5.2-.5-.2-.4-.4-.2-.5-.1-.5-.4-.4-.3-.3-.2-.5-.2-.6-.3-.3-.2-.5-.2-.6-.3-.3-.2-.5-.2-.6-.3-.3-.2-.5-.2-.6-.3-.3-.2-.5-.2-.6-.3-.3-.2-.5-.2-.6-.3-.3 0-.7 0-.7 0-.7.3-.4 0-.6 0-.8 0-.6.4-.4 0-.7 0-.7.3-.4 0-.6 0-.8.4-.3 0-.7.2-.5.1-.5 0-.8.4-.3 0-.7.1-.5.2-.5 0-.8.4-.3 0-.7.3-.4 0-.6.2-.6.2-.5.1-.5.2-.6.2-.5.2-.5.2-.5.1-.5.2-.6.2-.5.1-.5.2-.6.2-.5.2-.5.2-.5.1-.5.2-.6.2-.5.1-.5.2-.6.2-.5.2-.5.2-.5.1-.5.2-.6.2-.5.3-.3 0-.8.4 0 .5.2 0-.3-.5-.2 0-.7.3-.4 0-.6.4 0 .5.1.5.2.5.2.8 0 .5-.2.5-.2.7 0 .5.2-.2.5-.5.2.2.5.5-.1.2-.6.7 0 .2-.5.5-.2.2.5.5.2.5.2 0 .7-.5.2-.5.1.5.2.5-.2.6-.1.6 0 .8 0 .5.1.3 0 .6-.1.1.5-.5.2-.7 0-.7 0-.5.2.3.3.4.3.5.2.7 0 .5.2 0 .7.5.2.8 0 .1.5-.3.4.2.5.3.3.2.6-.5.1-.2.5.3.4.4.4 0 .6 0 .8.5.1.5.2 0 .7.5.2.6.2 0 .6 0 .8-.6.1-.1.5 0 .8-.4.3-.1.5-.2.6-.4.3-.2.5-.1.6-.4.3-.1.5-.2.6-.4.3-.2.5-.1.6-.4.3-.1.5-.4.4-.2.5-.3.3-.2.6-.2.5-.3.3-.2.6-.2.5-.3.3-.2.6-.2.5-.3.3-.2.6-.2.5-.3.3-.4.4-.1.5-.2.5-.4.4-.2.5-.1.5-.4.4-.1.5-.2.5-.4.4-.2.5-.1.5-.4.4-.3.4-.2.5-.2.5-.3.4-.2.5-.2.5-.3.4-.2.5-.2.5-.3.4-.2.5-.3.3-.2.6-.4.3-.2.5-.1.6-.4.3-.1.5-.2.6-.4.3-.2.5-.3.4zM223.7,226.7l0-.7-.5-.2-.2.6.2.5.5-.2zM226.5,229.5l0-.7-.5-.2-.6.2.2.5.4.4.5-.2zM230,230.2l-.2-.5-.5.1.1.6.6-.2zM235.4,230.4l-.7 0-.2-.6.5-.1.6.1-.2.6zM231.7,230.6l-.3 0 .3 0zM236.1,236l-.5-.2 0-.7-.6-.2-.5-.1 0-.8.2-.5.3.4.8 0 .5.1 0 .8 0 .6-.2.6zM218.2,269.9l-.1-.5.3 0-.2.5z" fill="#e958ad"/><path d="M218.2,267.5l-.6 0-.2-.5-.4 0-.3 0-.2-.6-.3-.3-.2-.5-.4-.4-.2-.5-.1-.5-.4-.4-.1-.5-.2-.5-.4-.4-.2-.5-.1-.5-.4-.4-.1-.5-.2-.5-.4-.4-.2-.5-.1-.5-.4-.4-.1-.5-.2-.5 0-.8 0-.6.2-.6.1-.5 0-.7 0-.7.2-.5.2-.6 0-.6.1-.6.2-.5 0-.7.2-.5.2-.5 0-.8.3-.3 0-.7.2-.5.2-.5 0-.8.3-.3 0-.7.2-.5.2-.5.2-.6.1-.5 0-.7.4-.4 0-.6.3-.4 0-.7.4-.3 0-.8.3-.3 0-.7.4-.4 0-.6.3-.4 0-.7.4-.3 0-.8.3-.3 0-.7.4-.4 0-.6.3-.4 0-.7.4-.3 0-.8.3-.3 0-.7.4-.4.1-.5.2-.5.2-.5.2.5 0 .7.2.5.5-.2 0-.6 0-.8 0-.6 0-.8.5-.1.5.1 0 .8.2.5.7 0 .2.5.3 0 .4-.4 0-.6.1-.6.8 0 .1.6 0 .6.5.2.2-.5.2-.5.7 0 .5.2.6.1 0 .4-.2.5.5.2.5.2 0 .6-.5.2-.5.2.2.5.5.2.3.3.2.6.7 0 .7 0 .2.5.3.3.5.2.8 0 .1-.5.2-.5.2.5.3.3.4.4 0 .7 0 .7.2.5.3.4.2.5 0 .7.1.5.4.4.7 0 .3.3 0 .4-.5.1.2.6 0 .3-.2.5.4.4-.2.5-.2.5-.3.4-.2.5-.2.5-.3.4-.2.5-.2.5-.3.4-.2.5-.2.5-.3.4-.2.5-.2.5-.3.4-.4.4-.2.5-.1.5-.4.4-.1.5-.2.5-.4.4-.2.5-.1.5-.4.4-.1.5-.2.5-.4.4-.2.5-.3.3-.2.6-.3.3-.2.5-.2.6-.3.3-.2.5-.2.6-.3.3-.2.5-.2.6-.3.3-.2.5-.3.4-.2.5-.4.3-.2.6-.1.5-.4.3-.1.6-.2.5-.4.3-.2.6-.1.5-.4.3-.3.4-.2.5-.2.5-.3.4-.2.5-.2.5-.3 0 0-.6-.2-.6-.4-.3-.5.1 0 .8 0 .6-.5.2-.2.6-.2.5zM226.5,229.5l0-.7-.5-.2-.6-.2 0-.6-.5-.2-.2.5.2.5.5.2 0 .7.6.2.5-.2zM230.8,230.4l-.6 0-.2-.6-.6-.1-.6 0-.6-.2 0-.7.6-.2.6 0 .8 0 .3.4.3.3.2.5-.2.6zM234.7,230.4l0-.4 0 .4zM231.7,233.7l-.1-.5-.6.2.2.5.5-.2zM235.4,234.9l-.7 0-.2-.5.2-.5.7 0 .2.5-.2.5zM217.4,263.4l-.2-.5-.5.2.1.5.6-.2zM219.3,268.2l-.2-.6 0-.6.2-.6.7 0 .2.6-.4.3-.2.5-.3.4z" fill="#e0108a"/><path d="M222.1,250.5l.7-.3.5-.4.5-.7.4-.6.4-.8.2-.7.1-1 0-.8 0-.6-.3-1.1-.3-.7-.5-.5-.6-.5-.8-.2-.7.2-.7.3-.6.7-.4.4-.4.6-.3.9-.2.9-.2.7 0 1.1.1.6.3 1 .3.6.6.6.6.3 1 .1M224.9,257.8l.4-.6.3-.8.4-.6.3-.8.4-.6.3-.8.4-.6.3-.8.4-.6.3-.8.4-.6.3-.8.4-.6.3-.8.4-.6.3-.8-.1-.6-.2-.9-.2-.9-.2-.9-.2-.9-.2-.6-.2-1.1-.3-.7-.3-.7-.3-.7-.3-.7-.5-.7-.5-.6-.4-.4-.6-.5-.8-.5-.6-.2-1.1-.2-1.1.1-.9.2-.8.3-.6.4-.5.4-.6.5-.6.5-.5.5-.5.5-.6.5-.1-.8-.2-.7 0 .7-.4.7-.3.7-.4 1 0 .7-.3.8-.3 1-.1.7-.3.7-.4 1 0 .8-.3.6 0 1.1-.4.7-.3 1 0 .8.3-.4.4-.5.3.6.2.9.2.8.3 1 .3.7.3.7.4.7.5.6.4.5.6.5.7.5.7.3.7.3.7.1 1 .1 1.1.1 1.1 0 .7.1 1 .1M222.1,262.8l.4-.8.3-.6.4-.8.3-.6.4-.8.3-.6.7-.7.3-.7.4-.7.4-.7.3-.7.3-.7.4-.7.4-.7.3-.7.4-.4.3-.7.4-.7.3-.7.4-.7.3-.7.4-.7.3-.7.4-.7.3-.7.4-.7.3-.7.4-.7.3-.7.4-.7-.2-.7-.2-.7-.4-.9-.3-.8-.2-.8-.3-.6-.3-.8-.3-.6-.4-.8-.4-.6-.5-.8-.4-.5-.4-.5-.7-.6-.6-.4-.5-.4-.7-.4-1-.3-.6-.1-1.1 0-1.1.1-.6.2-.8.2-.7.3-.8.4-.6 0-.2-1.1-.1.3-.4.8-.3 1 0 .7-.4.7-.3.7-.4 1 0 .7-.3.8-.4.6-.3 1.1 0 .7-.4.7-.3.7 0 1-.4.8-.3.6 0 1.1-.4.7-.3 1 0 .8-.4.6 0 1.1-.3.7 0 1-.4.8 0 1-.3.7 0 1.1-.3 1-.1.7 0 1.1.4.6.3.8.4.6.3.8.4.3 1.1.3.6.2.8.3 1 .3.7.1.8.2.9.2.8.2.8.3.6.4M220.4,266.2l.3-.6.4-.8.3-.6.4-.8.3-.6.4-.8.3-.6.4-.8.3-.6.4-.8.3-.6.7-.7.3-.7.4-.7.4-.7.3-.7.3-.7.4-.7.4-.7.3-.7.4-.4.3-.7.4-.7.3-.7.4-.7.3-.7.4-.7.3-.7.4-.7.3-.7.4-.7.3-.7.4-.7.3-.7.4-.7.3-.7.4-.7.3-.7.4-.7.3-.7-.3-.7-.4-.7-.3-.7-.3-.7-.3-.7-.3-.7-.4-.7-.4-.7-.4-.7-.4-.6-.4-.5-.5-.6-.9-.1-.2-1-.4-.4-.8-.4-.6-.4-.8-.3-.9-.2-.8-.2-1.1 0-1 .1-.7.1-1.1.3-.6.1-.8-.1-.3.7 0 .7-.4.7-.3.7-.4 1 0 .7-.3.8-.4.6-.3 1.1 0 .7-.4.7-.3.7-.3 1-.1.8-.3.6-.4.8-.3 1 0 .7-.4.7-.3 1 0 .8-.4.6 0 1.1-.3.7-.3 1-.1.8-.3.6 0 1.1-.4.7 0 1-.3.8 0 1 0 1-.4.8 0 1 .1.7.3.7.3.7.4.7.4.7.3.7.3.7.4.7.4.7.3.7.3.7.4.7.7.4.7-.2 1 0 .8.2.8.3.6.4M226.3,229.8l-.7-.3 0-1 1 .3-.3 1" fill="none" stroke="#c00c76" stroke-width="0.45"/><path d="M200,284.6l-.5-.2-.5-.1-.5-.2-.5-.2-.6-.1-.5-.2-.3-.4-.8 0-.3-.3-.7 0-.4-.4-.6 0-.4-.3-.2-.6.4-.3 0-.7.2-.5.1-.5 0-.8.2-.5.2-.5 0-.7 0-.7 0-.7-.2-.5-.2-.6 0-.6-.3-.4-.2-.5-.2-.5 0-.8 0-.6-.5-.2-.2-.6.2-.5.5-.1-.2-.6-.6 0-.2-.5.3-.3.5-.2.2-.6.4-.3 0-.7.3-.4 0-.6.4-.4.1-.5.2-.5.4-.4.3-.4.4-.3-.4-.3.4-.4 0-.7 0-.7 0-.7.5-.2.2-.5 0-.7.3-.3 0-.8.2-.5.5-.1 0-.8.2-.5.2-.5 0-.7.3-.3.2-.6.2.6.1.5.2-.5.4-.4-.4-.4.2-.5.2-.5.2-.5.5-.2.3-.3 0-.8.2-.5.4-.3.1-.6-.3-.3.2-.5.3-.4.3-.3.4-.4.5-.1.2-.6 0-.3-.2-.5-.3-.4.3-.4.2-.5.5.2.2.5.2-.5.3-.3.4-.4 0-.7.1-.5.8 0 .1-.6-.3-.3 0-.7.5-.2.3.4.8 0 .3.3.7 0 .4.4.6 0 .4.3.7 0 .3.4.6.2.5.1.5.2.6.2.5.1.5.2.5.2.5.2.2.5-.3.3 0 .8-.2.5-.2.5 0 .7-.3.3 0 .8-.2.5-.2.5 0 .7-.2.5-.1.6 0 .6-.2.6-.2.5 0 .7 0 .7-.1.5-.2.6 0 .6 0 .8-.2.5-.2.5-.2.5-.1.5-.4.4 0 .7-.3.3 0 .8-.4.3 0 .7-.3.4-.2.5-.2.5-.1.5-.2.5-.4.4-.2.5-.1.5-.2.6-.2.5-.1.5-.2.6-.4.3 0 .7-.3.4-.2.5-.2.5-.1.5-.2.5-.4.4-.2.5-.1.5-.2.6-.2.5-.3.3-.2.6-.2.5-.3.3-.2.6-.2.5-.3.3-.2.6-.2.5-.3.3-.2.6-.2.5-.3.3-.2.6-.2.5-.3.3-.2.6-.2.5-.3.3-.2.6-.2.5-.2.5zM194.8,261.9l-.5-.2.1-.5.6.2-.2.5zM194.8,263.6l-.2-.5.4 0-.2.5zM194.3,269.8l-.2-.6-.2.6.4 0z" fill="#3c0cb4"/><path d="M214,244.4l-.5-.2-.5-.2-.5-.2-.5-.1-.6-.2-.5-.2-.5-.1-.6-.2-.3-.4-.7 0-.4-.3-.6 0-.4-.4-.7 0-.3-.3-.8 0-.3-.4-.5-.2.2-.5.3-.3.3-.4.6-.2 0-.6.3-.4 0-.7.2-.5.2-.6-.4-.3.4-.3.5-.2.4-.4.1-.5.2-.5.2-.6 0-.6.5-.2.7 0 .2-.6.3-.3-.5-.2-.2-.5.5-.2.6-.2 0-.6.3-.4.2-.5.2.5.5.2.2-.6-.6-.1-.1-.5 0-.8.3-.3.2-.5.7 0 .7 0 .5-.2-.1-.5-.6-.2.4-.3.3-.4-.3-.4.3-.3.5-.2.4-.3.4-.4.3-.3.2-.5-.5-.2-.6-.2.4-.4.3-.3.4-.3.3 0 .6.1.3-.3.2-.6-.5-.1-.6-.2.4-.3.5-.2.5-.2.4-.4 0-.6.3-.4.4-.4.3-.3.4-.3.2-.6.5-.2.3-.3.4-.3.5-.2.3.3.2.5.4.4.2.5.1.5 0 .8 0 .6 0 .8-.1.5-.2.5 0 .7-.4.3 0 .8-.3.3 0 .7-.4.4 0 .6-.3.4 0 .7-.4.3 0 .8-.3.3-.2.5-.2.6-.1.5-.2.5-.2.5-.2.5-.2.6-.1.5-.2.5-.2.6-.1.5-.2.5-.2.5-.2.5-.2.6-.1.5-.2.5-.2.6-.1.5-.2.5-.2.5-.2.5-.2.6-.1.5-.2.5-.2.6 0 .6-.3.4 0 .7-.4.3-.2.6zM214.4,224.1l0-.4 0 .4zM209,235.8l.2-.5 0-.4-.8 0-.1.5.1.6.6-.2zM205.6,239.5l-.1-.5.3 0-.2.5z" fill="#1186b6"/><path d="M187.4,311.9l-.6 0-.2-.5 0-.7.3-.3 0-.8.2-.5.2-.5 0-.7.1-.5.2-.6 0-.6.4-.4 0-.7 0-.7.2-.5.1-.5.4-.4.1-.5.2-.5 0-.8 0-.6 0-.8.4-.3 0-.7 0-.7 0-.7.2-.5.1-.5 0-.8.2-.5.2-.5 0-.7.1-.5.4-.4 0-.3-.2-.5 0-.8.4-.3 0-.7.3-.4 0-.6.2-.6.2-.5.5-.2.2-.5-.2-.5-.2-.5.4-.4 0-.7.3-.3 0-.8.4-.3 0-.7.1-.5.2-.5.4 0 .5.1.5.2.6.2.5.1.5.2.5.2.5.2.4.3.7 0 .3.4.8 0 .3.3.2.6-.4.3-.1.5-.2.6-.4.3 0 .7-.3.4 0 .6-.4.4 0 .7-.3.3 0 .8-.4.3 0 .7-.3.4-.2.5-.2.5-.1.5-.2.5-.4.4 0 .7-.3.3 0 .8-.4.3-.1.5-.2.6-.2.5-.2.5-.3.4-.4.3.4.3-.5.2-.4.4 0 .3.2.5-.4.4 0 .7-.5.2-.5.1-.2.6-.2.5-.3.3-.4.4-.1.5-.2.5 0 .8-.4.3-.2.5-.1.6-.4.3-.3.3 0 .8-.2.5-.4.3-.1.6-.4.3-.1.5-.4.4-.4.3z" fill="#3f0a50"/><path d="M201.0,277.0 L194.5,292.5" stroke="#1a3cc8" stroke-width="1.1" fill="none"/><rect x="537.40" y="16.70" width="18.30" height="18.30" fill="#130d25" stroke="#fff" stroke-width="0.5"/><text x="546.55" y="27.85" font-size="9.0" font-weight="bold" text-anchor="middle" fill="#fff" textLength="9.6" lengthAdjust="spacingAndGlyphs">95</text><rect x="555.70" y="16.70" width="18.30" height="18.30" fill="#f8d9c3" stroke="#fff" stroke-width="0.5"/><text x="564.85" y="27.85" font-size="9.0" font-weight="bold" text-anchor="middle" fill="#262626" textLength="4.6" lengthAdjust="spacingAndGlyphs">5</text><rect x="574.00" y="16.70" width="18.30" height="18.30" fill="#fae9da" stroke="#fff" stroke-width="0.5"/><text x="583.15" y="27.85" font-size="9.0" font-weight="bold" text-anchor="middle" fill="#262626" textLength="9.6" lengthAdjust="spacingAndGlyphs">&lt;1</text><rect x="537.40" y="35.00" width="18.30" height="18.30" fill="#fae9da" stroke="#fff" stroke-width="0.5"/><text x="546.55" y="46.15" font-size="9.0" font-weight="bold" text-anchor="middle" fill="#262626" textLength="9.6" lengthAdjust="spacingAndGlyphs">&lt;1</text><rect x="555.70" y="35.00" width="18.30" height="18.30" fill="#04051a" stroke="#fff" stroke-width="0.5"/><text x="564.85" y="46.15" font-size="9.0" font-weight="bold" text-anchor="middle" fill="#fff" textLength="14.8" lengthAdjust="spacingAndGlyphs">&gt;99</text><rect x="574.00" y="35.00" width="18.30" height="18.30" fill="#fae9da" stroke="#fff" stroke-width="0.5"/><text x="583.15" y="46.15" font-size="9.0" font-weight="bold" text-anchor="middle" fill="#262626" textLength="9.6" lengthAdjust="spacingAndGlyphs">&lt;1</text><rect x="610.60" y="35.00" width="18.30" height="18.30" fill="#fae9da" stroke="#fff" stroke-width="0.5"/><text x="619.75" y="46.15" font-size="9.0" font-weight="bold" text-anchor="middle" fill="#262626" textLength="9.6" lengthAdjust="spacingAndGlyphs">&lt;1</text><rect x="537.40" y="53.30" width="18.30" height="18.30" fill="#fae9da" stroke="#fff" stroke-width="0.5"/><text x="546.55" y="64.45" font-size="9.0" font-weight="bold" text-anchor="middle" fill="#262626" textLength="9.6" lengthAdjust="spacingAndGlyphs">&lt;1</text><rect x="555.70" y="53.30" width="18.30" height="18.30" fill="#fae9da" stroke="#fff" stroke-width="0.5"/><text x="564.85" y="64.45" font-size="9.0" font-weight="bold" text-anchor="middle" fill="#262626" textLength="9.6" lengthAdjust="spacingAndGlyphs">&lt;1</text><rect x="574.00" y="53.30" width="18.30" height="18.30" fill="#05061b" stroke="#fff" stroke-width="0.5"/><text x="583.15" y="64.45" font-size="9.0" font-weight="bold" text-anchor="middle" fill="#fff" textLength="9.6" lengthAdjust="spacingAndGlyphs">99</text><rect x="592.30" y="53.30" width="18.30" height="18.30" fill="#fae9da" stroke="#fff" stroke-width="0.5"/><text x="601.45" y="64.45" font-size="9.0" font-weight="bold" text-anchor="middle" fill="#262626" textLength="9.6" lengthAdjust="spacingAndGlyphs">&lt;1</text><rect x="610.60" y="53.30" width="18.30" height="18.30" fill="#fae9da" stroke="#fff" stroke-width="0.5"/><text x="619.75" y="64.45" font-size="9.0" font-weight="bold" text-anchor="middle" fill="#262626" textLength="9.6" lengthAdjust="spacingAndGlyphs">&lt;1</text><rect x="628.90" y="53.30" width="18.30" height="18.30" fill="#fae9da" stroke="#fff" stroke-width="0.5"/><text x="638.05" y="64.45" font-size="9.0" font-weight="bold" text-anchor="middle" fill="#262626" textLength="9.6" lengthAdjust="spacingAndGlyphs">&lt;1</text><rect x="647.20" y="53.30" width="18.30" height="18.30" fill="#fae9da" stroke="#fff" stroke-width="0.5"/><text x="656.35" y="64.45" font-size="9.0" font-weight="bold" text-anchor="middle" fill="#262626" textLength="9.6" lengthAdjust="spacingAndGlyphs">&lt;1</text><rect x="574.00" y="71.60" width="18.30" height="18.30" fill="#f7cdb1" stroke="#fff" stroke-width="0.5"/><text x="583.15" y="82.75" font-size="9.0" font-weight="bold" text-anchor="middle" fill="#262626" textLength="4.6" lengthAdjust="spacingAndGlyphs">8</text><rect x="592.30" y="71.60" width="18.30" height="18.30" fill="#2a1636" stroke="#fff" stroke-width="0.5"/><text x="601.45" y="82.75" font-size="9.0" font-weight="bold" text-anchor="middle" fill="#fff" textLength="9.6" lengthAdjust="spacingAndGlyphs">89</text><rect x="610.60" y="71.60" width="18.30" height="18.30" fill="#f8dcc7" stroke="#fff" stroke-width="0.5"/><text x="619.75" y="82.75" font-size="9.0" font-weight="bold" text-anchor="middle" fill="#262626" textLength="4.6" lengthAdjust="spacingAndGlyphs">4</text><rect x="628.90" y="71.60" width="18.30" height="18.30" fill="#fae9da" stroke="#fff" stroke-width="0.5"/><text x="638.05" y="82.75" font-size="9.0" font-weight="bold" text-anchor="middle" fill="#262626" textLength="9.6" lengthAdjust="spacingAndGlyphs">&lt;1</text><rect x="647.20" y="71.60" width="18.30" height="18.30" fill="#fae9da" stroke="#fff" stroke-width="0.5"/><text x="656.35" y="82.75" font-size="9.0" font-weight="bold" text-anchor="middle" fill="#262626" textLength="9.6" lengthAdjust="spacingAndGlyphs">&lt;1</text><rect x="574.00" y="89.90" width="18.30" height="18.30" fill="#f9e3d2" stroke="#fff" stroke-width="0.5"/><text x="583.15" y="101.05" font-size="9.0" font-weight="bold" text-anchor="middle" fill="#262626" textLength="4.6" lengthAdjust="spacingAndGlyphs">2</text><rect x="592.30" y="89.90" width="18.30" height="18.30" fill="#f8d9c3" stroke="#fff" stroke-width="0.5"/><text x="601.45" y="101.05" font-size="9.0" font-weight="bold" text-anchor="middle" fill="#262626" textLength="4.6" lengthAdjust="spacingAndGlyphs">5</text><rect x="610.60" y="89.90" width="18.30" height="18.30" fill="#2d1738" stroke="#fff" stroke-width="0.5"/><text x="619.75" y="101.05" font-size="9.0" font-weight="bold" text-anchor="middle" fill="#fff" textLength="9.6" lengthAdjust="spacingAndGlyphs">88</text><rect x="628.90" y="89.90" width="18.30" height="18.30" fill="#f9e0cd" stroke="#fff" stroke-width="0.5"/><text x="638.05" y="101.05" font-size="9.0" font-weight="bold" text-anchor="middle" fill="#262626" textLength="4.6" lengthAdjust="spacingAndGlyphs">3</text><rect x="647.20" y="89.90" width="18.30" height="18.30" fill="#f9e3d2" stroke="#fff" stroke-width="0.5"/><text x="656.35" y="101.05" font-size="9.0" font-weight="bold" text-anchor="middle" fill="#262626" textLength="4.6" lengthAdjust="spacingAndGlyphs">2</text><rect x="665.50" y="89.90" width="18.30" height="18.30" fill="#fae9da" stroke="#fff" stroke-width="0.5"/><text x="674.65" y="101.05" font-size="9.0" font-weight="bold" text-anchor="middle" fill="#262626" textLength="9.6" lengthAdjust="spacingAndGlyphs">&lt;1</text><rect x="574.00" y="108.20" width="18.30" height="18.30" fill="#fae9da" stroke="#fff" stroke-width="0.5"/><text x="583.15" y="119.35" font-size="9.0" font-weight="bold" text-anchor="middle" fill="#262626" textLength="9.6" lengthAdjust="spacingAndGlyphs">&lt;1</text><rect x="592.30" y="108.20" width="18.30" height="18.30" fill="#fae9da" stroke="#fff" stroke-width="0.5"/><text x="601.45" y="119.35" font-size="9.0" font-weight="bold" text-anchor="middle" fill="#262626" textLength="9.6" lengthAdjust="spacingAndGlyphs">&lt;1</text><rect x="610.60" y="108.20" width="18.30" height="18.30" fill="#fae9da" stroke="#fff" stroke-width="0.5"/><text x="619.75" y="119.35" font-size="9.0" font-weight="bold" text-anchor="middle" fill="#262626" textLength="9.6" lengthAdjust="spacingAndGlyphs">&lt;1</text><rect x="628.90" y="108.20" width="18.30" height="18.30" fill="#541e4e" stroke="#fff" stroke-width="0.5"/><text x="638.05" y="119.35" font-size="9.0" font-weight="bold" text-anchor="middle" fill="#fff" textLength="9.6" lengthAdjust="spacingAndGlyphs">78</text><rect x="647.20" y="108.20" width="18.30" height="18.30" fill="#f59970" stroke="#fff" stroke-width="0.5"/><text x="656.35" y="119.35" font-size="9.0" font-weight="bold" text-anchor="middle" fill="#262626" textLength="9.6" lengthAdjust="spacingAndGlyphs">21</text><rect x="665.50" y="108.20" width="18.30" height="18.30" fill="#fae9da" stroke="#fff" stroke-width="0.5"/><text x="674.65" y="119.35" font-size="9.0" font-weight="bold" text-anchor="middle" fill="#262626" textLength="9.6" lengthAdjust="spacingAndGlyphs">&lt;1</text><rect x="574.00" y="126.50" width="18.30" height="18.30" fill="#fae9da" stroke="#fff" stroke-width="0.5"/><text x="583.15" y="137.65" font-size="9.0" font-weight="bold" text-anchor="middle" fill="#262626" textLength="9.6" lengthAdjust="spacingAndGlyphs">&lt;1</text><rect x="592.30" y="126.50" width="18.30" height="18.30" fill="#fae9da" stroke="#fff" stroke-width="0.5"/><text x="601.45" y="137.65" font-size="9.0" font-weight="bold" text-anchor="middle" fill="#262626" textLength="9.6" lengthAdjust="spacingAndGlyphs">&lt;1</text><rect x="610.60" y="126.50" width="18.30" height="18.30" fill="#fae9da" stroke="#fff" stroke-width="0.5"/><text x="619.75" y="137.65" font-size="9.0" font-weight="bold" text-anchor="middle" fill="#262626" textLength="9.6" lengthAdjust="spacingAndGlyphs">&lt;1</text><rect x="628.90" y="126.50" width="18.30" height="18.30" fill="#f6b995" stroke="#fff" stroke-width="0.5"/><text x="638.05" y="137.65" font-size="9.0" font-weight="bold" text-anchor="middle" fill="#262626" textLength="9.6" lengthAdjust="spacingAndGlyphs">13</text><rect x="647.20" y="126.50" width="18.30" height="18.30" fill="#34193d" stroke="#fff" stroke-width="0.5"/><text x="656.35" y="137.65" font-size="9.0" font-weight="bold" text-anchor="middle" fill="#fff" textLength="9.6" lengthAdjust="spacingAndGlyphs">86</text><rect x="665.50" y="126.50" width="18.30" height="18.30" fill="#fae8d8" stroke="#fff" stroke-width="0.5"/><text x="674.65" y="137.65" font-size="9.0" font-weight="bold" text-anchor="middle" fill="#262626" textLength="4.6" lengthAdjust="spacingAndGlyphs">1</text><rect x="574.00" y="144.80" width="18.30" height="18.30" fill="#fae9da" stroke="#fff" stroke-width="0.5"/><text x="583.15" y="155.95" font-size="9.0" font-weight="bold" text-anchor="middle" fill="#262626" textLength="9.6" lengthAdjust="spacingAndGlyphs">&lt;1</text><rect x="592.30" y="144.80" width="18.30" height="18.30" fill="#fae9da" stroke="#fff" stroke-width="0.5"/><text x="601.45" y="155.95" font-size="9.0" font-weight="bold" text-anchor="middle" fill="#262626" textLength="9.6" lengthAdjust="spacingAndGlyphs">&lt;1</text><rect x="610.60" y="144.80" width="18.30" height="18.30" fill="#fae9da" stroke="#fff" stroke-width="0.5"/><text x="619.75" y="155.95" font-size="9.0" font-weight="bold" text-anchor="middle" fill="#262626" textLength="9.6" lengthAdjust="spacingAndGlyphs">&lt;1</text><rect x="628.90" y="144.80" width="18.30" height="18.30" fill="#f9e3d2" stroke="#fff" stroke-width="0.5"/><text x="638.05" y="155.95" font-size="9.0" font-weight="bold" text-anchor="middle" fill="#262626" textLength="4.6" lengthAdjust="spacingAndGlyphs">2</text><rect x="647.20" y="144.80" width="18.30" height="18.30" fill="#f6b18b" stroke="#fff" stroke-width="0.5"/><text x="656.35" y="155.95" font-size="9.0" font-weight="bold" text-anchor="middle" fill="#262626" textLength="9.6" lengthAdjust="spacingAndGlyphs">15</text><rect x="665.50" y="144.80" width="18.30" height="18.30" fill="#401b44" stroke="#fff" stroke-width="0.5"/><text x="674.65" y="155.95" font-size="9.0" font-weight="bold" text-anchor="middle" fill="#fff" textLength="9.6" lengthAdjust="spacingAndGlyphs">83</text><circle cx="528.2" cy="25.9" r="5.6" fill="url(#gbl)"/><circle cx="546.5" cy="172.4" r="5.6" fill="url(#gbl)"/><circle cx="528.2" cy="44.1" r="5.6" fill="url(#gdp)"/><circle cx="564.8" cy="172.4" r="5.6" fill="url(#gdp)"/><circle cx="528.2" cy="62.4" r="5.6" fill="url(#gin)"/><circle cx="583.1" cy="172.4" r="5.6" fill="url(#gin)"/><circle cx="528.2" cy="80.8" r="5.6" fill="url(#gte)"/><circle cx="601.4" cy="172.4" r="5.6" fill="url(#gte)"/><circle cx="528.2" cy="99.1" r="5.6" fill="url(#gma)"/><circle cx="619.8" cy="172.4" r="5.6" fill="url(#gma)"/><circle cx="528.2" cy="117.4" r="5.6" fill="url(#ggr)"/><circle cx="638.0" cy="172.4" r="5.6" fill="url(#ggr)"/><circle cx="528.2" cy="135.7" r="5.6" fill="url(#gli)"/><circle cx="656.4" cy="172.4" r="5.6" fill="url(#gli)"/><circle cx="528.2" cy="153.9" r="5.6" fill="url(#gye)"/><circle cx="674.6" cy="172.4" r="5.6" fill="url(#gye)"/><rect x="537.40" y="199.90" width="18.30" height="18.30" fill="#401b44" stroke="#fff" stroke-width="0.5"/><text x="546.55" y="211.05" font-size="9.0" font-weight="bold" text-anchor="middle" fill="#fff" textLength="9.6" lengthAdjust="spacingAndGlyphs">83</text><rect x="555.70" y="199.90" width="18.30" height="18.30" fill="#f6ae87" stroke="#fff" stroke-width="0.5"/><text x="564.85" y="211.05" font-size="9.0" font-weight="bold" text-anchor="middle" fill="#262626" textLength="9.6" lengthAdjust="spacingAndGlyphs">16</text><rect x="574.00" y="199.90" width="18.30" height="18.30" fill="#fae9da" stroke="#fff" stroke-width="0.5"/><text x="583.15" y="211.05" font-size="9.0" font-weight="bold" text-anchor="middle" fill="#262626" textLength="9.6" lengthAdjust="spacingAndGlyphs">&lt;1</text><rect x="610.60" y="199.90" width="18.30" height="18.30" fill="#fae9da" stroke="#fff" stroke-width="0.5"/><text x="619.75" y="211.05" font-size="9.0" font-weight="bold" text-anchor="middle" fill="#262626" textLength="9.6" lengthAdjust="spacingAndGlyphs">&lt;1</text><rect x="628.90" y="199.90" width="18.30" height="18.30" fill="#fae9da" stroke="#fff" stroke-width="0.5"/><text x="638.05" y="211.05" font-size="9.0" font-weight="bold" text-anchor="middle" fill="#262626" textLength="9.6" lengthAdjust="spacingAndGlyphs">&lt;1</text><rect x="647.20" y="199.90" width="18.30" height="18.30" fill="#fae9da" stroke="#fff" stroke-width="0.5"/><text x="656.35" y="211.05" font-size="9.0" font-weight="bold" text-anchor="middle" fill="#262626" textLength="9.6" lengthAdjust="spacingAndGlyphs">&lt;1</text><rect x="537.40" y="218.20" width="18.30" height="18.30" fill="#fae9da" stroke="#fff" stroke-width="0.5"/><text x="546.55" y="229.35" font-size="9.0" font-weight="bold" text-anchor="middle" fill="#262626" textLength="9.6" lengthAdjust="spacingAndGlyphs">&lt;1</text><rect x="555.70" y="218.20" width="18.30" height="18.30" fill="#0b0920" stroke="#fff" stroke-width="0.5"/><text x="564.85" y="229.35" font-size="9.0" font-weight="bold" text-anchor="middle" fill="#fff" textLength="9.6" lengthAdjust="spacingAndGlyphs">97</text><rect x="574.00" y="218.20" width="18.30" height="18.30" fill="#f9e3d2" stroke="#fff" stroke-width="0.5"/><text x="583.15" y="229.35" font-size="9.0" font-weight="bold" text-anchor="middle" fill="#262626" textLength="4.6" lengthAdjust="spacingAndGlyphs">2</text><rect x="592.30" y="218.20" width="18.30" height="18.30" fill="#fae9da" stroke="#fff" stroke-width="0.5"/><text x="601.45" y="229.35" font-size="9.0" font-weight="bold" text-anchor="middle" fill="#262626" textLength="9.6" lengthAdjust="spacingAndGlyphs">&lt;1</text><rect x="610.60" y="218.20" width="18.30" height="18.30" fill="#fae9da" stroke="#fff" stroke-width="0.5"/><text x="619.75" y="229.35" font-size="9.0" font-weight="bold" text-anchor="middle" fill="#262626" textLength="9.6" lengthAdjust="spacingAndGlyphs">&lt;1</text><rect x="628.90" y="218.20" width="18.30" height="18.30" fill="#fae9da" stroke="#fff" stroke-width="0.5"/><text x="638.05" y="229.35" font-size="9.0" font-weight="bold" text-anchor="middle" fill="#262626" textLength="9.6" lengthAdjust="spacingAndGlyphs">&lt;1</text><rect x="647.20" y="218.20" width="18.30" height="18.30" fill="#fae9da" stroke="#fff" stroke-width="0.5"/><text x="656.35" y="229.35" font-size="9.0" font-weight="bold" text-anchor="middle" fill="#262626" textLength="9.6" lengthAdjust="spacingAndGlyphs">&lt;1</text><rect x="665.50" y="218.20" width="18.30" height="18.30" fill="#fae9da" stroke="#fff" stroke-width="0.5"/><text x="674.65" y="229.35" font-size="9.0" font-weight="bold" text-anchor="middle" fill="#262626" textLength="9.6" lengthAdjust="spacingAndGlyphs">&lt;1</text><rect x="537.40" y="236.50" width="18.30" height="18.30" fill="#fae9da" stroke="#fff" stroke-width="0.5"/><text x="546.55" y="247.65" font-size="9.0" font-weight="bold" text-anchor="middle" fill="#262626" textLength="9.6" lengthAdjust="spacingAndGlyphs">&lt;1</text><rect x="555.70" y="236.50" width="18.30" height="18.30" fill="#fae8d8" stroke="#fff" stroke-width="0.5"/><text x="564.85" y="247.65" font-size="9.0" font-weight="bold" text-anchor="middle" fill="#262626" textLength="4.6" lengthAdjust="spacingAndGlyphs">1</text><rect x="574.00" y="236.50" width="18.30" height="18.30" fill="#1e122d" stroke="#fff" stroke-width="0.5"/><text x="583.15" y="247.65" font-size="9.0" font-weight="bold" text-anchor="middle" fill="#fff" textLength="9.6" lengthAdjust="spacingAndGlyphs">92</text><rect x="592.30" y="236.50" width="18.30" height="18.30" fill="#fae8d8" stroke="#fff" stroke-width="0.5"/><text x="601.45" y="247.65" font-size="9.0" font-weight="bold" text-anchor="middle" fill="#262626" textLength="4.6" lengthAdjust="spacingAndGlyphs">1</text><rect x="610.60" y="236.50" width="18.30" height="18.30" fill="#fae9da" stroke="#fff" stroke-width="0.5"/><text x="619.75" y="247.65" font-size="9.0" font-weight="bold" text-anchor="middle" fill="#262626" textLength="9.6" lengthAdjust="spacingAndGlyphs">&lt;1</text><rect x="628.90" y="236.50" width="18.30" height="18.30" fill="#fae8d8" stroke="#fff" stroke-width="0.5"/><text x="638.05" y="247.65" font-size="9.0" font-weight="bold" text-anchor="middle" fill="#262626" textLength="4.6" lengthAdjust="spacingAndGlyphs">1</text><rect x="647.20" y="236.50" width="18.30" height="18.30" fill="#f9e0cd" stroke="#fff" stroke-width="0.5"/><text x="656.35" y="247.65" font-size="9.0" font-weight="bold" text-anchor="middle" fill="#262626" textLength="4.6" lengthAdjust="spacingAndGlyphs">3</text><rect x="665.50" y="236.50" width="18.30" height="18.30" fill="#fae9da" stroke="#fff" stroke-width="0.5"/><text x="674.65" y="247.65" font-size="9.0" font-weight="bold" text-anchor="middle" fill="#262626" textLength="9.6" lengthAdjust="spacingAndGlyphs">&lt;1</text><rect x="555.70" y="254.80" width="18.30" height="18.30" fill="#fae9da" stroke="#fff" stroke-width="0.5"/><text x="564.85" y="265.95" font-size="9.0" font-weight="bold" text-anchor="middle" fill="#262626" textLength="9.6" lengthAdjust="spacingAndGlyphs">&lt;1</text><rect x="574.00" y="254.80" width="18.30" height="18.30" fill="#f6b18b" stroke="#fff" stroke-width="0.5"/><text x="583.15" y="265.95" font-size="9.0" font-weight="bold" text-anchor="middle" fill="#262626" textLength="9.6" lengthAdjust="spacingAndGlyphs">15</text><rect x="592.30" y="254.80" width="18.30" height="18.30" fill="#a11a5b" stroke="#fff" stroke-width="0.5"/><text x="601.45" y="265.95" font-size="9.0" font-weight="bold" text-anchor="middle" fill="#fff" textLength="9.6" lengthAdjust="spacingAndGlyphs">60</text><rect x="610.60" y="254.80" width="18.30" height="18.30" fill="#f6b18b" stroke="#fff" stroke-width="0.5"/><text x="619.75" y="265.95" font-size="9.0" font-weight="bold" text-anchor="middle" fill="#262626" textLength="9.6" lengthAdjust="spacingAndGlyphs">15</text><rect x="628.90" y="254.80" width="18.30" height="18.30" fill="#f9e3d2" stroke="#fff" stroke-width="0.5"/><text x="638.05" y="265.95" font-size="9.0" font-weight="bold" text-anchor="middle" fill="#262626" textLength="4.6" lengthAdjust="spacingAndGlyphs">2</text><rect x="647.20" y="254.80" width="18.30" height="18.30" fill="#f8d1b8" stroke="#fff" stroke-width="0.5"/><text x="656.35" y="265.95" font-size="9.0" font-weight="bold" text-anchor="middle" fill="#262626" textLength="4.6" lengthAdjust="spacingAndGlyphs">7</text><rect x="665.50" y="254.80" width="18.30" height="18.30" fill="#fae9da" stroke="#fff" stroke-width="0.5"/><text x="674.65" y="265.95" font-size="9.0" font-weight="bold" text-anchor="middle" fill="#262626" textLength="9.6" lengthAdjust="spacingAndGlyphs">&lt;1</text><rect x="555.70" y="273.10" width="18.30" height="18.30" fill="#fae9da" stroke="#fff" stroke-width="0.5"/><text x="564.85" y="284.25" font-size="9.0" font-weight="bold" text-anchor="middle" fill="#262626" textLength="9.6" lengthAdjust="spacingAndGlyphs">&lt;1</text><rect x="574.00" y="273.10" width="18.30" height="18.30" fill="#f7c9aa" stroke="#fff" stroke-width="0.5"/><text x="583.15" y="284.25" font-size="9.0" font-weight="bold" text-anchor="middle" fill="#262626" textLength="4.6" lengthAdjust="spacingAndGlyphs">9</text><rect x="592.30" y="273.10" width="18.30" height="18.30" fill="#f69c73" stroke="#fff" stroke-width="0.5"/><text x="601.45" y="284.25" font-size="9.0" font-weight="bold" text-anchor="middle" fill="#262626" textLength="9.6" lengthAdjust="spacingAndGlyphs">20</text><rect x="610.60" y="273.10" width="18.30" height="18.30" fill="#f05c42" stroke="#fff" stroke-width="0.5"/><text x="619.75" y="284.25" font-size="9.0" font-weight="bold" text-anchor="middle" fill="#fff" textLength="9.6" lengthAdjust="spacingAndGlyphs">34</text><rect x="628.90" y="273.10" width="18.30" height="18.30" fill="#f6c19f" stroke="#fff" stroke-width="0.5"/><text x="638.05" y="284.25" font-size="9.0" font-weight="bold" text-anchor="middle" fill="#262626" textLength="9.6" lengthAdjust="spacingAndGlyphs">11</text><rect x="647.20" y="273.10" width="18.30" height="18.30" fill="#f59067" stroke="#fff" stroke-width="0.5"/><text x="656.35" y="284.25" font-size="9.0" font-weight="bold" text-anchor="middle" fill="#fff" textLength="9.6" lengthAdjust="spacingAndGlyphs">23</text><rect x="665.50" y="273.10" width="18.30" height="18.30" fill="#f9e0cd" stroke="#fff" stroke-width="0.5"/><text x="674.65" y="284.25" font-size="9.0" font-weight="bold" text-anchor="middle" fill="#262626" textLength="4.6" lengthAdjust="spacingAndGlyphs">3</text><rect x="537.40" y="291.40" width="18.30" height="18.30" fill="#fae9da" stroke="#fff" stroke-width="0.5"/><text x="546.55" y="302.55" font-size="9.0" font-weight="bold" text-anchor="middle" fill="#262626" textLength="9.6" lengthAdjust="spacingAndGlyphs">&lt;1</text><rect x="555.70" y="291.40" width="18.30" height="18.30" fill="#fae9da" stroke="#fff" stroke-width="0.5"/><text x="564.85" y="302.55" font-size="9.0" font-weight="bold" text-anchor="middle" fill="#262626" textLength="9.6" lengthAdjust="spacingAndGlyphs">&lt;1</text><rect x="574.00" y="291.40" width="18.30" height="18.30" fill="#f9e3d2" stroke="#fff" stroke-width="0.5"/><text x="583.15" y="302.55" font-size="9.0" font-weight="bold" text-anchor="middle" fill="#262626" textLength="4.6" lengthAdjust="spacingAndGlyphs">2</text><rect x="592.30" y="291.40" width="18.30" height="18.30" fill="#fae9da" stroke="#fff" stroke-width="0.5"/><text x="601.45" y="302.55" font-size="9.0" font-weight="bold" text-anchor="middle" fill="#262626" textLength="9.6" lengthAdjust="spacingAndGlyphs">&lt;1</text><rect x="610.60" y="291.40" width="18.30" height="18.30" fill="#fae8d8" stroke="#fff" stroke-width="0.5"/><text x="619.75" y="302.55" font-size="9.0" font-weight="bold" text-anchor="middle" fill="#262626" textLength="4.6" lengthAdjust="spacingAndGlyphs">1</text><rect x="628.90" y="291.40" width="18.30" height="18.30" fill="#b21758" stroke="#fff" stroke-width="0.5"/><text x="638.05" y="302.55" font-size="9.0" font-weight="bold" text-anchor="middle" fill="#fff" textLength="9.6" lengthAdjust="spacingAndGlyphs">56</text><rect x="647.20" y="291.40" width="18.30" height="18.30" fill="#ea443e" stroke="#fff" stroke-width="0.5"/><text x="656.35" y="302.55" font-size="9.0" font-weight="bold" text-anchor="middle" fill="#fff" textLength="9.6" lengthAdjust="spacingAndGlyphs">39</text><rect x="665.50" y="291.40" width="18.30" height="18.30" fill="#f9e3d2" stroke="#fff" stroke-width="0.5"/><text x="674.65" y="302.55" font-size="9.0" font-weight="bold" text-anchor="middle" fill="#262626" textLength="4.6" lengthAdjust="spacingAndGlyphs">2</text><rect x="555.70" y="309.70" width="18.30" height="18.30" fill="#fae9da" stroke="#fff" stroke-width="0.5"/><text x="564.85" y="320.85" font-size="9.0" font-weight="bold" text-anchor="middle" fill="#262626" textLength="9.6" lengthAdjust="spacingAndGlyphs">&lt;1</text><rect x="574.00" y="309.70" width="18.30" height="18.30" fill="#f9e3d2" stroke="#fff" stroke-width="0.5"/><text x="583.15" y="320.85" font-size="9.0" font-weight="bold" text-anchor="middle" fill="#262626" textLength="4.6" lengthAdjust="spacingAndGlyphs">2</text><rect x="592.30" y="309.70" width="18.30" height="18.30" fill="#fae9da" stroke="#fff" stroke-width="0.5"/><text x="601.45" y="320.85" font-size="9.0" font-weight="bold" text-anchor="middle" fill="#262626" textLength="9.6" lengthAdjust="spacingAndGlyphs">&lt;1</text><rect x="610.60" y="309.70" width="18.30" height="18.30" fill="#fae8d8" stroke="#fff" stroke-width="0.5"/><text x="619.75" y="320.85" font-size="9.0" font-weight="bold" text-anchor="middle" fill="#262626" textLength="4.6" lengthAdjust="spacingAndGlyphs">1</text><rect x="628.90" y="309.70" width="18.30" height="18.30" fill="#f58b63" stroke="#fff" stroke-width="0.5"/><text x="638.05" y="320.85" font-size="9.0" font-weight="bold" text-anchor="middle" fill="#fff" textLength="9.6" lengthAdjust="spacingAndGlyphs">24</text><rect x="647.20" y="309.70" width="18.30" height="18.30" fill="#7d1f5a" stroke="#fff" stroke-width="0.5"/><text x="656.35" y="320.85" font-size="9.0" font-weight="bold" text-anchor="middle" fill="#fff" textLength="9.6" lengthAdjust="spacingAndGlyphs">68</text><rect x="665.50" y="309.70" width="18.30" height="18.30" fill="#f9e0cd" stroke="#fff" stroke-width="0.5"/><text x="674.65" y="320.85" font-size="9.0" font-weight="bold" text-anchor="middle" fill="#262626" textLength="4.6" lengthAdjust="spacingAndGlyphs">3</text><rect x="555.70" y="328.00" width="18.30" height="18.30" fill="#fae9da" stroke="#fff" stroke-width="0.5"/><text x="564.85" y="339.15" font-size="9.0" font-weight="bold" text-anchor="middle" fill="#262626" textLength="9.6" lengthAdjust="spacingAndGlyphs">&lt;1</text><rect x="574.00" y="328.00" width="18.30" height="18.30" fill="#f9e3d2" stroke="#fff" stroke-width="0.5"/><text x="583.15" y="339.15" font-size="9.0" font-weight="bold" text-anchor="middle" fill="#262626" textLength="4.6" lengthAdjust="spacingAndGlyphs">2</text><rect x="592.30" y="328.00" width="18.30" height="18.30" fill="#fae9da" stroke="#fff" stroke-width="0.5"/><text x="601.45" y="339.15" font-size="9.0" font-weight="bold" text-anchor="middle" fill="#262626" textLength="9.6" lengthAdjust="spacingAndGlyphs">&lt;1</text><rect x="610.60" y="328.00" width="18.30" height="18.30" fill="#f9e3d2" stroke="#fff" stroke-width="0.5"/><text x="619.75" y="339.15" font-size="9.0" font-weight="bold" text-anchor="middle" fill="#262626" textLength="4.6" lengthAdjust="spacingAndGlyphs">2</text><rect x="628.90" y="328.00" width="18.30" height="18.30" fill="#f6be9b" stroke="#fff" stroke-width="0.5"/><text x="638.05" y="339.15" font-size="9.0" font-weight="bold" text-anchor="middle" fill="#262626" textLength="9.6" lengthAdjust="spacingAndGlyphs">12</text><rect x="647.20" y="328.00" width="18.30" height="18.30" fill="#f05c42" stroke="#fff" stroke-width="0.5"/><text x="656.35" y="339.15" font-size="9.0" font-weight="bold" text-anchor="middle" fill="#fff" textLength="9.6" lengthAdjust="spacingAndGlyphs">34</text><rect x="665.50" y="328.00" width="18.30" height="18.30" fill="#ce1d4e" stroke="#fff" stroke-width="0.5"/><text x="674.65" y="339.15" font-size="9.0" font-weight="bold" text-anchor="middle" fill="#fff" textLength="9.6" lengthAdjust="spacingAndGlyphs">49</text><circle cx="528.2" cy="209.1" r="5.6" fill="url(#gbl)"/><circle cx="546.5" cy="355.6" r="5.6" fill="url(#gbl)"/><circle cx="528.2" cy="227.4" r="5.6" fill="url(#gdp)"/><circle cx="564.8" cy="355.6" r="5.6" fill="url(#gdp)"/><circle cx="528.2" cy="245.7" r="5.6" fill="url(#gin)"/><circle cx="583.1" cy="355.6" r="5.6" fill="url(#gin)"/><circle cx="528.2" cy="263.9" r="5.6" fill="url(#gte)"/><circle cx="601.4" cy="355.6" r="5.6" fill="url(#gte)"/><circle cx="528.2" cy="282.2" r="5.6" fill="url(#gma)"/><circle cx="619.8" cy="355.6" r="5.6" fill="url(#gma)"/><circle cx="528.2" cy="300.5" r="5.6" fill="url(#ggr)"/><circle cx="638.0" cy="355.6" r="5.6" fill="url(#ggr)"/><circle cx="528.2" cy="318.9" r="5.6" fill="url(#gli)"/><circle cx="656.4" cy="355.6" r="5.6" fill="url(#gli)"/><circle cx="528.2" cy="337.1" r="5.6" fill="url(#gye)"/><circle cx="674.6" cy="355.6" r="5.6" fill="url(#gye)"/><text x="0.6" y="11.9" font-size="11.6" font-weight="bold" text-anchor="start" fill="#000" >a</text><text x="168.9" y="9.4" font-size="11.6" font-weight="bold" text-anchor="start" fill="#000" >b</text><text x="311.4" y="9.4" font-size="11.6" font-weight="bold" text-anchor="start" fill="#000" >c</text><text x="513.2" y="12.1" font-size="11.6" font-weight="bold" text-anchor="start" fill="#000" >d</text><text x="0.6" y="195.3" font-size="11.6" font-weight="bold" text-anchor="start" fill="#000" >e</text><text x="171.4" y="192.8" font-size="11.6" font-weight="bold" text-anchor="start" fill="#000" >f</text><text x="310.8" y="191.6" font-size="11.6" font-weight="bold" text-anchor="start" fill="#000" >g</text><text x="513.6" y="195.2" font-size="11.6" font-weight="bold" text-anchor="start" fill="#000" >h</text></svg></body></html>
